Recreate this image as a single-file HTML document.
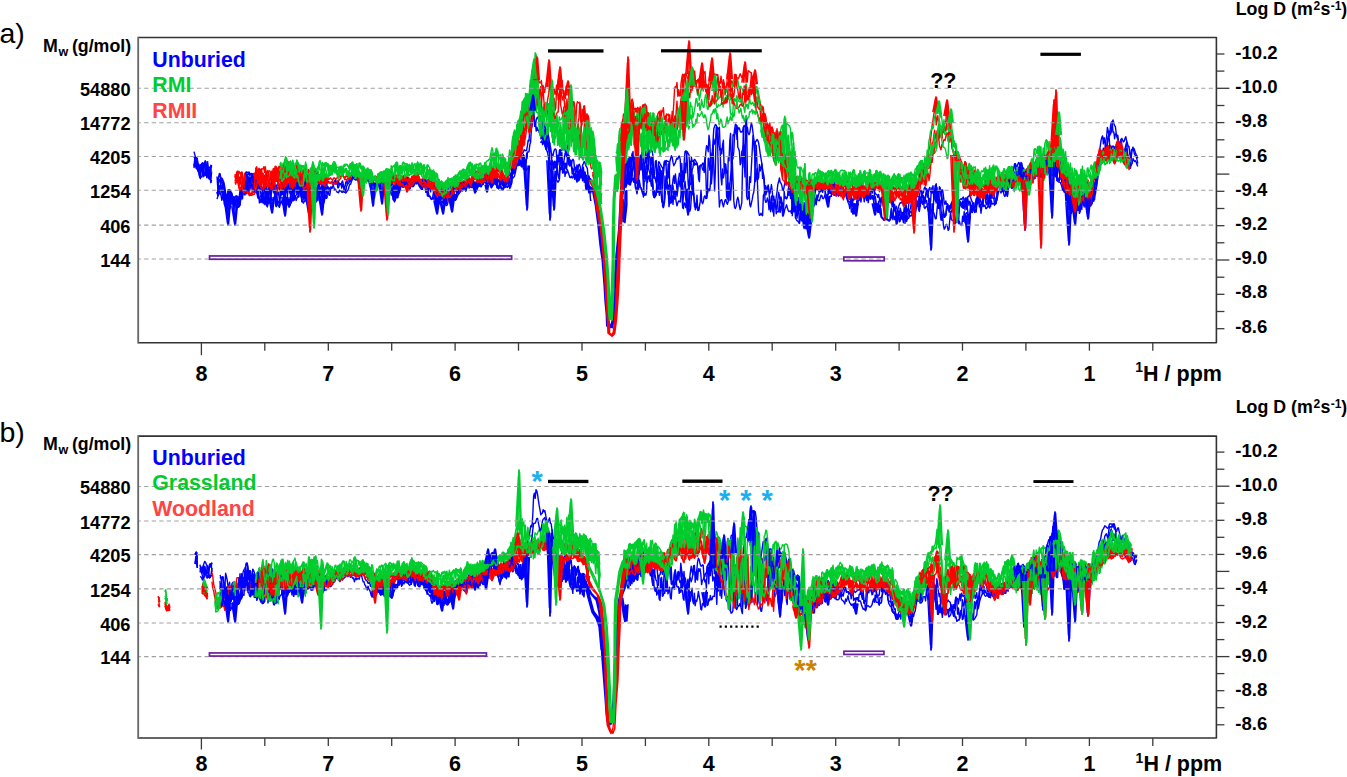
<!DOCTYPE html><html><head><meta charset="utf-8"><style>html,body{margin:0;padding:0;background:#fff;overflow:hidden}svg{display:block}</style></head><body>
<svg width="1347" height="777" viewBox="0 0 1347 777">
<rect width="1347" height="777" fill="#fff"/>
<path d="M194 151.6l0.8 3.1 0.8 3.2 0.8 7.1 0.8-6.6 0.8 7.1 0.8 0.8 0.8-0.1 0.8-1.6 0.8 3.4 0.8-4.6 0.8-0.7 0.8 1.5 0.8-0.5 0.8-3.1 0.8 9 0.8-0.5 0.8-7.4 0.8 6.7 0.8-1.3 0.8 1.1 0.8 1.9 0.8-5.1M217 176.5l0.8 11.6 0.8-10.3 0.8-4.3 0.8 0.5 0.8 9.4 0.8-5.1 0.8 1 0.8 2.2 0.8 2.7 0.8 4.1 0.8 5.9 0.8 0 0.8 7.3 0.8-7.8 0.8-4.1 0.8 4.1 0.8-3.1 0.8 4.1 0.8 2.3 0.8 4.4 0.8-5 0.8 7.9 0.8-7.8 0.8-0.8 0.8 0.6 0.8 0.6 0.8 4.8 0.8-6.3 0.8-6.6 0.8 4.5 0.8-5.8 0.8 3.3 0.8-11.8 0.8 7.2 0.8-2.1 0.8-11.6 0.8-0.6 0.8 0.6 0.8 0 0.8-0.3 0.8 3.5 0.8-1.8 0.8 0.2 0.8 0.8 0.8-1.4 0.8 0.6 0.8 10.8 0.8-6.9 0.8-0.3 0.8 0.6 0.8 5.9 0.8-1.8 0.8 1.7 0.8 7 0.8 3.5 0.8 1.2 0.8-3.1 0.8-3.6 0.8-2.5 0.8 5 0.8 0.4 0.8-2.7 0.8 10.7 0.8-12.4 0.8 4.8 0.8-4.1 0.8 1.7 0.8-2.6 0.8-8.5 0.8 4.5 0.8-6.2 0.8 4.4 0.8 10.6 0.8-5.8 0.8-1.7 0.8-0.5 0.8 3.3 0.8 0.6 0.8-2.9 0.8-2.8 0.8 7.5 0.8-5.5 0.8 2.1 0.8-5.4 0.8-0.7 0.8 12.2 0.8-13 0.8 14.7 0.8-10 0.8 1.3 0.8 4.2 0.8-3 0.8-1.6 0.8-0.9 0.8 5.5 0.8-11.5 0.8-0.9 0.8 2.4 0.8-2.9 0.8-0.4 0.8-2.1 0.8 5.9 0.8-8.4 0.8 0.8 0.8 8.5 0.8-2 0.8 5.7 0.8-1.6 0.8-4.5 0.8-0.2 0.8 9 0.8-3.2 0.8 5.5 0.8 8.3 0.8-7.1 0.8-3.7 0.8 3.9 0.8-7.9 0.8 1 0.8-1.4 0.8 6.3 0.8 8.7 0.8-3.7 0.8-6.4 0.8 11.5 0.8-13.3 0.8-4 0.8 4.9 0.8-5.2 0.8-0.3 0.8 4.9 0.8-0.2 0.8 7.3 0.8-12.5 0.8 8.2 0.8-3.6 0.8-4.6 0.8 0.1 0.8 0.2 0.8 1 0.8 0.5 0.8 0.3 0.8-1.2 0.8 0.1 0.8-0.1 0.8 2.8 0.8-2.6 0.8-1.9 0.8 3.8 0.8-2.2 0.8 3.2 0.8-3.5 0.8 3 0.8-0.7 0.8 0.4 0.8-1.8 0.8-1.5 0.8 4 0.8 4 0.8-2.3 0.8-4.5 0.8-1 0.8 3.5 0.8-4.3 0.8-1.5 0.8-0.1 0.8 2.3 0.8-1.9 0.8-1 0.8-0.8 0.8-0.5 0.8 1 0.8-0.4 0.8 0.6 0.8-0.6 0.8-0.7 0.8 2 0.8-1.4 0.8-1.5 0.8 1 0.8-0.3 0.8 0.5 0.8 1.3 0.8-1.6 0.8-2 0.8 1.5 0.8 1.2 0.8-0.9 0.8 2.2 0.8 1.5 0.8 1.5 0.8 2 0.8-3 0.8-0.2 0.8 1.7 0.8-2.5 0.8-0.9 0.8 1.8 0.8 0.3 0.8-0.5 0.8-0.1 0.8 0.8 0.8 1.9 0.8-2 0.8-1.5 0.8 0.6 0.8-1.2 0.8-0.2 0.8 3.7 0.8-2.2 0.8 0.9 0.8-0.6 0.8 0.7 0.8-0.5 0.8 1.7 0.8-1.7 0.8 0 0.8 4.6 0.8-3.2 0.8 2 0.8 7.6 0.8-7 0.8-0.4 0.8 9.2 0.8-14.7 0.8 1.2 0.8 12 0.8-10.7 0.8-0.3 0.8 3 0.8-5.9 0.8 5.1 0.8-2.2 0.8-0.4 0.8-2.3 0.8 0 0.8 0.1 0.8 0.3 0.8-0.6 0.8 2.3 0.8 1.1 0.8-0.2 0.8-0.3 0.8-1.2 0.8-0.7 0.8 0.4 0.8-0.2 0.8-1.2 0.8-0.5 0.8 0 0.8 2.7 0.8-1.7 0.8 1.8 0.8 2.9 0.8 2.1 0.8-2.2 0.8-3.1 0.8-1.8 0.8-0.1 0.8 0.8 0.8 4.1 0.8 2.5 0.8-2.9 0.8 5.9 0.8-2.2 0.8 0.4 0.8-2.9 0.8 0.4 0.8-0.6 0.8 2.5 0.8-1.9 0.8 5.6 0.8 1.6 0.8 1.9 0.8-4.7 0.8 6.8 0.8-8.9 0.8 5 0.8-3.4 0.8 6.6 0.8-3.3 0.8-5.8 0.8 6.2 0.8 2.5 0.8-4.3 0.8 3.4 0.8-2.2 0.8 2.6 0.8 1.5 0.8-4 0.8-5.8 0.8 5.9 0.8 2 0.8-7.7 0.8-0.6 0.8 2.5 0.8-1.9 0.8 0.6 0.8 3.2 0.8 1.7 0.8-6 0.8-0.3 0.8 0.6 0.8-1.3 0.8-1.1 0.8-1.3 0.8 2.3 0.8-2.5 0.8 0.1 0.8-0.8 0.8 0.4 0.8 1 0.8-4.7 0.8 5.8 0.8-1.7 0.8 2.5 0.8-2.4 0.8-1.4 0.8-0.3 0.8 2.5 0.8-1.5 0.8 1.8 0.8 0.5 0.8-2 0.8 1.3 0.8-4.7 0.8 4 0.8-6.4 0.8 6.1 0.8-2.1 0.8-3.8 0.8 1.1 0.8-2.8 0.8-1.3 0.8 4.1 0.8 1.7 0.8-3.7 0.8 9 0.8-11.3 0.8 0.4 0.8 3.7 0.8 1.6 0.8-0.1 0.8-1.7 0.8-0.6 0.8 4.3 0.8 0.1 0.8-4.5 0.8-0.4 0.8 4.2 0.8-0.3 0.8 0.9 0.8 1.4 0.8-3.8 0.8 3.2 0.8 0.8 0.8-2.7 0.8-1.3 0.8 0.1 0.8-1.1 0.8 4.3 0.8-2.8 0.8-2.9 0.8 1.9 0.8-1.8 0.8-0.3 0.8-0.9 0.8-2.1 0.8 4 0.8-14.7 0.8-0.6 0.8 8.5 0.8-12.1 0.8 3.1 0.8-7.6 0.8 0.1 0.8-1.9 0.8 4.7 0.8-4.1 0.8 0.4 0.8 0.9 0.8 0.5 0.8-1.8 0.8-1.9 0.8 0.8 0.8-0.1 0.8-0.1 0.8-4.5 0.8-5.8 0.8 1 0.8-11.9 0.8-3.4 0.8-10 0.8 2.1 0.8-1.4 0.8-4.2 0.8 9.9 0.8 3.7 0.8-5.8 0.8-2.3 0.8-0.8 0.8 2.7 0.8 6 0.8-2.2 0.8-7.9 0.8 3.7 0.8 6.1 0.8 8 0.8-1.6 0.8 13.5 0.8 0.2 0.8 3.7 0.8-7.6 0.8 3.7 0.8 6.7 0.8-9.4 0.8 7.7 0.8 2.3 0.8 4.4 0.8-1.5 0.8-3.8 0.8-2.4 0.8-0.3 0.8 1.2 0.8 10.4 0.8 4.1 0.8-8.1 0.8 5.2 0.8-12.2 0.8 1.1 0.8-0.5 0.8-0.5 0.8-1.5 0.8-1.9 0.8 3.4 0.8 4.5 0.8-2 0.8-0.4 0.8 13.1 0.8-9.5 0.8 10.5 0.8-1.6 0.8 1.1 0.8 2.6 0.8 2.8 0.8 0.8 0.8-3.9 0.8 0.2 0.8 2.8 0.8 2 0.8-3.3 0.8-4.4 0.8-0.8 0.8 2.5 0.8 4.9 0.8 1.5 0.8-8 0.8-1.5 0.8-2.1 0.8 1.3 0.8 2.8 0.8 1.2 0.8 1.9 0.8 9.7 0.8-2.4 0.8 3.5 0.8-0.7 0.8 3.2M621 172.6l0.8-13.1 0.8 1.5 0.8-1.3 0.8 3.8 0.8-1 0.8 2.1 0.8-2.9 0.8 10.5 0.8 3.3 0.8-17.4 0.8-0.4 0.8-0.3 0.8 9.4 0.8-9.6 0.8-5.7 0.8 17.5 0.8 3.8 0.8-10.3 0.8-0.4 0.8 5 0.8 0.8 0.8 5.6 0.8-1.3 0.8-14.2 0.8 12 0.8-17.4 0.8 18.9 0.8 15.4 0.8-21.1 0.8-3.6 0.8-11 0.8 18.2 0.8-13 0.8-11.6 0.8 10.6 0.8 2.4 0.8 14.3 0.8-15 0.8 0.1 0.8 18.7 0.8 0.7 0.8-2.4 0.8-12.9 0.8-0.8 0.8 18 0.8-5.2 0.8-11.5 0.8 0.4 0.8 1.9 0.8 1.3 0.8 1.5 0.8 0.8 0.8 6.3 0.8-12.4 0.8-0.6 0.8 0 0.8 14.7 0.8 3.2 0.8-14.9 0.8 13.9 0.8-16.1 0.8-3 0.8-3 0.8 1.4 0.8 5.2 0.8 3.3 0.8-1.5 0.8-1.6 0.8-2.8 0.8-1.7 0.8 1.1 0.8-2.7 0.8-0.4 0.8 3.3 0.8 17.2 0.8 14.1 0.8-19.7 0.8 10.6 0.8-20.5 0.8-9.6 0.8-0.6 0.8 3.4 0.8-2.5 0.8 1.9 0.8 1.1 0.8 15.7 0.8 5.4 0.8-18.5 0.8 4 0.8 0.1 0.8-1.1 0.8-1 0.8 0.8 0.8 1.7 0.8 1.5 0.8 3 0.8 7.4 0.8-6.5 0.8-1.9 0.8-0.2 0.8 0.3 0.8-2.3 0.8-0.1 0.8 9.4 0.8-7.9 0.8-12.4 0.8-6.5 0.8 1.2 0.8 4.8 0.8-16.4 0.8 5.9 0.8 20.3 0.8 22.4 0.8-9.9 0.8-32.5 0.8-12.7 0.8-2.2 0.8-2.2 0.8 0.9 0.8 1.9 0.8 0.9 0.8 16.1 0.8 3.3 0.8 4.2 0.8 25.5 0.8 7.7 0.8-15.9 0.8 8.9 0.8-4.5 0.8-1.4 0.8-7.8 0.8 9.1 0.8-2.3 0.8 25.3 0.8 4.5 0.8-14.6 0.8-10.4 0.8-6.5 0.8-9.8 0.8-0.8 0.8-7.3 0.8-16.1 0.8-2.7 0.8-7.4 0.8 14.2 0.8-12.3 0.8 1.8 0.8-0.9 0.8 3.3 0.8 1 0.8-0.8 0.8 0.2 0.8-4.6 0.8-1.7 0.8 1.4 0.8 11.3 0.8-6.7 0.8-4.1 0.8 5.9 0.8 1.5 0.8-1.9 0.8-5.6 0.8-4.5 0.8 3.7 0.8 6.3 0.8 6.7 0.8 13 0.8-11 0.8-0.3 0.8-1.6 0.8 1 0.8 2.3 0.8 4.8 0.8 6.1 0.8 4.6 0.8 5.2 0.8 5.5 0.8 4.9 0.8 4.9 0.8 14.2 0.8-7.2 0.8 6.8 0.8-5.1 0.8-2.6 0.8 5.3 0.8 3.6 0.8-3.2 0.8-6.1 0.8 5.7 0.8 10 0.8-3.9 0.8 8.6 0.8 1.4 0.8-9.3 0.8-5 0.8-7.6 0.8-2.6 0.8-3.9 0.8 4.5 0.8 0.8 0.8 2 0.8 5 0.8 0.5 0.8-4.3 0.8-4.5 0.8-1.3 0.8 3.1 0.8-0.3 0.8-0.6 0.8 9.4 0.8-1.2 0.8 7.6 0.8-9.7 0.8 16 0.8-15.6 0.8 13.6 0.8-13.4 0.8 2.5 0.8 3.6 0.8 4 0.8-1.2 0.8 7.2 0.8 1.6 0.8 3.3 0.8-5.7 0.8 0.1 0.8-2.9 0.8 6.7 0.8 1 0.8-7.5 0.8 4.7 0.8-3.6 0.8 2.6 0.8 0.4 0.8 3.9 0.8 2.2 0.8-10.5 0.8 2.4 0.8-4.5 0.8-4.3 0.8-1.9 0.8-2.3 0.8-2.7 0.8-1.6 0.8 2.1 0.8 0.7 0.8-0.6 0.8-0.2 0.8 0.9 0.8-2.1 0.8-1.2 0.8-3.2 0.8-1.2 0.8 0.1 0.8 1.6 0.8 1.3 0.8-1.7 0.8 1.3 0.8 1.9 0.8 0.4 0.8 0.8 0.8-5 0.8 6.4 0.8-6 0.8 3.1 0.8-0.1 0.8-4.1 0.8 4.1 0.8 0.8 0.8 1.2 0.8-0.1 0.8-0.1 0.8-0.2 0.8-1.1 0.8 5.2 0.8-4.2 0.8 4.2 0.8 0.8 0.8 2.1 0.8-3.3 0.8-1 0.8-0.4 0.8 4.1 0.8 3.1 0.8-2.6 0.8-1.7 0.8-1.5 0.8 7 0.8 9.3 0.8 6 0.8-0.3 0.8-3.8 0.8 4.5 0.8-2.2 0.8-8.7 0.8-4.3 0.8 1.8 0.8-0.8 0.8-4.7 0.8 3.1 0.8-3.5 0.8-4.2 0.8 4.7 0.8-1.4 0.8-6.4 0.8 5.3 0.8-6.1 0.8-2.5 0.8-0.8 0.8-0.3 0.8-0.7 0.8 2.4 0.8 5.4 0.8 2.8 0.8-6.8 0.8 1.6 0.8 3.8 0.8 1.8 0.8 0.8 0.8 0.2 0.8 2.7 0.8-2.9 0.8 4.6 0.8 3.7 0.8-4.9 0.8-0.5 0.8 1.7 0.8 7.7 0.8-2.3 0.8 3.2 0.8-3.7 0.8-4.5 0.8 2.8 0.8-1.6 0.8-7.8 0.8 2 0.8 6.2 0.8 2.8 0.8-0.9 0.8-1.4 0.8 2.8 0.8 0.4 0.8 5.6 0.8 1.8 0.8 6.4 0.8-8.7 0.8-3.2 0.8-2.4 0.8-1.4 0.8 0.4 0.8-1.2 0.8-0.1 0.8 4.1 0.8-7.4 0.8-0.7 0.8 4.3 0.8 8.3 0.8 0.9 0.8-2.1 0.8-7.6 0.8-3 0.8 0.1 0.8-1.8 0.8-0.2 0.8 1.5 0.8 0.9 0.8 0.5 0.8-0.4 0.8 1 0.8 6.1 0.8-1.3 0.8 4.6 0.8 1.7 0.8-7.5 0.8-1.1 0.8-11.9 0.8 2.4 0.8-0.5 0.8-4.5 0.8-1.4 0.8 3.1 0.8-1.3 0.8 2.1 0.8 2.4 0.8-4.2 0.8-1.6 0.8 4 0.8 1.6 0.8-0.6 0.8-6.6 0.8 14.1 0.8-7.4 0.8-6.9 0.8-1.9 0.8 9.3 0.8 1.7 0.8 3.3 0.8-11.4 0.8 1.3 0.8 8.7 0.8-6.7 0.8 0 0.8 5.8 0.8 6.9 0.8 1.8 0.8-3.5 0.8 3.4 0.8-0.6 0.8 1.6 0.8 0.6 0.8 3 0.8-3.3 0.8-2.3 0.8-2 0.8-1.4 0.8-1.9 0.8 3.5 0.8 2 0.8 3.5 0.8-1.9 0.8-7.5 0.8 7 0.8-4.2 0.8-1.1 0.8-0.6 0.8 0.9 0.8-1.7 0.8-0.8 0.8 4.1 0.8 8.8 0.8-11.5 0.8 8.6 0.8-9.9 0.8 3.7 0.8 4.6 0.8-4.2 0.8 2.6 0.8 3.8 0.8 3.6 0.8-3.1 0.8 1.8 0.8-1 0.8 2.7 0.8-3.2 0.8-8.1 0.8-4.8 0.8 4.6 0.8 2.8 0.8-3.5 0.8 1.7 0.8 2.8 0.8 0.4 0.8-14.9 0.8 7.1 0.8-3.8 0.8 5.1 0.8 2 0.8-9.2 0.8 7.1 0.8 4 0.8-4.1 0.8-0.5 0.8-4.7 0.8-5.4 0.8 0.5 0.8 0.2 0.8 0.1 0.8 0.2 0.8-1.4 0.8-4.1 0.8-1.7 0.8-2 0.8 0.3 0.8 3 0.8-1 0.8 2.1 0.8-3.7 0.8 1.5 0.8 5.2 0.8 1.2 0.8-2.7 0.8 3.5 0.8-0.6 0.8-5.8 0.8-4.4 0.8 1.5 0.8 2.1 0.8 0 0.8 0 0.8-7.1 0.8-6 0.8-1.3 0.8-2.9 0.8 2.7 0.8 0.3 0.8-2.5 0.8-1.7 0.8 0.5 0.8 10.6 0.8-2.1 0.8 0.6 0.8 0.5 0.8-4.8 0.8 1.8 0.8 10.4 0.8-2 0.8-8.7 0.8 1.7 0.8-1.5 0.8-0.3 0.8-3.5 0.8 0.6 0.8 3.2 0.8 2.7 0.8 2.2 0.8-6.8 0.8-2.8 0.8 4.4 0.8-5.7 0.8 3.5 0.8-3.7 0.8-1.7 0.8 4.7 0.8-6.5 0.8 0.3 0.8 1.4 0.8 6.7 0.8-11.1 0.8-2.9 0.8 7.4 0.8-0.5 0.8-6.8 0.8 0.6 0.8 6.2 0.8-9.5 0.8-0.4 0.8 2.4 0.8 0.1 0.8 8.7 0.8-1 0.8-18.1 0.8 13.6 0.8-8.3 0.8 12.4 0.8 8 0.8-12.3 0.8 2 0.8-4.3 0.8 1.6 0.8 9.2 0.8 0.2 0.8 3 0.8 1.5 0.8 4.6 0.8-3.7 0.8 1.9 0.8 4.1 0.8 2.7 0.8 1.1 0.8 0.5 0.8 1.5 0.8 8 0.8-6 0.8-2.2 0.8 17.6 0.8-17.1 0.8 1.5 0.8-0.8 0.8 1.8 0.8 7.7 0.8-13.4 0.8 2.1 0.8 2.1 0.8 16.4 0.8-12.1 0.8 8.9 0.8-7.4 0.8 6.8 0.8 8.4 0.8-17.8 0.8 4.1 0.8 5.3 0.8 10.8 0.8-1 0.8-4.6 0.8-12.7 0.8-1.4 0.8 6.7 0.8-6.4 0.8-2 0.8 9.5 0.8-12.7 0.8 1.6 0.8-12.6 0.8 1.8 0.8-11.2 0.8-2.6 0.8-7.2 0.8-6.1 0.8-5.7 0.8-3.5 0.8-1.4 0.8 8 0.8-6.1 0.8 4.9 0.8 5 0.8 0.4 0.8-7.5 0.8-4.2 0.8-0.2 0.8-0.8 0.8-10.1 0.8-3.2 0.8-0.3 0.8-1.8 0.8 3.2 0.8 2.6 0.8 0.7 0.8 7.2 0.8 1.8 0.8 5.2 0.8 1.9 0.8 0.8 0.8-1.3 0.8-2.7 0.8-1 0.8 1.6 0.8 1.9 0.8-0.6 0.8-2.9 0.8-1.7 0.8 4.1 0.8 2.2 0.8 3.7 0.8-0.3 0.8 8.2 0.8 2.7 0.8-7.6 0.8 0.2 0.8-0.7 0.8-1 0.8 1.9 0.8 2.7 0.8 1.8 0.8 1.3 0.8 2.3" fill="none" stroke="#0000ff" stroke-width="1.4" stroke-linejoin="round"/>
<path d="M235 174.1l0.8 5.9 0.8-7.7 0.8-1.3 0.8 5.5 0.8-5.2 0.8 1.4 0.8 1.5 0.8-1.9 0.8-0.2 0.8 11.1 0.8 1.2 0.8-10.4 0.8-1.3 0.8 6.9 0.8-4.2 0.8 2.5 0.8 9.4 0.8 0.2 0.8-6.4 0.8 3.9 0.8-6.8 0.8 2.3 0.8-4.7 0.8-2.6 0.8 9.8 0.8-13.9 0.8-1.9 0.8 8.7 0.8-4.9 0.8-2.3 0.8 0.2 0.8 3.4 0.8-3.2 0.8-0.1 0.8 0 0.8-2.4 0.8 5.7 0.8-5.6 0.8 8 0.8 3.9 0.8-2.9 0.8-4.3 0.8-0.6 0.8 0.8 0.8 10.6 0.8-11.1 0.8 9.8 0.8-12.3 0.8 11.4 0.8-13.6 0.8 9.5 0.8 5.5 0.8-9.4 0.8-3.3 0.8 4.3 0.8 8.1 0.8-11.4 0.8 6.1 0.8-9.8 0.8 6.8 0.8-7.5 0.8 5.8 0.8-4.4 0.8 1.5 0.8-3 0.8-1.4 0.8-1.5 0.8 9 0.8-3 0.8 10.6 0.8-11.2 0.8 0.2 0.8 6.5 0.8 2.6 0.8-2 0.8-3.5 0.8-4.5 0.8-3.3 0.8 1 0.8 11.2 0.8-7 0.8 4.9 0.8 2.2 0.8 2 0.8-0.6 0.8-0.8 0.8 2.1 0.8-3.9 0.8-0.6 0.8 4.7 0.8-1.3 0.8-8.1 0.8 2.1 0.8 0.5 0.8-1.3 0.8-0.6 0.8 1.4 0.8 0.2 0.8 2.5 0.8-5.1 0.8 0.1 0.8 1.5 0.8 2 0.8 4.2 0.8-0.9 0.8 1.7 0.8-2.9 0.8-0.6 0.8-0.3 0.8 0.5 0.8-0.9 0.8 0.3 0.8 3.4 0.8 5.1 0.8-4.8 0.8-0.7 0.8 2.6 0.8-0.3 0.8-1.4 0.8 0.8 0.8 0.8 0.8 1.3 0.8-2.5 0.8-0.4 0.8 0.5 0.8 0.5 0.8 0.3 0.8-2.5 0.8 1.2 0.8-1.5 0.8 0.8 0.8-0.8 0.8-0.8 0.8-2.9 0.8 1.8 0.8 2.7 0.8-0.2 0.8 0.9 0.8-2.4 0.8 1.3 0.8 0.3 0.8-1.3 0.8 2.4 0.8-0.9 0.8-1.6 0.8-2.7 0.8-1.9 0.8-0.1 0.8 0.4 0.8 0.1 0.8 2.5 0.8 0.8 0.8-0.2 0.8 1.5 0.8 0.8 0.8-1.9 0.8 1.2 0.8 1.9 0.8-0.7 0.8-0.3 0.8-2.7 0.8-3.8 0.8-0.4 0.8 4.4 0.8 1.8 0.8-0.5 0.8-1 0.8-1.9 0.8 1 0.8 1.4 0.8 3.8 0.8-0.9 0.8-0.5 0.8-0.2 0.8-0.1 0.8-0.2 0.8-0.5 0.8 0 0.8-0.2 0.8 0.4 0.8 1.3 0.8 2.3 0.8-3.1 0.8-2.6 0.8 2.4 0.8 2.8 0.8 1.3 0.8-0.9 0.8-1.4 0.8-0.4 0.8 0.3 0.8-4.7 0.8-0.7 0.8 2.3 0.8-4.2 0.8 0.2 0.8 1.2 0.8 0.9 0.8 2 0.8 0.4 0.8-1.3 0.8 0.3 0.8 4.9 0.8-5.2 0.8 6 0.8-1.6 0.8-0.3 0.8-0.6 0.8-1.3 0.8 5.5 0.8-6.1 0.8 0 0.8-1.3 0.8 4.6 0.8-2.6 0.8-0.1 0.8 0.8 0.8 1 0.8-0.7 0.8 4.9 0.8-5.2 0.8 3.5 0.8-6.1 0.8-0.5 0.8 2.3 0.8-0.8 0.8-1.7 0.8-0.5 0.8-1.1 0.8 6.1 0.8 1.1 0.8-1.1 0.8 0 0.8 0.4 0.8-0.9 0.8-1.1 0.8 0.4 0.8 1.7 0.8 2 0.8-0.3 0.8-1.7 0.8-0.7 0.8 3.4 0.8-4.6 0.8 2.5 0.8-2 0.8 1.4 0.8 1.4 0.8 0.2 0.8 3.4 0.8-1.5 0.8 2 0.8 2.2 0.8 3.9 0.8-0.7 0.8-5.9 0.8 4.7 0.8-3 0.8 2.1 0.8 0.4 0.8 1.8 0.8-3.8 0.8 5.9 0.8-6.1 0.8 6.9 0.8 2.1 0.8 1.1 0.8 1.2 0.8-4.2 0.8-7.4 0.8 0.9 0.8 1.2 0.8-3.9 0.8 2.4 0.8-1.3 0.8-2.3 0.8-1.9 0.8-1.3 0.8 4.1 0.8-1.6 0.8 1.4 0.8-4.8 0.8 3 0.8 4.5 0.8-1.9 0.8 1.5 0.8 0 0.8-3.8 0.8-2.8 0.8 2.4 0.8-0.8 0.8-2.6 0.8-0.9 0.8 2.6 0.8-1.2 0.8-2.3 0.8-2.7 0.8 0.9 0.8-0.9 0.8-0.2 0.8-1.9 0.8-0.6 0.8-0.7 0.8 1.1 0.8-0.4 0.8 0.1 0.8 1.5 0.8-0.5 0.8 3 0.8 2.1 0.8-4 0.8-0.9 0.8-2.4 0.8-0.1 0.8 0 0.8 6.5 0.8 1 0.8-3.9 0.8-5.8 0.8-0.4 0.8-0.9 0.8 2.5 0.8-0.2 0.8-0.2 0.8 0.8 0.8 3.1 0.8-6.6 0.8 3.1 0.8-2.5 0.8 5.1 0.8-1.4 0.8 0.2 0.8 6.2 0.8-3.5 0.8 2 0.8 0.6 0.8 3.4 0.8-1.2 0.8 0.4 0.8-2.4 0.8-0.9 0.8-3.1 0.8-6.1 0.8 1.2 0.8-13.9 0.8-3.5 0.8 5.4 0.8 5.3 0.8-4.8 0.8-0.8 0.8-16.9 0.8-9.5 0.8 2.5 0.8 12.8 0.8-9.5 0.8-7.1 0.8-4.8 0.8-4.5 0.8-5.3 0.8 17 0.8-20.7 0.8-4.4 0.8-5.2 0.8 7.8 0.8-13.3 0.8 2.3 0.8 8.6 0.8-9.2 0.8-7.5 0.8 2 0.8-12.1 0.8 7.3 0.8-5.8 0.8-12.2 0.8 6.1 0.8 9.4 0.8-8.3 0.8 11.8 0.8-6.8 0.8 1.4 0.8 2 0.8-0.2 0.8-2.3 0.8 9.2 0.8-4.3 0.8 2 0.8 4.9 0.8-4.4 0.8-3.6 0.8-3 0.8-3.6 0.8-1.9 0.8 2.5 0.8 4.5 0.8 3 0.8 0.5 0.8 0.8 0.8 2.6 0.8-0.4 0.8 5.2 0.8-2 0.8-7.3 0.8 4.2 0.8 10.5 0.8-5.1 0.8-2.4 0.8-7.2 0.8 9.7 0.8 3.4 0.8 1.8 0.8-9.7 0.8 6.5 0.8 1.6 0.8-12.6 0.8 0.5 0.8 0.9 0.8 5.8 0.8 9 0.8-15.8 0.8 7 0.8 9.4 0.8 7.9 0.8-9 0.8 0.5 0.8 10.2 0.8 11.1 0.8-18.3 0.8-3.5 0.8 1.1 0.8 0.3 0.8 1.3 0.8 16.6 0.8 2 0.8-13.8 0.8 6.2 0.8 0.5 0.8-5 0.8 13.4 0.8-5.4 0.8 5 0.8-8.8 0.8 2 0.8 11.8 0.8 7.3 0.8 4.6 0.8-2.9 0.8 5.1 0.8 7.3 0.8 14.2 0.8 14.6M621 144l0.8-8.9 0.8-10.3 0.8-10.6 0.8 0 0.8-2.2 0.8 0 0.8 0.9 0.8-7.5 0.8 11.7 0.8-7.3 0.8-6.4 0.8 14.2 0.8-17.2 0.8-1.3 0.8 3.6 0.8 5.6 0.8 1 0.8-0.9 0.8 0.3 0.8 0.2 0.8-1.6 0.8 2.2 0.8 6.7 0.8-9.4 0.8 11.7 0.8 3.4 0.8-3.1 0.8-13.9 0.8 1.8 0.8-2.7 0.8 1.1 0.8 1.7 0.8 12 0.8-6.2 0.8 2.1 0.8 9.6 0.8-6 0.8 0.7 0.8 3.8 0.8-4.4 0.8 8.3 0.8-5.8 0.8 3.3 0.8 9.8 0.8-16.3 0.8-3.6 0.8-1.7 0.8-1.1 0.8 9.9 0.8-11 0.8 10.5 0.8 11.1 0.8-7 0.8 0.4 0.8 0.6 0.8-5.5 0.8-6.3 0.8 1 0.8-0.9 0.8 2.7 0.8 6 0.8-0.6 0.8-0.1 0.8-7.2 0.8 1.1 0.8-13 0.8-14.6 0.8-1.8 0.8 1.2 0.8-5.4 0.8 13.9 0.8-6.7 0.8 6 0.8 0.5 0.8-12.7 0.8-5.2 0.8-4.1 0.8 3 0.8-3 0.8 2.1 0.8-3.1 0.8 2.2 0.8 3.3 0.8 0.7 0.8-8.1 0.8 10.2 0.8-9 0.8-5 0.8 13.7 0.8-12.2 0.8 7.7 0.8-5.7 0.8 10.9 0.8 2.9 0.8-2.1 0.8-2.6 0.8-0.7 0.8 3.3 0.8-2.4 0.8 4.2 0.8 5.6 0.8-13.3 0.8-3.5 0.8 0.4 0.8-2.2 0.8 11.8 0.8 2.3 0.8 1.2 0.8-0.7 0.8-2.8 0.8-8.9 0.8 1 0.8 0 0.8-1.6 0.8 14.1 0.8-1.7 0.8 16.7 0.8-2.2 0.8 1 0.8-1.3 0.8-3.2 0.8-8.2 0.8-6.6 0.8 1.1 0.8-7.1 0.8 5.8 0.8 5.4 0.8-7.8 0.8 3.6 0.8 11.5 0.8-4.2 0.8-0.9 0.8-16 0.8-0.3 0.8-2.4 0.8-2.4 0.8 20.9 0.8-8.6 0.8 0.2 0.8 3.5 0.8 1.7 0.8-11.8 0.8 7.8 0.8 3.9 0.8-3.8 0.8-4.8 0.8 1 0.8-2.8 0.8-2 0.8 1.8 0.8 1.9 0.8-0.5 0.8 0.2 0.8-5.1 0.8 4.2 0.8-3.6 0.8-0.2 0.8 8.3 0.8-10 0.8 0.3 0.8 0.8 0.8 0.6 0.8 0.1 0.8 10.1 0.8-6.1 0.8 18.9 0.8 6 0.8-9.2 0.8-5.4 0.8 1.7 0.8 3.4 0.8 8.7 0.8-1.2 0.8 4.5 0.8 1.4 0.8 4.5 0.8-3.6 0.8 2.2 0.8 10.7 0.8-5.5 0.8 3 0.8 12 0.8-5.7 0.8 2.7 0.8 2.4 0.8-5.2 0.8 8.1 0.8 1.6 0.8-5.4 0.8 2.6 0.8 11.6 0.8-8.8 0.8 16.5 0.8-18.2 0.8 18.7 0.8-18 0.8 15.3 0.8 1.4 0.8-15.7 0.8 1.6 0.8 26.6 0.8-15.2 0.8 6.6 0.8-1.4 0.8 20 0.8-11.5 0.8-7.9 0.8 0 0.8 0.9 0.8 1 0.8 18 0.8-19 0.8 2.4 0.8 5.2 0.8 5.3 0.8 6.9 0.8 5.8 0.8 3.8 0.8-5.3 0.8 8.9 0.8-4.8 0.8 6.4 0.8-0.3 0.8-3.8 0.8-6.3 0.8 6.9 0.8-1.1 0.8 0.9 0.8-3.8 0.8 5.5 0.8-4.6 0.8 0 0.8 0.3 0.8 0 0.8 5.6 0.8-6.7 0.8 0.4 0.8 0.3 0.8 6.8 0.8-4.2 0.8 0.1 0.8-1.3 0.8 0 0.8 2.3 0.8-1 0.8-0.6 0.8 4.1 0.8-0.3 0.8-5.7 0.8 0.9 0.8 5.2 0.8-6.5 0.8 3.4 0.8-2.8 0.8 6 0.8-0.5 0.8-3.3 0.8 1.7 0.8 2.1 0.8-3.5 0.8-2.1 0.8 2.4 0.8-0.8 0.8 1.4 0.8 1.9 0.8 2.7 0.8-4.7 0.8 3.7 0.8-0.1 0.8-3.8 0.8 1.9 0.8-3.9 0.8 0.9 0.8 0.1 0.8 7.9 0.8-5.8 0.8 6.1 0.8-3 0.8-1.8 0.8 0.1 0.8-4 0.8 0.6 0.8-2.6 0.8 2.8 0.8 6.1 0.8-3.1 0.8-2.7 0.8-0.4 0.8 0 0.8 3.8 0.8 7.7 0.8-8.5 0.8 1.9 0.8 2.8 0.8-4.5 0.8-0.2 0.8 0.1 0.8 0.9 0.8-1.1 0.8 1.1 0.8-4 0.8 10.7 0.8-8.2 0.8 0.7 0.8 6.1 0.8-3.2 0.8-3.1 0.8-2 0.8 7.1 0.8-4.5 0.8 1 0.8-4.3 0.8 1.9 0.8-0.7 0.8 0.1 0.8-2.6 0.8 0.9 0.8 0.6 0.8 1 0.8-3.4 0.8 3.5 0.8 0.9 0.8-1.6 0.8 0 0.8-0.7 0.8-1.3 0.8-0.2 0.8 0.2 0.8 0.1 0.8 0.3 0.8 0.4 0.8 1 0.8 0.6 0.8 3.7 0.8 0.5 0.8 3.6 0.8 5.4 0.8-4.2 0.8-7.1 0.8 3.2 0.8-1.8 0.8 2.7 0.8-2.2 0.8 0.2 0.8-2 0.8 0 0.8 2.5 0.8-1.6 0.8 0.1 0.8 3.8 0.8-1 0.8 2.3 0.8 0.8 0.8-3.2 0.8-3.6 0.8 7.2 0.8-7.9 0.8 0.3 0.8-1 0.8-0.5 0.8 11.1 0.8-12.5 0.8 3.9 0.8 2.5 0.8-0.1 0.8-4.8 0.8 0.7 0.8-1 0.8-2.4 0.8 4.4 0.8-4 0.8-3.5 0.8-4.5 0.8 3.2 0.8-2.9 0.8-5.9 0.8-0.2 0.8 3.4 0.8 1.2 0.8-8.6 0.8 14.2 0.8-8.5 0.8-2.8 0.8-4.6 0.8-13.3 0.8-2 0.8-7.9 0.8-7.4 0.8-7.2 0.8-4.8 0.8-5.5 0.8-4.6 0.8-1.3 0.8 16.3 0.8-6.2 0.8-3.2 0.8 7.6 0.8 14.5 0.8-8.3 0.8 5.9 0.8 2.9 0.8-5.7 0.8-5.2 0.8-3.8 0.8 0.2 0.8-2.8 0.8-7.9 0.8-5.1 0.8 8.1 0.8 4.9 0.8 1.2 0.8 7.3 0.8 7.6 0.8 8.1 0.8 1.4 0.8-0.5 0.8 0.8 0.8-1.9 0.8 3.9 0.8 4 0.8 4.2 0.8-2.7 0.8 2.1 0.8 2.1 0.8 1.9 0.8 2.1 0.8 7 0.8-1.7 0.8-2.8 0.8-3.3 0.8 0.9 0.8 3.4 0.8 2 0.8 10.2 0.8-8.5 0.8 3.3 0.8-3.2 0.8 6.1 0.8 3 0.8-7.6 0.8 7.4 0.8 6.3 0.8 0.8 0.8-4.6 0.8 7.3 0.8-0.7 0.8-5.1 0.8 1.3 0.8 6.3 0.8-3.9 0.8-2.5 0.8 3 0.8-1.7 0.8 2.9 0.8-5.9 0.8-2.2 0.8 3.7 0.8-5.3 0.8 1.5 0.8 2.2 0.8-0.3 0.8 0.3 0.8-5.7 0.8 3.2 0.8 2.8 0.8 1.3 0.8 1.5 0.8-4.2 0.8-2.3 0.8-1.2 0.8-1 0.8 3 0.8 2.1 0.8-2.8 0.8-0.3 0.8 3.9 0.8-3.3 0.8-4.1 0.8 0 0.8 2.4 0.8-1.7 0.8 3.7 0.8-2.5 0.8 2 0.8 2.1 0.8-3.5 0.8 3.7 0.8-1.1 0.8-1.1 0.8 4.8 0.8-7.2 0.8 5.8 0.8-5 0.8 2.5 0.8-0.5 0.8 0.2 0.8-0.5 0.8-6.9 0.8 4.8 0.8-4.1 0.8 1.1 0.8 4.2 0.8-3.3 0.8 2 0.8-0.2 0.8-6 0.8-1.4 0.8-0.9 0.8-1.5 0.8-0.9 0.8-1.7 0.8-1.7 0.8 0.6 0.8 1.6 0.8-0.2 0.8-0.9 0.8-0.2 0.8-0.4 0.8-4 0.8-1 0.8-0.9 0.8-1.5 0.8 0.1 0.8 2.3 0.8-2.6 0.8 1.9 0.8-2.3 0.8 0.2 0.8 0.4 0.8-0.1 0.8 0.6 0.8 8.4 0.8-10 0.8 2.5 0.8-1.9 0.8 3.6 0.8-9.1 0.8 3.9 0.8-11 0.8-1.5 0.8 0.4 0.8-1.6 0.8 13.8 0.8-0.4 0.8-0.9 0.8-8.9 0.8 4 0.8 4.7 0.8 1.8 0.8 3.3 0.8 4.3 0.8 13.7 0.8 2.9 0.8-11.5 0.8 1.4 0.8 9.5 0.8-5.8 0.8 4.2 0.8 2.1 0.8 6.9 0.8-1.8 0.8-9.3 0.8 3.1 0.8 10.3 0.8-0.8 0.8-1.2 0.8 0.4 0.8 5.7 0.8-5.2 0.8 5.8 0.8-9 0.8-0.9 0.8 4.5 0.8 0.9 0.8-3.2 0.8-2.5 0.8 4 0.8-2 0.8-0.4 0.8-0.7 0.8 8.8 0.8-4.5 0.8-6.8 0.8 1.6 0.8 0.9 0.8 9.9 0.8-6.5 0.8-5.5 0.8-5.6 0.8 3 0.8-11.9 0.8-3.6 0.8-0.5 0.8 6.1 0.8-8.1 0.8-5.5 0.8-0.9 0.8-5 0.8 1.8 0.8 6.1 0.8-6.2 0.8 6 0.8-5.9 0.8-0.1 0.8-1.6 0.8-2.2 0.8 0.5 0.8-0.2 0.8 3.4 0.8-4.8 0.8 2.4 0.8-2.3 0.8 1.4 0.8 0.3 0.8 0.6 0.8 1.3 0.8 0.4 0.8-1.5 0.8-3.5 0.8-3 0.8 4 0.8-0.2 0.8-3.3 0.8 1.3 0.8-0.4 0.8 9 0.8-2 0.8 5.7 0.8 6.5 0.8 0.1 0.8-3.6 0.8 3.4 0.8-0.1 0.8 3.2 0.8-0.9 0.8-6.3" fill="none" stroke="#ff0000" stroke-width="1.4" stroke-linejoin="round"/>
<path d="M280 167.4l0.8-5 0.8 4.1 0.8 6.9 0.8-10.1 0.8-0.3 0.8-3.1 0.8 1.2 0.8-3.2 0.8 2.5 0.8 1.2 0.8 0.3 0.8-0.3 0.8 2.8 0.8 2.2 0.8-4.9 0.8 6.3 0.8 3.2 0.8-2.7 0.8-5.4 0.8 2.8 0.8-5.8 0.8 1.7 0.8 1.5 0.8 1.9 0.8 9.3 0.8-9.4 0.8 6.6 0.8 3.2 0.8-4.1 0.8 0.7 0.8-4.1 0.8-5.4 0.8 5.9 0.8 9.7 0.8-2.5 0.8 2.5 0.8-2.3 0.8-7.3 0.8 4.2 0.8-6.4 0.8-4.2 0.8 2.4 0.8 3 0.8 1.5 0.8 4.6 0.8-0.4 0.8-5.8 0.8 1.5 0.8-6.3 0.8-1.6 0.8 3.1 0.8 5.4 0.8-6.6 0.8 3.5 0.8-2.1 0.8-0.8 0.8 3 0.8-0.4 0.8 0 0.8-1.6 0.8 3.2 0.8-1.8 0.8 2.1 0.8 1.8 0.8 2 0.8-7.6 0.8 5.3 0.8-5.5 0.8-0.6 0.8 2.4 0.8 5.2 0.8 2.1 0.8-2.4 0.8-2.7 0.8 0.7 0.8-1.4 0.8-0.4 0.8 3.6 0.8-1.1 0.8-3.1 0.8-1.5 0.8 0.1 0.8 0.1 0.8 0.7 0.8 0.9 0.8 0.5 0.8-1.6 0.8-1.3 0.8 0.2 0.8-1.6 0.8-0.4 0.8 4.6 0.8-1.6 0.8-0.2 0.8 5.5 0.8-6.6 0.8 5 0.8 1.9 0.8-7.4 0.8-0.2 0.8 2.1 0.8 2.7 0.8-1.2 0.8-0.2 0.8 1 0.8 1.6 0.8 2.1 0.8 3.6 0.8-5.6 0.8 1.5 0.8 1.5 0.8-2.3 0.8 9.2 0.8-3.3 0.8-3.8 0.8 3.9 0.8 3.2 0.8-1.7 0.8-1.4 0.8 5.7 0.8-0.9 0.8-4.6 0.8-2 0.8-0.7 0.8 1 0.8 1.9 0.8-1.2 0.8 3.3 0.8-0.5 0.8-7 0.8 2.2 0.8-2.6 0.8-1.8 0.8 5.5 0.8 1.1 0.8-6.1 0.8 1.2 0.8 2.1 0.8-3.6 0.8-1.1 0.8-1.4 0.8-0.6 0.8 1.7 0.8-3 0.8-1.7 0.8-0.8 0.8 8.7 0.8 2.9 0.8-7 0.8-0.2 0.8 4.6 0.8 1.2 0.8-8.8 0.8-0.3 0.8-0.1 0.8 1 0.8 6 0.8-3.9 0.8 2.7 0.8 3.9 0.8-1.2 0.8-5.3 0.8 0 0.8-0.3 0.8-3.2 0.8 3.4 0.8 3.6 0.8-5.8 0.8 0.3 0.8 0.2 0.8 6 0.8-8.4 0.8 2.4 0.8 5.5 0.8-2.9 0.8-3.7 0.8 1.7 0.8 7.2 0.8-6.2 0.8-1.1 0.8 5 0.8-2.2 0.8-0.5 0.8-1.9 0.8-0.3 0.8 1.8 0.8 0.8 0.8 8.7 0.8-4.2 0.8 3.8 0.8-1.1 0.8-1.8 0.8-1.2 0.8 2.6 0.8-1.4 0.8 0.8 0.8 1.3 0.8 10 0.8-5.3 0.8 4.5 0.8-2.7 0.8-0.3 0.8 6.7 0.8-0.7 0.8-2.5 0.8-1.9 0.8 4.2 0.8-6.9 0.8 1.3 0.8-1 0.8 2.4 0.8-4.2 0.8 0.2 0.8 4.3 0.8-3.4 0.8 0.8 0.8-0.2 0.8-1.7 0.8-3.1 0.8-0.7 0.8 5 0.8 0.6 0.8-7.5 0.8 1.2 0.8-3.4 0.8 3.7 0.8-3.8 0.8-0.6 0.8 1.8 0.8-2.5 0.8 0.6 0.8 0.5 0.8-1 0.8-3 0.8-1.8 0.8 4.7 0.8-6.7 0.8-0.4 0.8 2.7 0.8 1.5 0.8 0.6 0.8 1 0.8-3.1 0.8 7.8 0.8-8.4 0.8 2.8 0.8 3.7 0.8-4 0.8-1.8 0.8-2.1 0.8 0.7 0.8 6.5 0.8-4 0.8 0.4 0.8 2.1 0.8-6 0.8 0.8 0.8-1.8 0.8-0.8 0.8 0 0.8-1.4 0.8 0.1 0.8-3.5 0.8-4.9 0.8-3.5 0.8 2.7 0.8 7.6 0.8-4.4 0.8 2 0.8-7 0.8 5.2 0.8-3.1 0.8 4.7 0.8-0.2 0.8 0.3 0.8-0.6 0.8 4.5 0.8-0.4 0.8 4.4 0.8-4.7 0.8-0.9 0.8 10.4 0.8-5.4 0.8-0.7 0.8 6 0.8-3.9 0.8 3.1 0.8-12.1 0.8 6.4 0.8-6.4 0.8-11.2 0.8-11.7 0.8 0 0.8-1.2 0.8 11.4 0.8-6.7 0.8-14.3 0.8-0.9 0.8 0.8 0.8-3 0.8-2.2 0.8-3.8 0.8-10.8 0.8 0.1 0.8-2.4 0.8 10.9 0.8-16.7 0.8 0.4 0.8 12.2 0.8-11.9 0.8 13.7 0.8-17 0.8-6.3 0.8 9.3 0.8-23.3 0.8 27.4 0.8-13 0.8-15.3 0.8-16.8 0.8 1.8 0.8 12.1 0.8 11.3 0.8 24.3 0.8 12.2 0.8-7.1 0.8 3.3 0.8-5.5 0.8 6.5 0.8-1.7 0.8-5.7 0.8 1.6 0.8-3.2 0.8 4 0.8-0.7 0.8-1.9 0.8-0.4 0.8 2.7 0.8-1 0.8-6.5 0.8 14.9 0.8 5 0.8-9.1 0.8-1 0.8 12.3 0.8-3.4 0.8-2.4 0.8 9 0.8 2.7 0.8-10.1 0.8 2.9 0.8 0.2 0.8-1.2 0.8-2.3 0.8 1 0.8 14.6 0.8-20.2 0.8 22 0.8-24.4 0.8 14.7 0.8 10.5 0.8-19.2 0.8 8.2 0.8-9 0.8 0.2 0.8-4.2 0.8 3 0.8 5.2 0.8-5.4 0.8 4.5 0.8 11.1 0.8 1.8 0.8 15 0.8-21.5 0.8 4.3 0.8 6.8 0.8-8.6 0.8 7.3 0.8 13.9 0.8-3.3 0.8-17.4 0.8-5.1 0.8 11.1 0.8-12.8 0.8 17.6 0.8-11.6 0.8-4.7 0.8 8.7 0.8 6.3 0.8-9.1 0.8 17.1 0.8-13.9 0.8 3.7 0.8 5.9 0.8 9.1 0.8 13.7 0.8-3.3 0.8 0.4 0.8 16.4 0.8-14.7 0.8 0.6 0.8 10.5 0.8 12M616 151.7l0.8 1.5 0.8-9.3 0.8 5.4 0.8-17.3 0.8-3.4 0.8 1 0.8 0.6 0.8-4 0.8 11.2 0.8-8.2 0.8 2.1 0.8-2.2 0.8-1.6 0.8-9.6 0.8-2.5 0.8 6.1 0.8-13.2 0.8-0.2 0.8 0.9 0.8 1 0.8-0.5 0.8 9.1 0.8-4.6 0.8 18.2 0.8-10.7 0.8 7.4 0.8-19 0.8 7.2 0.8 2.3 0.8-1.1 0.8 4.1 0.8-0.3 0.8-13.5 0.8 4.2 0.8 3.3 0.8 6 0.8-4.5 0.8 4.9 0.8 15.8 0.8-25.9 0.8 0.9 0.8 1 0.8-1.3 0.8 9.4 0.8 2 0.8-6.1 0.8-4.9 0.8 10.9 0.8 3.5 0.8-9.7 0.8-1.7 0.8 1.2 0.8 13.6 0.8-14.2 0.8 4.1 0.8-4.5 0.8 9.3 0.8-6.9 0.8 6.7 0.8 6.7 0.8-10.9 0.8 11.7 0.8-4.6 0.8-6.7 0.8 12.7 0.8-7.4 0.8 1.6 0.8-9.8 0.8 3.7 0.8 0.1 0.8 0.1 0.8-1.4 0.8 12.8 0.8-11.2 0.8-2.4 0.8-2.2 0.8 8.8 0.8-13.2 0.8-0.9 0.8-6.8 0.8-5.5 0.8 25.1 0.8-28.2 0.8-3.1 0.8-2 0.8-2.6 0.8-1.8 0.8 19.8 0.8-14.7 0.8-14.5 0.8 0.8 0.8-0.2 0.8 10.5 0.8 2.3 0.8-12.3 0.8 8.3 0.8-3.6 0.8-3.5 0.8 5.5 0.8-0.1 0.8 3.9 0.8 4.7 0.8-6.2 0.8 11.2 0.8-3.1 0.8-5.9 0.8-5 0.8-5.7 0.8 10.6 0.8-5.4 0.8-0.6 0.8 1.8 0.8 2.1 0.8 7.7 0.8-2.7 0.8-8.8 0.8-1.1 0.8-1.5 0.8 1.5 0.8-3.7 0.8 2.3 0.8-1.6 0.8 6.6 0.8-2.3 0.8 5.2 0.8 6.4 0.8-3 0.8 5.1 0.8-1.6 0.8-0.2 0.8-4.6 0.8 4.5 0.8 3.1 0.8-1.8 0.8-7 0.8-3.3 0.8-0.6 0.8 4.3 0.8-1.2 0.8 4.9 0.8 0.4 0.8-2.5 0.8 6.2 0.8-8 0.8-1.2 0.8-4.5 0.8-5.9 0.8 0.6 0.8 0.1 0.8-0.2 0.8-1.8 0.8 0.1 0.8 5 0.8 4.9 0.8-1.6 0.8-0.9 0.8 2.1 0.8 0.8 0.8 3 0.8 2.4 0.8-2.6 0.8-7.2 0.8-0.8 0.8 8.3 0.8-0.6 0.8 4.8 0.8-1.8 0.8-2.4 0.8 0.9 0.8 0.2 0.8-3.1 0.8 4.4 0.8-6.2 0.8 2.1 0.8 3 0.8-6.8 0.8 1.8 0.8 3.5 0.8 4.5 0.8 5.4 0.8 4.2 0.8 5.1 0.8 5.4 0.8 2.9 0.8-0.4 0.8 0.9 0.8 2.6 0.8 13.4 0.8-9.5 0.8 1.4 0.8 5 0.8 4.4 0.8 0.4 0.8-3.8 0.8-3.2 0.8 13.1 0.8 3.4 0.8-3.9 0.8-4.3 0.8 12.6 0.8-7.4 0.8-12.6 0.8 18 0.8-2.6 0.8-1.9 0.8-15.7 0.8-3.2 0.8-1.3 0.8 14.7 0.8-19.9 0.8-3.7 0.8 12.3 0.8-6.3 0.8 2 0.8 0.4 0.8 1.4 0.8-0.2 0.8 3.3 0.8 16.3 0.8-13.1 0.8 1.9 0.8 11 0.8 10.7 0.8 8.2 0.8-4.6 0.8 5.8 0.8 2.4 0.8 0.4 0.8-0.8 0.8 4.8 0.8-4.9 0.8 1.5 0.8 2.9 0.8-0.5 0.8 15.6 0.8-23 0.8 12.7 0.8 12.6 0.8 5.1 0.8-0.4 0.8-18.7 0.8-2.3 0.8 10.6 0.8 9.3 0.8-17.3 0.8-1.4 0.8 1 0.8-1.1 0.8 5.2 0.8-0.2 0.8-1.3 0.8-5.2 0.8-3 0.8 3.3 0.8-1.6 0.8 5.3 0.8-3.5 0.8-0.8 0.8 1 0.8 0.4 0.8 5.9 0.8-6 0.8 0.3 0.8 5.1 0.8-2.9 0.8-5 0.8 5.2 0.8-1.9 0.8-3.5 0.8 2.4 0.8 3 0.8-3.7 0.8-0.5 0.8-2.4 0.8 6.9 0.8-5.1 0.8 6.9 0.8-5.4 0.8 5.9 0.8-7.1 0.8-0.8 0.8-0.4 0.8-0.1 0.8 0.6 0.8 0.3 0.8-0.4 0.8 1.5 0.8 5.2 0.8 2.1 0.8-2.8 0.8 4.9 0.8-6.2 0.8-3.1 0.8 8 0.8-1.2 0.8-4.9 0.8-4.4 0.8 0.6 0.8 5.6 0.8-0.8 0.8 6.2 0.8 0.5 0.8-8.1 0.8 6.7 0.8-10 0.8 1.2 0.8 4.7 0.8 5.9 0.8-4.5 0.8-6.2 0.8-0.7 0.8 2.7 0.8-0.5 0.8-0.1 0.8-0.1 0.8 2 0.8-5.4 0.8 7.1 0.8 2.3 0.8 3.4 0.8-3.4 0.8-3.9 0.8 2.7 0.8 1.3 0.8-8.1 0.8-0.4 0.8 1.7 0.8 3.2 0.8-2.1 0.8 4.8 0.8-6.3 0.8 2.9 0.8 5 0.8-5.8 0.8 0.2 0.8 5.5 0.8-4.6 0.8 7.1 0.8-5.7 0.8-1.3 0.8 1 0.8 0.6 0.8 6 0.8-2.6 0.8-0.9 0.8-2.8 0.8-1.5 0.8-1 0.8 7.6 0.8-5.2 0.8 3.9 0.8-1.6 0.8-4.9 0.8 0.7 0.8 5.2 0.8 1.8 0.8 0.7 0.8-4.4 0.8 1.6 0.8-3.9 0.8 3.4 0.8 2.3 0.8-7.1 0.8 4 0.8-4.6 0.8 1.8 0.8 0 0.8 2 0.8-4.8 0.8 3 0.8-1.4 0.8 4 0.8-3.8 0.8-5 0.8-0.6 0.8-1.4 0.8-1.5 0.8 1.6 0.8-4.5 0.8-1 0.8 11.1 0.8-10.3 0.8-0.6 0.8 13.7 0.8-10.2 0.8 0.6 0.8-7.3 0.8 4.7 0.8-13.1 0.8 5.5 0.8-14.3 0.8-3.4 0.8-6.3 0.8-1.7 0.8-3.8 0.8 2.7 0.8-2.5 0.8-9.7 0.8-1.1 0.8-7.3 0.8 3.4 0.8-6.2 0.8-3.2 0.8 2.2 0.8 13 0.8-4.7 0.8 3.6 0.8 7.4 0.8 4.2 0.8-8.3 0.8 7.8 0.8 1.5 0.8-3.9 0.8 4.6 0.8-4.9 0.8-11.7 0.8 9.9 0.8-8.1 0.8 5.5 0.8 9.5 0.8 3.4 0.8 6.5 0.8 4.2 0.8 0.2 0.8 6.4 0.8 0.8 0.8 8.1 0.8-7.5 0.8 11.8 0.8-0.5 0.8-1.1 0.8 0.3 0.8 10.4 0.8-8.5 0.8 1 0.8 2 0.8 0.7 0.8-4.3 0.8 10.9 0.8 0.2 0.8 2.7 0.8-14.3 0.8 5.3 0.8-3.2 0.8 8.9 0.8-4.5 0.8-2.9 0.8 0.5 0.8-0.7 0.8 7.3 0.8-1.9 0.8 5.8 0.8-7.9 0.8 2.5 0.8 3.9 0.8-3.5 0.8-2.4 0.8 0.8 0.8 0.5 0.8-3.7 0.8 1.9 0.8-2 0.8 3 0.8-0.1 0.8 5.9 0.8-7.2 0.8 5.9 0.8-0.7 0.8-7.3 0.8 11.4 0.8-12.8 0.8-1.3 0.8 10.8 0.8-8.8 0.8-0.9 0.8 0.2 0.8 9.6 0.8-6.6 0.8 1.7 0.8 10.1 0.8-2 0.8-6.4 0.8-0.1 0.8 2.5 0.8-6.2 0.8 1 0.8 2.4 0.8 5.7 0.8-8.5 0.8-2 0.8-0.7 0.8 0 0.8 5.4 0.8-1.8 0.8-3.9 0.8 0.7 0.8 6.1 0.8-1.4 0.8 1 0.8-2.1 0.8 2.9 0.8-5.5 0.8 1.3 0.8 3.7 0.8-0.9 0.8 0.7 0.8-3.1 0.8 9 0.8-9.2 0.8 1.5 0.8-1.2 0.8 1 0.8 8.3 0.8 1.1 0.8 2 0.8-2.9 0.8 6.2 0.8-17.4 0.8 11.2 0.8-21.2 0.8 18.4 0.8-20.3 0.8-7 0.8-0.7 0.8 1.4 0.8 3.3 0.8-6.6 0.8 8.7 0.8-4 0.8 1 0.8-5.6 0.8 17.1 0.8-4.6 0.8-11.3 0.8 10.6 0.8-14.6 0.8-2.9 0.8-1.3 0.8 1.8 0.8 0.1 0.8 8.4 0.8-8.4 0.8 5 0.8 10.9 0.8 8.8 0.8-21.2 0.8 0.7 0.8-9.7 0.8-6.3 0.8-4.1 0.8-1.8 0.8 9.4 0.8-12.6 0.8 14.3 0.8 12.8 0.8 2 0.8-2.8 0.8 11 0.8-8.8 0.8 3.7 0.8 6.3 0.8 10 0.8-9.1 0.8 13.4 0.8-4.2 0.8-0.4 0.8 0.4 0.8 11 0.8 7.8 0.8-7.1 0.8-5.3 0.8 7.8 0.8-15.2 0.8 7.7 0.8-6.2 0.8 1.7 0.8 3.2 0.8 13.8 0.8-14 0.8 17.2 0.8-22.5 0.8 10.9 0.8-14 0.8 15 0.8 0 0.8-10.5 0.8 7.8 0.8-1 0.8-0.5 0.8-1.4 0.8-5.1 0.8 0.9 0.8-3.6 0.8-2.8 0.8 6.5 0.8-5.5 0.8 1.6 0.8-5.3 0.8 0.2 0.8 4.9 0.8-4.4 0.8-1.3 0.8 6 0.8-7.6 0.8 1 0.8 1.2 0.8-8.9 0.8-2.5 0.8 7.5 0.8 1 0.8 0.8 0.8-6.1 0.8 1.4 0.8-2.5 0.8-1.3 0.8-0.4 0.8 2.5 0.8-4.2 0.8 3.3 0.8 1.8 0.8-2.1 0.8 2.7 0.8-7.2 0.8 7.9 0.8-3.6 0.8 0.4 0.8 5.4 0.8-2.4 0.8-3 0.8-1.1 0.8 0.3 0.8 0.6 0.8-0.4 0.8-2.2 0.8 4.3 0.8-5.4 0.8 3.5 0.8 3.9 0.8 0.3 0.8 3.4 0.8-2.2 0.8-0.9" fill="none" stroke="#00cc2e" stroke-width="1.4" stroke-linejoin="round"/>
<path d="M194 156.8l0.8 1.6 0.8 2 0.8-3 0.8 1 0.8 6.4 0.8-0.6 0.8 4.3 0.8 6.4 0.8-8.5 0.8-2.6 0.8 3.3 0.8 5.1 0.8-7.8 0.8 1.3 0.8-4 0.8 8.9 0.8 3.1 0.8-5 0.8 0.7 0.8 3.8 0.8-3.2 0.8 0.7M217 193.6l0.8-1.7 0.8-15 0.8-1.4 0.8-1.1 0.8 5.6 0.8-1.7 0.8 13.1 0.8-9.9 0.8 4.2 0.8 16.3 0.8 3.5 0.8 4.2 0.8-12.7 0.8-7.3 0.8 11.9 0.8-9.8 0.8 10.5 0.8-9.9 0.8 1.7 0.8 8.4 0.8 2.5 0.8-1.2 0.8-2.2 0.8-0.6 0.8-4.7 0.8 0.6 0.8 0.9 0.8 0.9 0.8-6.7 0.8-3.1 0.8 3.4 0.8-2.9 0.8-4.9 0.8 9.8 0.8-1.2 0.8-20.6 0.8 8.3 0.8-6.9 0.8 1 0.8-2.7 0.8 1 0.8 0.7 0.8-0.5 0.8 8.2 0.8-7.8 0.8 14.4 0.8-0.7 0.8-7.3 0.8 5.8 0.8 5.7 0.8-12.6 0.8 8.4 0.8 0 0.8-1.8 0.8 0.9 0.8 0.5 0.8 2.4 0.8-2.9 0.8 0 0.8 8.5 0.8-9 0.8 1 0.8 10.8 0.8-7.1 0.8-3.4 0.8-4.9 0.8 6.9 0.8-5.4 0.8 2.5 0.8-2.9 0.8-6.4 0.8 19 0.8 0.7 0.8 7.7 0.8-15.8 0.8-0.8 0.8-0.9 0.8 2.3 0.8-3.5 0.8-3.5 0.8 0.1 0.8 0.4 0.8 11.3 0.8-9.2 0.8 9 0.8-14.3 0.8-0.1 0.8 16.9 0.8-13.3 0.8 2.2 0.8 7.6 0.8-6.4 0.8-5 0.8 7.9 0.8-1.2 0.8-11 0.8 8.5 0.8-1.3 0.8 8.7 0.8-17.6 0.8 0.2 0.8 7.6 0.8-11.5 0.8 19.1 0.8 5.7 0.8-14.8 0.8 9.9 0.8-11.5 0.8 13.9 0.8-15.6 0.8 0.5 0.8 1.7 0.8 5.3 0.8-0.8 0.8 15.9 0.8-8.1 0.8-2.8 0.8 0.3 0.8-2.3 0.8 9.8 0.8-4.1 0.8-3.9 0.8 0.3 0.8-3 0.8 2 0.8 0.6 0.8-4 0.8 14.8 0.8-12.1 0.8 4 0.8-10.9 0.8 8.3 0.8 0.3 0.8-9.4 0.8 11.3 0.8-12.5 0.8 1.2 0.8 7.3 0.8-1.4 0.8 5 0.8-4 0.8-0.8 0.8 1.2 0.8-0.2 0.8-1.4 0.8-4.3 0.8-0.6 0.8-2.2 0.8 2.4 0.8-0.3 0.8 6.1 0.8-0.1 0.8-3.4 0.8 0.2 0.8-0.6 0.8 4.3 0.8-3.7 0.8 1.7 0.8 4.2 0.8-1.2 0.8 2.2 0.8-5.3 0.8-1.4 0.8-1.1 0.8-0.5 0.8-2.7 0.8 1 0.8-2.2 0.8-1.9 0.8-2 0.8 1 0.8 0.8 0.8-0.4 0.8 0.9 0.8 1.5 0.8 1.2 0.8-0.9 0.8-1 0.8 0.6 0.8-1.5 0.8 2 0.8 0.5 0.8-1.2 0.8-0.1 0.8-1 0.8 1.6 0.8 0.6 0.8-1.4 0.8 1 0.8 0.5 0.8 2.6 0.8 1.8 0.8-1.5 0.8 0.6 0.8-0.7 0.8 0 0.8 0.3 0.8 0 0.8 1.6 0.8-0.7 0.8 1 0.8-2.8 0.8-0.2 0.8 0.8 0.8-2.9 0.8 0.5 0.8-2 0.8 2.6 0.8-0.4 0.8 1.3 0.8-0.1 0.8 0.2 0.8-0.9 0.8 1 0.8 0.7 0.8-0.3 0.8 1.8 0.8 5.4 0.8 2.4 0.8-5.6 0.8 7.8 0.8 4.9 0.8-13.8 0.8 6.3 0.8-1.7 0.8 1.4 0.8-14 0.8 13.2 0.8-2 0.8-8.4 0.8 2.6 0.8-4.8 0.8 5 0.8 0.9 0.8-0.6 0.8-0.3 0.8-4.5 0.8-1.3 0.8 4.9 0.8-1.7 0.8 1.1 0.8-0.2 0.8 2.7 0.8-2.6 0.8 2.8 0.8-1.4 0.8-0.1 0.8-1 0.8 1.1 0.8-3.5 0.8 0.8 0.8 2.9 0.8 1.2 0.8 2.1 0.8 0.9 0.8-4.3 0.8-3 0.8 4.8 0.8-0.9 0.8-4 0.8 0.7 0.8 1.5 0.8 0.1 0.8 0.3 0.8 1.1 0.8 0.2 0.8 0.2 0.8 0.4 0.8-0.6 0.8-1.9 0.8-0.3 0.8 10.8 0.8 1.3 0.8-7.2 0.8 0.8 0.8 0.5 0.8 1.4 0.8-2 0.8 3.2 0.8 2.7 0.8-1.1 0.8 5.1 0.8-9.8 0.8 4.9 0.8-2 0.8 7.1 0.8 0.4 0.8-7.1 0.8-2.7 0.8 0.7 0.8-2.9 0.8 1.4 0.8 3.1 0.8 8.1 0.8-10.9 0.8 4.7 0.8-3.1 0.8 1.7 0.8-2.9 0.8 0.5 0.8 4.8 0.8-4.7 0.8-2.5 0.8 4.9 0.8-2.3 0.8-6.5 0.8 0.4 0.8 1.2 0.8-1.7 0.8 0.4 0.8-2 0.8 4.7 0.8-7.2 0.8 7.8 0.8-5.7 0.8 1.8 0.8-1.3 0.8 7.3 0.8-0.7 0.8-7.3 0.8 3.9 0.8 0.1 0.8 3.5 0.8-3.3 0.8 4.8 0.8-10 0.8 4.4 0.8-4.9 0.8 5.1 0.8-1.7 0.8 1.4 0.8-1.1 0.8-0.5 0.8-8.4 0.8-0.1 0.8 6.3 0.8-4.2 0.8-0.1 0.8-2.1 0.8 4.8 0.8 6 0.8-2.4 0.8-0.4 0.8-1.8 0.8-2.9 0.8 1.3 0.8 0 0.8-1.4 0.8 7 0.8-6 0.8 5.7 0.8-1.7 0.8-1.8 0.8 5 0.8-7 0.8 0.7 0.8 7.6 0.8-7.5 0.8-1.5 0.8 7.6 0.8-6.1 0.8 6.2 0.8-6.2 0.8 2.3 0.8-2 0.8 2.9 0.8 5.9 0.8-3.3 0.8-14.9 0.8 5 0.8-12.8 0.8 2.9 0.8-4 0.8 6.8 0.8-1.8 0.8-0.1 0.8-0.9 0.8-7.5 0.8-3.7 0.8-0.6 0.8 4 0.8 7.7 0.8-9.3 0.8 1.6 0.8 6.5 0.8-0.9 0.8-2.9 0.8-6.6 0.8-0.1 0.8-0.4 0.8-6.9 0.8-2.5 0.8-12.9 0.8-3.8 0.8-20.5 0.8 12.6 0.8 8.7 0.8-3.6 0.8 8.3 0.8-3.8 0.8 3.1 0.8-0.2 0.8 2.5 0.8-13.3 0.8 3.6 0.8 3.2 0.8 3.9 0.8 0.9 0.8-7.8 0.8 0.6 0.8 11.9 0.8 6.1 0.8-13.8 0.8 6.7 0.8 3.9 0.8 7.5 0.8 0.9 0.8 9.6 0.8 6 0.8-0.9 0.8 8.2 0.8-8.6 0.8 6.6 0.8-6.9 0.8 7.6 0.8-13.3 0.8 2.9 0.8-7.7 0.8-1 0.8 16.3 0.8-13.6 0.8 12.3 0.8-0.4 0.8-4.8 0.8-5.8 0.8-0.7 0.8 3.7 0.8-12.2 0.8 11.5 0.8 4.9 0.8 5.1 0.8-5.8 0.8 5.8 0.8-5.6 0.8-1 0.8 1.7 0.8 9 0.8-2.8 0.8 4.7 0.8-6.9 0.8 2.8 0.8 8.9 0.8-5 0.8-2.3 0.8 7.4 0.8-5.8 0.8 6.4 0.8-10.1 0.8 11.2 0.8-1.1 0.8 11.8 0.8-13.8 0.8 12.8 0.8-9.7 0.8 6.1 0.8 4.8 0.8 0 0.8 3M621 168l0.8 13.4 0.8-2 0.8 3.6 0.8-27.1 0.8 7.9 0.8-1.7 0.8-1 0.8 5.9 0.8-8.5 0.8 0.6 0.8 9.4 0.8-11.1 0.8-0.3 0.8-3.9 0.8 6.8 0.8-0.5 0.8-2.4 0.8 3.6 0.8 22.8 0.8-1.6 0.8-22.9 0.8 21.4 0.8-13 0.8-11.6 0.8-0.8 0.8 3.9 0.8-11.5 0.8 5.9 0.8 25.3 0.8-13 0.8 9.9 0.8-1.5 0.8-5.1 0.8-0.5 0.8-16 0.8-2.1 0.8 0.6 0.8-0.7 0.8 1.2 0.8 4.8 0.8 22.1 0.8-1.8 0.8 3.2 0.8 3.5 0.8-13.9 0.8 7.3 0.8 1.3 0.8-12 0.8 3.3 0.8 11.1 0.8-9.6 0.8 17.5 0.8-16.5 0.8-7.7 0.8-3 0.8 4.1 0.8-4.6 0.8 0.9 0.8 0 0.8 0 0.8 25.7 0.8-1.5 0.8 15 0.8-4.8 0.8 8.6 0.8-10 0.8-4 0.8 5 0.8-4.8 0.8 5.6 0.8-5.8 0.8-12.8 0.8 5.3 0.8 3.8 0.8-11.5 0.8 12.5 0.8-13.1 0.8 7.1 0.8-2.4 0.8-16.2 0.8 9.6 0.8-21.5 0.8 13.3 0.8 19.6 0.8 6.3 0.8-15.3 0.8-13.9 0.8 19.4 0.8-11.1 0.8-2.3 0.8-6.8 0.8 4.7 0.8-1.7 0.8 1.2 0.8-1.2 0.8 3 0.8 12.6 0.8 2.6 0.8-16.2 0.8-0.2 0.8 0.9 0.8 3.5 0.8 0.7 0.8-4 0.8-8.8 0.8 15.4 0.8 25.4 0.8-4.7 0.8-35.4 0.8 0.5 0.8 11.4 0.8-1.5 0.8-12.8 0.8-4.1 0.8-6.9 0.8 22.4 0.8 23.7 0.8-20.6 0.8-42.9 0.8-0.2 0.8 0.9 0.8 1.1 0.8-2 0.8 22.5 0.8-1 0.8 5.3 0.8-9.3 0.8-4.4 0.8 31.6 0.8-8.3 0.8 8.9 0.8 23.7 0.8 2.9 0.8-41.2 0.8 2.8 0.8-20 0.8-7.3 0.8 44.7 0.8-19.7 0.8-23.6 0.8 1 0.8-6.4 0.8-5.1 0.8 0.9 0.8 0.4 0.8 21.6 0.8 1.6 0.8 2.7 0.8 13.2 0.8-1.6 0.8-11.6 0.8-1.8 0.8-4.1 0.8 21.7 0.8-22.5 0.8 17 0.8 34.4 0.8 3.4 0.8-1.2 0.8-4.2 0.8-17.4 0.8 5.5 0.8-15.5 0.8-15.5 0.8-15.5 0.8 5.8 0.8 10.6 0.8 29.4 0.8-3.7 0.8-9.2 0.8 24.5 0.8 18.5 0.8 3.6 0.8-0.2 0.8-1.9 0.8 1.9 0.8 0.6 0.8-20.4 0.8-1.5 0.8-6 0.8 7.2 0.8-3.2 0.8-1 0.8-2.3 0.8 3.5 0.8 12 0.8 7.6 0.8-15.6 0.8 7.8 0.8 8.2 0.8-9.7 0.8 3.2 0.8-4.2 0.8 7.1 0.8 1.1 0.8-8.6 0.8-8.7 0.8 3.4 0.8 7.8 0.8-6.5 0.8 4.3 0.8 3 0.8 11.5 0.8-24.2 0.8 7 0.8-1.6 0.8 2 0.8-1.5 0.8-8.7 0.8 6.6 0.8-6.7 0.8 0.4 0.8 3.3 0.8 11 0.8 0.8 0.8-13.5 0.8-1.1 0.8 2.8 0.8 13.6 0.8-7.2 0.8 15.5 0.8-2.5 0.8-6.2 0.8-7.3 0.8 17.9 0.8-12 0.8-1.6 0.8 19.5 0.8-3.4 0.8-6.1 0.8-5.3 0.8 13.7 0.8-1.4 0.8 3.6 0.8 0.5 0.8-11.5 0.8 3.1 0.8-0.1 0.8-17.7 0.8-3.2 0.8 1 0.8 0.1 0.8-3.4 0.8-4.9 0.8 2.5 0.8 0.4 0.8 1 0.8 0.7 0.8-1.3 0.8-7.9 0.8-1.2 0.8 0.3 0.8 0.7 0.8 0.1 0.8 1.5 0.8 0.7 0.8-1 0.8 1.3 0.8 5 0.8-3.4 0.8 2.2 0.8-5.7 0.8 8.9 0.8-7.5 0.8 2 0.8-4.1 0.8 5.8 0.8 2.3 0.8 1.4 0.8-2.1 0.8-0.6 0.8 3.4 0.8-1.7 0.8-2.4 0.8 2.6 0.8 1.8 0.8 1 0.8-4.9 0.8 3.6 0.8 0 0.8-4.9 0.8 5 0.8 3.5 0.8-2.5 0.8 1.1 0.8-0.9 0.8 6.3 0.8 3.5 0.8 3.3 0.8-8.6 0.8 1.8 0.8-4.1 0.8 0.5 0.8 2.3 0.8-1.3 0.8-7 0.8-2.1 0.8-0.8 0.8 6.8 0.8-3.9 0.8 3.8 0.8-6.3 0.8-1.5 0.8 3.5 0.8-0.7 0.8 4 0.8 2.5 0.8-3.4 0.8-2.2 0.8 8.6 0.8-2.3 0.8-9.1 0.8 1.2 0.8-0.4 0.8 0.1 0.8-0.2 0.8 8 0.8 1 0.8 6.1 0.8 1 0.8 5.6 0.8-8.4 0.8 8.3 0.8-1.4 0.8-4.6 0.8-5.2 0.8 0.6 0.8 5.6 0.8 4 0.8-8.6 0.8-0.1 0.8-0.5 0.8-2.2 0.8-3.1 0.8-1.3 0.8 9.2 0.8-2.7 0.8 0.9 0.8 6.6 0.8-8.2 0.8 10.6 0.8 1.9 0.8-2.5 0.8-2.4 0.8 3.2 0.8 8.1 0.8-6.6 0.8 4.6 0.8-7.3 0.8 2.9 0.8 8 0.8 0.2 0.8-4.6 0.8-7.4 0.8 16.1 0.8-8.2 0.8 6.3 0.8-3.3 0.8 0.3 0.8-0.7 0.8-7.5 0.8-2.7 0.8-6 0.8 8.7 0.8-2.4 0.8-0.8 0.8-2.1 0.8-1 0.8-7.3 0.8-2.2 0.8 2.4 0.8-0.2 0.8-0.4 0.8-4.9 0.8-1 0.8 2.4 0.8 4.6 0.8-1.8 0.8 7.5 0.8-6.2 0.8 5.1 0.8-1.4 0.8 6.5 0.8 1.2 0.8 4.2 0.8-6 0.8-5.5 0.8-11 0.8-2.9 0.8 6.1 0.8 0.6 0.8 1.6 0.8 5.8 0.8-2.6 0.8-10.8 0.8 7.6 0.8-4.2 0.8 9.9 0.8 5.8 0.8-1.5 0.8-11.5 0.8 9.3 0.8 8.4 0.8 5.7 0.8-0.5 0.8-1.5 0.8-6.5 0.8-1.5 0.8-2 0.8 6.7 0.8-6 0.8 2.8 0.8-5.5 0.8 5.1 0.8-0.2 0.8-1.1 0.8 11.2 0.8 1.7 0.8-0.1 0.8-2.6 0.8-11.7 0.8 7.6 0.8-5.3 0.8-2.5 0.8-2.7 0.8 4.5 0.8 0.6 0.8-6.2 0.8 1.9 0.8-4 0.8-1.6 0.8 2.9 0.8 7.9 0.8 5.6 0.8 2.9 0.8-3.9 0.8-8.3 0.8 6.9 0.8 0.7 0.8-1.5 0.8-4.6 0.8 0.6 0.8 0 0.8-8.2 0.8-1.7 0.8-2.4 0.8 4.4 0.8 0.4 0.8-3.2 0.8 0.4 0.8-2.8 0.8-3.5 0.8 0.3 0.8 6.9 0.8-6.7 0.8 11.7 0.8 2 0.8-3.9 0.8 5.1 0.8 1.3 0.8 0.7 0.8-7.2 0.8-3.5 0.8-4 0.8 5.2 0.8-0.2 0.8 6.3 0.8-0.4 0.8-6 0.8-2.2 0.8-9.5 0.8-2.8 0.8 2.3 0.8 0.5 0.8 1.8 0.8-3.6 0.8 6 0.8-4.9 0.8-1.9 0.8 2.8 0.8 0.4 0.8-1.2 0.8 3.2 0.8-4.1 0.8-7.4 0.8 0 0.8 0.8 0.8-0.3 0.8-0.6 0.8-3.4 0.8-6 0.8-4.2 0.8 0 0.8 12.5 0.8-7.1 0.8 6.1 0.8-8.1 0.8 2.2 0.8 4.5 0.8-11.4 0.8 0.7 0.8 4.6 0.8 15.4 0.8-10.9 0.8 0.6 0.8 2.8 0.8-6.3 0.8 8.2 0.8 0.2 0.8 2.3 0.8-7 0.8-0.7 0.8-7.9 0.8 2.9 0.8-2.6 0.8 0.9 0.8-0.8 0.8 1 0.8-2.3 0.8 1 0.8-1.2 0.8 8.9 0.8-10.3 0.8-2.1 0.8 4.8 0.8 1.6 0.8-1.8 0.8-7.5 0.8 1.9 0.8-1.5 0.8 8.1 0.8-5.1 0.8 9.6 0.8-12.1 0.8-6.2 0.8 9.7 0.8-7.7 0.8 16.4 0.8-3.6 0.8-15.4 0.8-5.6 0.8-1.3 0.8 8.4 0.8 10.3 0.8-4.5 0.8 3.4 0.8-7.5 0.8 3 0.8 8.8 0.8-3.6 0.8 7.7 0.8-1.7 0.8 2.3 0.8 4.5 0.8 3.7 0.8 6.2 0.8-8.3 0.8 2.7 0.8 1.1 0.8 6.2 0.8 22.7 0.8-13 0.8 16.7 0.8-21.4 0.8 18.1 0.8-14.6 0.8-8.5 0.8 8.4 0.8 1.1 0.8-15.8 0.8 2.1 0.8-1.3 0.8 23.3 0.8-15 0.8 1.2 0.8 4.5 0.8 6.5 0.8 3.1 0.8-14 0.8-1.8 0.8 9.7 0.8-0.5 0.8-2.1 0.8 1.4 0.8 2.7 0.8-13.4 0.8 8.2 0.8-4.7 0.8 13.2 0.8-14.9 0.8 5.5 0.8-1.8 0.8-12.7 0.8-4.1 0.8-5.9 0.8-3.1 0.8-2.3 0.8-9.9 0.8 1.2 0.8 4.4 0.8-0.4 0.8-7.7 0.8-3.8 0.8 2.5 0.8 8.3 0.8 1 0.8-4.1 0.8-12.9 0.8-3 0.8-8.5 0.8-0.3 0.8 2.9 0.8-2.9 0.8-9.6 0.8 10.7 0.8-0.3 0.8 6.7 0.8-4.7 0.8-0.2 0.8 3.2 0.8-1.7 0.8 6.5 0.8 4.5 0.8-1.5 0.8-5.1 0.8 4.9 0.8 5.4 0.8 4.3 0.8 3.3 0.8-8.7 0.8-3.7 0.8-3.1 0.8 10.1 0.8 6.2 0.8 5.2 0.8 3.1 0.8 1.6 0.8-12.4 0.8-6.5 0.8-2.3 0.8 4.2 0.8 3.4 0.8 0.5 0.8 1.3 0.8 3.1 0.8 4.1" fill="none" stroke="#0000ff" stroke-width="1.4" stroke-linejoin="round"/>
<path d="M235 181.5l0.8-2.8 0.8-0.2 0.8 2.6 0.8-7.5 0.8 9.3 0.8-5.3 0.8 5.4 0.8 3.7 0.8-9.1 0.8 9.8 0.8-5.2 0.8-2.4 0.8-2.6 0.8 13.1 0.8 1.8 0.8-5.2 0.8-7.4 0.8 8.3 0.8-6.7 0.8-2.5 0.8 4.2 0.8-5.2 0.8 3.3 0.8-7.1 0.8 6.9 0.8-12.2 0.8-1.6 0.8 6.7 0.8 0.2 0.8-3.1 0.8 0.8 0.8 11.9 0.8-14.3 0.8 10.5 0.8-5.9 0.8 11 0.8-2.3 0.8-5.3 0.8-3.4 0.8-0.7 0.8-2.5 0.8 4.7 0.8 3.9 0.8 0.5 0.8-5.5 0.8-3 0.8 2.4 0.8-4.9 0.8 4.6 0.8 1.4 0.8-8.3 0.8 11.3 0.8-9.3 0.8 3.6 0.8-0.7 0.8 5.2 0.8 5.3 0.8-5.9 0.8-6.6 0.8 6.3 0.8 1.7 0.8-6.7 0.8 10.6 0.8-16.6 0.8-1.8 0.8 0.5 0.8 10.8 0.8 9.7 0.8-13.5 0.8-3 0.8 10.5 0.8 3.2 0.8-13.2 0.8 4.6 0.8-1.8 0.8 1.9 0.8-5.1 0.8-3.6 0.8 10.9 0.8-8.2 0.8 9.6 0.8-4.1 0.8 2 0.8 6.4 0.8-3.7 0.8 0.6 0.8-4.3 0.8 4.5 0.8-4.9 0.8 0.1 0.8 10.4 0.8-3.3 0.8 2.9 0.8-2.6 0.8-2.6 0.8 2.4 0.8-6.6 0.8 6 0.8-4.8 0.8-5.2 0.8 4.5 0.8 2.9 0.8-4.1 0.8 1.2 0.8 2 0.8-0.9 0.8 3.1 0.8 1.6 0.8-3.4 0.8-2.8 0.8 1.9 0.8 6 0.8-1.3 0.8-0.8 0.8 2 0.8 1.5 0.8 0.1 0.8-0.5 0.8 1.2 0.8-1.4 0.8 0.9 0.8 1.6 0.8-0.6 0.8-1.3 0.8 0.6 0.8 1 0.8-1.5 0.8-1.5 0.8-1.1 0.8 0.3 0.8-1.5 0.8-0.2 0.8-2.6 0.8-2 0.8 2.2 0.8 0.5 0.8 2.8 0.8-0.3 0.8 0.8 0.8-0.7 0.8-1.1 0.8 1.2 0.8-1.3 0.8 0.8 0.8-3.4 0.8-0.6 0.8 0 0.8-0.9 0.8 0.7 0.8 0.7 0.8 1.3 0.8 2.8 0.8-1 0.8 0.7 0.8-0.6 0.8 1.3 0.8 0.5 0.8 1.6 0.8-0.1 0.8-4 0.8-2.2 0.8 0 0.8 0.1 0.8 1.6 0.8 3.7 0.8-1.8 0.8 0.8 0.8-3.1 0.8-0.3 0.8 2.6 0.8 3.6 0.8 1 0.8 1.5 0.8-2.2 0.8-0.3 0.8-0.4 0.8-1.3 0.8-0.5 0.8 0.8 0.8 0.8 0.8 0.4 0.8 0.3 0.8-2.6 0.8 1 0.8 0.7 0.8 5.2 0.8 0.1 0.8-3.8 0.8-0.1 0.8 0.9 0.8-1.4 0.8-3.8 0.8 2.2 0.8-8.3 0.8 1.6 0.8-0.5 0.8 8 0.8-0.3 0.8 3.1 0.8-1.2 0.8-6.5 0.8 1.2 0.8-0.4 0.8-3.2 0.8 6.7 0.8 0.6 0.8 0.1 0.8-3.9 0.8 4.5 0.8-1.3 0.8-6.2 0.8 0.4 0.8 4.1 0.8-0.2 0.8-1.3 0.8 7.1 0.8 1.6 0.8-5.6 0.8 2.3 0.8 2.4 0.8-10.2 0.8 0.1 0.8 1.8 0.8-0.5 0.8-3.9 0.8 0.1 0.8-1.1 0.8-0.7 0.8 6.1 0.8-1.3 0.8 4.5 0.8 1.3 0.8-1.6 0.8 3.5 0.8-1.4 0.8-1.2 0.8-1.3 0.8 6.5 0.8-0.3 0.8-3.7 0.8-1.6 0.8-2.5 0.8-1.1 0.8 2.3 0.8 2.3 0.8-0.6 0.8 2.1 0.8-1.7 0.8 4.3 0.8-4.7 0.8 3.9 0.8 1.5 0.8 1.8 0.8 4.7 0.8-5.8 0.8 1.8 0.8 1 0.8-3.8 0.8-0.1 0.8 0.2 0.8 3.8 0.8 3.5 0.8-0.4 0.8-1.8 0.8-0.4 0.8 5.4 0.8-4.6 0.8 0.2 0.8 3.9 0.8-5 0.8 1 0.8-3.4 0.8-4.6 0.8 3 0.8-2.4 0.8-1.4 0.8 2 0.8 0.8 0.8 0.7 0.8 2.8 0.8-5.4 0.8-0.1 0.8 0.9 0.8-3.9 0.8 3.3 0.8-4.2 0.8 2.3 0.8-2.3 0.8 1 0.8-3.6 0.8-1.9 0.8 0.2 0.8 5.1 0.8-2.3 0.8 2.2 0.8-1.7 0.8-5.4 0.8 0.6 0.8 3.9 0.8-1 0.8-5.6 0.8 6.3 0.8-5.3 0.8 2 0.8-4.2 0.8 4.5 0.8 1.8 0.8-3.7 0.8-0.8 0.8 2.3 0.8-3.1 0.8-0.7 0.8-0.8 0.8 3.3 0.8-1.5 0.8-2.5 0.8 7.6 0.8-9.9 0.8 0.8 0.8-2.6 0.8 1.2 0.8 4.4 0.8-4.2 0.8 7.5 0.8 0.4 0.8 1.5 0.8-3.1 0.8-5.8 0.8 1.8 0.8-0.7 0.8 3.6 0.8 2.9 0.8-5.6 0.8 4.1 0.8 0.7 0.8 2.6 0.8 0.1 0.8-2.9 0.8 3.1 0.8 1 0.8-4.2 0.8 0.2 0.8-2.1 0.8-13.4 0.8 7.1 0.8-12.7 0.8 3.3 0.8 7 0.8-15.2 0.8-7.6 0.8-5.7 0.8 0.1 0.8 14.1 0.8 1.5 0.8-5.1 0.8-3.8 0.8 6 0.8-19.5 0.8 3.4 0.8-1.1 0.8-19.1 0.8 4.8 0.8-16.4 0.8 5.6 0.8 3.8 0.8-13 0.8 2.5 0.8-3.1 0.8 22.5 0.8-26.3 0.8-8.3 0.8-0.5 0.8-3.5 0.8 12.6 0.8-9.6 0.8-4 0.8 2.8 0.8 12.3 0.8-3.3 0.8 10.1 0.8 2.4 0.8 8.8 0.8-1.4 0.8-0.8 0.8-1.8 0.8 2.9 0.8 3.4 0.8-1.9 0.8 5.1 0.8-13.4 0.8-5.2 0.8-4 0.8-8.8 0.8-3 0.8 21.1 0.8-6.6 0.8 8.9 0.8-6.9 0.8-0.9 0.8 12.1 0.8-2.5 0.8-20.3 0.8-0.8 0.8-6.4 0.8-1.4 0.8 4.8 0.8 18.4 0.8-20.7 0.8-1.3 0.8 13.1 0.8-1.1 0.8 14.5 0.8 0.9 0.8-0.2 0.8-8.5 0.8 11 0.8-1 0.8-12.8 0.8 24.8 0.8 11.4 0.8-14 0.8 11.5 0.8-19.3 0.8 4.1 0.8 14.1 0.8 8.2 0.8 3.4 0.8-7.1 0.8-11.8 0.8-3.6 0.8-15.8 0.8 5 0.8 19.2 0.8-2.8 0.8-3.4 0.8-13.8 0.8-0.5 0.8 10.8 0.8 2.1 0.8-5.1 0.8 14.8 0.8-3.3 0.8 20 0.8-0.7 0.8 12.2 0.8-0.7 0.8-5.1 0.8 1.3 0.8 5.1 0.8 20.4M621 128.4l0.8-6.2 0.8 10.2 0.8-8.5 0.8-2.4 0.8-3.6 0.8-0.5 0.8 12.2 0.8-17.1 0.8-10.8 0.8 1.4 0.8 2.3 0.8 4.3 0.8-4.3 0.8 4.2 0.8-6.9 0.8 23.2 0.8-13.1 0.8-4.4 0.8 3.4 0.8-2.9 0.8 12.4 0.8 1.8 0.8-14.9 0.8 1.1 0.8 0.5 0.8-0.5 0.8-4.1 0.8-0.3 0.8 1.8 0.8 2.3 0.8 10.2 0.8 2.7 0.8-9.2 0.8 0.4 0.8 10.8 0.8-5.3 0.8 6.4 0.8-2.7 0.8 3.6 0.8 3.1 0.8-4.2 0.8 5.7 0.8-1.1 0.8 6.8 0.8-0.6 0.8-20.4 0.8 14.5 0.8-0.9 0.8-12.4 0.8 4.9 0.8-9.9 0.8 0.2 0.8-3.9 0.8 11.8 0.8-3 0.8-0.8 0.8 10 0.8-0.4 0.8-6.3 0.8 3 0.8-7.3 0.8 12.6 0.8 1.5 0.8-17.4 0.8 13.1 0.8-3.7 0.8-4.6 0.8 8 0.8-13.2 0.8-9.9 0.8 16.2 0.8-9 0.8 0.5 0.8 9.2 0.8-19.3 0.8-2.3 0.8-19.9 0.8 17.7 0.8-14.7 0.8-5 0.8 8.5 0.8 6.8 0.8 4.7 0.8-4.2 0.8-13.3 0.8 5.6 0.8-3.2 0.8 5.9 0.8 0.2 0.8-1.7 0.8 2.6 0.8-11.2 0.8 6.5 0.8-0.9 0.8 0 0.8-0.8 0.8-0.7 0.8 9.1 0.8-7.1 0.8 6.1 0.8-7.6 0.8 2.1 0.8 1 0.8 4.3 0.8-2.6 0.8 6.9 0.8-6.8 0.8 8.4 0.8-8.3 0.8 14.7 0.8-12.2 0.8 0.4 0.8-12.7 0.8-1.3 0.8-1.1 0.8 2.8 0.8-1.5 0.8 0.6 0.8 0 0.8 1.1 0.8-1.1 0.8 7 0.8 8.7 0.8-4.1 0.8 9.9 0.8 2.4 0.8-8.4 0.8-1.9 0.8-4.7 0.8 6.5 0.8-2.3 0.8-1.9 0.8-3.1 0.8 2.7 0.8-9.5 0.8 14.5 0.8 5.8 0.8-1.5 0.8 9.1 0.8-10 0.8 2.8 0.8-7.1 0.8-14.9 0.8 0.2 0.8 13.5 0.8 1.8 0.8 6.5 0.8 2.6 0.8-10.3 0.8 12.5 0.8 3.4 0.8-11.6 0.8 1.5 0.8-8.6 0.8 13.8 0.8-13.5 0.8 10.3 0.8 2.9 0.8-3.9 0.8-7.7 0.8 9 0.8-14.2 0.8-8.4 0.8 3.6 0.8-1.5 0.8 10.4 0.8-0.8 0.8 17.3 0.8-5.8 0.8 3 0.8 6.8 0.8 0.5 0.8 2 0.8-6.1 0.8 13.7 0.8-9.3 0.8-1.1 0.8 4.4 0.8 5.9 0.8 6.6 0.8-6.1 0.8 9.7 0.8-3.8 0.8 5 0.8 0.3 0.8 6.8 0.8-9.1 0.8 4.7 0.8-4.2 0.8 8.3 0.8 20.2 0.8-3.4 0.8-4.5 0.8-10.4 0.8-8.6 0.8 9.2 0.8 1.9 0.8-5.5 0.8-2.9 0.8 20.7 0.8-5.1 0.8-6.9 0.8 5.8 0.8 8.6 0.8-0.5 0.8 14.9 0.8-3.3 0.8-14.3 0.8 14.1 0.8-12.2 0.8-0.3 0.8-0.7 0.8 23.4 0.8 0.3 0.8 5.8 0.8-9.7 0.8 8.1 0.8 4.9 0.8-0.6 0.8-0.9 0.8 0.8 0.8 3 0.8-9 0.8 6.4 0.8 4.3 0.8-1.9 0.8-7.5 0.8 1.2 0.8 2.6 0.8-1.6 0.8 5.2 0.8-6.8 0.8 8 0.8-1.7 0.8-2.5 0.8-0.5 0.8-0.3 0.8-3.1 0.8 3.4 0.8-0.8 0.8 0.9 0.8-0.6 0.8 0.3 0.8 2.3 0.8-0.5 0.8-2.9 0.8 0.3 0.8-0.7 0.8-1.5 0.8 0.5 0.8 2.4 0.8 5.9 0.8-6.2 0.8-1.8 0.8 0.4 0.8 3.3 0.8-1.1 0.8-1 0.8 0 0.8 0.9 0.8-2.7 0.8-0.8 0.8 1.2 0.8 6.6 0.8 0.8 0.8 1.9 0.8 0.8 0.8-3.3 0.8 7.8 0.8-5.9 0.8-1.2 0.8-2.1 0.8 6 0.8-2.9 0.8-0.3 0.8 4.2 0.8-5.4 0.8 6.2 0.8 2.4 0.8-2 0.8-8.1 0.8-1.7 0.8 5.8 0.8-4.9 0.8 6.3 0.8-6.4 0.8 0.4 0.8-5.7 0.8 2.2 0.8 7.3 0.8 4.4 0.8 1.5 0.8-5.5 0.8 6.6 0.8-6.2 0.8-2.2 0.8-0.1 0.8-4 0.8-0.8 0.8-0.4 0.8 12.1 0.8 0.9 0.8-11.1 0.8 1.9 0.8 7.9 0.8-4.9 0.8-4.4 0.8-2 0.8-1 0.8 2.2 0.8 2.7 0.8 0.4 0.8-3.7 0.8-1.9 0.8 2.9 0.8-0.8 0.8 0.4 0.8 1.3 0.8-4.8 0.8-0.6 0.8 2.3 0.8-0.4 0.8 0.9 0.8 0 0.8-0.7 0.8 4.3 0.8-5.8 0.8 6.8 0.8-6.5 0.8 1 0.8 6.9 0.8-6.2 0.8 4.6 0.8 8 0.8 3.2 0.8-0.9 0.8-9.8 0.8-1.9 0.8 0.5 0.8-1.1 0.8 1.3 0.8 1.2 0.8-0.7 0.8 2.4 0.8-1.2 0.8-3.7 0.8 1 0.8 2.8 0.8 0.8 0.8 2.4 0.8 2.3 0.8-4.2 0.8-0.1 0.8 12.6 0.8-6.4 0.8-11.4 0.8 0.3 0.8 5.7 0.8 8.6 0.8-15.5 0.8 0.5 0.8 10.5 0.8-3.8 0.8-3.5 0.8 3.6 0.8 0.2 0.8-5.5 0.8-3.7 0.8 2.1 0.8 4.3 0.8-4.2 0.8 2.4 0.8-6.4 0.8-2.9 0.8 4.6 0.8-0.7 0.8-14.6 0.8-3.5 0.8 10.5 0.8 5.3 0.8-18.3 0.8 5.9 0.8 1.2 0.8 0.1 0.8-0.2 0.8-5.1 0.8-10.3 0.8-2.3 0.8-7.5 0.8-0.9 0.8-6.1 0.8-6 0.8 5.7 0.8 4.3 0.8-9.2 0.8 2.2 0.8-0.8 0.8 5.5 0.8-5.8 0.8 0.8 0.8 6.4 0.8-6.9 0.8 0 0.8-4.7 0.8 3.3 0.8 0.2 0.8-5.6 0.8-9.4 0.8 0.1 0.8 8.1 0.8 10.4 0.8 3.5 0.8 2.8 0.8 7.8 0.8 2.1 0.8 2.3 0.8 2.5 0.8-4.5 0.8 5.6 0.8 4.8 0.8 2.8 0.8 0.8 0.8-5 0.8 2.5 0.8 0.3 0.8 12.6 0.8 1.5 0.8-4.2 0.8-5.1 0.8-3.2 0.8-0.1 0.8 4.7 0.8 10.3 0.8-8.1 0.8 9 0.8-10 0.8 9.8 0.8-10.3 0.8 0.3 0.8 19 0.8-7.6 0.8-11.3 0.8 2.9 0.8-0.9 0.8 11.2 0.8-6.5 0.8 1.1 0.8 12.5 0.8-4.9 0.8 0.8 0.8 5.3 0.8 2.9 0.8-2.5 0.8-2.8 0.8 5.6 0.8-8.6 0.8-0.7 0.8-2.7 0.8 6.5 0.8-1.2 0.8 0.4 0.8-1.1 0.8 6 0.8 0.5 0.8-3.4 0.8 4.4 0.8-4.7 0.8-3 0.8-3 0.8-7.1 0.8 3 0.8 2.3 0.8 0.3 0.8 0.5 0.8-0.5 0.8 0.1 0.8-0.1 0.8-7.8 0.8 1.4 0.8 0 0.8 3 0.8-2.5 0.8 3.1 0.8-1.8 0.8-1.1 0.8 6.3 0.8 0.5 0.8 0.6 0.8-5.6 0.8 3.4 0.8 0.6 0.8-5.7 0.8 0.9 0.8 0.3 0.8-2.5 0.8 0 0.8-0.2 0.8 0.6 0.8-2.7 0.8 5.1 0.8-2.7 0.8-2 0.8 5.5 0.8-6.1 0.8-0.8 0.8-2 0.8-0.7 0.8-0.5 0.8-2.5 0.8-1 0.8 3.7 0.8-5.8 0.8 12.3 0.8-1.7 0.8-9.6 0.8-1.2 0.8-0.2 0.8-1.9 0.8 6.5 0.8-10 0.8 5.7 0.8-1.3 0.8 3.1 0.8-4.2 0.8 3.8 0.8 1.3 0.8 0.5 0.8-1.5 0.8 2.7 0.8-12.6 0.8 9.5 0.8-6.2 0.8-5.9 0.8-0.5 0.8 11 0.8 2.7 0.8-9.2 0.8-8.9 0.8-5.5 0.8 6.6 0.8-7.6 0.8 6.8 0.8-8.7 0.8 1.9 0.8 17.4 0.8-10.6 0.8 16.2 0.8-8.6 0.8 1.7 0.8 12.1 0.8-4.4 0.8-2.7 0.8 8.9 0.8-0.5 0.8 8 0.8-6.7 0.8 3.7 0.8-6.1 0.8 7.1 0.8 2.3 0.8-6.5 0.8 3.7 0.8 0.8 0.8 19.5 0.8-6.2 0.8 6 0.8-11 0.8 12.4 0.8-5.7 0.8-6.7 0.8-2.7 0.8 5.5 0.8-4.3 0.8 1.2 0.8 1.1 0.8-2.2 0.8-2.8 0.8 15.7 0.8 0.6 0.8-6.2 0.8-9.6 0.8 11.7 0.8-4.6 0.8-8.8 0.8 3.4 0.8 10.7 0.8 3.2 0.8-9.7 0.8-3.8 0.8-4.8 0.8-9.7 0.8 9.4 0.8-10.7 0.8 1.8 0.8-6.8 0.8-2.7 0.8-0.2 0.8-2.3 0.8-8.5 0.8 2.1 0.8 1.6 0.8 6.1 0.8-1.3 0.8-1.1 0.8-8.3 0.8 7 0.8-8.7 0.8 1.5 0.8-2.5 0.8 0.5 0.8 5.4 0.8 2.3 0.8-6.1 0.8 3.2 0.8-1.4 0.8 9.2 0.8-8.4 0.8 3.4 0.8-0.1 0.8-9.5 0.8-4.2 0.8 3.7 0.8 4.6 0.8-4.7 0.8 9.6 0.8-3.6 0.8-3 0.8 6.2 0.8 4 0.8 2.9 0.8-2 0.8 1.2 0.8-5.2 0.8 1.7 0.8 5.5 0.8 0" fill="none" stroke="#ff0000" stroke-width="1.4" stroke-linejoin="round"/>
<path d="M280 163.4l0.8 2.5 0.8 4.9 0.8-3.9 0.8-3.6 0.8 1.4 0.8-2.1 0.8-6 0.8 12.5 0.8 5.1 0.8-3.9 0.8-1.2 0.8-4 0.8-4.1 0.8 13.8 0.8-2 0.8-9.2 0.8 4 0.8 5.8 0.8-5 0.8 7.2 0.8 1.1 0.8-5.4 0.8-1.2 0.8 11 0.8-14.5 0.8-0.2 0.8-0.7 0.8 1.1 0.8-1.2 0.8 0.3 0.8 4.2 0.8 2.3 0.8-7.8 0.8 10 0.8 8.4 0.8-4.6 0.8 2.3 0.8 0.8 0.8-8 0.8-6 0.8-3.3 0.8 3 0.8 9.6 0.8-5.2 0.8-3.1 0.8 13.1 0.8-5.5 0.8 1.9 0.8-13.8 0.8 5.1 0.8 0.9 0.8 4.1 0.8-0.5 0.8-3.4 0.8 3 0.8-1.6 0.8-9.2 0.8 0 0.8 4.2 0.8-2.8 0.8 8.8 0.8-6.2 0.8 3 0.8-4 0.8-0.2 0.8-1.7 0.8-1.9 0.8-0.2 0.8 1.3 0.8 3.4 0.8 1.2 0.8-0.3 0.8 0.3 0.8-0.5 0.8 4.6 0.8-5.4 0.8 7.4 0.8-1.2 0.8-6.6 0.8-0.7 0.8 1.4 0.8-2.1 0.8 0.1 0.8-0.1 0.8 1.7 0.8 2.2 0.8-1.8 0.8-2.8 0.8 3.6 0.8-1.5 0.8 5.6 0.8-6.8 0.8 9.4 0.8-9.3 0.8 8.3 0.8-9.4 0.8 9.4 0.8 0.8 0.8-10.7 0.8 1.8 0.8 4 0.8-2.2 0.8 8.3 0.8-8.7 0.8 9 0.8-6.1 0.8 1.8 0.8 5 0.8-7.9 0.8 0.8 0.8 4.2 0.8-3.4 0.8 13.7 0.8-13.3 0.8 10.4 0.8-4.8 0.8 3.7 0.8-2.2 0.8 4.5 0.8-4.3 0.8 6 0.8-6.8 0.8-2.6 0.8 6.2 0.8-8.1 0.8-0.2 0.8 4 0.8 2.1 0.8-6.5 0.8 8.6 0.8-8.3 0.8 0.2 0.8-0.8 0.8 1.5 0.8 4.9 0.8-8.4 0.8 11.5 0.8-2.7 0.8-1 0.8 0.9 0.8 3.2 0.8-0.5 0.8-6.2 0.8-9.7 0.8-2 0.8 2.1 0.8-2 0.8 9.1 0.8-1.7 0.8-4.7 0.8 0.6 0.8 7.2 0.8-0.8 0.8-10.6 0.8 1 0.8 1 0.8 0 0.8-0.3 0.8 3.5 0.8-0.8 0.8-1.6 0.8 4.8 0.8-3.8 0.8 4.3 0.8-3.1 0.8-2.4 0.8 6.7 0.8-1.1 0.8-0.2 0.8-6 0.8 2.1 0.8-4 0.8 5.7 0.8 4.7 0.8-5.1 0.8-3.5 0.8 0.7 0.8 6.2 0.8 1.8 0.8-7.7 0.8 7.6 0.8 1.5 0.8-1 0.8-7.7 0.8 8.4 0.8-2.3 0.8 6.5 0.8-8.4 0.8 4.6 0.8-1.5 0.8-0.8 0.8-1.7 0.8 7.4 0.8 1.8 0.8-2.2 0.8-3.1 0.8 4 0.8 6.9 0.8-5.1 0.8 6.3 0.8-0.9 0.8-3.9 0.8 4.3 0.8 1.3 0.8 1.1 0.8-5.5 0.8-1.2 0.8 8.5 0.8-4.4 0.8-4.7 0.8 6 0.8-1.3 0.8-0.4 0.8 1.4 0.8-4.2 0.8-3.2 0.8 1 0.8 3.5 0.8-3.8 0.8 5 0.8-6.8 0.8-3.1 0.8 3.6 0.8 0.4 0.8-2.4 0.8-0.3 0.8-5.4 0.8-0.6 0.8-0.7 0.8 2 0.8 4.6 0.8-5.2 0.8 0.4 0.8 3.4 0.8 1.5 0.8-13 0.8 7.6 0.8 1 0.8-0.7 0.8-7.4 0.8 2.6 0.8 3.3 0.8 1.2 0.8-2.1 0.8-4.2 0.8 0.2 0.8 0.5 0.8-1.1 0.8 6.1 0.8-2.6 0.8 4.8 0.8-6.7 0.8 1.6 0.8-1.1 0.8 0.4 0.8 6 0.8-1.4 0.8 0.3 0.8-4.1 0.8 6.7 0.8-2.4 0.8-2.1 0.8-9 0.8-1.5 0.8-5.9 0.8 6.2 0.8 0.8 0.8-6.5 0.8 0.2 0.8 9.4 0.8-12.9 0.8 0.4 0.8 9.6 0.8-1.1 0.8-3.7 0.8 4.5 0.8 4.1 0.8-10 0.8 1.8 0.8 10.9 0.8-2.3 0.8-5.5 0.8 14.9 0.8 0.8 0.8-6.4 0.8-10.7 0.8-7.6 0.8 5.9 0.8 0.8 0.8-14.5 0.8-5.8 0.8 11.8 0.8-18.1 0.8 2.8 0.8 10 0.8-17.9 0.8-1.1 0.8 4.6 0.8-8.7 0.8-2.8 0.8-5.7 0.8 3.4 0.8-13.1 0.8 14.7 0.8-17 0.8 17.1 0.8-17.3 0.8-0.5 0.8 11 0.8-15.4 0.8 16.5 0.8-22.2 0.8-8.8 0.8 25.6 0.8-26.5 0.8 24.3 0.8-35.3 0.8 23.5 0.8-24.3 0.8-12.3 0.8 55.9 0.8-5.4 0.8-14.1 0.8 20.5 0.8 5.3 0.8 8.4 0.8 7.8 0.8-23.7 0.8 9 0.8 6.8 0.8-20.5 0.8-1.9 0.8 0.4 0.8 3.3 0.8 13.2 0.8-15.9 0.8 17.4 0.8-18.3 0.8 24.3 0.8-9.9 0.8 6 0.8-15.7 0.8 17.9 0.8-5.3 0.8 7.7 0.8-6.6 0.8 0.9 0.8 2.3 0.8-2.1 0.8 0.7 0.8-0.4 0.8 14.9 0.8-0.2 0.8 13.1 0.8-25.3 0.8 1.5 0.8-15.8 0.8 3.2 0.8 27.2 0.8 3.8 0.8-7.1 0.8-21.4 0.8 1.2 0.8-0.3 0.8 3.4 0.8-11.5 0.8 23.9 0.8-5 0.8-1.4 0.8 21.2 0.8-8.3 0.8 2.8 0.8-1.2 0.8 2.1 0.8-0.7 0.8-4.7 0.8-1.9 0.8 6.1 0.8-9.6 0.8-2.6 0.8 15.1 0.8 5.2 0.8 8.4 0.8-38.2 0.8 11.9 0.8 12 0.8-22 0.8 16.4 0.8-1.6 0.8-2.1 0.8 13 0.8-9.9 0.8 21.6 0.8 9.3 0.8-13.6 0.8 21.2 0.8 10.5 0.8 1.9 0.8 0.9 0.8-27.3 0.8 3 0.8 7M616 155.6l0.8 15.3 0.8-10.2 0.8 19.7 0.8-45.4 0.8 15.4 0.8-16 0.8 15.4 0.8 13.2 0.8-23.7 0.8 17.3 0.8-8.9 0.8-27.6 0.8 14 0.8 8.7 0.8-13.1 0.8 0.7 0.8-16.1 0.8 18.5 0.8-23.8 0.8 9 0.8-8.5 0.8 1 0.8 9.8 0.8 19.9 0.8-14.6 0.8-10.2 0.8-2.2 0.8 0.6 0.8 17.2 0.8-11 0.8 0.7 0.8-8.1 0.8 17 0.8-20.7 0.8 3.2 0.8 15.5 0.8-17.9 0.8 8 0.8 26.4 0.8-15 0.8-11.8 0.8 25.4 0.8-21.4 0.8 8.7 0.8-12.9 0.8-4.1 0.8 0.4 0.8 21.1 0.8-15.8 0.8 22.9 0.8-4.6 0.8 6 0.8 4.7 0.8-13.2 0.8-1.1 0.8-10 0.8-1.1 0.8 9.8 0.8 16.7 0.8-24.4 0.8 3.1 0.8-0.8 0.8 12.7 0.8 2.6 0.8 1 0.8-0.6 0.8-5.4 0.8-0.3 0.8-7.1 0.8-7.9 0.8 16.8 0.8-15.2 0.8 2.9 0.8 9.2 0.8-14.8 0.8 8.9 0.8-12.7 0.8-8.3 0.8 2.9 0.8-5 0.8 3.7 0.8-1.6 0.8 6.9 0.8-2.6 0.8-10.6 0.8 23.6 0.8-4.8 0.8-1.4 0.8-19.9 0.8-6 0.8 23.5 0.8-5.4 0.8-9.4 0.8 3.9 0.8 0.3 0.8 11.4 0.8-2.9 0.8-4.8 0.8-4.8 0.8-6.9 0.8 0.1 0.8 7.5 0.8-2 0.8-1.3 0.8 7.5 0.8-3.1 0.8-7.6 0.8 4.5 0.8 2.8 0.8 0.3 0.8-8.2 0.8-4.5 0.8 3.2 0.8 10.6 0.8 1.2 0.8-4 0.8 0.5 0.8 0 0.8-7.1 0.8 1.3 0.8 3.5 0.8-5.7 0.8 2.3 0.8-0.7 0.8 2.7 0.8 5.4 0.8-0.6 0.8-2.4 0.8 0.9 0.8 0 0.8-1.4 0.8-1.8 0.8 0.2 0.8 4.3 0.8-9.1 0.8 3.9 0.8-0.9 0.8-5.4 0.8 4.7 0.8-4.9 0.8 3.7 0.8 1.4 0.8 12.2 0.8 2.6 0.8-1.3 0.8-1.4 0.8-11.9 0.8-2 0.8 2.6 0.8-2.5 0.8-3.1 0.8 2.5 0.8 3.1 0.8 0.1 0.8 0.5 0.8-2.9 0.8-0.2 0.8 5.9 0.8 0.2 0.8 3.7 0.8 3.8 0.8-8.5 0.8 2.7 0.8-2.3 0.8 4.6 0.8-4.5 0.8-6.7 0.8 5.7 0.8 0.9 0.8-1.2 0.8-0.7 0.8 3.1 0.8-1.9 0.8 4.2 0.8-2.7 0.8-8 0.8 0.6 0.8 2.7 0.8 4.2 0.8 3.4 0.8-1.7 0.8 15.1 0.8 11.1 0.8-4.7 0.8 12.3 0.8 2.1 0.8-18.9 0.8 18.2 0.8-1.9 0.8 0.3 0.8-9.3 0.8 17.3 0.8 4.7 0.8-13.1 0.8 12.8 0.8-18.4 0.8 5.8 0.8 4.5 0.8 3.9 0.8 6.8 0.8 0.4 0.8-5.5 0.8-14.8 0.8 12.2 0.8-3.5 0.8-6.5 0.8 10.4 0.8-15.6 0.8 9.8 0.8 19.4 0.8-14.5 0.8-28.5 0.8 17 0.8 21.3 0.8-17.9 0.8 4.2 0.8 7 0.8 15.8 0.8 0.2 0.8-5.4 0.8-1.9 0.8-16.8 0.8 42.5 0.8 13.7 0.8-15.4 0.8 6.2 0.8-7.7 0.8-4.5 0.8 7.4 0.8-16.7 0.8 10.9 0.8 4.2 0.8 8.1 0.8-1.4 0.8-3.4 0.8-21.9 0.8 19.4 0.8 1.2 0.8 3.7 0.8 8.8 0.8-21.8 0.8-2.3 0.8 13.6 0.8 9 0.8-9.3 0.8 2.8 0.8-1.9 0.8-13.1 0.8-0.9 0.8-0.1 0.8 2.6 0.8-1.5 0.8-0.5 0.8 0.7 0.8-3 0.8 4 0.8-3.3 0.8 8.8 0.8-7.6 0.8 0.6 0.8 4.8 0.8 1.9 0.8-6.7 0.8 3.8 0.8-1.1 0.8-0.6 0.8 0.5 0.8-0.8 0.8-4.8 0.8 0.6 0.8 6.2 0.8-5.2 0.8-1.3 0.8-0.2 0.8-0.9 0.8 5.7 0.8 4.2 0.8-4.5 0.8-1.5 0.8 11.7 0.8-4.6 0.8 3.1 0.8 1 0.8-9.4 0.8 7.8 0.8-5.3 0.8 5.2 0.8-10.8 0.8 8.2 0.8-3.9 0.8-4.5 0.8 0.9 0.8 4.9 0.8-4.4 0.8 1 0.8-3.3 0.8-1.5 0.8 10.4 0.8 1.1 0.8-4.6 0.8-0.5 0.8 0.8 0.8-1.8 0.8 6 0.8-8.1 0.8 9 0.8-4.6 0.8-1.9 0.8-2.1 0.8-1.9 0.8-0.5 0.8 11.8 0.8 0 0.8 0.7 0.8-8.9 0.8-1.2 0.8-0.5 0.8-3 0.8 7.5 0.8 5.1 0.8-1.9 0.8-4.6 0.8-2.2 0.8 2 0.8 6 0.8-6.9 0.8 1.8 0.8-3.7 0.8 0.2 0.8-2 0.8 5.7 0.8 0.9 0.8-2.6 0.8 9.2 0.8-1.2 0.8-7.5 0.8 4.7 0.8 0.4 0.8-4.9 0.8 6 0.8-5.3 0.8 5.6 0.8-2.5 0.8 6.8 0.8-9 0.8 7.3 0.8-10.3 0.8 1.2 0.8-0.3 0.8 7.7 0.8-0.7 0.8-7.5 0.8 5.3 0.8-2.5 0.8-3.4 0.8 8 0.8-4.8 0.8 5.6 0.8-0.3 0.8 0.4 0.8 2.6 0.8-10.7 0.8 3 0.8 3 0.8 0.5 0.8-8.5 0.8 1.2 0.8-2.1 0.8 9.7 0.8-2.7 0.8 7.9 0.8 0.6 0.8-13.5 0.8 0 0.8 9.5 0.8-16 0.8-2.1 0.8 6.2 0.8 3.5 0.8-10 0.8-4.9 0.8 0.9 0.8 7.4 0.8-2.1 0.8-0.5 0.8-10 0.8 7.3 0.8-5.2 0.8-2.1 0.8 7.8 0.8-2.5 0.8-6.9 0.8 4.1 0.8 0.9 0.8-4.3 0.8-8.3 0.8 4.1 0.8 2.4 0.8-1.1 0.8-1.4 0.8-7.5 0.8-12.7 0.8-6 0.8-6.3 0.8 6.4 0.8 1.1 0.8 10.5 0.8-12.2 0.8 2 0.8 2.7 0.8 5.5 0.8 0.1 0.8-2.1 0.8 4.5 0.8 4.6 0.8-14.8 0.8 4.6 0.8-1 0.8-1.1 0.8 7.3 0.8 6.6 0.8 2.8 0.8-4.9 0.8 7.5 0.8-5 0.8 7.7 0.8 2.1 0.8-1.2 0.8 8 0.8 5.6 0.8-3.4 0.8 8.9 0.8 2.1 0.8-4.6 0.8 0.2 0.8 11.3 0.8 2.8 0.8 3.1 0.8-11 0.8-1.8 0.8-9.4 0.8 2.6 0.8 8.4 0.8-3.9 0.8 3 0.8-6.8 0.8 9 0.8-2.9 0.8 0.2 0.8-2.6 0.8 7.4 0.8-0.5 0.8-5.8 0.8 0.6 0.8 12.2 0.8 1 0.8-3.5 0.8 0.2 0.8-7.4 0.8 2.3 0.8-5.6 0.8-4.7 0.8 10.7 0.8-8 0.8 9.3 0.8-1.6 0.8-11.9 0.8 10.5 0.8-3.7 0.8 0.7 0.8 7.5 0.8-14.6 0.8 1.5 0.8 4.2 0.8-4.2 0.8 1.7 0.8-1.7 0.8 1.7 0.8 9.5 0.8-6.7 0.8 8.7 0.8 4 0.8-12.2 0.8 1.5 0.8-5.2 0.8 3 0.8 6.3 0.8 7.9 0.8-16.6 0.8 8.6 0.8-11.3 0.8 6.2 0.8-0.9 0.8 3.9 0.8-5.3 0.8 1.9 0.8 5.2 0.8-3.6 0.8 3.8 0.8-7.2 0.8 5.8 0.8 3.9 0.8 1.8 0.8-5.4 0.8-5.7 0.8-1.5 0.8 11 0.8 1.7 0.8-12 0.8 0.9 0.8-2 0.8 1.7 0.8 5.6 0.8 4.6 0.8-15 0.8-0.5 0.8 5.3 0.8-3.6 0.8-7.6 0.8 8.9 0.8-5.5 0.8-4.6 0.8-9.2 0.8 4.7 0.8 1.8 0.8 2.6 0.8 9.8 0.8-19.1 0.8-3.1 0.8 12.2 0.8 3.9 0.8-0.2 0.8 2.5 0.8-10.1 0.8 19.9 0.8-16.8 0.8 7.2 0.8-24.8 0.8 1.8 0.8 7.8 0.8-0.4 0.8 2.4 0.8-4.7 0.8 2 0.8 4 0.8-5.6 0.8 14.3 0.8-4 0.8-14.9 0.8 2.2 0.8-20.5 0.8 28 0.8 7 0.8-17.1 0.8-4.3 0.8 2.4 0.8 19.2 0.8-0.3 0.8 6 0.8-5 0.8 3.1 0.8-11.6 0.8 17.2 0.8 1.2 0.8-7.6 0.8 7.2 0.8 1.7 0.8-8 0.8 10.7 0.8-0.1 0.8-1 0.8 10.2 0.8-5 0.8 12.4 0.8-12.7 0.8 17.7 0.8 4.4 0.8-24.7 0.8 12.1 0.8 10 0.8-13.2 0.8-14.4 0.8 17 0.8-0.3 0.8 1.8 0.8-10.3 0.8 8.2 0.8-7.3 0.8-10 0.8-1 0.8 8.5 0.8 1.7 0.8-5.7 0.8 14.7 0.8-1.6 0.8-1 0.8-5.4 0.8-8.5 0.8 0.4 0.8 0.4 0.8-3.2 0.8 3 0.8-2.6 0.8-1 0.8-8.6 0.8 2 0.8-3.3 0.8-6.7 0.8 7.2 0.8 3.2 0.8-5.8 0.8 3.8 0.8-2 0.8-0.3 0.8 2.8 0.8-4.4 0.8-4.8 0.8 0.5 0.8-2 0.8 6.7 0.8-3.9 0.8-5.6 0.8 6.3 0.8-1.7 0.8 3.3 0.8 1.6 0.8-3.7 0.8 3.3 0.8-4.8 0.8-0.5 0.8 0.5 0.8 0.6 0.8-1.1 0.8-0.1 0.8 3 0.8 4.3 0.8 4 0.8-5 0.8 2.1 0.8-0.1 0.8-2.7 0.8 1.3" fill="none" stroke="#00cc2e" stroke-width="1.4" stroke-linejoin="round"/>
<path d="M194 166.5l0.8-8.3 0.8-0.6 0.8 10.2 0.8 1.7 0.8-5.1 0.8 8.4 0.8 3.3 0.8 2.5 0.8-12.9 0.8-2.3 0.8 11.6 0.8-10.8 0.8 0.7 0.8 4.6 0.8 0.4 0.8 7.8 0.8-8.8 0.8 9.3 0.8-8.7 0.8 6.8 0.8-11 0.8 2.1M217 192l0.8 3.6 0.8-12.3 0.8-3.4 0.8-0.6 0.8 8 0.8 3.4 0.8 7.9 0.8-5 0.8 6.2 0.8 4.3 0.8-9.7 0.8 4.2 0.8 3.5 0.8-11.4 0.8 1.8 0.8 12 0.8-0.5 0.8-8.5 0.8 0.5 0.8 9.5 0.8-3.5 0.8-1.6 0.8 4.7 0.8-1.1 0.8 4 0.8-9.4 0.8 7.4 0.8-4.5 0.8-5 0.8 3.1 0.8-11 0.8-1 0.8-3.1 0.8 8.5 0.8-1 0.8-10.7 0.8 0.9 0.8 8.9 0.8-10.5 0.8-1.9 0.8 9.3 0.8-5.7 0.8 0.6 0.8 2.4 0.8-7 0.8 7.7 0.8 5.8 0.8-1.3 0.8 2.1 0.8-6.9 0.8 3.9 0.8-2.7 0.8 1.5 0.8-0.5 0.8 2 0.8-0.5 0.8 4.3 0.8-1.4 0.8 6.4 0.8 0.6 0.8-4.5 0.8 4.2 0.8-1.3 0.8-4 0.8-0.1 0.8 0.3 0.8 4.3 0.8-4.3 0.8-15 0.8 8.8 0.8-10.5 0.8 12.6 0.8 10.1 0.8 0.4 0.8-12.8 0.8 7.5 0.8-2.9 0.8 9 0.8-2.6 0.8-3.3 0.8-6.5 0.8 5.9 0.8-9.2 0.8 16.1 0.8 0.2 0.8-22 0.8 9.6 0.8 3.3 0.8-8.7 0.8 1.5 0.8 1.6 0.8 10.8 0.8-14.7 0.8 9 0.8 8.7 0.8-15.7 0.8 15 0.8-4 0.8-1.1 0.8-0.7 0.8-7.6 0.8 9.5 0.8-8.7 0.8-9.6 0.8-1.7 0.8 8.1 0.8 13 0.8 1.4 0.8-17.1 0.8 9.2 0.8 3.4 0.8-0.3 0.8-2.2 0.8 4 0.8 8 0.8 1 0.8-3.3 0.8-3.4 0.8-0.2 0.8-13 0.8 3.3 0.8 4 0.8 0.7 0.8 1.3 0.8-1.8 0.8-2.2 0.8-5.5 0.8 16.2 0.8-1.4 0.8-2.7 0.8-5.3 0.8 3.9 0.8 8.2 0.8-6.2 0.8-0.9 0.8-1.2 0.8 3 0.8-4.7 0.8-1.5 0.8 3 0.8 0.2 0.8-5.8 0.8-1.9 0.8-0.9 0.8-0.4 0.8 0.6 0.8 3.5 0.8-1.2 0.8 1.5 0.8 1.4 0.8 0.4 0.8 0.4 0.8-2.6 0.8 0.9 0.8-0.4 0.8 1.5 0.8 0.2 0.8-2.2 0.8 2 0.8 0.1 0.8 0.7 0.8-1.1 0.8-1.1 0.8-0.8 0.8-3.5 0.8-1.9 0.8-0.4 0.8-2.4 0.8-2.1 0.8-1.7 0.8 0.8 0.8 0.5 0.8 0.6 0.8-0.8 0.8 0.8 0.8 0.4 0.8 2.1 0.8-1.6 0.8-1.9 0.8-0.6 0.8 2.3 0.8 0.2 0.8 1.1 0.8-3 0.8-0.6 0.8 2.5 0.8 0.4 0.8-2.7 0.8 2.1 0.8 1.5 0.8 3.9 0.8 1.1 0.8-2.9 0.8 1 0.8-2.2 0.8 0.8 0.8 0.7 0.8 0.4 0.8 1.3 0.8 0.5 0.8-2.5 0.8 1.8 0.8-0.1 0.8-2.6 0.8-0.1 0.8-1.9 0.8 1.2 0.8 1.1 0.8 2.1 0.8-0.1 0.8-1.5 0.8-0.5 0.8 0.6 0.8 1.3 0.8 3.5 0.8 1.2 0.8 2.3 0.8 2.5 0.8-2.5 0.8 7.1 0.8-2.2 0.8 0 0.8 2.8 0.8-5.7 0.8 3.2 0.8-0.2 0.8-9.8 0.8 3.8 0.8-8.1 0.8-0.2 0.8 2.3 0.8 1.4 0.8-0.2 0.8-2 0.8-0.3 0.8-0.8 0.8-2.2 0.8-2.8 0.8-0.4 0.8 8.9 0.8 0.8 0.8-1.3 0.8-1.9 0.8 0 0.8 0.5 0.8-1.7 0.8-0.5 0.8-3 0.8 1.8 0.8 0.5 0.8-0.8 0.8-1.1 0.8 0.9 0.8 4.5 0.8-3.1 0.8 5 0.8-6.3 0.8 4.6 0.8-5.4 0.8 6.4 0.8-6.4 0.8 1.4 0.8 6.6 0.8 2.3 0.8-4.7 0.8 1.9 0.8 3.7 0.8-4.7 0.8 1 0.8 2.5 0.8-4.1 0.8-0.2 0.8 15.8 0.8-13.1 0.8 17.6 0.8-2.5 0.8-7.3 0.8 6.7 0.8-10.8 0.8 7.8 0.8-5.1 0.8-1 0.8 8.3 0.8-10.4 0.8 13.1 0.8-10.5 0.8 8.7 0.8-6.7 0.8 0.6 0.8 1.5 0.8 0.3 0.8-7.5 0.8 4.6 0.8 2.6 0.8-0.1 0.8-10 0.8 11.1 0.8 0.1 0.8-1.1 0.8-10.1 0.8-1.4 0.8 5.2 0.8-3.8 0.8-2.7 0.8-2.7 0.8 0.6 0.8 3.7 0.8-0.3 0.8-3.5 0.8 5 0.8-3.8 0.8-1.5 0.8-3 0.8 0.1 0.8 0.3 0.8 4.6 0.8-2.5 0.8-0.6 0.8 2 0.8 3 0.8-1.3 0.8-3.3 0.8 4.5 0.8 0.5 0.8-6.3 0.8 5.5 0.8-1.6 0.8-7 0.8 4.3 0.8-3.6 0.8-1.8 0.8-0.4 0.8-2.9 0.8 5.2 0.8-4.1 0.8 3.7 0.8 3.6 0.8-2.6 0.8-5.1 0.8-1.8 0.8 6.9 0.8 2.6 0.8 2.1 0.8-7.4 0.8-1.2 0.8 8.5 0.8-2.9 0.8-5 0.8 6.7 0.8-5.3 0.8 7.9 0.8 0.6 0.8 0.8 0.8-6.5 0.8 7.2 0.8 1.3 0.8 0.6 0.8-2.8 0.8-7 0.8 7.1 0.8-3.4 0.8 1.1 0.8-1.5 0.8-7.6 0.8 8 0.8-0.9 0.8-7.9 0.8-2.1 0.8-7.2 0.8-2 0.8 7.2 0.8-13.3 0.8-0.2 0.8 4.7 0.8-9.3 0.8 0.6 0.8 8.9 0.8-8 0.8 7.8 0.8 4 0.8-1.5 0.8-7.3 0.8-0.3 0.8 3.5 0.8 7.3 0.8-7.8 0.8-1.2 0.8-7.3M540.2 142.4l0.8-0.2 0.8-1.3 0.8 3.6 0.8-0.8 0.8-10.8 0.8 5.5 0.8 10.9 0.8-12 0.8-8.9 0.8 14.1 0.8 2.8 0.8 17.3 0.8 1.5 0.8 1.1 0.8 9.4 0.8 3.4 0.8 3.6 0.8-1.9 0.8-2.7 0.8 2.5 0.8-13.7 0.8 7.6 0.8 4.8 0.8-5.3 0.8-17.1 0.8 7 0.8-4.6 0.8 10.2 0.8-6.6 0.8 1.3 0.8 5.4 0.8-5.4 0.8 6.1 0.8-12.1 0.8 3.7 0.8-1.7 0.8 4 0.8-0.2 0.8 3 0.8 8.1 0.8-5.3 0.8 8.6 0.8-1.5 0.8-1.3 0.8-0.6 0.8 8.1 0.8-10.1 0.8 2.2 0.8 5.2 0.8-9.7 0.8 2.6 0.8 1.9 0.8 6.7 0.8-10.8 0.8 12.4 0.8-10.5 0.8 11.8 0.8 5.9 0.8-1.8 0.8 0.8 0.8 1.8 0.8 1.1 0.8 8.9 0.8-0.7M621 192.4l0.8-21.6 0.8 9.8 0.8 2.7 0.8-15.6 0.8 7.7 0.8-15 0.8 2.5 0.8 14 0.8 0.7 0.8 6.5 0.8-12.8 0.8-5.7 0.8 2.8 0.8 7.3 0.8-11.8 0.8-6.7 0.8 8.3 0.8 9 0.8-13.2 0.8 16.1 0.8-7.9 0.8 15 0.8-1.6 0.8 4.2 0.8 0.6 0.8 3 0.8 0 0.8 6.3 0.8-15.5 0.8-0.4 0.8-5.3 0.8 0.4 0.8 6.4 0.8-5.4 0.8-1.5 0.8 5.8 0.8-5.3 0.8-8.2 0.8 5.1 0.8 20.9 0.8 3 0.8 0.8 0.8-1.7 0.8-1.5 0.8-18.5 0.8-3.4 0.8 16.4 0.8-16 0.8 12.8 0.8-8.2 0.8 6.1 0.8 22.3 0.8 1.4 0.8-8.5 0.8-23 0.8 13.6 0.8-2.5 0.8-4.2 0.8 11.6 0.8-9.6 0.8 18.1 0.8-5.9 0.8-0.5 0.8-8.4 0.8-8.6 0.8-3.9 0.8 7.7 0.8-9.4 0.8 7.8 0.8 8.4 0.8-4.3 0.8-6.1 0.8-6.6 0.8 2.7 0.8 2.4 0.8 3.8 0.8 24 0.8-10.3 0.8-10.3 0.8-4.4 0.8 7.9 0.8 6.3 0.8-6.1 0.8 0.3 0.8 0.9 0.8-5.4 0.8-0.7 0.8-7.7 0.8 12.4 0.8-14.2 0.8 22.4 0.8 9.7 0.8-3.8 0.8 3.7 0.8-11.6 0.8 15.3 0.8-0.1 0.8-3.7 0.8-4.8 0.8-11.8 0.8 11.8 0.8 1.8 0.8-2.2 0.8-4.8 0.8-0.9 0.8 2.7 0.8-0.2 0.8-4.7 0.8-3.5 0.8-1.3 0.8 2 0.8-9.4 0.8-15.8 0.8 5.4 0.8-18.2 0.8-14.1 0.8 5.4 0.8-1.3 0.8-8.9 0.8-6.7 0.8 23.3 0.8 36.1 0.8 20.4 0.8-5.6 0.8-1.4 0.8-0.3 0.8 4.1 0.8 3.1 0.8-3.6 0.8-3.2 0.8-0.6 0.8 3.2 0.8 1.6 0.8-2.9 0.8-18.4 0.8 6.4 0.8 10.6 0.8-14.2 0.8-27.1 0.8 21 0.8 21.2 0.8 6.7 0.8 0.9 0.8-2.4 0.8-6.2 0.8-2.7 0.8 3.1 0.8 6 0.8 3.2 0.8-3 0.8-3.8 0.8-38.5 0.8-36.7 0.8 33.3 0.8 16.2 0.8-58.4 0.8 1.6 0.8 55.1 0.8 23.1 0.8-6.7 0.8 12.9 0.8 2.3 0.8-3.9 0.8-3.3 0.8-5 0.8-2.7 0.8-8.1 0.8-23.2 0.8-15.6 0.8 19.5 0.8 15.1 0.8-2.1 0.8-13.1 0.8 6.5 0.8-3 0.8-4.5 0.8 14.9 0.8-4.5 0.8 10.1 0.8 15.7 0.8 2.7 0.8-0.7 0.8-3.7 0.8 2.5 0.8 9.2 0.8-4.6 0.8 4.1 0.8-10.8 0.8 11.8 0.8-1 0.8 6.9 0.8-16.7 0.8 2.9 0.8 11.4 0.8-2.7 0.8 0.7 0.8 0.2 0.8-10.2 0.8 10.7 0.8-4.2 0.8-6.1 0.8 13.9 0.8-0.8 0.8-3.1 0.8-3.4 0.8-1.6 0.8-2.3 0.8 3.1 0.8 2.7 0.8 1 0.8-0.4 0.8-0.3 0.8 2.5 0.8-13.2 0.8 10.3 0.8-17.7 0.8-2.5 0.8 21.1 0.8-13.2 0.8 5.1 0.8 10.8 0.8-16.3 0.8 12.5 0.8-5.2 0.8 13.5 0.8-7.6 0.8 1.5 0.8 6.4 0.8 8.1 0.8-13.3 0.8-7.4 0.8 15.5 0.8-3.6 0.8-5.6 0.8 8.6 0.8-3.6 0.8 3.7 0.8-0.8 0.8-13.9 0.8-2.2 0.8 0.8 0.8-10 0.8 6.8 0.8-0.9 0.8-6.2 0.8 2.9 0.8-3.2 0.8-3 0.8 0.3 0.8-0.6 0.8-5.6 0.8 6.7 0.8-7.6 0.8 5.8 0.8-1.1 0.8 5 0.8 4.1 0.8-4.2 0.8 6 0.8-1.2 0.8-3 0.8 0 0.8 0.2 0.8-7.3 0.8 1.4 0.8 4.7 0.8 0 0.8-0.2 0.8-3 0.8 1.5 0.8-0.2 0.8 1.6 0.8-3.4 0.8-1.4 0.8 3.4 0.8-1.9 0.8 0.7 0.8 2.3 0.8-0.3 0.8-1.1 0.8 1.5 0.8 2.7 0.8-1.5 0.8 5.4 0.8-0.1 0.8 1.2 0.8-0.7 0.8 10.4 0.8-1.5 0.8 3.3 0.8-7.3 0.8 6.4 0.8-3.3 0.8-2.3 0.8-7.1 0.8-1.9 0.8-4.5 0.8 1.6 0.8-2.7 0.8 4.2 0.8-5 0.8 0.2 0.8 0.6 0.8 9 0.8-7 0.8 1.4 0.8 4.3 0.8-6.8 0.8 8.9 0.8-4.3 0.8-3.4 0.8 4.3 0.8-1.7 0.8-1.7 0.8-0.3 0.8 7.7 0.8 0.3 0.8 1.5 0.8 3.7 0.8 1.5 0.8 2 0.8-2.6 0.8-4.5 0.8 9.2 0.8-5.7 0.8 9.2 0.8 0.3 0.8 1.5 0.8 0.6 0.8-3.1 0.8 1.3 0.8-4.4 0.8 5.6 0.8 0.4 0.8 0.9 0.8-0.7 0.8-1.1 0.8-10.9 0.8 9.7 0.8 1.8 0.8-13.8 0.8 3.6 0.8 2 0.8 5.9 0.8 6.5 0.8-3.3 0.8-2.6 0.8-0.5 0.8 2.2 0.8-5.4 0.8 0.3 0.8 3.2 0.8 4.9 0.8-7.7 0.8-4 0.8-5.5 0.8 8.3 0.8-4.4 0.8-0.8 0.8 3.1 0.8 1.3 0.8-1.4 0.8-0.3 0.8 4.4 0.8 2 0.8-6.5 0.8-2.1 0.8-4 0.8-5.1 0.8 3.5 0.8-2.1 0.8 2.2 0.8 6.6 0.8-13.4 0.8 1.9 0.8-1.7 0.8-2.2 0.8 7 0.8-0.9 0.8 2.5 0.8-9.9 0.8-3.3 0.8 6.9 0.8-3.3 0.8 11.6 0.8-6.9 0.8 13.8 0.8-0.4 0.8-2.5 0.8 3.7 0.8-0.3 0.8 3 0.8 3.1 0.8-0.3 0.8-8.7 0.8-7.8 0.8 6.3 0.8-9.6 0.8 15.4 0.8 5.8 0.8-3 0.8-1.5 0.8-4.8 0.8 6.7 0.8-3.1 0.8 1.2 0.8-9.3 0.8-0.7 0.8 4.8 0.8-4.4 0.8 5.8 0.8 0.8 0.8-0.6 0.8-2.7 0.8 1.4 0.8 3.9 0.8 7.2 0.8 1.7 0.8-1 0.8-5.3 0.8 1.3 0.8 5.1 0.8-17.7 0.8-4.3 0.8 3.6 0.8-1 0.8-3.1 0.8 7.3 0.8-7 0.8-2.3 0.8 2.7 0.8 7.5 0.8-12 0.8-0.4 0.8-0.8 0.8-1.6 0.8 2.9 0.8 3 0.8 1.2 0.8 5.5 0.8-4.4 0.8 9.9 0.8-1.9 0.8 1.5 0.8-11 0.8 2.5 0.8-6 0.8 1.6 0.8 7.8 0.8-2.8 0.8 0.1 0.8 1.4 0.8-4 0.8-9.3 0.8 4.5 0.8-0.8 0.8-1 0.8-0.5 0.8 6.8 0.8-0.4 0.8-7.8 0.8 5.2 0.8-3.4 0.8-2.8 0.8-4.4 0.8 3.6 0.8 7 0.8 0.5 0.8 4.7 0.8-9.5 0.8-10.1 0.8-0.3 0.8 1.2 0.8 3 0.8-5.1 0.8 3.8 0.8 2.8 0.8 2.1 0.8-6.6 0.8 3.8 0.8 4.8 0.8-3.9 0.8 2.8 0.8-7.7 0.8-3.5 0.8-3.3 0.8 6.4 0.8-2.9 0.8-2.3 0.8-0.5 0.8-5.9 0.8-0.4 0.8 8.8 0.8 1.1 0.8-0.5 0.8-1.1 0.8-0.4 0.8-9 0.8 6.3 0.8 4.7 0.8 2.2 0.8-3.5 0.8-8.7 0.8 5.6 0.8-3.2 0.8 11.3 0.8 2.7 0.8-6.7 0.8-10 0.8 14.7 0.8-3.2 0.8-1 0.8-4.5 0.8 2.6 0.8-10 0.8-2.7 0.8 7.8 0.8-2.6 0.8-8.1 0.8 3.8 0.8-5.3 0.8-1.7 0.8 11.7 0.8-1.1 0.8-10.9 0.8 9.3 0.8 0.4 0.8-4 0.8-1.1 0.8 4.3 0.8-9 0.8 12 0.8 0 0.8-3.6 0.8-7.7 0.8-2.4 0.8 9.7 0.8-11.8 0.8 7.2 0.8-19.7 0.8 7.7 0.8-0.5 0.8-2.4 0.8 24.2 0.8 6.5 0.8-11.9 0.8-5.7 0.8 10.6 0.8-14.7 0.8 20.6 0.8-4.9 0.8 6.3 0.8-7.3 0.8 4.9 0.8 2.9 0.8 4.6 0.8 9.6 0.8-6.5 0.8 1.7 0.8 2.9 0.8-7.6 0.8 13 0.8 14.3 0.8-2.2 0.8-10.9 0.8 9.4 0.8-11.8 0.8 3.1 0.8-6.1 0.8 1 0.8-9.1 0.8 14.2 0.8-12.2 0.8 7 0.8 5.3 0.8 2.5 0.8-6.5 0.8-8 0.8-6.3 0.8-1.4 0.8 1.2 0.8 11.1 0.8 3.3 0.8-8.7 0.8 3.5 0.8 6.1 0.8-1 0.8-11.6 0.8 9.6 0.8 6.5 0.8-1.9 0.8-12 0.8 6.7 0.8-5.5 0.8-5.6 0.8-4.3 0.8-6.4 0.8-2.3 0.8-3.2 0.8-6.7 0.8-0.4 0.8-0.8 0.8-7.1 0.8 2.9 0.8-6 0.8-8 0.8-3.7 0.8-9.6 0.8 3.4 0.8 4.5 0.8 12.2 0.8 1.8 0.8-1.2 0.8-1.9 0.8 0 0.8 0.5 0.8 1.6 0.8-1.7 0.8 1.1 0.8-1.9 0.8 1.1 0.8 8.4 0.8 2.7 0.8 0.6 0.8-3.1 0.8-2.1 0.8-1.6 0.8 3 0.8-1.2 0.8-2.9 0.8-2.2 0.8 0 0.8 6.9 0.8 0.8 0.8 5.2 0.8 1.1 0.8 3.8 0.8-1.6 0.8-1.4 0.8-4.8 0.8 1.7 0.8 1.3 0.8-0.7 0.8 1.4 0.8 2.4 0.8 1.8" fill="none" stroke="#0000ff" stroke-width="1.4" stroke-linejoin="round"/>
<path d="M235 175.6l0.8 4.4 0.8 1.2 0.8 0.4 0.8-8 0.8 14.3 0.8-9.2 0.8-2 0.8-4.4 0.8 3.8 0.8 10.7 0.8-5.5 0.8-7.3 0.8 4.1 0.8 2.1 0.8 7.7 0.8-0.6 0.8-4.6 0.8 8.5 0.8-1.9 0.8-9.5 0.8 9.8 0.8-1.7 0.8 2.6 0.8-5.9 0.8 2.6 0.8-12.1 0.8 5.7 0.8-11.3 0.8 10.6 0.8-11.8 0.8 9.6 0.8 0.1 0.8-8.7 0.8 6.7 0.8-2.8 0.8 11.3 0.8-9.3 0.8 3 0.8-7 0.8 9.8 0.8-6.1 0.8 8.8 0.8 0 0.8-10.5 0.8 4.1 0.8-2.8 0.8 13.9 0.8-4.5 0.8-15.6 0.8 10.2 0.8 3 0.8-14.5 0.8 3.4 0.8-1.3 0.8-2.8 0.8 0.6 0.8 12.3 0.8-9.4 0.8 7.1 0.8-7 0.8-4.6 0.8 7.9 0.8 9 0.8 0.7 0.8 2.1 0.8-8.5 0.8-9.4 0.8-0.2 0.8 15.5 0.8-5.3 0.8 6.7 0.8-0.2 0.8-5.7 0.8 2.3 0.8-6.3 0.8 4.4 0.8-8.6 0.8-0.7 0.8 8.6 0.8 1 0.8-1.3 0.8-5.5 0.8 0.7 0.8 12.7 0.8-15.8 0.8 11.2 0.8-0.8 0.8-6.9 0.8-4.2 0.8 5.1 0.8 8.8 0.8-7.6 0.8 2.9 0.8-2.2 0.8-3.6 0.8 6.1 0.8 3 0.8-2.8 0.8 3.8 0.8 2.2 0.8-12.6 0.8 2.6 0.8 5 0.8-1 0.8-3.8 0.8 3.1 0.8 0 0.8 6.2 0.8-9.2 0.8 7.5 0.8 1 0.8-6.6 0.8 2.7 0.8 0.7 0.8 2.9 0.8-4.3M390.2 180.7l0.8 1.6 0.8-1.5 0.8-7.4 0.8 3.7 0.8-1 0.8 6.1 0.8-0.8 0.8-0.3 0.8 2.2 0.8 0.2 0.8-5 0.8 5.5 0.8-2.1 0.8 2.4 0.8-7.1 0.8-0.9 0.8 5.9 0.8-5.5 0.8 5.5 0.8-5.2 0.8 9.2 0.8-4.4 0.8-3.8 0.8 2 0.8 1.5 0.8 1.4 0.8-4.9 0.8 4.2 0.8-1.4 0.8 0.5 0.8-4.5 0.8-1.6 0.8 0.4 0.8 3.9 0.8-2.1 0.8 2.8 0.8-0.2 0.8 4 0.8-3 0.8 5.2 0.8-1.3 0.8-4.9 0.8 4.1 0.8-1.4 0.8 1.2 0.8 1.6 0.8-0.9 0.8 1.8 0.8-1.1 0.8-6.3 0.8 2 0.8-1.3 0.8 9.1 0.8-0.6 0.8 2.1 0.8-3.7 0.8 2.6 0.8 2.7 0.8-4.1 0.8 2 0.8 2.3 0.8-3.5 0.8 1.8 0.8-5.4 0.8 4.4 0.8 1.1 0.8 3.4 0.8-1.8 0.8 0 0.8-0.1 0.8-0.8 0.8 3.8 0.8-0.2 0.8-0.7 0.8-4.7 0.8 2.1 0.8-6.7 0.8-0.5 0.8 0.3 0.8 1.1 0.8-1.4 0.8 2.6 0.8-5.4 0.8-0.9 0.8 4.6 0.8 3.5 0.8-0.4 0.8-2.9 0.8 0.6 0.8-1.8 0.8 3.4 0.8-2.6 0.8 2.3 0.8-2.1 0.8-2.3 0.8-3.8 0.8 4.2 0.8-2 0.8 2.2 0.8-0.6 0.8-1.3 0.8-0.2 0.8-2.1 0.8-3.7 0.8-2.5 0.8 5.5 0.8-3.8 0.8 6.6 0.8 0.6 0.8 0.2 0.8-9.6 0.8 6.2 0.8 2.7 0.8-6.3 0.8 5 0.8 2.3 0.8-2 0.8-0.5 0.8-3.6 0.8-6 0.8 3.5 0.8-0.8 0.8 3.4 0.8-2 0.8-2.7 0.8 2.8 0.8-4.7 0.8 3 0.8-1 0.8 2.4 0.8-3.7 0.8 6.2 0.8-0.6 0.8-8.1 0.8 2.9 0.8 0.4 0.8-4 0.8 3.7 0.8 3.8 0.8-5.7 0.8 3.7 0.8 3.5 0.8 1.9 0.8-3 0.8 0.6 0.8 2.8 0.8-1.8 0.8-1.5 0.8-5.1 0.8-1.7 0.8-10.7 0.8 3.3 0.8 1.6 0.8-4.2 0.8-7.5 0.8 12.8 0.8-7.5 0.8-5 0.8-8.5 0.8 12.5 0.8-11.9 0.8 14.7 0.8-28.3 0.8 21.4 0.8-38.5 0.8 25.6 0.8-24.3 0.8-6.4 0.8 0.7 0.8 19 0.8 0.9 0.8-21.2 0.8 13.2 0.8-8.9 0.8 20.5 0.8-2.6 0.8-5.4 0.8-7 0.8-4.5 0.8-3.7 0.8-3.9 0.8-6.5 0.8 5.2 0.8 1.6 0.8-9.6 0.8 6.7 0.8-12.4 0.8-3.1 0.8 21 0.8-14 0.8-6.2 0.8 12.3 0.8 9.1 0.8 2.7 0.8 3.9 0.8-0.9 0.8-3.5 0.8-0.3 0.8 1 0.8 0.4 0.8-0.5 0.8-0.4 0.8-0.6 0.8 1.4 0.8 4.2 0.8 2.1 0.8-1.8 0.8-2.7 0.8-2 0.8 0.1 0.8-15.3 0.8-5.8 0.8 13.9 0.8 4 0.8 5.1 0.8 2.4 0.8-9.4 0.8 9.4 0.8-1.6 0.8-12.7 0.8 7.7 0.8 17.5 0.8 0.8 0.8 1.2 0.8 0.6 0.8-1.4 0.8 11.3 0.8 1.6 0.8-4 0.8 2.6 0.8 6.6 0.8 1.9 0.8-1.8 0.8-3.4 0.8-3.1 0.8-0.5 0.8-4.8 0.8 13.2 0.8-24.2 0.8-2 0.8-1 0.8-14.5 0.8 18.4 0.8 8.6 0.8 17.9 0.8-5.8 0.8-5.2 0.8-5 0.8 7.6 0.8 17.1 0.8 7.8 0.8 1.3 0.8-1.1 0.8-11.8 0.8 25.9 0.8-1.8M621 140.6l0.8-5.5 0.8-15.3 0.8 19 0.8-19.7 0.8 16 0.8-16.9 0.8-7.9 0.8 26.5 0.8-27.6 0.8 4.5 0.8 4.5 0.8-4.1 0.8 8.6 0.8-16.5 0.8 2.1 0.8 16.4 0.8-4.8 0.8-3.4 0.8 5.2 0.8 4.4 0.8-1.4 0.8-0.3 0.8-3.1 0.8-11.1 0.8 7.8 0.8-8.7 0.8 14.5 0.8-7.2 0.8-9.9 0.8 0.8 0.8-0.8 0.8 4.5 0.8 10.4 0.8-3.8 0.8 7.1 0.8-6.5 0.8 2.3 0.8 4.7 0.8-2.7 0.8-1.8 0.8 9.7 0.8-9.4 0.8 7.2 0.8 2.4 0.8 11.8 0.8-14 0.8-3.8 0.8 0.7 0.8 2.1 0.8 6.7 0.8-3.2 0.8 5.8 0.8-0.7 0.8-8.8 0.8 3.6 0.8 0.8 0.8-3.4 0.8 4 0.8 1.6 0.8 1.5 0.8-8.3 0.8 0.4 0.8-5.7 0.8 11.4 0.8-1.9 0.8-0.6 0.8-4.2 0.8-10.7 0.8 7.8 0.8 6.1 0.8-2.9 0.8-13.1 0.8 5.8 0.8-2.1 0.8-16 0.8 0.1 0.8 15.1 0.8 0.8 0.8-2.4 0.8-3 0.8-3.3 0.8-6.8 0.8-6.4 0.8-1.8 0.8-0.6 0.8 4.7 0.8-11.2 0.8-7.4 0.8 10.9 0.8-17.9 0.8-0.1 0.8 10.8 0.8-2.1 0.8 4 0.8 3.2 0.8 5.6 0.8-4.9 0.8-3.6 0.8-4 0.8 1.1 0.8-3.5 0.8 9.3 0.8-2.1 0.8 2.5 0.8-6.3 0.8 7.4 0.8 3.7 0.8 0.3 0.8 8.4 0.8 3.3 0.8 1.5 0.8-5.5 0.8 3.8 0.8-9.3 0.8 4.5 0.8 1 0.8 2.5 0.8-8.7 0.8-7.4 0.8-3.2 0.8-7 0.8 5 0.8 5.8 0.8-0.8 0.8 1 0.8 15.9 0.8-1.3 0.8 0.2 0.8-2.2 0.8 2.6 0.8-6.1 0.8 5.2 0.8-1.4 0.8-12.1 0.8-12.3 0.8-8.6 0.8 23.5 0.8-3.5 0.8-0.2 0.8 15.4 0.8-1.8 0.8 3.4 0.8 0.5 0.8 2.2 0.8 0.6 0.8-1.2 0.8 0.1 0.8-0.8 0.8-2.1 0.8 0 0.8 1.1 0.8 0.5 0.8-0.9 0.8-3.2 0.8-9.3 0.8 9.6 0.8-3.3 0.8-3.5 0.8 4.5 0.8-4.9 0.8-1.4 0.8-9.1 0.8 10 0.8-15.8 0.8 14 0.8 2 0.8-11.7 0.8 10 0.8 19 0.8-0.8 0.8 3.1 0.8 3.8 0.8 2.2 0.8-3.2 0.8-1.6 0.8 3.5 0.8-3 0.8-2.6 0.8 1.9 0.8 2.5 0.8 8.1 0.8-1.3 0.8 2.6 0.8-1.5 0.8 5.1 0.8 11.6 0.8-12.9 0.8 16.9 0.8 2.7 0.8 6.7 0.8-16.1 0.8 19 0.8-14.9 0.8 10.5 0.8 0.1 0.8-21.2 0.8 7.5 0.8 2.9 0.8 5 0.8 21.2 0.8-9.5 0.8 17.7 0.8-20.6 0.8 0.5 0.8 2.9 0.8 21.8 0.8-5.9 0.8-25 0.8 6.5 0.8 7.8 0.8-9.6 0.8 3.6 0.8 9.5 0.8 9.4 0.8-1.3 0.8-2.1 0.8 10.6 0.8 5.3 0.8-9.5 0.8 0.3 0.8-0.7 0.8 7.3 0.8-7.3 0.8 10 0.8-3.7 0.8-2.5 0.8-6.9 0.8 0.4 0.8 12.1 0.8-10.6 0.8 2.7 0.8 6.4 0.8-5.1 0.8 3.4 0.8-5.4 0.8 5.7 0.8-7.6 0.8 0.7 0.8 0.3 0.8 1.3 0.8 1.1 0.8-2.6 0.8 5.3 0.8 0.6 0.8-3.1 0.8 3.8 0.8-0.2 0.8-5.6 0.8-1.5 0.8 3.5 0.8-3.7 0.8 6.2 0.8 1.5 0.8 0.3 0.8-7.4 0.8 5.5 0.8 1.8 0.8-1.4 0.8-3 0.8-0.1 0.8-1.6 0.8 3.6 0.8 1.5 0.8-0.1 0.8 2 0.8 5.4 0.8 0.1 0.8-1.8 0.8-5.2 0.8 3.3 0.8-8 0.8 7.5 0.8-5.3 0.8-2.5 0.8 5.1 0.8-0.4 0.8-0.5 0.8 0.7 0.8 9.1 0.8-5.7 0.8-4.1 0.8-0.6 0.8 7.4 0.8 3.7 0.8-6.6 0.8-0.2 0.8 0.4 0.8-1.8 0.8-0.9 0.8 7.4 0.8-7.7 0.8 3.9 0.8 3.7 0.8-8.7 0.8 8.5 0.8-0.3 0.8-5.4 0.8 5.2 0.8-6.3 0.8 8.7 0.8-2.1 0.8-7.2 0.8 7.1 0.8 0.3 0.8-8.7 0.8 6 0.8-3 0.8 4.8 0.8-2.9 0.8-0.5 0.8-6.2 0.8-0.5 0.8 1.2 0.8-1.9 0.8-3.2 0.8 2.7 0.8-0.8 0.8 1.5 0.8 1.3 0.8-1 0.8-1.7 0.8 2.7 0.8 4.3 0.8-3.7 0.8 2.5 0.8 3.5 0.8-1.5 0.8 0.8 0.8 1.1 0.8 0.1 0.8-4 0.8-1.7 0.8 8.6 0.8-7.9 0.8 2.8 0.8-1.3 0.8 1.1 0.8 4.2 0.8-5.2 0.8 6.7 0.8-3 0.8-1.1 0.8 3.3 0.8-5.5 0.8 6.6 0.8-1.8 0.8 3.6 0.8-4.6 0.8-2.9 0.8 1.3 0.8-5 0.8 5.7 0.8-5.2 0.8 5.7 0.8-6.4 0.8 9.4 0.8 0.3 0.8 3.8 0.8 0.8 0.8 2.3 0.8-0.4 0.8-0.7 0.8-6.6 0.8 3.3 0.8-4.6 0.8 3.6 0.8-11.7 0.8 4.2 0.8-2.7 0.8-0.2 0.8 7.7 0.8-7.2 0.8-9.6 0.8-2.9 0.8 6.4 0.8 2 0.8-9.2 0.8 5 0.8-0.7 0.8 3.1 0.8 3 0.8-2.8 0.8-8 0.8-0.5 0.8 7.3 0.8-4.8 0.8-8.9 0.8-7.3 0.8 2.6 0.8-8.2 0.8-0.4 0.8-6.9 0.8-3.4 0.8-2.2 0.8 0.3 0.8-2.3 0.8-4 0.8 10.6 0.8 2 0.8 2.1 0.8-5.4 0.8 1.7 0.8-5.8 0.8-0.7 0.8 0.9 0.8-4.1 0.8-2.1 0.8-0.1 0.8-1.9 0.8 2.9 0.8 6.7 0.8-4.4 0.8 1.7 0.8 9.2 0.8 1.8 0.8 4.8 0.8 1.5 0.8 2.7 0.8 0.4 0.8 0.8 0.8 2.7 0.8-3.7 0.8 16.7 0.8 3 0.8-1.8 0.8-2 0.8-1.7 0.8-5.9 0.8 10.2 0.8-16.3 0.8 0.9 0.8 15.1 0.8-1.2 0.8-6.3 0.8 10.9 0.8 8.4 0.8-16.9 0.8 14.5 0.8 2.2 0.8-16 0.8 21.7 0.8-9.6 0.8-8.2 0.8-0.4 0.8 2.5 0.8 15.5 0.8-6.7 0.8 8 0.8 1.8 0.8-8 0.8 0.7 0.8 0.8 0.8 0.1 0.8 6.8 0.8-6.6 0.8-3.1 0.8 0.8 0.8-0.2 0.8-3.8 0.8-4.2 0.8-0.8 0.8 2.1 0.8 2.4 0.8 0 0.8-0.1 0.8 10.2 0.8-2.3 0.8-11.7 0.8-0.9 0.8 1 0.8-0.1 0.8 2.1 0.8-6.9 0.8 1.2 0.8 2.6 0.8 2.4 0.8 1.2 0.8-5.9 0.8-2.3 0.8-0.2 0.8 6 0.8 1.9 0.8-1.8 0.8-0.6 0.8-1.5 0.8 7 0.8-0.7 0.8-4.6 0.8 1.4 0.8-3.1 0.8-0.5 0.8 2.6 0.8 1.4 0.8-1.7 0.8-0.6 0.8-0.9 0.8-2.6 0.8-1.8 0.8 5.3 0.8 1.1 0.8-3.2 0.8 0.4 0.8 4.6 0.8-5.9 0.8-1 0.8-2.4 0.8-4.7 0.8 6 0.8-7.2 0.8 2.2 0.8 5 0.8-12.7 0.8 6 0.8-2.5 0.8 11.2 0.8-10.8 0.8 11.2 0.8-14.2 0.8 7.5 0.8 4.5 0.8-2.5 0.8 0.5 0.8-13.1 0.8-1.2 0.8 4.3 0.8 5 0.8 6.3 0.8-4.1 0.8 2.8 0.8-5 0.8 5.4 0.8-18 0.8-0.7 0.8-4.4 0.8 3.2 0.8 7.4 0.8-1.2 0.8 6.3 0.8-10.1 0.8-11.7 0.8 6.7 0.8 3.6 0.8-0.2 0.8-10.5 0.8 0.8 0.8 0.9 0.8 17.4 0.8-10.5 0.8 1.1 0.8 4.2 0.8 20 0.8-15.5 0.8 10.9 0.8 10.2 0.8-8.1 0.8-2.7 0.8 12.5 0.8-10.8 0.8 4.5 0.8-0.8 0.8 6.7 0.8-2 0.8-6.1 0.8 4.8 0.8 11.7 0.8-8.2 0.8 2.4 0.8 0.1 0.8 14.2 0.8-0.9 0.8-16.2 0.8 1.9 0.8 4.9 0.8 8.2 0.8-1.2 0.8-13.4 0.8 0.4 0.8 2.1 0.8-4.4 0.8 12.9 0.8-12.9 0.8 3.6 0.8-1.4 0.8 11.1 0.8-4.7 0.8 10.6 0.8-13.4 0.8-7.4 0.8 6.3 0.8-1.5 0.8-12.2 0.8 2.2 0.8-4.3 0.8-9.8 0.8 4.7 0.8-7.3 0.8-3.3 0.8-5.9 0.8-0.9 0.8 4.7 0.8-3.3 0.8-0.2 0.8 3.6 0.8-3.9 0.8-2.5 0.8 11.4 0.8-10.8 0.8 6.2 0.8 1.3 0.8-6.6 0.8 3.5 0.8 2.8 0.8-1.1 0.8-3.7 0.8-1.8 0.8 10.5 0.8 1.8 0.8-9.8 0.8-7.4 0.8 0.6 0.8-0.5 0.8 10.4 0.8-11.1 0.8 4.8 0.8-5.8 0.8 3.3 0.8 4.5 0.8 5.7 0.8 2.1 0.8 3 0.8-9.1 0.8 2.3 0.8 11.3 0.8-8.2 0.8 4.9 0.8 5.4" fill="none" stroke="#ff0000" stroke-width="1.4" stroke-linejoin="round"/>
<path d="M280 169.3l0.8 1.4 0.8 6.3 0.8-6.5 0.8 2.3 0.8-5.3 0.8-3.7 0.8-6 0.8 0.6 0.8 12.2 0.8-9 0.8 9.8 0.8-5.5 0.8 4.9 0.8-0.9 0.8-2 0.8-7.8 0.8 3.9 0.8 10.8 0.8-8.4 0.8-2.2 0.8-4 0.8 1.8 0.8 7.3 0.8-4.4 0.8 4.4 0.8-4.2 0.8 7.7 0.8-7.2 0.8 0 0.8 3.3 0.8 4.1 0.8 3.8 0.8-8.6 0.8 4.3 0.8 1.9 0.8-0.9 0.8 9.6 0.8-8.6 0.8 1.7 0.8-3.6 0.8-6.9 0.8 5.2 0.8-1.2 0.8 14.1 0.8-7.9 0.8-5.2 0.8 10.9 0.8-6.1 0.8 3.6 0.8 0.1 0.8-6.1 0.8 2.2 0.8-7.1 0.8 12 0.8-15.8 0.8 6 0.8-7.8 0.8 3.3 0.8-2.4 0.8 7.1 0.8 4.6 0.8-10 0.8 0.4 0.8 4.9 0.8-3.3 0.8 1.7 0.8 1.1 0.8-0.9 0.8-1.2 0.8 3.7 0.8 2.6 0.8 2.1 0.8 1.8 0.8-8 0.8-3.4 0.8 2.2 0.8 4.7 0.8-5.1 0.8 4.7 0.8-4.5 0.8 3.5 0.8-3 0.8 1.7 0.8 3.3 0.8-3.2 0.8 3.9 0.8-6.8 0.8-2.5 0.8 4.7 0.8-7.7 0.8 1.5 0.8 8.4 0.8 1.5 0.8-2.6 0.8-4.2 0.8 9.1 0.8 0 0.8-2.2 0.8 3.5 0.8-0.3 0.8-5.2 0.8 1 0.8 3.7 0.8-0.2 0.8-9 0.8 11 0.8-6.8 0.8 7.9 0.8-10.6 0.8-1 0.8 7.4 0.8-5.8 0.8 0.3 0.8 0.1 0.8 12.2 0.8-0.3 0.8-3.3 0.8-1.5 0.8-1.4 0.8 9 0.8-3.2 0.8-7.6 0.8 8.3 0.8-9 0.8 1 0.8 2.5 0.8-5 0.8 0.2 0.8 5.6 0.8-3.4 0.8-0.2 0.8-4 0.8 7 0.8-6.6 0.8 3.3 0.8-2.5 0.8 4.2 0.8 1.4 0.8-11.1 0.8 1.2 0.8 9.3 0.8 3.1 0.8-7.8 0.8 3.4 0.8-9 0.8-1 0.8 4.6 0.8-2.4 0.8 4.1 0.8 3.7 0.8-8.8 0.8 0.4 0.8 3.8 0.8-0.2 0.8-1.1 0.8-2 0.8-1.5 0.8 8.9 0.8-10.6 0.8 10.4 0.8-4.7 0.8-5.4 0.8 7.5 0.8 0.9 0.8 0.8 0.8-6.1 0.8 2.2 0.8 2.8 0.8-0.8 0.8-2 0.8-0.4 0.8-2.5 0.8-2.4 0.8 3.9 0.8-5 0.8 4.6 0.8 2 0.8 3.1 0.8-2.4 0.8 7.7 0.8-0.6 0.8-2.1 0.8 3.8 0.8-1.5 0.8-2.5 0.8-5.3 0.8 2.9 0.8 3.4 0.8-6 0.8 9.8 0.8-9.5 0.8 4.4 0.8 5.1 0.8-5.9 0.8 4.5 0.8 7.5 0.8 1.7 0.8 1 0.8-8.8 0.8 10.7 0.8-4.5 0.8-3 0.8-1 0.8 0.3 0.8 10 0.8-4.6 0.8-5.8 0.8 0.2 0.8-1.2 0.8-3.6 0.8 5.2 0.8 1 0.8-1.2 0.8 2.9 0.8-4.4 0.8-0.7 0.8-3.5 0.8-0.4 0.8 5.7 0.8 0.7 0.8-6.1 0.8 3.5 0.8-5.9 0.8-2.3 0.8 3.1 0.8 0.2 0.8 2.7 0.8-1.2 0.8-7.4 0.8 3.9 0.8 0.1 0.8 1.9 0.8-1.7 0.8-3.8 0.8-3.6 0.8 6.8 0.8-0.6 0.8-9.9 0.8 1.9 0.8 4.1 0.8-2.7 0.8 8.5 0.8 3.1 0.8 2 0.8-4.5 0.8 3.4 0.8-8.4 0.8-0.6 0.8 2.9 0.8 1.6 0.8-0.1 0.8 1 0.8-8.5 0.8 8.6 0.8-5 0.8-6.8 0.8 0 0.8 5.1 0.8-1.1 0.8-0.8 0.8 6.3 0.8-8.8 0.8-0.4 0.8 4 0.8-8.1 0.8-4.9 0.8 6.1 0.8 4.9 0.8-2.2 0.8 3.9 0.8-18.7 0.8 7.6 0.8 0.4 0.8 12 0.8-3 0.8 4.6 0.8-3.1 0.8 3.1 0.8-4.5 0.8-1.4 0.8 6.7 0.8 4.9 0.8-9 0.8-0.5 0.8 8.3 0.8-4.9 0.8-2.1 0.8-0.2 0.8-1.5 0.8-15.3 0.8-0.8 0.8-0.9 0.8 1 0.8-1.1 0.8-17.2 0.8 16.6 0.8-9.5 0.8-6.9 0.8-11.5 0.8 9.3 0.8-18.1 0.8 7.2 0.8-0.3 0.8-8.9 0.8 4.3 0.8-15.9 0.8 18.4 0.8-21.7 0.8 27.6 0.8-27.8 0.8 22.7 0.8-6.7 0.8-23.9 0.8 18.1 0.8-33.8 0.8 6 0.8-3.5 0.8 22.6 0.8-15.7 0.8-5.6 0.8-7.6 0.8 11.3 0.8 14 0.8 15.1 0.8-6.3 0.8 11.2 0.8 8.8 0.8-13.1 0.8 7 0.8 7.4 0.8-5.8 0.8-9.2 0.8 4.8 0.8 22.9 0.8-2.6 0.8-13.9 0.8-12.4 0.8 9.4 0.8-11.2 0.8 23.9 0.8 14.1 0.8-6.4 0.8 0.1 0.8 2.7 0.8-2.6 0.8-20.7 0.8 9.2 0.8 14.9 0.8 3.1 0.8-18.6 0.8 15.4 0.8 10.4 0.8-5.4 0.8-30.2 0.8 0.6 0.8-2.7 0.8 2.8 0.8-1 0.8-3 0.8 33.4 0.8-12.1 0.8 4.7 0.8-4.4 0.8 1 0.8-22.7 0.8 8.3 0.8-3.4 0.8 32.7 0.8-8.3 0.8 9.6 0.8-21.3 0.8 9 0.8-6.1 0.8 15.4 0.8 3.2 0.8 1.8 0.8-2.7 0.8 10 0.8-19.7 0.8 8.1 0.8-19.9 0.8 28.2 0.8-4.4 0.8-1.6 0.8-22.1 0.8 35.9 0.8-1.2 0.8-30 0.8 15.4 0.8 5.9 0.8 7.1 0.8-5.3 0.8 18.1 0.8 2 0.8-3.2 0.8 15 0.8-16 0.8-2.6 0.8-6.4 0.8 32 0.8-2.5 0.8-20.9M616 156l0.8 11.7 0.8-23.8 0.8 31.6 0.8-30.3 0.8-16.6 0.8 20 0.8 11.8 0.8-20.5 0.8-2.4 0.8 7 0.8 11.5 0.8-9.6 0.8-6.2 0.8 7.6 0.8-3.2 0.8 2.7 0.8-26.8 0.8 16.5 0.8 8.2 0.8-14.7 0.8-7.3 0.8 21.4 0.8-7 0.8-4.2 0.8 14.6 0.8-18.5 0.8-6.9 0.8 15.2 0.8-4.9 0.8-8 0.8-9.6 0.8-6.1 0.8-0.6 0.8 8.6 0.8-9 0.8-1.3 0.8 16 0.8-8.4 0.8 4.5 0.8 12.5 0.8-14.3 0.8 6.2 0.8-10.4 0.8 26.8 0.8-22.7 0.8 11.7 0.8-15.4 0.8 31.1 0.8 2 0.8-11.1 0.8-8.4 0.8-3.2 0.8-3.1 0.8 7.2 0.8 7.3 0.8-12.4 0.8-6.2 0.8 2.4 0.8 16.1 0.8-3.7 0.8-1.6 0.8-3.3 0.8 12.8 0.8-18.1 0.8 4.8 0.8 10.8 0.8-10.2 0.8 6.2 0.8-9.2 0.8 10.7 0.8 5.4 0.8 1.1 0.8-12.7 0.8 0 0.8 2.2 0.8-5.4 0.8-13.7 0.8-0.2 0.8 7.1 0.8 9.5 0.8-24.9 0.8 1.5 0.8-8.1 0.8 25.2 0.8-28.6 0.8 7 0.8 13 0.8-21.4 0.8-11.6 0.8 23.2 0.8 17.2 0.8-12.2 0.8 11 0.8-3.6 0.8 6.2 0.8 6.1 0.8-2.9 0.8 1.2 0.8-1.9 0.8-4.9 0.8 3.9 0.8-9.6 0.8 1.2 0.8 1.8 0.8-1.3 0.8-1 0.8-2.5 0.8 2 0.8 3.3 0.8 0.8 0.8-2.9 0.8 1.1 0.8 4.4 0.8 5.8 0.8 3.6 0.8-1.6 0.8-4.9 0.8-2.8 0.8-6.1 0.8-0.1 0.8-2.4 0.8-2.1 0.8 3.3 0.8-4.5 0.8 1.4 0.8 8.8 0.8-5 0.8 6.1 0.8 5 0.8-2.1 0.8-3.7 0.8 1.5 0.8 6.1 0.8 0.8 0.8-0.1 0.8-0.6 0.8-0.4 0.8-5.9 0.8-3.4 0.8 6.8 0.8-3 0.8-0.4 0.8-4.2 0.8 3.1 0.8 1.3 0.8-8 0.8 4.3 0.8-1.7 0.8-9.2 0.8 0.7 0.8-7.5 0.8 7.5 0.8 2.9 0.8 3.5 0.8-2.1 0.8-2.8 0.8 5.3 0.8 4.5 0.8-2.5 0.8 4.8 0.8 1.6 0.8-5.8 0.8-0.5 0.8 4.1 0.8-1.7 0.8-0.5 0.8-5.9 0.8 0.4 0.8-1.2 0.8-1.4 0.8 4.5 0.8-3.3 0.8 1.2 0.8 2.6 0.8-3.6 0.8 1.8 0.8 2.4 0.8 2 0.8 6.1 0.8 0.7 0.8-4.1 0.8 12.6 0.8-2 0.8 4.5 0.8-3.9 0.8 10.6 0.8 6.1 0.8 3.7 0.8-3 0.8 8.1 0.8-6.9 0.8-13.1 0.8 16.5 0.8-10.4 0.8-4.8 0.8 9.9 0.8-13.7 0.8 12.9 0.8 7.4 0.8-15.1 0.8 17.2 0.8-15.1 0.8-1.9 0.8-3.3 0.8 4 0.8 7.7 0.8-15.8 0.8 32.9 0.8-17.7 0.8-22.1 0.8 13.5 0.8-11.1 0.8 8.1 0.8 24.6 0.8 11.9 0.8 6.1 0.8-33.1 0.8 13.3 0.8 12.3 0.8-27.2 0.8 38.6 0.8-34.3 0.8 26.2 0.8-22.3 0.8 33.2 0.8 15.9 0.8-24.7 0.8 3.8 0.8 4.9 0.8-13.4 0.8 28.2 0.8 1.8 0.8 3.9 0.8-29.7 0.8-7.2 0.8 12.5 0.8 20.1 0.8-19.2 0.8 3.8 0.8 24.3 0.8-25 0.8 16.5 0.8 1 0.8-12.2 0.8 1.6 0.8-12.2 0.8 0.8 0.8 0 0.8-1.7 0.8 5 0.8-7.1 0.8-2.4 0.8 1.9 0.8 4.2 0.8-6.5 0.8-1.3 0.8 0.6 0.8-0.1 0.8 0 0.8 2.3 0.8 2.2 0.8-4.2 0.8 0.3 0.8-0.9 0.8-1.5 0.8 3.4 0.8 7 0.8 1.5 0.8-10.3 0.8 1.7 0.8 5.4 0.8-0.2 0.8 1.3 0.8-8.3 0.8-0.1 0.8 6.7 0.8-4.2 0.8 7.2 0.8-0.3 0.8-6.8 0.8 6.7 0.8-2.7 0.8 3.6 0.8 2.1 0.8-12.9 0.8 1.6 0.8 0.6 0.8 3.7 0.8 2.8 0.8-1.8 0.8-0.7 0.8 1.2 0.8 7.5 0.8-5.5 0.8 2.4 0.8-5.5 0.8 5.8 0.8-6.9 0.8 9.7 0.8-0.3 0.8 0.4 0.8-4.2 0.8-6.8 0.8 10 0.8-5.3 0.8-2.5 0.8 4 0.8 0.3 0.8 0.1 0.8-2.6 0.8-8 0.8 6.6 0.8 2.3 0.8 1.1 0.8-2.1 0.8-3.3 0.8-1 0.8 7.6 0.8-2.1 0.8-6.2 0.8 9.7 0.8-3.1 0.8-3.8 0.8-1 0.8 0.4 0.8 2.4 0.8 9.2 0.8-4.4 0.8-0.2 0.8-1.1 0.8-0.8 0.8-5.3 0.8 2.1 0.8-0.1 0.8-1.8 0.8 5.5 0.8-0.8 0.8-5.3 0.8 5 0.8-4.9 0.8 5.3 0.8 0 0.8 4.2 0.8-6.2 0.8-1.3 0.8 2.3 0.8 4 0.8-4.8 0.8 5.5 0.8 1.9 0.8 0.6 0.8-13.2 0.8 0.7 0.8 4.8 0.8-1.3 0.8 9.9 0.8-0.4 0.8-1.7 0.8-6.9 0.8 9.2 0.8-5.4 0.8-5.3 0.8 11.4 0.8-14.8 0.8 4.8 0.8 1.2 0.8 0 0.8-4.6 0.8 7.3 0.8-7.7 0.8 5 0.8-1.9 0.8 2.8 0.8-6.3 0.8 8.1 0.8-8 0.8-1.5 0.8-3.1 0.8-0.1 0.8 0.2 0.8-4.1 0.8-6.3 0.8-0.3 0.8 11.2 0.8-3.1 0.8 5.9 0.8-7.7 0.8-2.7 0.8-7.2 0.8 0.8 0.8 8.7 0.8-1.5 0.8-2.9 0.8-18.9 0.8 10.9 0.8-7.4 0.8 0.3 0.8-12.6 0.8 13.6 0.8-2.3 0.8 2.8 0.8-11.5 0.8-5.7 0.8-11.5 0.8 9.3 0.8 5.8 0.8 4.7 0.8 4.5 0.8 3.3 0.8 0 0.8 0.7 0.8 2.1 0.8 4.1 0.8 4.3 0.8-1 0.8-16.8 0.8-5.8 0.8 2.8 0.8-1.5 0.8-1.5 0.8 15.2 0.8 3.4 0.8-1.6 0.8 5.2 0.8 2.7 0.8 2.9 0.8 6.6 0.8 1.6 0.8-4.4 0.8 12.2 0.8-5.8 0.8-8.8 0.8 7 0.8 5.4 0.8 2.8 0.8-12.9 0.8 0 0.8 15.8 0.8-7.1 0.8 6.9 0.8-6.7 0.8 9.5 0.8-5.5 0.8-6.6 0.8-0.1 0.8 8.3 0.8 0.4 0.8-7.8 0.8 1.3 0.8 6.4 0.8 1.2 0.8-13.1 0.8 1 0.8 5.7 0.8-2.2 0.8 8 0.8-3.8 0.8 8.1 0.8-11.2 0.8 4.7 0.8-6.9 0.8-2.4 0.8 8.4 0.8 4.7 0.8-0.3 0.8-7.8 0.8-6.9 0.8 9.7 0.8 2 0.8 2.9 0.8-14.8 0.8 2.6 0.8 8.9 0.8 4.6 0.8-2 0.8 2.7 0.8-5.9 0.8-3.1 0.8 8.1 0.8-1.5 0.8 3.9 0.8-1.5 0.8-4.9 0.8-9.4 0.8 11.5 0.8-6.5 0.8 8.4 0.8 1.1 0.8-15.4 0.8 3 0.8 8.5 0.8-5 0.8-2.9 0.8 10.3 0.8-9.4 0.8 12.6 0.8 3.1 0.8 1.9 0.8-10.4 0.8-4.6 0.8-6.6 0.8-2 0.8 16 0.8 0.9 0.8-12.8 0.8 17.4 0.8-0.5 0.8 0 0.8-8.7 0.8-2.9 0.8 1.3 0.8-0.9 0.8 5.5 0.8-12.5 0.8 5.1 0.8-4.8 0.8 0.1 0.8 3.9 0.8 9 0.8-11.9 0.8-8 0.8-2 0.8 0 0.8 4.3 0.8-1.6 0.8-7.4 0.8 5.1 0.8 3.9 0.8-19.7 0.8 5.3 0.8-4.9 0.8 26.2 0.8 0.9 0.8-10.9 0.8 16.9 0.8-10.7 0.8-5.8 0.8 10 0.8-5.2 0.8-12.7 0.8 6.7 0.8-8.9 0.8-1.6 0.8 22.6 0.8-26.2 0.8-3.5 0.8 5.1 0.8-7.4 0.8-13.1 0.8 12.4 0.8-11.5 0.8-11 0.8 9.4 0.8 26 0.8-11.9 0.8 21.6 0.8 6.9 0.8-11.7 0.8-0.4 0.8-5.3 0.8 5.3 0.8 6.1 0.8 0 0.8-0.2 0.8 8.3 0.8-9.2 0.8 14.7 0.8-5.1 0.8 11.2 0.8-17.6 0.8 5.3 0.8 12.6 0.8-9.5 0.8 11.3 0.8 1.3 0.8-17.1 0.8 15.5 0.8 12.9 0.8-10.4 0.8-9.7 0.8 0.4 0.8 2.3 0.8-7.8 0.8 11.6 0.8-16.5 0.8 22.7 0.8-12.9 0.8 1.8 0.8-2.6 0.8 5.2 0.8-2.3 0.8 9.2 0.8-3.4 0.8-10.8 0.8 3.6 0.8-9.3 0.8-0.5 0.8 6.2 0.8-0.3 0.8 1.5 0.8-9.2 0.8 5.4 0.8 0.3 0.8-1.6 0.8-5.8 0.8-8.2 0.8-2.8 0.8 4.5 0.8-9.4 0.8 4.3 0.8-0.8 0.8 1.8 0.8 5.5 0.8 1.6 0.8-8.7 0.8 5.6 0.8 3 0.8-14.5 0.8 6.9 0.8 0.2 0.8 3.1 0.8-4.7 0.8-2.9 0.8 1.5 0.8 5.4 0.8-8.1 0.8 6.6 0.8 0 0.8-2.8 0.8-0.5 0.8 4.1 0.8-0.1 0.8-0.4 0.8 2 0.8-8.3 0.8 9 0.8-7.2 0.8 8.1 0.8-2.3 0.8 3.8 0.8-3.2 0.8 2.5" fill="none" stroke="#00cc2e" stroke-width="1.4" stroke-linejoin="round"/>
<path d="M194 163.7l0.8 2.8 0.8-4.1 0.8 6 0.8 0.3 0.8 2.8 0.8-2 0.8 7.7 0.8 0.7 0.8-1.5 0.8 0.5 0.8-5.8 0.8 0.6 0.8 2.3 0.8 1.4 0.8-6.4 0.8 7.1 0.8-6.9 0.8 6.9 0.8 3 0.8-6.5 0.8 9.9 0.8-11.1M217 199.1l0.8-2.5 0.8-2.1 0.8-1.8 0.8-5 0.8-2.3 0.8 7 0.8 0.6 0.8-8.1 0.8 15.7 0.8-5.1 0.8 8 0.8-3.9 0.8-2.9 0.8 8.2 0.8-4.5 0.8-10.7 0.8 9.8 0.8 3.3 0.8-2 0.8 1.3 0.8-3.2 0.8 6.9 0.8-5.1 0.8 6.7 0.8-2.6 0.8-3.4 0.8 5.9 0.8-1.1 0.8-7.9 0.8-0.7 0.8-6.2 0.8 7.4 0.8-13 0.8 0.2 0.8 7.6 0.8-9.5 0.8-0.4 0.8-5.8 0.8-1.2 0.8 8 0.8-7.7 0.8 10.7 0.8-13.4 0.8 3.8 0.8-1.4 0.8 13.3 0.8-1.3 0.8-8.2 0.8-0.4 0.8 1.7 0.8 14.1 0.8 2.7 0.8 0.2 0.8-2.1 0.8-1.3 0.8 2.7 0.8-7.8 0.8 12.3 0.8 1.3 0.8-1.2 0.8-9.5 0.8-0.7 0.8 13.4 0.8-4.1 0.8-8.6 0.8-1.5 0.8-6 0.8 6.9 0.8-3.2 0.8-3.9 0.8 7.2 0.8-9.1 0.8 12.3 0.8 10.6 0.8-6.5 0.8 1.1 0.8 0.5 0.8 5.6 0.8-17.1 0.8 5.3 0.8-3.7 0.8-3.6 0.8-4.1 0.8 13.6 0.8-8.4 0.8 11.4 0.8-2.2 0.8 0.5 0.8 6.1 0.8-7.6 0.8 8 0.8-6.2 0.8-9.1 0.8 2.3 0.8 7.1 0.8-17.9 0.8 9.6 0.8-9.9 0.8 5.6 0.8 0.9 0.8-11 0.8 20.1 0.8-6.9 0.8-1 0.8 3.9 0.8 8.7 0.8 0 0.8-2.9 0.8-6.4 0.8 8.3 0.8-16.1 0.8 15 0.8-14.2 0.8 1.7 0.8 7.3 0.8 1.9 0.8-10.2 0.8 5 0.8 11.8 0.8-0.4 0.8-16.8 0.8 15.6 0.8-6.5 0.8 7.3 0.8-14.5 0.8-1.5 0.8 7.7 0.8-2.7 0.8-3.9 0.8 5 0.8 4.5 0.8-5.7 0.8 12.6 0.8-2.3 0.8-2.9 0.8-3.5 0.8-7.4 0.8 6.3M392.2 194.1l0.8-2.6 0.8 9.1 0.8 0.8 0.8-13.8 0.8 9.9 0.8-16.9 0.8 3.7 0.8 10.8 0.8-5.5 0.8-0.4 0.8-2.6 0.8-4.1 0.8 4.5 0.8-2.2 0.8-2.8 0.8-0.3 0.8-0.6 0.8 2.5 0.8-0.2 0.8 2.8 0.8-2 0.8 4.5 0.8-4.4 0.8-0.5 0.8 1.6 0.8-2.4 0.8 2.8 0.8-5 0.8-1.7 0.8 3.7 0.8 0.2 0.8-4.3 0.8 2.5 0.8 3.2 0.8-1.3 0.8 2.8 0.8 3.4 0.8 0.1 0.8-6.2 0.8 1.9 0.8 1.1 0.8 6.2 0.8-2.9 0.8 6.3 0.8-4.2 0.8 4.3 0.8 0.2 0.8 2.2 0.8-0.1 0.8 0.8 0.8-3.7 0.8-5.2 0.8 6.2 0.8 4.3 0.8 0.1 0.8 5.9 0.8-4.4 0.8-3.6 0.8 1.7 0.8 0.1 0.8-10.3 0.8 3.2 0.8 3.4 0.8 3.1 0.8-3.4 0.8 6.4 0.8-3.2 0.8-2.2 0.8-2.7 0.8 5.2 0.8-0.9 0.8-1.6 0.8-5.9 0.8 8.3 0.8-4.1 0.8 3.2 0.8-12.3 0.8 11.6 0.8-3.8 0.8 4.2 0.8-4.3 0.8-7.5 0.8 6.1 0.8-2.1 0.8-2.8 0.8-1.2 0.8 2 0.8 1.8 0.8-1.5 0.8-4.1 0.8 1.1 0.8 5.1 0.8-2.4 0.8-2.2 0.8-2 0.8-0.6 0.8 3.7 0.8-3.8 0.8-0.9 0.8 2.1 0.8-0.6 0.8-2.4 0.8 7.2 0.8-4.4 0.8-0.9 0.8 5 0.8-7.1 0.8 0.4 0.8 1.9 0.8-1.3 0.8 3.7 0.8-6.4 0.8 3.6 0.8-6.5 0.8 4.4 0.8 1 0.8 0.1 0.8 3.2 0.8-2.3 0.8-6.8 0.8 2.2 0.8 5.3 0.8-3.4 0.8 5.6 0.8-4.6 0.8 3.6 0.8-3.8 0.8-0.8 0.8-1.1 0.8 4 0.8 3.6 0.8-1.2 0.8 1.9 0.8-3.6 0.8-5.8 0.8 4.4 0.8 1 0.8 1.3 0.8-3.5 0.8-1.3 0.8 1 0.8-2.3 0.8 0.9 0.8-0.1 0.8 1.1 0.8 4.9 0.8 0.9 0.8-3.4 0.8 0.3 0.8-7.2 0.8-11.7 0.8 8.8 0.8-1.5 0.8-3.8 0.8-0.6 0.8-4.1 0.8 0.8 0.8-11.3 0.8 11.8 0.8-4.8 0.8 1.1 0.8 1.9 0.8-4.3 0.8-0.3 0.8 10 0.8-5.5 0.8 6.6 0.8-16.2 0.8 3.6M540.2 130.7l0.8 8.2 0.8-4.5 0.8 4.8 0.8 2.8 0.8-12.4 0.8 17.2 0.8-11.1 0.8 14.7 0.8 1.4 0.8 4 0.8 6.4 0.8 7.1 0.8 0.9 0.8 4.1 0.8-0.4 0.8 6.1 0.8-0.1 0.8-4.3 0.8-2 0.8 5.9 0.8 1.2 0.8 1.4 0.8-0.7 0.8-1.9 0.8-11.9 0.8 2.1 0.8-10.5 0.8 13.8 0.8-0.2 0.8-8.4 0.8 12 0.8-4.5 0.8 1.1 0.8-3.4 0.8 2.6 0.8 2.6 0.8 2.5 0.8 0.4 0.8-1.5 0.8 1.8 0.8-0.9 0.8-3.6 0.8 5.7 0.8-7.6 0.8 8.3 0.8 1.9 0.8-10 0.8 9.1 0.8-1.2 0.8-6.8 0.8 5.1 0.8-2.7 0.8-2 0.8-2 0.8 2.6 0.8-1.4 0.8 6.5 0.8-3.1 0.8 8.6 0.8 5.5 0.8 3 0.8-2.6 0.8 2.6 0.8-3.2M621 183.7l0.8-14.4 0.8 14.9 0.8 4.9 0.8 1.2 0.8-28.5 0.8 25.7 0.8-4.1 0.8-16.6 0.8 8.3 0.8-2.1 0.8 3.6 0.8-7.9 0.8 13.3 0.8-3 0.8-0.8 0.8 3.9 0.8-3.3 0.8 6.8 0.8 4.6 0.8 2.4 0.8-9.1 0.8 5.8 0.8-9 0.8 6.8 0.8 0.6 0.8 3 0.8 3.1 0.8-5.5 0.8 7.3 0.8-2 0.8 1.7 0.8-3.7 0.8-26.6 0.8 3 0.8 2.4 0.8 2.5 0.8 8.1 0.8 5.2 0.8-8.3 0.8 6.6 0.8 12.5 0.8-6.3 0.8 5.4 0.8-1.7 0.8-10.4 0.8 8.4 0.8-2.5 0.8 5.5 0.8-12.2 0.8 9.1 0.8 9.3 0.8 1.7 0.8 4.2 0.8-3.6 0.8-5.9 0.8-15.9 0.8-6.8 0.8 9.1 0.8 6.9 0.8 15.3 0.8-5.3 0.8 1.8 0.8-0.3 0.8-18 0.8 1.1 0.8 8.8 0.8 4.4 0.8-2.9 0.8 5.6 0.8 4.1 0.8-2.9 0.8-2 0.8 0.3 0.8 0.8 0.8-7.8 0.8-30.8 0.8 44 0.8 1.1 0.8-5.6 0.8 0.1 0.8 4.4 0.8-2.5 0.8-2.6 0.8 2.9 0.8 4.3 0.8 1.7 0.8-3 0.8-11.8 0.8-10.6 0.8 9 0.8-1.6 0.8 9 0.8 7.6 0.8-3.1 0.8 0.6 0.8 0.7 0.8 2.3 0.8-3.7M792.2 216.2l0.8-8.3 0.8-4 0.8 1.6 0.8-0.6 0.8 5.3 0.8 8 0.8-6.4 0.8-5.4 0.8 17 0.8-5.1 0.8 1.5 0.8-14.1 0.8 15 0.8-10.6 0.8 12.8 0.8-15.7 0.8-5.4 0.8 14.1 0.8-8.1 0.8 14.1 0.8-4.3 0.8 4.2 0.8-1.8 0.8-2.4 0.8 1.2 0.8-10 0.8-2.6 0.8-2.5 0.8-1.7 0.8 2.7 0.8-7.5 0.8 2.8 0.8 0.5 0.8 0.3 0.8-2.7 0.8-2.8 0.8 0.1 0.8 2.9 0.8 0.4 0.8-1.4 0.8-2.9 0.8-7 0.8-2.7 0.8 0.1 0.8 10 0.8-7.5 0.8 6 0.8 0.3 0.8-4 0.8-0.5 0.8 5.2 0.8-3.9 0.8 3.6 0.8 1 0.8-0.1 0.8-0.5 0.8 0.6 0.8 1.2 0.8-1.1 0.8-2.7 0.8 0.9 0.8-1.5 0.8-1.5 0.8 3.1 0.8 1.4 0.8 0.5 0.8-2.5 0.8 5.2 0.8 2.4 0.8 2.3 0.8 1.7 0.8 4.2 0.8-7.5 0.8 3.4 0.8-4.6 0.8 4.6 0.8 0.7 0.8 5.4 0.8-6.3 0.8 2.1 0.8-5 0.8 3.6 0.8-6.8 0.8 0.3 0.8 0.1 0.8 3.4 0.8-7.7 0.8-1.9 0.8 1.9 0.8 3.1 0.8-0.5 0.8-4.3 0.8 6.6 0.8-0.5 0.8-4.6 0.8 1.3 0.8 0.9 0.8-3.2 0.8 4 0.8 2 0.8-1.6 0.8-1.2 0.8 1.7 0.8 5 0.8 3.7 0.8 3.5 0.8-5.3 0.8 7.4 0.8-0.3 0.8-0.6 0.8 5.6 0.8 0.8 0.8-0.4 0.8 2.2 0.8 0.6 0.8-1.6 0.8-0.4 0.8 1.6 0.8-0.2 0.8 0.4 0.8 0.9 0.8-0.7 0.8-6.1 0.8-4.9 0.8 8.9 0.8-2.2 0.8-0.1 0.8 3.7 0.8-3.2 0.8 7.8 0.8-3.3 0.8-2.8 0.8-6.6 0.8 10.5 0.8-0.8 0.8-4 0.8-4.5 0.8-0.1 0.8 4.5 0.8 0 0.8-9.1 0.8 1.6 0.8 9.5 0.8 0.1 0.8-6.4 0.8-0.3 0.8 3.9 0.8-0.5 0.8-0.6 0.8 0.5 0.8 2 0.8 1.4 0.8-1.7 0.8-4.4 0.8-4.2 0.8-7.9 0.8 4 0.8-5.4 0.8-2.9 0.8 9.6 0.8-7.8 0.8 4 0.8 1.9 0.8-5.7 0.8 9 0.8 0.8 0.8-1.5 0.8-0.6 0.8 0.8 0.8 3.6 0.8 2.6 0.8 0.8 0.8-1.8 0.8-0.8 0.8-2.2 0.8 3.8 0.8-16.3 0.8-3.6 0.8-7.7 0.8 17.6 0.8-12.8 0.8 13 0.8-3.5 0.8 8.9 0.8-8.1 0.8 7.7 0.8 12 0.8-5.3 0.8 10.3 0.8 3.9 0.8-1.1 0.8-3.3 0.8-0.5 0.8 2.5 0.8 3.5 0.8-1 0.8-10 0.8-7.3 0.8 7.5 0.8 0.9 0.8 0.2 0.8-0.2 0.8-5.3 0.8 8.3 0.8-2.8 0.8 0.9 0.8-2.7 0.8 4.7 0.8-2.3 0.8 3.2 0.8 0.6 0.8 0.6 0.8-9.3 0.8 5 0.8-9.7 0.8 11.1 0.8-9 0.8-1 0.8 0.5 0.8 7.7 0.8-5 0.8 2.2 0.8-6.2 0.8-6.4 0.8 2.8 0.8-2.9 0.8 1.3 0.8 3.5 0.8-7.1 0.8-3.4 0.8 4.8 0.8-4.7 0.8 1.5 0.8 5.5 0.8-1.2 0.8 7.6 0.8-6.3 0.8-6.2 0.8 5.8 0.8-0.4 0.8-1.1 0.8 3.5 0.8 0 0.8-1.4 0.8-1.2 0.8-7 0.8 4.2 0.8 3.3 0.8-5.6 0.8 3.3 0.8-0.5 0.8-0.2 0.8 1.9 0.8-5.7 0.8 1.2 0.8-0.5 0.8-4.8 0.8-3.8 0.8-1.3 0.8-1.4 0.8-4 0.8 6.4 0.8-3.8 0.8 4.8 0.8-1.8 0.8-4.6 0.8 7.4 0.8-3.9 0.8 6.8 0.8-11.5 0.8 1.2 0.8-4.4 0.8 4.6 0.8-4.5 0.8 6.5 0.8-1.2 0.8-2.3 0.8-7.6 0.8-1 0.8 2.3 0.8-6.7 0.8 7.6 0.8-4.8 0.8 0.3 0.8-6 0.8-5.6 0.8 13.3 0.8 5.7 0.8-7 0.8 1.3 0.8-3.5 0.8-1.6 0.8 11.1 0.8-2.2 0.8 8.8 0.8-8.8 0.8-8.6 0.8 2.3 0.8 6.8 0.8-5.6 0.8 5.7 0.8-1.7 0.8-1.1 0.8-3.4 0.8-1.4 0.8 0.3 0.8-2.9 0.8-1.9 0.8 7.6 0.8-1.4 0.8-1 0.8 2.7 0.8-10.2 0.8 5 0.8-1.1 0.8-2.8 0.8 4.7 0.8-11.7 0.8 12.7 0.8-9.8 0.8 5.9 0.8 1.4 0.8 1.2 0.8-6.1 0.8 9.3 0.8-21.1 0.8 11.5 0.8-4.1 0.8 0.4 0.8 10.8 0.8 5.8 0.8 2.1 0.8-2.4 0.8 2.9 0.8-19.4 0.8 12.8 0.8 8 0.8 1.4 0.8 6.6 0.8 1.7 0.8-4 0.8 12.2 0.8-10.5 0.8 12.8 0.8-16.2 0.8 22.9 0.8-7.2 0.8 11.2 0.8-12.1 0.8 2 0.8-0.7 0.8 0.1 0.8-4.3 0.8 13.1 0.8-2.1 0.8-1.4 0.8-6.9 0.8 8.9 0.8 0.7 0.8-14.4 0.8 5.6 0.8-3.7 0.8 1.9 0.8 0.7 0.8 6.2 0.8-14.2 0.8 12.3 0.8 1.4 0.8 1.6 0.8-1.2 0.8 0.3 0.8-10.9 0.8 9.8 0.8-8.7 0.8-0.7 0.8-5.2 0.8 0.1 0.8 7.9 0.8-10.8 0.8-0.1 0.8-7.1" fill="none" stroke="#0000ff" stroke-width="1.4" stroke-linejoin="round"/>
<path d="M235 182.1l0.8 2.1 0.8-9.2 0.8 4.4 0.8 2.7 0.8-5.2 0.8 4.5 0.8-2.2 0.8-1.5 0.8-2.1 0.8 13.5 0.8-10.2 0.8 12.8 0.8-9.9 0.8 6.7 0.8-4.2 0.8 4.5 0.8 5.6 0.8-3.8 0.8 4.2 0.8-1.2 0.8 1.9 0.8-12.4 0.8 9.8 0.8-0.9 0.8-16 0.8-4.9 0.8-1.6 0.8 9.3 0.8 4.9 0.8-3.5 0.8-1.9 0.8 8.7 0.8 1.1 0.8 1.1 0.8 0.5 0.8-13 0.8 11 0.8-0.7 0.8-12.5 0.8 11.9 0.8 0 0.8-0.7 0.8-3 0.8 0.6 0.8 3.7 0.8 2 0.8-10.6 0.8 3.8 0.8-7 0.8-2.5 0.8 5.1 0.8-7.1 0.8 9.5 0.8 6.4 0.8-14.4 0.8 2.9 0.8 9.4 0.8 5.7 0.8-2.7 0.8-1.4 0.8-4.4 0.8-0.9 0.8 5.5 0.8-0.5 0.8-7.8 0.8 4.8 0.8-6.7 0.8 1.4 0.8 9.9 0.8-1.4 0.8 0.8 0.8 1.5 0.8-12.4 0.8 7.2 0.8 3.5 0.8-8.6 0.8 3.5 0.8-3.2 0.8 2.9 0.8-7.4 0.8 11 0.8-0.1 0.8-4.8 0.8 1.2 0.8 6.2 0.8 1.5 0.8-0.5 0.8-0.8 0.8-1.2 0.8-0.4 0.8 1.9 0.8-0.1 0.8-1.7 0.8 0.5 0.8 0.1 0.8-8.4 0.8 8.6 0.8-12.1 0.8 9.4 0.8-12.9 0.8 4.3 0.8-2 0.8 1.8 0.8 6.2 0.8-1.4 0.8-2.1 0.8 5.9 0.8-3.8 0.8-1.3 0.8 0.7 0.8 5 0.8 1.4 0.8-5 0.8-3.4 0.8 0.9 0.8 0.3M390.2 179.3l0.8 4.3 0.8-0.9 0.8-6.5 0.8 5.1 0.8 1.1 0.8 2.4 0.8-4.1 0.8-2.1 0.8 6.4 0.8-4.6 0.8 4.8 0.8 0.2 0.8-0.4 0.8-1 0.8 1.9 0.8 0.5 0.8 0.8 0.8-1.9 0.8-6.3 0.8 0.5 0.8 0.6 0.8 2 0.8 8.1 0.8-8.3 0.8 5 0.8-4.9 0.8 1.4 0.8 1.9 0.8-2.1 0.8-1.7 0.8-1.3 0.8-0.3 0.8-3.9 0.8 3.8 0.8-3.4 0.8 3.1 0.8 4 0.8-1.6 0.8 2.2 0.8 1.3 0.8-2.4 0.8-1 0.8 1.5 0.8 0.9 0.8 0.6 0.8-0.2 0.8-3.2 0.8 5.5 0.8-6.4 0.8 7.2 0.8 0.9 0.8-3.3 0.8-0.8 0.8 6.4 0.8 0 0.8 1.2 0.8-2.2 0.8 1 0.8-2 0.8 0.9 0.8 5.3 0.8-1.3 0.8 1.4 0.8 0.1 0.8 0.1 0.8-3.8 0.8 4.4 0.8-1.5 0.8-0.5 0.8-0.3 0.8-2 0.8 7.3 0.8-3.4 0.8 3.8 0.8-3.2 0.8-0.6 0.8-2.4 0.8-2.6 0.8 0.9 0.8 0.9 0.8-0.9 0.8-1.4 0.8-3.3 0.8-1.7 0.8-0.5 0.8 1.2 0.8 4.9 0.8-3 0.8-1.9 0.8 0.1 0.8-2.8 0.8 3.4 0.8-2.5 0.8-2 0.8 5 0.8-3.2 0.8-5.2 0.8 2.1 0.8-1.7 0.8 6.5 0.8-1.9 0.8-0.6 0.8-3.5 0.8-4.6 0.8 4.1 0.8-2.4 0.8 2.5 0.8-7.3 0.8 1.3 0.8 3.1 0.8-0.6 0.8 0.3 0.8 4.9 0.8-5.6 0.8 8.2 0.8-4.1 0.8 0.3 0.8-3.1 0.8 2.5 0.8-1.8 0.8 0.1 0.8 5.5 0.8-5 0.8-6.6 0.8-2.2 0.8-3.4 0.8 3.1 0.8-1.5 0.8 1.6 0.8 1.1 0.8 2.2 0.8-4 0.8 3.1 0.8 3.8 0.8-1.6 0.8 1.4 0.8 4.7 0.8 0.7 0.8-1 0.8-1.3 0.8-0.9 0.8 1.6 0.8 2.8 0.8-5.3 0.8 4.6 0.8 0.7 0.8-5 0.8-1 0.8-4.7 0.8-6.4 0.8-10.7 0.8 6.5 0.8-3.9 0.8 5.4 0.8-8.5 0.8 4.4 0.8 7.1 0.8-5.5 0.8-4.3 0.8-14.3 0.8 13.9 0.8-14 0.8 16.2 0.8-3.1 0.8-5.2 0.8-10.7 0.8-9.5 0.8 16.5 0.8-31.2 0.8 16.4 0.8-21.7 0.8-2.2 0.8 25.7 0.8-0.7M592.6 172.1l0.8 3.4 0.8-2.4 0.8 14.8M621 141l0.8-11.7 0.8 10.9 0.8 0.2 0.8-23.3 0.8 14.9 0.8 12.3 0.8-29 0.8 4.6 0.8 10 0.8-15.6 0.8 4.7 0.8 0.8 0.8 4.7 0.8-1.5 0.8-8.8 0.8 18.8 0.8-1.7 0.8-4.4 0.8 2.8 0.8-5.5 0.8 1.3 0.8 6.3 0.8-8.3 0.8 0.2 0.8 4.8 0.8-9.1 0.8 8.9 0.8-1.5 0.8-11.3 0.8-1.6 0.8 5 0.8-3.9 0.8 15.8 0.8-4.4 0.8-1.5 0.8 3.6 0.8-0.7 0.8-0.3 0.8-5.8 0.8 10.7 0.8 2 0.8-7.7 0.8 0 0.8 2.2 0.8 11.6 0.8-9.2 0.8-0.2 0.8 3.9M760.2 121.1l0.8 0.2 0.8-1.4 0.8-6.3 0.8 6.4 0.8 9.7 0.8 2.7 0.8-5.3 0.8 0.1 0.8 13.4 0.8-1.7 0.8 3.6 0.8-1.5 0.8 0.1 0.8-2.2 0.8 12.4 0.8 4.6 0.8 3.9 0.8 2.5 0.8-4.3 0.8 6.5 0.8-18.8 0.8 9.8 0.8-19.5 0.8 8.8 0.8 8.4 0.8-13.1 0.8 5.9 0.8 26.8 0.8-20.8 0.8 3.7 0.8 23.6 0.8 4.1 0.8-13.3 0.8 4.8 0.8-2.1 0.8 13.3 0.8 0.9 0.8-21.3 0.8 5.7 0.8 20.7 0.8-14.9 0.8 16.8 0.8-7.9 0.8-2.6 0.8 7.7 0.8-10 0.8 9.6 0.8-1.9 0.8-0.3 0.8-7.1 0.8 1.3 0.8-1.8 0.8 5.1 0.8 5.4 0.8-1.6 0.8 2.4 0.8-5.8 0.8 7.1 0.8-8.4 0.8 0.4 0.8 5.2 0.8-0.7 0.8-4.6 0.8-0.2 0.8 4.6 0.8 0.6 0.8-1 0.8-0.8 0.8-0.5 0.8-0.7 0.8 0.2 0.8-2.2 0.8 0.7 0.8 2.9 0.8-0.3 0.8-8.7 0.8 0.1 0.8 8.7 0.8-5 0.8 3.9 0.8-1.7 0.8 2.4 0.8-4 0.8 3.1 0.8-2.8 0.8 2.9 0.8-3.7 0.8-1.2 0.8 6.1 0.8 2.1 0.8 2.3 0.8-3.9 0.8 2.1 0.8-5.4 0.8 2.1 0.8 5 0.8-0.4 0.8-2 0.8 0.6 0.8 3.7 0.8-5.4 0.8 5.9 0.8 2.6 0.8-0.4 0.8-5.9 0.8-1.8 0.8-0.7 0.8 0.7 0.8 1.7 0.8 5.6 0.8-6.9 0.8 6.6 0.8-10.5 0.8 8.3 0.8-4.8 0.8 4.2 0.8-1.6 0.8 6.6 0.8-3.3 0.8-5.4 0.8-1.4 0.8-1.5 0.8 3.3 0.8 5.2 0.8-10.9 0.8 4.2 0.8 6.6 0.8-4.3 0.8 4.2 0.8 1 0.8-4 0.8 1.3 0.8-6.2 0.8 0.1 0.8-1.3 0.8-0.7 0.8 4.9 0.8-3.4 0.8-1.4 0.8-0.3 0.8 1.8 0.8 0.5 0.8-1.4 0.8-2.3 0.8 2.3 0.8 1.2 0.8 0.1 0.8-2.7 0.8 3.5 0.8 1.6 0.8-3.7 0.8 3.8 0.8 1.2 0.8-0.4 0.8-5.5 0.8 3.1 0.8-5.3 0.8 7.5 0.8-1.5 0.8 6 0.8-3.5 0.8 8.5 0.8 1 0.8-8.1 0.8 4 0.8-4.1 0.8 7 0.8 0 0.8-7.2 0.8-1 0.8 3.3 0.8-4.2 0.8-0.2 0.8 4.4 0.8-2.3 0.8 2.4 0.8-2.1 0.8 8.1 0.8-10.4 0.8 4.4 0.8-0.8 0.8 7.2 0.8-5.9 0.8 0.4 0.8 6.6 0.8-4.5 0.8 0.6 0.8-9.3 0.8 9.3 0.8-0.3 0.8-1.8 0.8 1.3 0.8-3 0.8-1.4 0.8-7.5 0.8 3.9 0.8 4.6 0.8-10.1 0.8-10.8 0.8 2.8 0.8-0.3 0.8-5.2 0.8 5.9 0.8-4.6 0.8 7.9 0.8-9 0.8 13.6M958.6 166.6l0.8-5.5 0.8 14.2 0.8-5.7 0.8 5.1 0.8 5.2 0.8 6.8 0.8 1.7 0.8-9.4 0.8 10 0.8-10.4 0.8 9.1 0.8-11.3 0.8 0 0.8 16.9 0.8 2 0.8-7.7 0.8-7.2 0.8 3.5 0.8 11.3 0.8-4.3 0.8-4.9 0.8 8.8 0.8-4 0.8 4 0.8-12.6 0.8 15.3 0.8-2.8 0.8 2.2 0.8-7.9 0.8-0.2 0.8 4.6 0.8 2.4 0.8-10.6 0.8-1.1 0.8 7.6 0.8-12.8 0.8 11.5 0.8-7 0.8 10.7 0.8-13.4 0.8 5.1 0.8 0.8 0.8 9.4 0.8-4.1 0.8-3.6 0.8-0.4 0.8 3.1 0.8-2.3 0.8-6.9 0.8 1.4 0.8 1.6 0.8-0.8 0.8-3.9 0.8 5.9 0.8-5.3 0.8-0.6 0.8 4.1 0.8-4.8 0.8 2.8 0.8-3.9 0.8-0.9 0.8 2.9 0.8-3.1 0.8 0.9 0.8 6.8 0.8-1.3 0.8-0.9 0.8 0.8 0.8-1.3 0.8 1.5 0.8-2.6 0.8 3.5 0.8-5.9 0.8 3.8 0.8-6 0.8 3 0.8-2.9 0.8 2.2 0.8 0.2 0.8-0.8 0.8 5.2 0.8-1.4 0.8-0.5 0.8-8.6 0.8 1.1 0.8 1.4 0.8-3.2 0.8 6.9 0.8-9.2 0.8 4.6 0.8-4.5 0.8 6.2 0.8 2.6 0.8-8.3 0.8-1.2 0.8 0.3 0.8-3.8 0.8 7.3 0.8-12.7 0.8 0.7 0.8-2.9 0.8 8.5 0.8-7 0.8 12.5 0.8 3.2 0.8-5.1 0.8 7.4 0.8-8.9 0.8 4.8 0.8-9.1 0.8-6.8 0.8 8.8 0.8 0.4 0.8 4.2 0.8-3.2 0.8-14.2 0.8-4.8 0.8-1.8 0.8 3.2 0.8 0.4 0.8 7.4 0.8-3.4 0.8 11.8 0.8-0.4 0.8-9.5 0.8 8.6 0.8 1.5 0.8 10.9 0.8-10 0.8 8.7 0.8 11.5 0.8-9.4 0.8 5.3 0.8 7.4 0.8-9.7 0.8 0 0.8 5.7 0.8 7.7 0.8 0.1 0.8-1 0.8-4.4 0.8 9.4 0.8-6.3 0.8 0.9 0.8-0.9 0.8 1.1 0.8 7.6 0.8-10.7 0.8-3.9 0.8 0 0.8 1 0.8 16 0.8-11.8 0.8 5 0.8 4.6 0.8-5.1 0.8 2.3 0.8-1.5 0.8-13.9 0.8 9.3 0.8-10.3 0.8 7.4 0.8-1.2 0.8 13.4 0.8-2.5 0.8-6.5 0.8 0.7 0.8-7.3 0.8-8.2 0.8 0.9 0.8-1.3 0.8-2.1 0.8-4.7 0.8-10.4 0.8 3 0.8-3.1 0.8-1.9 0.8 3.3 0.8-4.8 0.8 4.1 0.8-1.8 0.8-2.2 0.8 3.3 0.8-9 0.8 8.8 0.8-1.6 0.8-4.2 0.8 4.8 0.8-5.8 0.8 5.4 0.8-5.3 0.8 6.3 0.8-4.9 0.8 7.7 0.8-6 0.8 5.9 0.8-2.9 0.8-6.5 0.8 1.7 0.8-3 0.8 3.2 0.8-1.1 0.8-0.5 0.8 5.9 0.8-1.7 0.8 0.2 0.8 6.3 0.8 0.6 0.8-7.4 0.8 7.9 0.8 1.7 0.8-1.7 0.8 4.4 0.8-1.5" fill="none" stroke="#ff0000" stroke-width="1.4" stroke-linejoin="round"/>
<path d="M280 178.8l0.8-2.2 0.8-6.6 0.8 10.2 0.8-0.4 0.8-6.5 0.8 2.8 0.8 0.1 0.8 0.7 0.8-6.7 0.8-0.8 0.8-2.8 0.8-1 0.8 9.4 0.8-9.3 0.8 5.7 0.8 2.8 0.8 2.9 0.8 0.8 0.8-0.8 0.8-8.2 0.8 1.8 0.8 5.6 0.8-4 0.8 7.1 0.8 6.7 0.8-2.2 0.8-2.8 0.8-5.1 0.8 2.3 0.8 3.1 0.8-11.1 0.8 1.9 0.8 9 0.8-0.1 0.8 5 0.8 0.1 0.8-1.3 0.8-1.7 0.8-14.5 0.8-0.5 0.8 11.1 0.8-4.4 0.8 5.8 0.8-8.6 0.8 7.2 0.8-4.8 0.8 0.7 0.8 6.5 0.8-1.2 0.8-1.3 0.8 0 0.8-13.8 0.8 5.7 0.8 4.3 0.8-7.5 0.8-1 0.8 2.1 0.8 3.4 0.8 4.8 0.8 0.2 0.8-0.6 0.8-2.1 0.8-7.4 0.8 0.7 0.8 2.8 0.8-3.2 0.8-2.4 0.8 2.8 0.8-2.5 0.8 5.7 0.8 1.9 0.8 0.4 0.8 1.7 0.8 0.6 0.8-6.7 0.8 1.9 0.8-2.5 0.8 3.1 0.8 2.9 0.8-4.7 0.8-0.2 0.8 1.6 0.8-2.8 0.8 2.6 0.8 3.8 0.8 1.8 0.8-4.1 0.8 2.9 0.8-3.3 0.8-4.4 0.8 7.6 0.8 0.9 0.8-4.6 0.8 6.7 0.8 0.3 0.8-6.2 0.8 4.3 0.8 0.3 0.8-3.7 0.8 9.1 0.8-1.6 0.8-5.3 0.8 0.5 0.8 1.4 0.8 2.3 0.8-3.4 0.8 0.5 0.8 6.3 0.8-6.6 0.8-3.8 0.8-0.7 0.8 4 0.8 11.4 0.8-1.7 0.8 5.7 0.8 3.7 0.8-3.8 0.8 0.4 0.8-7.6 0.8 1.4 0.8 4.7 0.8-2.9 0.8-9.8 0.8 7.1 0.8-3.3 0.8-3 0.8 3.1 0.8 1 0.8-2.7 0.8-1.6 0.8 2.2 0.8-2.1 0.8-0.9 0.8-0.5 0.8 4.2 0.8-2.1 0.8 2.4 0.8-1.4 0.8-2 0.8-4.2 0.8 8.5 0.8 1.5 0.8-7.4 0.8-6.2 0.8-2.9 0.8-1.4 0.8 0 0.8 6 0.8 4.4 0.8-3.2 0.8-0.3 0.8-2.1 0.8 1.3 0.8-3.8 0.8-0.8 0.8 10.2 0.8-1.5 0.8-1.9 0.8 1.4 0.8 0.4 0.8-1.7 0.8 1.2 0.8-1.2 0.8 0.1 0.8-4.9 0.8 3.6 0.8-0.9 0.8-2.6 0.8 2.9 0.8 2.5 0.8-0.5 0.8-5.3 0.8 0.8 0.8 0.8 0.8 3.7 0.8-1.2 0.8-0.1 0.8-2.2 0.8 4.9 0.8 0.3 0.8 1.3 0.8-4 0.8 5.7 0.8-8.7 0.8 3.1 0.8-2.9 0.8 0.9 0.8 6.9 0.8-1.8 0.8-1.9 0.8 4.8 0.8-6.1 0.8 7.8 0.8-4.6 0.8 9.3 0.8-5.4 0.8 8.1 0.8-5.9 0.8 5.6 0.8-6.3 0.8 2.2 0.8-3 0.8 6.4 0.8 1.2 0.8-3.4 0.8 0 0.8 1.4 0.8 3 0.8-4.1 0.8-2 0.8 3.6 0.8-4.1 0.8 0.5 0.8-2.1 0.8-4 0.8 5.2 0.8 1.1 0.8 3.4 0.8-9.7 0.8 8.8 0.8-5.8 0.8 6.5 0.8-3.2 0.8-2.5 0.8-3.2 0.8 3.2 0.8 0 0.8-4.2 0.8-3.1 0.8 4.9 0.8-0.9 0.8 2.8 0.8-7.7 0.8 2.2 0.8 2.8 0.8-2.2 0.8-0.9 0.8 0.3 0.8-1.1 0.8 0.7 0.8-4.2 0.8 3.2 0.8 2.9 0.8-3.7 0.8 3.8 0.8-4.5 0.8 3.5 0.8 2.7 0.8 0.6 0.8 0.1 0.8-3.6 0.8 1.3 0.8-0.3 0.8 1.2 0.8-5.7 0.8 1.1 0.8-4.2 0.8 2.1 0.8 0.9 0.8 1.7 0.8-2.6 0.8 1.8 0.8-2.3 0.8-9.9 0.8-1.1 0.8-4.9 0.8 11.5 0.8-6.2 0.8-7.9 0.8 0.7 0.8 7.7 0.8 7.6 0.8 0.7 0.8-0.2 0.8 1.3 0.8-9.5 0.8 6.2 0.8 1 0.8-7.6 0.8 0.9 0.8 8.5 0.8 3.5 0.8 3.5 0.8-8.1 0.8 6.9 0.8-3 0.8-14.7 0.8-5.2 0.8 10.7 0.8-16.2 0.8 5.3 0.8-4.2 0.8-10.8 0.8 10 0.8 3.1 0.8-12.2 0.8 7.6 0.8-15.7 0.8 3.8 0.8-9.7 0.8 10.4 0.8-2.9 0.8-18.2 0.8 0 0.8-4.6 0.8 2.2 0.8-0.4 0.8-5 0.8 8.7 0.8-17 0.8 4 0.8 5.8 0.8 10.8 0.8-8.1 0.8 0 0.8-36.1 0.8 28.1 0.8-16.7 0.8-12.1 0.8 24.6 0.8-20.9 0.8 7.5 0.8 21.2 0.8 6.3 0.8 23.6 0.8-13.9 0.8 9.2 0.8 3.5 0.8-4.6 0.8-15.1 0.8 5.6 0.8 6 0.8-3.1 0.8 1.8 0.8 4.3 0.8-23.3 0.8 20.5 0.8-27.8 0.8 25.6 0.8 3.3 0.8 14.9 0.8-1.7 0.8 4.2 0.8-19.6 0.8 1.9 0.8-4.2 0.8 15.2 0.8-1.8 0.8-8 0.8 14.7 0.8-15.9 0.8 22.2 0.8-18.6 0.8 16.9 0.8-18.5 0.8 19.9 0.8-0.4 0.8-7.3 0.8-16.8 0.8 17.5 0.8 9.3 0.8-2.5 0.8-19.7 0.8 0.7 0.8-8.1 0.8 16.5 0.8-1.3 0.8-5.4 0.8-3.2 0.8 26.3 0.8-0.7 0.8-17.3 0.8 12.1 0.8-3.8 0.8 8.8 0.8 3.3 0.8-24.2 0.8 24 0.8 3.1 0.8-3.7 0.8-20.4 0.8 20.3 0.8 8.7 0.8-2.6 0.8-18.1 0.8-4.8 0.8 14.8 0.8-3.8 0.8 13.2 0.8-21 0.8 11.3 0.8-2.8 0.8-4.6 0.8 25.4 0.8-0.5 0.8-4.7 0.8 23.3 0.8-3.3 0.8 7.6 0.8-3 0.8 12.2 0.8-10.7M616 176.8l0.8 14.5 0.8-28.6 0.8 25.9 0.8-11.2 0.8-32 0.8 33 0.8-26.5 0.8 0.4 0.8 8.2 0.8-10.6 0.8 13.1 0.8-0.3 0.8-6.1 0.8-5.9 0.8-21.4 0.8 4.2 0.8 9.4 0.8-14.6 0.8 16.9 0.8-25.5 0.8-0.5 0.8 13.7 0.8 9.8 0.8-12.6 0.8 11.4 0.8-19.5 0.8 15.4 0.8 3.5 0.8-11.8 0.8 8.8 0.8 8.4 0.8-12.9 0.8 13.8 0.8-3.4 0.8-20.7 0.8 7.2 0.8-5.9 0.8 22.2 0.8 3.8 0.8-32.8 0.8 29 0.8-25.8 0.8 5.5 0.8-1 0.8 13.5 0.8-15.4 0.8 14.4 0.8 14 0.8-7.6 0.8-7.1 0.8-8.3 0.8-3 0.8-0.9 0.8 27.8 0.8-0.8 0.8-22.4 0.8-3.1 0.8 0.4 0.8 24.2 0.8-17.3 0.8 17.1 0.8-9.3 0.8-0.9 0.8-8.5 0.8 18.4 0.8-10.1 0.8 6.2 0.8-7.2 0.8 0.4 0.8-13.8 0.8 19.1 0.8-17.1 0.8 19.4 0.8 2.6 0.8-26 0.8 23.9 0.8-7.3 0.8-10.1 0.8 2.3 0.8 5 0.8-32.5 0.8 7.1 0.8 0.1 0.8-7.3 0.8-6.2 0.8 3.5 0.8 18 0.8-12.9 0.8-15.6 0.8-9.1 0.8 33.7 0.8 7.6M760.8 120.1l0.8 13.9 0.8 3.3 0.8-7.5 0.8 5.3 0.8 6.3 0.8-12 0.8 21.9 0.8-2.2 0.8-16.1 0.8 1.6 0.8 13 0.8-3.6 0.8-0.1 0.8 3.8 0.8-7.4 0.8 20.3 0.8-11.3 0.8 4.4 0.8-11.2 0.8 6 0.8-6.3 0.8 19 0.8-24.2 0.8-0.6 0.8 0 0.8-1.7 0.8 17.6 0.8-0.9 0.8 7.9 0.8 0.3 0.8-34.3 0.8 9.5 0.8 29.5 0.8-29.1 0.8 0.3 0.8 45 0.8-18.7 0.8 22.4 0.8-27.8 0.8 31.5 0.8-17.8 0.8 3.4 0.8 25.8 0.8-5.7 0.8-9.3 0.8 15.9 0.8-16.5 0.8-2.1 0.8 21.7 0.8-9.5 0.8 1.1 0.8-15.6 0.8 16.3 0.8-16 0.8 20.8 0.8-6.9 0.8 20.5 0.8-13.8 0.8 12 0.8 1 0.8-23.2 0.8 14 0.8-23 0.8 10.7 0.8-9.1 0.8 8.3 0.8-7.9 0.8-0.5 0.8 0 0.8-5.3 0.8 4.1 0.8-4.9 0.8 4.3 0.8 1.1 0.8-0.7 0.8 1.5 0.8-7.3 0.8 7.6 0.8-0.7 0.8-4 0.8 2.5 0.8-2.2 0.8 4.7 0.8-5.1 0.8-7.4 0.8 3.9 0.8-3.5 0.8 0.6 0.8 6.9 0.8 4.6 0.8-2.2 0.8-7 0.8 4.6 0.8 3.7 0.8 0.4 0.8 1.1 0.8-1.4 0.8-1.1 0.8 4 0.8-7.5 0.8 0.7 0.8-5.3 0.8 4.2 0.8 3.9 0.8-6.3 0.8 8.7 0.8-4.2 0.8 6.8 0.8 2.3 0.8-7.5 0.8 7.1 0.8-1.4 0.8-5 0.8-0.9 0.8 3.4 0.8-0.3 0.8-3.4 0.8-1.4 0.8 8.2 0.8-5.1 0.8-1.8 0.8-3.8 0.8 8.3 0.8 0 0.8-8.7 0.8 0.5 0.8 4.7 0.8 3.6 0.8-4 0.8-9 0.8 13.1 0.8-8.8 0.8 12.7 0.8-5.2 0.8-10.1 0.8-0.1 0.8 0.5 0.8 0.5 0.8 9.6 0.8 0.6 0.8-2.5 0.8-2.1 0.8-4.3 0.8-5.4 0.8 6.4 0.8 9.8 0.8-10.8 0.8 2 0.8-4 0.8 1.2 0.8 9.8 0.8-4.2 0.8 6.9 0.8-3.6 0.8-3.8 0.8 3.5 0.8-2.1 0.8-3.3 0.8 0.1 0.8 2.2 0.8-0.8 0.8 8.6 0.8-0.2 0.8 1.2 0.8-9.7 0.8-1.1 0.8 3.3 0.8-0.8 0.8 1.8 0.8-3.4 0.8-2.2 0.8 9 0.8 0.5 0.8-8.2 0.8 1.3 0.8 1.6 0.8 3 0.8 2 0.8 2.5 0.8-10.4 0.8 3.7 0.8 7.4 0.8-0.6 0.8-3.7 0.8-0.8 0.8-5.7 0.8-4.2 0.8 6.9 0.8 5.1 0.8-3.9 0.8 2.6 0.8-5.3 0.8-6.9 0.8-1 0.8 0 0.8-6.6 0.8 8.6 0.8-5.6 0.8 1.1 0.8-2 0.8-6.3 0.8 2 0.8 15.7 0.8-7 0.8 7.3 0.8-19.2 0.8 4.6 0.8 1.2 0.8 2.6M958.4 164.8l0.8 13.2 0.8-2.8 0.8-4.3 0.8 11.3 0.8-9.1 0.8 7.9 0.8 4.1 0.8-0.9 0.8-11.3 0.8 11.6 0.8 1.9 0.8-9.6 0.8 6.2 0.8-5.3 0.8-8.3 0.8 7.4 0.8 0 0.8 4.1 0.8-2.5 0.8 2.5 0.8-0.9 0.8 0.1 0.8 1.6 0.8-2.9 0.8 4.1 0.8-1 0.8 7.5 0.8-2.7 0.8-5.7 0.8 4.9 0.8-0.5 0.8-1.1 0.8-8.7 0.8-4.8 0.8 12.5 0.8-10.5 0.8 12.8 0.8-2.4 0.8-4.2 0.8-6 0.8 2.8 0.8 7.7 0.8-10.2 0.8 11.4 0.8-9.4 0.8 1.8 0.8 10.3 0.8-0.4 0.8-1.4 0.8-10.8 0.8 9.8 0.8-3.1 0.8 8.2 0.8 0.2 0.8-13.6 0.8 0.3 0.8-0.2 0.8 7.5 0.8 5.1 0.8 1.2 0.8-12.9 0.8 1.8 0.8-3.8 0.8 2.8 0.8-8.9 0.8-3.1 0.8 12.5 0.8-1.8 0.8-1.7 0.8-1.2 0.8 0.6 0.8 15 0.8-5.9 0.8-11.2 0.8 13.5 0.8-5.8 0.8-1.3 0.8 7.1 0.8 5.2 0.8-4.1 0.8 1.6 0.8 1.6 0.8 3.3 0.8-2.3 0.8-7.9 0.8 1.3 0.8-16.2 0.8 9.7 0.8 11.9 0.8-11.8 0.8-3.8 0.8 7.6 0.8-3.1 0.8-16.6 0.8 14.3 0.8-6.9 0.8-3.1 0.8-8.3 0.8 1.4 0.8 7.1 0.8-8.6 0.8-5.1 0.8 2.6 0.8 10 0.8-0.5 0.8 12 0.8-19.2 0.8 20.6 0.8-8.7 0.8-3.2 0.8-0.5 0.8 7.2 0.8-16.4 0.8-0.5 0.8 11.7 0.8 7.3 0.8-15.5 0.8 7.3 0.8 4.1 0.8-9.3 0.8-4.1 0.8-6.7 0.8 14.2 0.8-22.3 0.8 3.2 0.8 7.4 0.8-16.3 0.8 6.8 0.8 14.2 0.8 14.4 0.8-1.1 0.8-8.2 0.8 10.7 0.8-10.7 0.8-6.2 0.8 18.4 0.8-6.1 0.8-1.9 0.8 15.5 0.8-3.5 0.8-2.1 0.8 6.6 0.8-5.2 0.8 11.4 0.8 2.3 0.8-1.3 0.8 7 0.8 6.7 0.8-7.9 0.8-6.6 0.8-0.2 0.8-7.4 0.8-0.8 0.8-1.1 0.8 10.2 0.8-6.8 0.8-8 0.8 15.6 0.8-11.9 0.8 4.7 0.8-0.9 0.8 6.4 0.8-0.4 0.8-6.3 0.8 2.4 0.8-0.8 0.8 0.2 0.8-1.8 0.8-12.3 0.8-6.7 0.8 11.5 0.8-2.8 0.8-4.7 0.8-3.1 0.8 8.4 0.8-4.9 0.8-1 0.8-10.3 0.8 0.3 0.8-3.7 0.8-2.4 0.8 2.2 0.8 2 0.8 0.1 0.8 4.8 0.8-1.7 0.8-4.6 0.8 0.2 0.8 4.4 0.8-0.1 0.8-2.9 0.8 4 0.8-4.7 0.8 2.9 0.8-8.4 0.8 7.4 0.8 1.5 0.8-7 0.8-1.3 0.8 4.5 0.8-0.2 0.8 4 0.8 3 0.8-6.9 0.8 5.1 0.8-0.3 0.8 0.8 0.8-2.4 0.8 6.7 0.8 2.2 0.8 0.7 0.8-8.4 0.8 1.2 0.8-0.8" fill="none" stroke="#00cc2e" stroke-width="1.4" stroke-linejoin="round"/>
<path d="M194 168.1l0.8-6.2 0.8-0.6 0.8 7.1 0.8-2.6 0.8 3.7 0.8-3.9 0.8 10.1 0.8-6.5 0.8 2.3 0.8-5.5 0.8 3.2 0.8 7.5 0.8-1.3 0.8-5.9 0.8 6.1 0.8-3.3 0.8 0.1 0.8 4.3 0.8-2.9 0.8 3.5 0.8 5.2 0.8-2.5M217 192.6l0.8-1.3 0.8 3.7 0.8-9.6 0.8 7.9 0.8 1.8 0.8 5.2 0.8-2.3 0.8-4.9 0.8 10.9 0.8 1.8 0.8 1.7 0.8 1.1 0.8-6.7 0.8 7.6 0.8-0.9 0.8 0 0.8-1.8 0.8-4.7 0.8 0.7 0.8 0.3 0.8 6 0.8-5.4 0.8-3.1 0.8-1 0.8 3.7 0.8 2.9 0.8 0 0.8 0 0.8-1.3 0.8-10.7 0.8 3.2 0.8-3.6 0.8-6.9 0.8 7.3 0.8 0.9 0.8-13.8 0.8 12.4 0.8-11 0.8 8.9 0.8-2.6 0.8-8 0.8 6.7 0.8-3.4 0.8-0.1 0.8 5.5 0.8-0.2 0.8 2.3 0.8-0.2 0.8 1 0.8 1 0.8 4.3 0.8-6.6 0.8 11.6 0.8-3.9 0.8 3.6 0.8-9.6 0.8 9.7 0.8-9.2 0.8 5.1 0.8 6.1 0.8-8 0.8 8.8 0.8 1.4 0.8-5.6 0.8 1.9 0.8-2 0.8-8.8 0.8 7.7 0.8-0.3 0.8 0.2 0.8-0.6 0.8-3.6 0.8 8.3 0.8 2.4 0.8-9.6 0.8 8.6 0.8 0.4 0.8 1.3 0.8-3 0.8-3.4 0.8 1.8 0.8 1.8 0.8-7.6 0.8 7.7 0.8-9.4 0.8 9.7 0.8-0.5 0.8-1.2 0.8 1.9 0.8 2.4 0.8-1.5 0.8-2.1 0.8-1.2 0.8-8 0.8 6.2 0.8-9.5 0.8 6.9 0.8-2 0.8 4.3 0.8-2.2 0.8-2.3 0.8 0.9 0.8-14.7 0.8 4.8 0.8 2 0.8 12.6 0.8 0 0.8 1.5 0.8-1.8 0.8 0.2 0.8-1.6 0.8-0.4 0.8 2.4 0.8 5.8 0.8-11.4 0.8 10.4 0.8-1.9 0.8-5 0.8 1.1 0.8-7.9 0.8 4.6 0.8 1.9 0.8-3.1 0.8-5.7 0.8 10.1 0.8-1.4 0.8-5.9 0.8 3.3 0.8-0.2 0.8 3.2 0.8-0.5 0.8 3.6 0.8 0.6 0.8-12.9 0.8 6.8 0.8 0.6 0.8 0.2 0.8-1.9M392.2 193.2l0.8-0.6 0.8 2.8 0.8 6.4 0.8-16.4 0.8 1.2 0.8-3.4 0.8 14.3 0.8-9.6 0.8 4.8 0.8-3.5 0.8-4.4 0.8-2.8 0.8 1.3 0.8 4.1 0.8-4.9 0.8 3.7 0.8-3.5 0.8 0.2 0.8 1.5 0.8 1.8 0.8 0.7 0.8 2.3 0.8-4.4 0.8 1.8 0.8-0.1 0.8 0.2 0.8-0.9 0.8-1.7 0.8-0.8 0.8 0.7 0.8-1.5 0.8 1.3 0.8 0.6 0.8 2.3 0.8 1.1 0.8 1.1 0.8 0.4 0.8-1.8 0.8-3.8 0.8 0.4 0.8 0.4 0.8 3.7 0.8 1.7 0.8 1.5 0.8 4.9 0.8-0.4 0.8 0.2 0.8 2.2 0.8 1.2 0.8-0.5 0.8-1.6 0.8 1.9 0.8-4.7 0.8-0.3 0.8 11.3 0.8-8.8 0.8 8.4 0.8-5.8 0.8-5.2 0.8 9.7 0.8-0.2 0.8-1.5 0.8-0.9 0.8 1.4 0.8 1.6 0.8-2 0.8 2.3 0.8 1 0.8-0.9 0.8-3.6 0.8-2.1 0.8-0.6 0.8-0.3 0.8 2.7 0.8 1.9 0.8-7.4 0.8-4 0.8 6.2 0.8 2.8 0.8-1.3 0.8-1.6 0.8-2.1 0.8-1.1 0.8-1.2 0.8-0.9 0.8-1.7 0.8 0.4 0.8 0.1 0.8-8.3 0.8 0.8 0.8 6.7 0.8 0.3 0.8-6.4 0.8 2.6 0.8-3.8 0.8 5.2 0.8-1.1 0.8-0.4 0.8 0.7 0.8-1.2 0.8 1.6 0.8-1.9 0.8 3.6 0.8 1.6 0.8 0.5 0.8-1.6 0.8-2.6 0.8-1.6 0.8 0.7 0.8-4.8 0.8 5.3 0.8-1.2 0.8-1.8 0.8 0.5 0.8-5.8 0.8 1.9 0.8-3.1 0.8 8.7 0.8-1.8 0.8-6.3 0.8 6.6 0.8-1.1 0.8 3.4 0.8 1.1 0.8-1.1 0.8-3.1 0.8-0.4 0.8-1.7 0.8 2.7 0.8-0.2 0.8 3.4 0.8 0.7 0.8 0.7 0.8-1 0.8-1.9 0.8 2.1 0.8-1 0.8 2.9 0.8-0.7 0.8-1.6 0.8-0.3 0.8 0 0.8-0.9 0.8 0.9 0.8-2.2 0.8 0.9 0.8 2.4 0.8-4.1 0.8 0 0.8-7.3 0.8 0.8 0.8-0.8 0.8-1.3 0.8-3.5 0.8-3.9 0.8-3.2 0.8-0.5 0.8 0.8 0.8-4.4 0.8 0.3 0.8 0.1 0.8 5.5 0.8-5 0.8 7.1 0.8-5.4 0.8 6.9 0.8 0 0.8-0.7 0.8-2.1M621 198.5l0.8-2.6 0.8-1.7 0.8-1.3 0.8-15.6 0.8 4.6 0.8 4.8 0.8-1.5 0.8-11.4 0.8 10.2 0.8-8.7 0.8 4.9 0.8-3.2 0.8-7.6 0.8 9.6 0.8-0.2 0.8 3.3 0.8-9.6 0.8 15.5 0.8 0 0.8 5.8 0.8-18.5 0.8-3.3 0.8 2.6M792.2 213.6l0.8-20.1 0.8 18.4 0.8-12.1 0.8 17.8 0.8 1.7 0.8 1.4 0.8 0.4 0.8 1.3 0.8 1 0.8-10.4 0.8-1.9 0.8 9.9 0.8-4.9 0.8 9.9 0.8 2.5 0.8-12.4 0.8 12.6 0.8-0.1 0.8-13.8 0.8 11.7 0.8-5.8 0.8-0.5 0.8 1.2 0.8 0.3M1000.2 191.2l0.8 1.9 0.8-2.6 0.8-3.9 0.8 5.2 0.8 3.9 0.8 0.7 0.8-2.8 0.8 0.8 0.8 1.9 0.8-5.9 0.8-10.6 0.8 1.8 0.8 0.5 0.8 6.1 0.8-2.3 0.8-6.3 0.8-4.4 0.8 2.7 0.8 2.8 0.8 0.6 0.8-4.2 0.8-2.2 0.8-3.7 0.8-2.6 0.8 3.6 0.8 7.5 0.8-4.6 0.8 11.7 0.8-0.8 0.8-7.2 0.8 5.1 0.8-7.1 0.8-1 0.8 0.4 0.8-0.1 0.8-2.3 0.8 11 0.8-15.1 0.8 6.5 0.8 2.9 0.8-9 0.8 3.9 0.8-0.4 0.8-0.1 0.8 2.7 0.8-1.2 0.8 1.4 0.8-2.4 0.8-3.7 0.8 6.3 0.8 0.7 0.8-0.6 0.8-1.8 0.8-2.3 0.8-2.2 0.8-4.7 0.8-5 0.8 0.5 0.8 8.2 0.8 3.7 0.8-3.6 0.8 1.3 0.8-8.1 0.8 2.1 0.8 8.8 0.8-0.6 0.8-10.3 0.8 12.4 0.8 1.7 0.8-7.4 0.8 11.3 0.8 0.5 0.8 0.9 0.8 0 0.8 0.3 0.8 1.6 0.8 2.6 0.8 3.4 0.8 0.5 0.8-3.2 0.8-7.9 0.8 10.4 0.8 10.9 0.8-10.4 0.8 8.5 0.8-1.9 0.8 0.9 0.8 5.6 0.8-5.8 0.8 11.2 0.8-0.8 0.8-10 0.8-4.4 0.8 7.5 0.8-3.9 0.8 12.7 0.8 0.7 0.8-10.2 0.8 13 0.8-1.7 0.8-15.2 0.8 13 0.8-12.8 0.8-0.7 0.8-2.1 0.8 6.6 0.8 4.6 0.8 3.5 0.8-2 0.8-5.8 0.8 6.4 0.8-9.4 0.8 3 0.8 4.3 0.8-12.2 0.8 3.3 0.8 4.9 0.8-5.4 0.8-6.4 0.8-0.7 0.8-16.1" fill="none" stroke="#0000ff" stroke-width="1.4" stroke-linejoin="round"/>
<path d="M235 180.5l0.8-0.6 0.8 2.3 0.8-0.3 0.8 2.5 0.8 3.3 0.8 3.5 0.8-3.9 0.8 2.1 0.8-5.4 0.8 7.1 0.8 1.6 0.8-0.6 0.8-1.1 0.8 0.5 0.8 1.7 0.8-2.3 0.8 3.5 0.8 1.3 0.8-0.5 0.8 0.1 0.8-2.7 0.8 2.3 0.8-0.3 0.8-0.3 0.8-1.2 0.8-3.5 0.8-3.6 0.8-6.7 0.8 3.7 0.8 0.8 0.8 1.9 0.8-5.6 0.8 5.4 0.8-6.3 0.8 2.5 0.8 7.3 0.8-10.3 0.8-3.3 0.8 4.3 0.8 2.8 0.8 3.9 0.8-0.7 0.8 0.5 0.8-2.1 0.8 5.5 0.8-0.6 0.8-0.3 0.8-9.8 0.8-0.6 0.8 9.1 0.8 1.3 0.8 3.2 0.8-0.1 0.8-4.3 0.8-4.3 0.8 2.5 0.8 1.5 0.8 3 0.8-8.8 0.8-7.3 0.8 11.6 0.8 2.3 0.8-7.2 0.8 0.9 0.8 0.2 0.8 1.3 0.8-9.1 0.8-2.8 0.8 11.7 0.8-6.6 0.8 9.2 0.8 2.7 0.8-2.5 0.8-8.3 0.8 1.3 0.8-1.4 0.8 4.1 0.8-0.7 0.8-8.1 0.8 2 0.8 10.1 0.8-1.6 0.8-7 0.8 4.3 0.8-5.1 0.8 12 0.8 0.5 0.8-0.4 0.8-1.2 0.8-3.3 0.8 4.8 0.8-0.1 0.8-1.7 0.8-0.8 0.8 1.4 0.8-0.2 0.8-3.3 0.8 2.3 0.8-1.3 0.8 0.3 0.8-0.1 0.8-1 0.8-0.9 0.8-2.4 0.8 3.2 0.8 0.5 0.8-1.1 0.8 2.2 0.8-4.3 0.8 0.1 0.8 4.6 0.8-5.2 0.8 5.7 0.8-4.6 0.8 1.8 0.8 0.6M390.2 184.1l0.8-0.8 0.8-5.4 0.8 4.6 0.8-6.3 0.8 6.4 0.8-3 0.8 1.5 0.8 1.4 0.8-0.8 0.8 3 0.8-2.9 0.8 4.1 0.8-2.3 0.8 2.3 0.8-1.8 0.8-0.1 0.8 3.2 0.8-0.3 0.8-0.7 0.8 1.3 0.8 1.6 0.8 0.4 0.8 0.2 0.8-6.2 0.8 3.1 0.8-1.7 0.8 1.1 0.8-0.7 0.8-2 0.8-1.6 0.8-3.2 0.8 2.2 0.8 0.5 0.8-1.4 0.8-0.4 0.8 2.2 0.8 1.9 0.8 0.5 0.8 1.1 0.8 1.1 0.8-0.7 0.8-1 0.8-0.3 0.8 4.1 0.8-1.1 0.8 0.5 0.8-2 0.8-0.4 0.8 2.1 0.8-2.7 0.8-0.9 0.8 3 0.8 0.4 0.8 0.3 0.8-0.2 0.8 3.6 0.8 3.6 0.8 1.4 0.8-1.9 0.8 0.2 0.8-0.7 0.8 2 0.8-0.1 0.8-2.5 0.8 3.7 0.8 0.7 0.8 0.9 0.8-1.8 0.8-1.3 0.8 0.9 0.8 1.6 0.8 1.7 0.8 1.7 0.8 0.4 0.8-4.7 0.8-0.9 0.8-0.7 0.8-3.2 0.8 1.8 0.8-1.1 0.8-1.4 0.8-2.8 0.8 0.6 0.8-0.9 0.8-0.9 0.8 1.3 0.8 2.4 0.8-6.2 0.8 2.7 0.8-0.2 0.8-1.4 0.8-2.4 0.8 1.6 0.8 2.3 0.8-2.3 0.8-0.2 0.8-4.1 0.8 1.1 0.8 1.4 0.8 0.4 0.8 2.6 0.8-6.7 0.8-3.6 0.8 2.7 0.8-2.6 0.8 3.5 0.8-0.1 0.8-0.8 0.8 4 0.8-0.4 0.8-5.3 0.8 5.4 0.8-4.2 0.8 5.7 0.8-2.4 0.8 1.1 0.8-3 0.8 1.9 0.8-7.1 0.8 0.4 0.8 4.8 0.8 2.9 0.8-6.3 0.8 1 0.8-6.7 0.8 4.2 0.8-0.7 0.8-0.7 0.8-1.5 0.8 2.8 0.8 3.5 0.8-0.5 0.8 0.4 0.8-1.4 0.8-0.7 0.8 1.9 0.8-1.5 0.8 4.2 0.8-4.8 0.8-0.8 0.8 3 0.8 2 0.8 1.8 0.8-2.2 0.8 1.5 0.8 0.8 0.8-0.2 0.8-9.3 0.8-1.8 0.8-3.5 0.8-2.8 0.8 3.5 0.8 0.2 0.8-9.1 0.8 9.4 0.8-0.2 0.8-3.1 0.8-9.2 0.8-9.6 0.8 12.8 0.8-0.3 0.8-8.8 0.8 2.9 0.8 1.1 0.8-5.2 0.8-16.2 0.8 13.7 0.8-5.9 0.8-2.1 0.8-5.7 0.8-20.2 0.8 12.7 0.8 1.3 0.8 8.3M592.6 174.6l0.8 3.3 0.8-4.5 0.8 15.8M621 155.9l0.8-24.3 0.8 18.2 0.8-7.5 0.8-10.1 0.8 5.2 0.8-2.2 0.8 6 0.8-10.1 0.8 2.4 0.8-1.7 0.8-6.9 0.8 6.8 0.8-14.2 0.8 8.5 0.8-10 0.8 17 0.8 0.1 0.8-1.2 0.8-2.2 0.8 2 0.8 1.5 0.8-1.4 0.8-7 0.8 2.9 0.8-3.1 0.8 0.8 0.8 4.8 0.8-5.2 0.8-6.5 0.8 7.1 0.8 2.2 0.8-3.8 0.8 6.3 0.8-4.1 0.8 2.6 0.8 1.7 0.8-3.8 0.8 0.8 0.8 6.3 0.8-4.7 0.8 6 0.8 0.5 0.8-4.1 0.8 10.5 0.8 0 0.8-1 0.8-2.9 0.8-1.7M760.2 111l0.8 10.3 0.8-1.4 0.8-1 0.8 4.7 0.8 4.1 0.8 0.2 0.8 8.1 0.8 3.6 0.8 1 0.8-5.6 0.8 7.5 0.8 1.7 0.8 1.1 0.8 1.7 0.8-2.7 0.8 4.4 0.8 8.8 0.8 4.8 0.8 1.6 0.8-10.2 0.8 6.6 0.8-15 0.8 2 0.8 13.2 0.8-3.4 0.8 12.8 0.8 4.7 0.8 4.8 0.8 1.2 0.8 0.2 0.8 2.3 0.8 1.9 0.8 0.1 0.8-2.8 0.8 0.7 0.8-4.3 0.8 6.5 0.8 3.1 0.8-0.2 0.8 4 0.8-7.4 0.8 9.3 0.8-0.4 0.8-7.6 0.8 5.2 0.8-0.2 0.8 2.2 0.8-1.6 0.8-4.4 0.8 1 0.8 0.3 0.8 2.2 0.8-5.8 0.8 2.4 0.8 1 0.8 5.1 0.8-6.6 0.8 6.8 0.8-6.9 0.8-0.4 0.8 5.7 0.8-6.1 0.8 1 0.8-1.7 0.8 4.3 0.8 1 0.8-1.9 0.8-0.6 0.8-2.6 0.8 2.1 0.8 0.9 0.8-0.9 0.8 0.8 0.8 2.3 0.8-5.8 0.8 2.9 0.8-1.2 0.8 2.7 0.8 0.3 0.8-0.7 0.8-4.4 0.8 1.4 0.8 1.6 0.8 0.7 0.8 0.5 0.8-1.3 0.8 0 0.8 0.7 0.8 1.1 0.8 2.8 0.8 2 0.8 0.7 0.8-1.8 0.8 2 0.8 1.2 0.8-0.3 0.8-1.4 0.8-0.2 0.8-5.8 0.8 6.6 0.8 1.8 0.8-6.9 0.8 1.6 0.8 8.5 0.8-7.5 0.8 2.9 0.8-3.5 0.8-5.5 0.8 4.1 0.8 2.8 0.8 6.4 0.8-0.2 0.8-3.2 0.8-1.3 0.8-3 0.8-1.3 0.8 8.2 0.8 0.6 0.8-0.3 0.8-0.3 0.8 0.3 0.8 0.4 0.8-0.2 0.8-3.9 0.8-5.8 0.8 4.2 0.8 4.4 0.8-4.5 0.8 2.2 0.8 0.6 0.8-7.8 0.8 5.9 0.8-5.5 0.8 1.7 0.8 4.3 0.8-2.4 0.8-4.9 0.8 1.7 0.8-5.6 0.8 3.5 0.8-2 0.8 0.2 0.8 0.7 0.8 3.8 0.8-5.7 0.8 0.7 0.8-1.2 0.8 3.9 0.8 3.9 0.8-5.6 0.8 4.6 0.8-4.8 0.8 7.8 0.8-1.6 0.8 0.1 0.8-2 0.8 0.9 0.8 4 0.8-0.3 0.8 0.4 0.8 5.6 0.8 1.7 0.8-0.7 0.8-5 0.8 2.7 0.8 0.7 0.8-1.3 0.8 1.7 0.8-1.7 0.8-0.8 0.8-3.2 0.8 0.1 0.8 1 0.8-0.5 0.8 4.4 0.8-1.5 0.8 1.7 0.8 1.7 0.8 3.1 0.8 1.2 0.8-5 0.8 2.6 0.8-7.3 0.8 7 0.8-0.1 0.8-0.4 0.8-9.8 0.8 0.8 0.8 5.9 0.8-1.3 0.8-3.2 0.8 3.3 0.8-3 0.8-5.9 0.8 4.3 0.8 2.3 0.8-5.8 0.8 1.6 0.8-2 0.8-1.5 0.8-15.8 0.8 11.3 0.8-3.3 0.8-10.5 0.8 14.5 0.8-7.1 0.8 8.5M958.6 171.8l0.8-7 0.8 17.2 0.8-9.3 0.8 2.5 0.8 2.6 0.8 10.2 0.8 0 0.8-3.3 0.8 3.3 0.8-8.2 0.8 4.7 0.8 3.8 0.8-9 0.8 2.3 0.8 14.4 0.8-0.8 0.8-3.9 0.8 2.8 0.8 1.1 0.8 0.4 0.8-3.8 0.8-1.6 0.8 5.5 0.8-1.2 0.8 1.5 0.8 0.4 0.8 1.5 0.8-7.1 0.8 7 0.8 0.1 0.8-3.3 0.8 1.8 0.8-0.9 0.8-4.1 0.8 1.2 0.8 0.7 0.8-4.2 0.8 3.4 0.8-11.8 0.8 6.1 0.8 6.7 0.8-9.2 0.8 3.7 0.8 2.2 0.8 3.1 0.8-5.6 0.8 2.1 0.8-0.6 0.8-2.3 0.8-1.5 0.8 0.1 0.8 1.3 0.8-0.4 0.8-3.2 0.8 2 0.8-3.9 0.8-1.6 0.8 0.1 0.8 2.4 0.8 0 0.8 0.8 0.8-0.7 0.8 3.3 0.8 0 0.8 0.9 0.8 0.6 0.8-0.3 0.8-5.4 0.8 5.5 0.8-5.6 0.8 0.7 0.8-2.1 0.8-3.4 0.8 5.5 0.8-2.9 0.8-3.4 0.8 6.2 0.8-3.8 0.8 3.5 0.8 1.6 0.8-3.3 0.8 4.5 0.8-2.6 0.8 2.2 0.8-4.5 0.8 1.1 0.8-5.8 0.8-0.1 0.8-1.6 0.8 7.3 0.8-6 0.8 7.8 0.8 0.9 0.8-6.9 0.8-2.5 0.8 4.7 0.8-9.8 0.8 6.9 0.8-1.2 0.8-0.8 0.8-2.4 0.8 0.4 0.8 1 0.8 0.7 0.8 2.2 0.8-3 0.8 5.3 0.8-7.8 0.8-0.3 0.8-3.1 0.8 4.6 0.8-5.5 0.8 5.5 0.8-3 0.8-0.6 0.8-16.2 0.8 12.4 0.8-11.8 0.8 8.1 0.8-9.6 0.8 7.9 0.8-3 0.8 10 0.8 1.8 0.8-7 0.8 9 0.8-4.3 0.8 12.5 0.8 0.5 0.8 1.7 0.8 5.7 0.8-3.4 0.8 7.9 0.8 1.3 0.8 1.4 0.8-9.3 0.8 8.2 0.8-3.3 0.8 6.9 0.8-7.7 0.8-2.6 0.8 14.3 0.8-0.9 0.8 3.8 0.8 0.9 0.8-3.8 0.8-2.4 0.8-3.4 0.8 0.2 0.8 7.9 0.8-3.8 0.8 1.1 0.8 4.7 0.8-6 0.8 2.8 0.8-5.2 0.8 6.1 0.8 1.1 0.8-0.9 0.8 0 0.8-7.4 0.8 6.6 0.8-2.2 0.8 6.4 0.8-0.7 0.8-8.7 0.8-0.7 0.8-7.8 0.8-6.5 0.8-2 0.8-7.5 0.8 6.7 0.8-13.4 0.8-2.2 0.8-1 0.8-6.7 0.8 3 0.8-3.2 0.8 2.4 0.8-0.7 0.8 5.1 0.8-6.4 0.8 6.2 0.8 0.2 0.8-0.4 0.8-3 0.8-5 0.8 7 0.8-8.3 0.8 0.7 0.8 5 0.8 4.3 0.8-3.5 0.8 5.2 0.8 1.3 0.8-1.4 0.8-2.9 0.8-3.5 0.8-8.7 0.8 9 0.8-1 0.8-3.2 0.8 0.6 0.8 2.7 0.8 2 0.8 5.5 0.8-3 0.8 4.7 0.8-3.3 0.8-1 0.8 6.9 0.8-1.9 0.8 0.4 0.8 0.9" fill="none" stroke="#ff0000" stroke-width="1.4" stroke-linejoin="round"/>
<path d="M280 178.8l0.8-5.6 0.8 3.1 0.8 4.9 0.8-1.4 0.8-2.1 0.8-4.3 0.8-0.1 0.8 3.6 0.8-0.4 0.8 0.2 0.8-1 0.8-0.1 0.8-6.4 0.8 0.6 0.8 5.7 0.8-0.5 0.8 2.1 0.8 0.8 0.8-0.8 0.8-2.9 0.8 3.4 0.8-2.4 0.8 5.6 0.8 3 0.8 2.3 0.8 0 0.8-0.4 0.8-0.2 0.8-0.3 0.8-10.3 0.8-1.5 0.8-1.4 0.8 1.5 0.8 10.2 0.8 0.3 0.8 2.2 0.8-2.5 0.8-0.5 0.8-2.1 0.8-10.7 0.8-1 0.8 1.9 0.8 11 0.8 1.9 0.8 0.9 0.8-9.5 0.8 5.5 0.8-7.7 0.8 7 0.8-5.7 0.8 0 0.8-2.7 0.8 8.7 0.8-0.1 0.8-11.2 0.8 8.6 0.8-4.6 0.8 2.2 0.8 1.6 0.8-3.1 0.8 1.5 0.8-0.4 0.8 0.1 0.8-5.2 0.8 5 0.8-2.5 0.8-7.1 0.8 6.6 0.8 1 0.8-5.5 0.8 2.3 0.8 4.1 0.8 1.4 0.8 1.5 0.8-3.4 0.8-4.5 0.8 6 0.8 1.3 0.8-4.8 0.8 1.2 0.8-1.7 0.8-2.6 0.8 6.4 0.8 0.5 0.8-3.3 0.8 4.6 0.8-3.1 0.8 2.2 0.8-2 0.8-0.3 0.8-5.9 0.8 7 0.8-6 0.8 5.4 0.8-6.8 0.8 0 0.8 2.9 0.8 2.9 0.8-2 0.8 6.9 0.8-1.8 0.8 3.9 0.8-0.3 0.8-1.2 0.8-3.1 0.8-1.5 0.8 8.7 0.8-2.3 0.8-4.5 0.8 2.9 0.8-3.7 0.8 9.4 0.8-2.5 0.8 7.3 0.8-0.1 0.8 6.1 0.8 3 0.8 0.5 0.8-3.5 0.8-3.8 0.8-1.1 0.8-0.8 0.8-6.9 0.8 2.1 0.8-1.9 0.8-2.5 0.8 1.2 0.8-2.6 0.8 4.4 0.8 0.1 0.8-6.7 0.8-0.2 0.8-4.7 0.8-3.1 0.8 7.7 0.8 6.8 0.8-10.8 0.8 0.7 0.8 4.9 0.8 2.1 0.8 0.4 0.8 0.3 0.8-0.1 0.8-7.5 0.8-3.8 0.8-1 0.8 9.3 0.8-0.9 0.8 3 0.8 0.3 0.8-4.9 0.8 3.5 0.8-6.9 0.8-3.8 0.8-1.8 0.8 1.7 0.8 2.5 0.8-1.5 0.8 4 0.8 3.6 0.8-4.2 0.8-4.1 0.8 3.8 0.8 0.7 0.8 1.5 0.8-1.1 0.8-0.9 0.8 1.2 0.8 1.5 0.8 0.1 0.8-0.5 0.8-4.1 0.8 3.6 0.8-0.8 0.8 1.3 0.8-4.5 0.8 6 0.8 1.1 0.8 0.9 0.8 0.1 0.8-0.6 0.8-4 0.8 5.7 0.8-7.9 0.8 5.9 0.8 1.2 0.8 0 0.8 2.1 0.8-0.2 0.8-0.1 0.8 1.1 0.8 0.3 0.8-5.2 0.8 3.4 0.8 6.2 0.8-1.9 0.8 4.6 0.8-2.1 0.8 4.1 0.8 1.8 0.8-0.5 0.8 2 0.8 2.4 0.8-3.2 0.8 1.3 0.8-0.7 0.8-1.6 0.8 0.8 0.8-5.2 0.8-1.4 0.8-0.7 0.8 4 0.8 0.1 0.8-1.9 0.8-3.8 0.8 2 0.8-3.8 0.8 2.2 0.8 2.7 0.8-7.6 0.8 2.9 0.8-1 0.8-2 0.8 0.6 0.8-1.1 0.8-6.1 0.8 8.2 0.8-2.8 0.8 0.2 0.8-0.4 0.8-4.3 0.8 3.1 0.8 1.4 0.8 0 0.8-0.8 0.8-1.4 0.8-0.5 0.8-6.1 0.8 4.9 0.8-5.1 0.8 6.7 0.8-7.1 0.8 8.9 0.8-2.5 0.8 3.8 0.8-0.2 0.8-6.1 0.8 6 0.8-5.5 0.8 2.4 0.8 2.7 0.8-0.6 0.8-5.2 0.8 3.7 0.8-5.8 0.8 3 0.8-7 0.8-1.2 0.8 7 0.8 1.7 0.8 0.4 0.8-7 0.8 3.5 0.8-11.4 0.8 6.2 0.8 1.9 0.8-1.2 0.8-2.5 0.8 5.4 0.8-4 0.8-0.2 0.8-1.9 0.8 3.9 0.8-2.3 0.8 7.2 0.8-10.9 0.8 7.3 0.8 0.8 0.8-3.3 0.8 2.6 0.8 3.5 0.8-2.5 0.8 7.2 0.8-5.2 0.8 4 0.8-6.3 0.8 1.1 0.8-3.1 0.8-1.5 0.8-8.7 0.8 2.1 0.8-1.9 0.8-1.9 0.8-0.7 0.8-10.5 0.8-12 0.8 7.5 0.8-11 0.8 9.2 0.8-13.3 0.8-3.2 0.8 10.5 0.8-3 0.8-7.5 0.8 3.4 0.8-0.9 0.8-1.1 0.8-6 0.8-0.5 0.8 12.4 0.8-7 0.8-20.3 0.8 15 0.8-20.9 0.8 19.1 0.8-17.9 0.8-6.2 0.8 21.9 0.8-28.9 0.8 27.6 0.8 1.4 0.8-0.1 0.8 2.7 0.8 14.2 0.8 6.3 0.8 1.4 0.8-7.6 0.8 5 0.8-5.2 0.8 7.3 0.8 3.6 0.8-4.1 0.8-1.9 0.8-5.7 0.8 5.1 0.8-13.9 0.8-0.5 0.8 12.5 0.8-13.2 0.8 18.9 0.8-20.3 0.8 11.3 0.8 16.7 0.8-21.5 0.8 8.9 0.8-5.1 0.8 18.3 0.8-14.4 0.8 13.9 0.8 2 0.8-8.5 0.8 2.1 0.8-2.1 0.8 0.2 0.8-6 0.8 5.2 0.8 10.8 0.8 0.3 0.8 1.7 0.8 2.5 0.8-8.1 0.8-10.7 0.8-2.9 0.8 15.1 0.8-17.8 0.8 7.9 0.8 14.9 0.8-3.2 0.8 6.5 0.8-3.7 0.8-22.1 0.8 2.4 0.8 12.3 0.8 16 0.8-7.2 0.8 4.8 0.8-4.2 0.8 5.5 0.8 1.3 0.8-3.7 0.8-2 0.8 5.5 0.8 1.6 0.8 0.9 0.8-7.8 0.8 10.4 0.8-2.7 0.8 0 0.8-10.6 0.8 7.2 0.8 9.6 0.8-3.8 0.8 12.1 0.8 6 0.8 3.5 0.8 2.6 0.8 5.8 0.8 4.2 0.8-13.1 0.8 16.3 0.8-6.7 0.8 8.8M616 176.8l0.8-1 0.8 15.7 0.8-11.7 0.8-35.1 0.8 7.5 0.8 3.2 0.8 10.4 0.8-11.7 0.8 12.5 0.8-2.5 0.8-18.3 0.8 16.9 0.8-5.5 0.8-17.3 0.8 0.6 0.8 9.2 0.8-10 0.8 4.4 0.8-20.7 0.8 1.9 0.8 9.6 0.8-4.3 0.8 16.5 0.8-5.1 0.8 7.7 0.8-4.7 0.8-21 0.8 16.9 0.8-9.9 0.8 4.2 0.8 0 0.8 3.7 0.8-7 0.8-8 0.8-0.5 0.8 17.4 0.8 8.4 0.8 3.3 0.8-0.5 0.8-1.3 0.8-13.9 0.8-6 0.8 21.9 0.8-17.1 0.8 14.6 0.8-23.8 0.8 21.5 0.8 3.9 0.8 0.5 0.8-11.6 0.8 7.5 0.8-3.4 0.8-3 0.8 1.1 0.8 13.1 0.8-5.6 0.8-3 0.8 2.6 0.8 2 0.8-0.7 0.8-0.5 0.8-1.8 0.8-0.9 0.8 1.6 0.8-8 0.8-2.2 0.8-0.3 0.8-9.1 0.8 12 0.8-9.8 0.8 13.5 0.8-11.9 0.8 13.8 0.8 2.3 0.8-8.7 0.8 2.3 0.8 2.3 0.8-1.8 0.8-14 0.8 4 0.8-14.4 0.8 9.5 0.8-7.4 0.8 18 0.8-12.8 0.8 5.4 0.8-4.9 0.8-1.4 0.8-23.4 0.8 23 0.8 3.4 0.8-3.1M760.8 129.7l0.8 4.3 0.8 3.3 0.8-1.2 0.8 4.5 0.8 1.7 0.8-4.5 0.8 9.9 0.8 5.7 0.8-5.7 0.8 8.4 0.8-7.2 0.8 6.8 0.8-6.9 0.8-11 0.8 2.7 0.8 3.7 0.8 13.5 0.8 7.1 0.8 0.6 0.8-13.1 0.8-4 0.8 14.2 0.8-17.1 0.8 15.3 0.8 1.7 0.8-5.3 0.8 8.7 0.8-9.4 0.8 10.3 0.8-1.5 0.8 3.4 0.8 0.2 0.8 3.8 0.8 4.5 0.8 4 0.8 0.2 0.8-1 0.8 3.9 0.8 4.6 0.8-0.9 0.8-7.1 0.8 7 0.8 13.4 0.8 4 0.8-22.2 0.8 11.7 0.8-5.3 0.8-4.3 0.8 14.3 0.8 2 0.8-14.3 0.8 22.9 0.8-14.7 0.8-7.8 0.8-6.4 0.8 13.1 0.8 19.8 0.8-14.9 0.8 13.1 0.8-20.2 0.8 21.8 0.8-4.4 0.8-11.2 0.8-3.9 0.8 1.8 0.8-6.4 0.8-12.3 0.8 6.4 0.8-6.9 0.8 2.7 0.8-1.4 0.8 2.9 0.8-0.4 0.8 1.1 0.8-7.1 0.8 7.2 0.8-5.7 0.8 5.7 0.8-0.5 0.8-0.2 0.8-3.1 0.8 2 0.8 4.5 0.8 0.3 0.8-4.5 0.8 0.2 0.8 2.5 0.8 0.2 0.8-5.4 0.8 5.3 0.8 0 0.8-5.4 0.8-3.7 0.8 8.2 0.8-5.9 0.8 7.4 0.8-3.3 0.8 3 0.8 1.8 0.8-6.4 0.8 3 0.8 0.8 0.8 3.5 0.8-2.8 0.8 1.3 0.8-5.2 0.8 5.8 0.8 1.7 0.8 1.6 0.8-4.5 0.8 1.5 0.8 1.2 0.8-6.5 0.8-0.3 0.8 4.3 0.8-7.2 0.8 6.5 0.8 2.7 0.8 1.1 0.8-8 0.8 6.9 0.8-6.2 0.8 5.8 0.8-0.9 0.8 0 0.8-4.5 0.8 1.2 0.8-6.9 0.8-2.8 0.8 0.8 0.8 6.9 0.8 7.1 0.8-7.9 0.8-1.4 0.8 5.7 0.8-4 0.8-2.5 0.8 10.4 0.8 1.1 0.8-4 0.8 2.8 0.8-1.5 0.8-1.3 0.8 1 0.8-2.3 0.8 3 0.8-3.6 0.8-4.8 0.8 5.9 0.8-0.1 0.8 1.7 0.8 1.9 0.8 0.8 0.8-1.2 0.8-0.6 0.8-5.1 0.8 5.6 0.8-0.9 0.8-4.7 0.8 6.2 0.8-1.4 0.8 3.6 0.8 0.3 0.8-6.6 0.8 3.4 0.8-5 0.8 0.2 0.8 5.2 0.8-3.3 0.8 4.8 0.8-0.9 0.8-6.4 0.8 0.4 0.8 6.4 0.8 1.2 0.8-1.5 0.8 4.3 0.8-1.1 0.8-1.5 0.8-0.7 0.8 0.7 0.8 0.7 0.8-0.6 0.8-3 0.8-3.5 0.8-1.1 0.8-0.6 0.8 7.6 0.8-3.5 0.8 3 0.8 0.2 0.8-0.8 0.8-3.4 0.8-0.4 0.8-4.4 0.8 1.1 0.8-3.4 0.8 1.5 0.8 2.3 0.8-1.9 0.8-7.1 0.8 2.9 0.8 1.6 0.8 3.3 0.8-8 0.8-2.3 0.8 4.6 0.8-8.2 0.8 7.9M958.4 174.9l0.8 3 0.8 0.7 0.8-3.5 0.8 1.5 0.8 4.2 0.8 3.8 0.8 0.5 0.8 0.4 0.8-0.3 0.8 0.9 0.8-0.5 0.8-5 0.8 2.3 0.8 1.7 0.8-2.1 0.8-5.2 0.8 6.9 0.8-0.9 0.8-8 0.8 5.7 0.8 2.9 0.8-8.6 0.8 9.3 0.8 1.2 0.8-7.9 0.8 10.2 0.8-5.3 0.8-1.7 0.8 5.4 0.8-1.1 0.8 0 0.8-0.8 0.8-0.8 0.8-0.7 0.8 0.9 0.8-3.6 0.8 1.3 0.8 1.5 0.8-9.6 0.8-0.3 0.8 4.6 0.8 0 0.8 6.8 0.8-3.2 0.8-1.7 0.8 5.9 0.8 1.7 0.8-0.4 0.8-1.4 0.8-1.3 0.8 1.3 0.8 3.7 0.8-1.4 0.8-5.4 0.8 4 0.8-7.6 0.8 10.9 0.8-1.9 0.8 0.1 0.8-7.7 0.8 4.9 0.8-2.9 0.8 5.4 0.8 0 0.8-1.9 0.8-4.3 0.8-9.7 0.8 7.3 0.8-7.4 0.8 6.3 0.8 2.4 0.8-2 0.8-1.9 0.8 7.2 0.8 5.3 0.8 1 0.8 1 0.8-5.6 0.8 3.5 0.8 1.8 0.8-7.9 0.8 7.5 0.8-12.9 0.8 16.6 0.8-10.3 0.8 2.4 0.8 2.2 0.8 3.2 0.8-3.4 0.8-8 0.8 4.1 0.8-12 0.8-2.8 0.8 6.3 0.8-9.3 0.8-2.8 0.8 11.1 0.8-1.8 0.8-13.7 0.8 0 0.8 1.8 0.8-9.4 0.8 17.1 0.8 1.5 0.8 2.7 0.8-7.1 0.8 7.2 0.8-11.9 0.8 13.7 0.8-0.9 0.8 1.2 0.8-1.7 0.8-12.6 0.8 8.6 0.8-9 0.8 15.1 0.8-2 0.8-19.8 0.8 7.3 0.8-8 0.8 8.1 0.8-11.8 0.8 10.2 0.8-9.6 0.8 9.4 0.8-5.4 0.8 10.7 0.8 3.8 0.8 3.8 0.8 0.7 0.8-0.7 0.8 0.9 0.8-0.2 0.8 1.6 0.8 2 0.8-4 0.8 0.5 0.8 1.5 0.8 8.8 0.8-7.6 0.8 7.8 0.8-2.2 0.8 12.7 0.8 2.3 0.8 1.6 0.8-6.3 0.8 6.9 0.8-12.5 0.8 10 0.8 9.2 0.8-1.6 0.8-3.6 0.8-11.7 0.8 6.9 0.8-2 0.8 0.9 0.8-8 0.8 0.3 0.8 10.2 0.8-10.6 0.8 10.7 0.8-7.2 0.8 2.6 0.8-1.1 0.8-1.6 0.8-1.8 0.8-0.8 0.8-8.2 0.8-8.1 0.8 7.2 0.8-9.5 0.8 9.8 0.8-5.1 0.8 2.5 0.8 0.2 0.8-4.9 0.8-0.1 0.8-4 0.8-6.8 0.8 3.6 0.8-0.9 0.8-4.1 0.8 6.3 0.8-0.5 0.8-1.3 0.8 0.4 0.8-3.3 0.8 0.6 0.8 0.3 0.8 1.4 0.8-8.5 0.8 6.7 0.8-0.6 0.8-6 0.8-2.7 0.8 8.3 0.8-1.1 0.8 2.7 0.8-1.4 0.8 1.6 0.8-0.8 0.8 0.1 0.8 0.2 0.8-1 0.8 2 0.8-1.9 0.8 0.2 0.8-0.9 0.8 3.9 0.8 4.3 0.8 0.7 0.8-4.6 0.8 0.4 0.8-4.8" fill="none" stroke="#00cc2e" stroke-width="1.4" stroke-linejoin="round"/>
<path d="M532 110.6l0.8-15.6 0.4 0 0.8 15.6M531.4 110.6l1.8-15 0.4 0 1.8 15M529.8 110.6l2.6-14 0.4 0 2.6 14M227 203.7l0.8 21.3 0.4 0 0.8-21.3M226.4 203.7l1.8 20.4 0.4 0 1.8-20.4M224.8 203.7l2.6 19.2 0.4 0 2.6-19.2M234 206.2l0.8 18.8 0.4 0 0.8-18.8M233.4 206.2l1.8 18 0.4 0 1.8-18M231.8 206.2l2.6 16.9 0.4 0 2.6-16.9M271 197.1l0.8 15.9 0.4 0 0.8-15.9M270.4 197.1l1.8 15.3 0.4 0 1.8-15.3M268.8 197.1l2.6 14.3 0.4 0 2.6-14.3M284 196.8l0.8 19.2 0.4 0 0.8-19.2M283.4 196.8l1.8 18.4 0.4 0 1.8-18.4M281.8 196.8l2.6 17.3 0.4 0 2.6-17.3M308 197.4l0.8 17.6 0.4 0 0.8-17.6M307.4 197.4l1.8 16.9 0.4 0 1.8-16.9M305.8 197.4l2.6 15.8 0.4 0 2.6-15.8M321 196.5l0.8 18.5 0.4 0 0.8-18.5M320.4 196.5l1.8 17.8 0.4 0 1.8-17.8M318.8 196.5l2.6 16.6 0.4 0 2.6-16.6M372 183l0.8 23 0.4 0 0.8-23M371.4 183l1.8 22.1 0.4 0 1.8-22.1M369.8 183l2.6 20.7 0.4 0 2.6-20.7M381 183.4l0.8 20.6 0.4 0 0.8-20.6M380.4 183.4l1.8 19.8 0.4 0 1.8-19.8M378.8 183.4l2.6 18.5 0.4 0 2.6-18.5M436 200.4l0.8 13.6 0.4 0 0.8-13.6M435.4 200.4l1.8 13.1 0.4 0 1.8-13.1M433.8 200.4l2.6 12.2 0.4 0 2.6-12.2M442 201.2l0.8 12.8 0.4 0 0.8-12.8M441.4 201.2l1.7 12.3 0.5 0 1.7-12.3M439.9 201.2l2.5 11.5 0.5 0 2.4-11.5M451 198.1l0.8 13.9 0.4 0 0.8-13.9M450.4 198.1l1.8 13.3 0.4 0 1.8-13.3M448.8 198.1l2.6 12.5 0.4 0 2.6-12.5M474.2 185.9l0.6 7.1 0.4 0 0.6-7.1M474 185.9l1 6.8 0.5 0 1-6.8M473 185.9l1.5 6.4 0.5 0 1.5-6.4M486.2 184.8l0.6 7.2 0.4 0 0.6-7.2M486 184.8l1 6.9 0.5 0 1-6.9M485 184.8l1.5 6.5 0.5 0 1.5-6.5M526 165.4l0.8 44.6 0.4 0 0.8-44.6M525.4 165.4l1.8 42.8 0.4 0 1.8-42.8M523.8 165.4l2.6 40.1 0.4 0 2.6-40.1M549 160.3l0.8 59.7 0.4 0 0.8-59.7M548.4 160.3l1.8 57.3 0.4 0 1.8-57.3M546.8 160.3l2.6 53.7 0.4 0 2.6-53.7M687 190.8l0.8 24.2 0.4 0 0.8-24.2M686.4 190.8l1.8 23.2 0.4 0 1.8-23.2M684.8 190.8l2.6 21.8 0.4 0 2.6-21.8M808 221.8l0.8 16.2 0.4 0 0.8-16.2M807.4 221.8l1.8 15.6 0.4 0 1.8-15.6M805.8 221.8l2.6 14.6 0.4 0 2.6-14.6M827.1 196.1l0.7 10.9 0.4 0 0.7-10.9M826.6 196.1l1.5 10.5 0.5 0 1.4-10.5M825.3 196.1l2.1 9.8 0.5 0 2.1-9.8M855 203.2l0.8 12.8 0.4 0 0.8-12.8M854.4 203.2l1.7 12.3 0.5 0 1.7-12.3M852.9 203.2l2.5 11.5 0.5 0 2.4-11.5M874.1 203.4l0.7 11.6 0.4 0 0.7-11.6M873.6 203.4l1.5 11.1 0.5 0 1.6-11.1M872.1 203.4l2.3 10.4 0.5 0 2.3-10.4M930 203.3l0.8 46.7 0.4 0 0.8-46.7M929.4 203.3l1.8 44.8 0.4 0 1.8-44.8M927.8 203.3l2.6 42 0.4 0 2.6-42M967 215.3l0.8 26.7 0.4 0 0.8-26.7M966.4 215.3l1.8 25.6 0.4 0 1.8-25.6M964.8 215.3l2.6 24 0.4 0 2.6-24M1024 180.8l0.8 49.2 0.4 0 0.8-49.2M1023.4 180.8l1.8 47.2 0.4 0 1.8-47.2M1021.8 180.8l2.6 44.3 0.4 0 2.6-44.3M1051 167.1l0.8 50.9 0.4 0 0.8-50.9M1050.4 167.1l1.8 48.9 0.4 0 1.8-48.9M1048.8 167.1l2.6 45.8 0.4 0 2.6-45.8M1068 201.4l0.8 43.6 0.4 0 0.8-43.6M1067.4 201.4l1.8 41.9 0.4 0 1.8-41.9M1065.8 201.4l2.6 39.2 0.4 0 2.6-39.2M1074 201.6l0.8 23.4 0.4 0 0.8-23.4M1073.4 201.6l1.8 22.5 0.4 0 1.8-22.5M1071.8 201.6l2.6 21.1 0.4 0 2.6-21.1M1087 198.5l0.8 20.5 0.4 0 0.8-20.5M1086.4 198.5l1.8 19.7 0.4 0 1.8-19.7M1084.8 198.5l2.6 18.5 0.4 0 2.6-18.5M553 170.8l0.8 39.2 0.4 0 0.8-39.2M552.4 170.8l1.8 37.6 0.4 0 1.8-37.6M550.8 170.8l2.6 35.3 0.4 0 2.6-35.3M629.2 176.4l0.6 8.6 0.4 0 0.6-8.6M628.9 176.4l1.1 8.3 0.5 0 1.2-8.3M627.7 176.4l1.8 7.7 0.5 0 1.7-7.7M584.9 185.3l7.5 4.7 3 15.7 2.5 19.1 2.1 20.2 2.2 15.7 1.9 24.6 0.9 15.3 1.3 14.2 0.4 11.3 3.7 0.1 1.7-5 1.2-20.8 1.5-25.5 1.2-19.7 2.6-25.1 1.4-25.1 0.6-15.6 2.8-14.1M586.4 184.4l6.4 5.4 3.7 14.8 2.9 19.5 1.4 20.4 2.4 15.3 1.6 25.5 1.2 14.6 0.8 15.3 1.1 10.6 2.7 1.8 2.4-5.8 1.8-22.8 1-24 0.7-19.9 2.5-24.4 2.5-25.6 0.4-13.4 2.1-16.8M587.2 184.6l6.6 4.9 3 15.5 3.2 19.7 2.1 21.2 2.1 13.2 1 25.2 2.1 15.9 1.1 15.3 1 8.8 2.8 3.5 1.8-6.9 2.2-20.2 1.1-26.2 0.5-19.7 2.4-23.7 1.9-26.1 0.9-15.3 2.5-14.5M621.5 199.3l1.5 22.3 1.8-16.9 0.3-14.3M621.9 199l2.2 23 2.2-17.7 0.1-13.9M623.1 199l1.9 23.6 1.9-17.7-0.1-14.8" fill="none" stroke="#0000ff" stroke-width="1.4" stroke-linejoin="round"/>
<path d="M935 112.2l0.8-15.2 0.4 0 0.8 15.2M934.4 112.2l1.8-14.6 0.4 0 1.8 14.6M932.8 112.2l2.6-13.7 0.4 0 2.6 13.7M946 116.1l0.8-16.1 0.4 0 0.8 16.1M945.4 116.1l1.8-15.5 0.4 0 1.8 15.5M943.8 116.1l2.6-14.5 0.4 0 2.6 14.5M627 114.3l0.8-57.3 0.4 0 0.8 57.3M626.4 114.3l1.8-55 0.4 0 1.8 55M624.8 114.3l2.6-51.6 0.4 0 2.6 51.6M688 74.1l0.8-33.1 0.4 0 0.8 33.1M687.4 74.1l1.8-31.8 0.4 0 1.8 31.8M685.8 74.1l2.6-29.8 0.4 0 2.6 29.8M701 82.8l0.8-19.8 0.4 0 0.8 19.8M700.4 82.8l1.8-19 0.4 0 1.8 19M698.8 82.8l2.6-17.8 0.4 0 2.6 17.8M711 81.4l0.8-23.4 0.4 0 0.8 23.4M710.4 81.4l1.8-22.5 0.4 0 1.8 22.5M708.8 81.4l2.6-21.1 0.4 0 2.6 21.1M729 79.1l0.8-26.1 0.4 0 0.8 26.1M728.4 79.1l1.8-25.1 0.4 0 1.8 25.1M726.8 79.1l2.6-23.5 0.4 0 2.6 23.5M744 82.6l0.8-20.6 0.4 0 0.8 20.6M743.4 82.6l1.8-19.8 0.4 0 1.8 19.8M741.8 82.6l2.6-18.5 0.4 0 2.6 18.5M754 84.1l0.8-14.1 0.4 0 0.8 14.1M753.4 84.1l1.8-13.5 0.4 0 1.8 13.5M751.8 84.1l2.6-12.7 0.4 0 2.6 12.7M536 80.2l0.8-23.2 0.4 0 0.8 23.2M535.4 80.2l1.8-22.3 0.4 0 1.8 22.3M533.8 80.2l2.6-20.9 0.4 0 2.6 20.9M548 87l0.8-27 0.4 0 0.8 27M547.4 87l1.8-25.9 0.4 0 1.8 25.9M545.8 87l2.6-24.3 0.4 0 2.6 24.3M559 90.1l0.8-23.1 0.4 0 0.8 23.1M558.4 90.1l1.8-22.2 0.4 0 1.8 22.2M556.8 90.1l2.6-20.8 0.4 0 2.6 20.8M567 95.4l0.8-14.4 0.4 0 0.8 14.4M566.4 95.4l1.8-13.8 0.4 0 1.8 13.8M564.8 95.4l2.6-13 0.4 0 2.6 13M309 182.6l0.8 49.4 0.4 0 0.8-49.4M308.4 182.6l1.8 47.4 0.4 0 1.8-47.4M306.8 182.6l2.6 44.5 0.4 0 2.6-44.5M360 178l0.8 33 0.4 0 0.8-33M359.4 178l1.8 31.7 0.4 0 1.8-31.7M357.8 178l2.6 29.7 0.4 0 2.6-29.7M386 182.7l0.8 37.3 0.4 0 0.8-37.3M385.4 182.7l1.8 35.8 0.4 0 1.8-35.8M383.8 182.7l2.6 33.6 0.4 0 2.6-33.6M406.2 185.3l0.6 6.7 0.4 0 0.6-6.7M406 185.3l1 6.4 0.5 0 0.9-6.4M405.1 185.3l1.4 6 0.5 0 1.4-6M491.2 173.6l0.6 9.4 0.4 0 0.6-9.4M490.8 173.6l1.3 9 0.5 0 1.2-9M489.6 173.6l1.8 8.5 0.5 0 1.9-8.5M636 125.3l0.8 54.7 0.4 0 0.8-54.7M635.4 125.3l1.8 52.5 0.4 0 1.8-52.5M633.8 125.3l2.6 49.2 0.4 0 2.6-49.2M683 101l0.8 39 0.4 0 0.8-39M682.4 101l1.8 37.4 0.4 0 1.8-37.4M680.8 101l2.6 35.1 0.4 0 2.6-35.1M809 187.4l0.8 30.6 0.4 0 0.8-30.6M808.4 187.4l1.8 29.4 0.4 0 1.8-29.4M806.8 187.4l2.6 27.5 0.4 0 2.6-27.5M884 191.8l0.8 28.2 0.4 0 0.8-28.2M883.4 191.8l1.8 27.1 0.4 0 1.8-27.1M881.8 191.8l2.6 25.4 0.4 0 2.6-25.4M913 191.2l0.8 41.8 0.4 0 0.8-41.8M912.4 191.2l1.8 40.1 0.4 0 1.8-40.1M910.8 191.2l2.6 37.6 0.4 0 2.6-37.6M953 154.9l0.8 77.1 0.4 0 0.8-77.1M952.4 154.9l1.8 74 0.4 0 1.8-74M950.8 154.9l2.6 69.4 0.4 0 2.6-69.4M1024 179.9l0.8 50.1 0.4 0 0.8-50.1M1023.4 179.9l1.8 48.1 0.4 0 1.8-48.1M1021.8 179.9l2.6 45.1 0.4 0 2.6-45.1M1040 168l0.8 80 0.4 0 0.8-80M1039.4 168l1.8 76.8 0.4 0 1.8-76.8M1037.8 168l2.6 72 0.4 0 2.6-72M1074 197.8l0.8 14.2 0.4 0 0.8-14.2M1073.4 197.8l1.8 13.6 0.4 0 1.8-13.6M1071.8 197.8l2.6 12.8 0.4 0 2.6-12.8M1055 146.2l0.8-56.2 0.4 0 0.8 56.2M1054.4 146.2l1.8-54 0.4 0 1.8 54M1052.8 146.2l2.6-50.6 0.4 0 2.6 50.6M1053 147.5l0.8-47.5 0.4 0 0.8 47.5M1052.4 147.5l1.8-45.6 0.4 0 1.8 45.6M1050.8 147.5l2.6-42.8 0.4 0 2.6 42.8M588.8 179.7l5 9.7 3 20.8 3.2 14.4 2.2 20.1 1.1 13.7 1.6 22.1 1 19.2 1.5 20.4 0.6 13.2 3.3 2.3 2-3.5 1.2-11.8 1.6-19 0.8-22.5 1-18.8 1.3-34.3 1.6-35.2 1-25.7 2.4-35.1M590.3 181l4.6 8.4 2.8 20.2 3.1 16.5 2.3 18.7 1.4 13.9 1.4 21.8 1.1 19.1 1.5 20.4 0.6 13.8 3 2.6 1.6-2.6 1.7-13.7 1.9-20.8 0.8-19.6 1-20.7 1.3-34.4 1.2-34.3 1.3-25.3 2-36.3M591.4 179.4l4.5 8.9 3.3 21.6 2.9 14.8 1.9 20.4 1.6 13.9 1.5 20.7 0.7 20.1 1.4 20.1 0.5 13.6 3.6 1.8 1.5-2 1.8-14.2 1.4-19.2 1.2-19.4 0.7-20.8 1.5-35.1 1.5-34.4 1.2-25.8 2.2-34.5" fill="none" stroke="#ff0000" stroke-width="1.4" stroke-linejoin="round"/>
<path d="M938 114.1l0.8-13.1 0.4 0 0.8 13.1M937.4 114.1l1.7-12.6 0.5 0 1.8 12.6M935.8 114.1l2.6-11.8 0.5 0 2.5 11.8M950 123l0.8-14 0.4 0 0.8 14M949.4 123l1.8-13.4 0.4 0 1.8 13.4M947.8 123l2.6-12.6 0.4 0 2.6 12.6M626 123.3l0.8-34.3 0.4 0 0.8 34.3M625.4 123.3l1.8-32.9 0.4 0 1.8 32.9M623.8 123.3l2.6-30.9 0.4 0 2.6 30.9M691 85.8l0.8-18.8 0.4 0 0.8 18.8M690.4 85.8l1.8-18 0.4 0 1.8 18M688.8 85.8l2.6-16.9 0.4 0 2.6 16.9M533 78.9l0.8-19.9 0.4 0 0.8 19.9M532.4 78.9l1.8-19.1 0.4 0 1.8 19.1M530.8 78.9l2.6-17.9 0.4 0 2.6 17.9M714 91l0.8-16 0.4 0 0.8 16M713.4 91l1.8-15.4 0.4 0 1.8 15.4M711.8 91l2.6-14.4 0.4 0 2.6 14.4M551 112.7l0.8-32.7 0.4 0 0.8 32.7M550.4 112.7l1.8-31.4 0.4 0 1.8 31.4M548.8 112.7l2.6-29.4 0.4 0 2.6 29.4M570 118.9l0.8-33.9 0.4 0 0.8 33.9M569.4 118.9l1.8-32.5 0.4 0 1.8 32.5M567.8 118.9l2.6-30.5 0.4 0 2.6 30.5M313 176.9l0.8 51.1 0.4 0 0.8-51.1M312.4 176.9l1.8 49.1 0.4 0 1.8-49.1M310.8 176.9l2.6 46 0.4 0 2.6-46M362 176.6l0.8 19.4 0.4 0 0.8-19.4M361.4 176.6l1.8 18.6 0.4 0 1.8-18.6M359.8 176.6l2.6 17.5 0.4 0 2.6-17.5M387 177.9l0.8 37.1 0.4 0 0.8-37.1M386.4 177.9l1.8 35.6 0.4 0 1.8-35.6M384.8 177.9l2.6 33.4 0.4 0 2.6-33.4M642 135.1l0.8 22.9 0.4 0 0.8-22.9M641.4 135.1l1.8 22 0.4 0 1.8-22M639.8 135.1l2.6 20.6 0.4 0 2.6-20.6M811 191.1l0.8 30.9 0.4 0 0.8-30.9M810.4 191.1l1.8 29.7 0.4 0 1.8-29.7M808.8 191.1l2.6 27.8 0.4 0 2.6-27.8M886 184.5l0.8 33.5 0.4 0 0.8-33.5M885.4 184.5l1.8 32.2 0.4 0 1.8-32.2M883.8 184.5l2.6 30.1 0.4 0 2.6-30.1M956 161.1l0.8 60.9 0.4 0 0.8-60.9M955.4 161.1l1.8 58.5 0.4 0 1.8-58.5M953.8 161.1l2.6 54.8 0.4 0 2.6-54.8M1028 181.3l0.8 13.7 0.4 0 0.8-13.7M1027.4 181.3l1.8 13.2 0.4 0 1.8-13.2M1025.8 181.3l2.6 12.3 0.4 0 2.6-12.3M1058 134.9l0.8-22.9 0.4 0 0.8 22.9M1057.4 134.9l1.8-22 0.4 0 1.8 22M1055.8 134.9l2.6-20.6 0.4 0 2.6 20.6M590.5 179.8l5.7 12.4 4.1 18.4 2.4 19.4 2.6 25.3 2 24.5 0.6 19.7 0.9 15.8 0.7 5.1 1.2-6.4 0.6-24.1 1-29.4 0.1-30.8 0.8-30.5 1.8-24.4M591.3 179.7l5.8 12.8 4.1 18.1 3 19.2 1.9 23.9 2.1 26.2 1 19 0.7 16.9 1.1 3.5 0.7-3.9 1.1-25.4 0-30.4 0.7-30.5 0.2-29.2 2.3-26M593.4 178.5l4.7 13.8 3.3 17.7 3.1 20.3 2.7 25.6 1.7 23.4 0.9 20.7 1.3 14.9 1.1 5.1 0.4-5 1.1-25.7 0.4-30 0.4-29.3 0.4-29.7 1.9-26.5" fill="none" stroke="#00cc2e" stroke-width="1.4" stroke-linejoin="round"/>
<line x1="139.2" y1="88.2" x2="1215.4" y2="88.2" stroke="#a0a0a0" stroke-width="1.1" stroke-dasharray="4.3 3.25" stroke-dashoffset="2.6"/>
<line x1="139.2" y1="122.7" x2="1215.4" y2="122.7" stroke="#a0a0a0" stroke-width="1.1" stroke-dasharray="4.3 3.25" stroke-dashoffset="2.6"/>
<line x1="139.2" y1="156.5" x2="1215.4" y2="156.5" stroke="#a0a0a0" stroke-width="1.1" stroke-dasharray="4.3 3.25" stroke-dashoffset="2.6"/>
<line x1="139.2" y1="190.2" x2="1215.4" y2="190.2" stroke="#a0a0a0" stroke-width="1.1" stroke-dasharray="4.3 3.25" stroke-dashoffset="2.6"/>
<line x1="139.2" y1="225.1" x2="1215.4" y2="225.1" stroke="#a0a0a0" stroke-width="1.1" stroke-dasharray="4.3 3.25" stroke-dashoffset="2.6"/>
<line x1="139.2" y1="259.0" x2="1215.4" y2="259.0" stroke="#a0a0a0" stroke-width="1.1" stroke-dasharray="4.3 3.25" stroke-dashoffset="2.6"/>
<path d="M138.2 37.5H1216.4V342.7H138.2" fill="none" stroke="#333" stroke-width="1.6" stroke-linejoin="round"/>
<line x1="138.2" y1="36.7" x2="138.2" y2="343.5" stroke="#666" stroke-width="1.8"/>
<line x1="201.4" y1="342.7" x2="201.4" y2="355.2" stroke="#3a3a3a" stroke-width="1.3"/>
<line x1="264.8" y1="342.7" x2="264.8" y2="350.7" stroke="#3a3a3a" stroke-width="1.3"/>
<line x1="328.3" y1="342.7" x2="328.3" y2="350.7" stroke="#3a3a3a" stroke-width="1.3"/>
<line x1="391.7" y1="342.7" x2="391.7" y2="350.7" stroke="#3a3a3a" stroke-width="1.3"/>
<line x1="455.1" y1="342.7" x2="455.1" y2="350.7" stroke="#3a3a3a" stroke-width="1.3"/>
<line x1="518.5" y1="342.7" x2="518.5" y2="350.7" stroke="#3a3a3a" stroke-width="1.3"/>
<line x1="582.0" y1="342.7" x2="582.0" y2="350.7" stroke="#3a3a3a" stroke-width="1.3"/>
<line x1="645.4" y1="342.7" x2="645.4" y2="350.7" stroke="#3a3a3a" stroke-width="1.3"/>
<line x1="708.8" y1="342.7" x2="708.8" y2="350.7" stroke="#3a3a3a" stroke-width="1.3"/>
<line x1="772.2" y1="342.7" x2="772.2" y2="350.7" stroke="#3a3a3a" stroke-width="1.3"/>
<line x1="835.7" y1="342.7" x2="835.7" y2="350.7" stroke="#3a3a3a" stroke-width="1.3"/>
<line x1="899.1" y1="342.7" x2="899.1" y2="350.7" stroke="#3a3a3a" stroke-width="1.3"/>
<line x1="962.5" y1="342.7" x2="962.5" y2="350.7" stroke="#3a3a3a" stroke-width="1.3"/>
<line x1="1025.9" y1="342.7" x2="1025.9" y2="350.7" stroke="#3a3a3a" stroke-width="1.3"/>
<line x1="1089.4" y1="342.7" x2="1089.4" y2="350.7" stroke="#3a3a3a" stroke-width="1.3"/>
<line x1="1152.8" y1="342.7" x2="1152.8" y2="350.7" stroke="#3a3a3a" stroke-width="1.3"/>
<line x1="1216.4" y1="54.0" x2="1224.4" y2="54.0" stroke="#3a3a3a" stroke-width="1.3"/>
<line x1="1216.4" y1="71.1" x2="1224.4" y2="71.1" stroke="#3a3a3a" stroke-width="1.3"/>
<line x1="1216.4" y1="88.3" x2="1229.4" y2="88.3" stroke="#3a3a3a" stroke-width="1.3"/>
<line x1="1216.4" y1="105.5" x2="1224.4" y2="105.5" stroke="#3a3a3a" stroke-width="1.3"/>
<line x1="1216.4" y1="122.6" x2="1224.4" y2="122.6" stroke="#3a3a3a" stroke-width="1.3"/>
<line x1="1216.4" y1="139.8" x2="1224.4" y2="139.8" stroke="#3a3a3a" stroke-width="1.3"/>
<line x1="1216.4" y1="157.0" x2="1224.4" y2="157.0" stroke="#3a3a3a" stroke-width="1.3"/>
<line x1="1216.4" y1="174.1" x2="1229.4" y2="174.1" stroke="#3a3a3a" stroke-width="1.3"/>
<line x1="1216.4" y1="191.3" x2="1224.4" y2="191.3" stroke="#3a3a3a" stroke-width="1.3"/>
<line x1="1216.4" y1="208.5" x2="1224.4" y2="208.5" stroke="#3a3a3a" stroke-width="1.3"/>
<line x1="1216.4" y1="225.7" x2="1224.4" y2="225.7" stroke="#3a3a3a" stroke-width="1.3"/>
<line x1="1216.4" y1="242.8" x2="1224.4" y2="242.8" stroke="#3a3a3a" stroke-width="1.3"/>
<line x1="1216.4" y1="260.0" x2="1229.4" y2="260.0" stroke="#3a3a3a" stroke-width="1.3"/>
<line x1="1216.4" y1="277.2" x2="1224.4" y2="277.2" stroke="#3a3a3a" stroke-width="1.3"/>
<line x1="1216.4" y1="294.3" x2="1224.4" y2="294.3" stroke="#3a3a3a" stroke-width="1.3"/>
<line x1="1216.4" y1="311.5" x2="1224.4" y2="311.5" stroke="#3a3a3a" stroke-width="1.3"/>
<line x1="1216.4" y1="328.7" x2="1224.4" y2="328.7" stroke="#3a3a3a" stroke-width="1.3"/>
<text x="201.4" y="380.7" font-family="Liberation Sans, sans-serif" font-weight="bold" font-size="21.5" text-anchor="middle">8</text>
<text x="328.3" y="380.7" font-family="Liberation Sans, sans-serif" font-weight="bold" font-size="21.5" text-anchor="middle">7</text>
<text x="455.1" y="380.7" font-family="Liberation Sans, sans-serif" font-weight="bold" font-size="21.5" text-anchor="middle">6</text>
<text x="582.0" y="380.7" font-family="Liberation Sans, sans-serif" font-weight="bold" font-size="21.5" text-anchor="middle">5</text>
<text x="708.8" y="380.7" font-family="Liberation Sans, sans-serif" font-weight="bold" font-size="21.5" text-anchor="middle">4</text>
<text x="835.7" y="380.7" font-family="Liberation Sans, sans-serif" font-weight="bold" font-size="21.5" text-anchor="middle">3</text>
<text x="962.5" y="380.7" font-family="Liberation Sans, sans-serif" font-weight="bold" font-size="21.5" text-anchor="middle">2</text>
<text x="1089.4" y="380.7" font-family="Liberation Sans, sans-serif" font-weight="bold" font-size="21.5" text-anchor="middle">1</text>
<text x="1135.3" y="380.7" font-family="Liberation Sans, sans-serif" font-weight="bold" font-size="21.5"><tspan font-size="14" dy="-8.5">1</tspan><tspan dy="8.5">H / ppm</tspan></text>
<text x="130.5" y="95.8" font-family="Liberation Sans, sans-serif" font-weight="bold" font-size="18.2" text-anchor="end">54880</text>
<text x="130.5" y="130.3" font-family="Liberation Sans, sans-serif" font-weight="bold" font-size="18.2" text-anchor="end">14772</text>
<text x="130.5" y="164.1" font-family="Liberation Sans, sans-serif" font-weight="bold" font-size="18.2" text-anchor="end">4205</text>
<text x="130.5" y="197.8" font-family="Liberation Sans, sans-serif" font-weight="bold" font-size="18.2" text-anchor="end">1254</text>
<text x="130.5" y="232.7" font-family="Liberation Sans, sans-serif" font-weight="bold" font-size="18.2" text-anchor="end">406</text>
<text x="130.5" y="266.6" font-family="Liberation Sans, sans-serif" font-weight="bold" font-size="18.2" text-anchor="end">144</text>
<text x="1235.3" y="58.9" font-family="Liberation Sans, sans-serif" font-weight="bold" font-size="18.6">-10.2</text>
<text x="1235.3" y="93.1" font-family="Liberation Sans, sans-serif" font-weight="bold" font-size="18.6">-10.0</text>
<text x="1235.3" y="127.3" font-family="Liberation Sans, sans-serif" font-weight="bold" font-size="18.6">-9.8</text>
<text x="1235.3" y="161.5" font-family="Liberation Sans, sans-serif" font-weight="bold" font-size="18.6">-9.6</text>
<text x="1235.3" y="195.7" font-family="Liberation Sans, sans-serif" font-weight="bold" font-size="18.6">-9.4</text>
<text x="1235.3" y="229.9" font-family="Liberation Sans, sans-serif" font-weight="bold" font-size="18.6">-9.2</text>
<text x="1235.3" y="264.1" font-family="Liberation Sans, sans-serif" font-weight="bold" font-size="18.6">-9.0</text>
<text x="1235.3" y="298.3" font-family="Liberation Sans, sans-serif" font-weight="bold" font-size="18.6">-8.8</text>
<text x="1235.3" y="332.5" font-family="Liberation Sans, sans-serif" font-weight="bold" font-size="18.6">-8.6</text>
<text x="43" y="51.9" font-family="Liberation Sans, sans-serif" font-weight="bold" font-size="17.8">M<tspan font-size="12.5" dx="0.8" dy="4">w</tspan><tspan dx="-1.4" dy="-4"> (g/mol)</tspan></text>
<text x="1235.7" y="15.2" font-family="Liberation Sans, sans-serif" font-weight="bold" font-size="17.8">Log D (m<tspan font-size="12" dx="0.8" dy="-5.2">2</tspan><tspan dx="0.3" dy="5.2">s</tspan><tspan font-size="12" dx="0.3" dy="-5.2">-1</tspan><tspan dx="-0.1" dy="5.2">)</tspan></text>
<text x="-0.5" y="43.0" font-family="Liberation Sans, sans-serif" font-size="28.5">a)</text>
<text x="152.3" y="66.6" font-family="Liberation Sans, sans-serif" font-weight="bold" font-size="21.3" fill="#0000ff">Unburied</text>
<text x="152.3" y="91.9" font-family="Liberation Sans, sans-serif" font-weight="bold" font-size="21.3" fill="#00cc2e">RMI</text>
<text x="152.3" y="117.6" font-family="Liberation Sans, sans-serif" font-weight="bold" font-size="21.3" fill="#ff4444">RMII</text>
<rect x="548.0" y="49.3" width="55.5" height="3.3000000000000043" fill="#000"/>
<rect x="661.0" y="49.2" width="100.79999999999995" height="3.1999999999999957" fill="#000"/>
<rect x="1040.4" y="52.7" width="40.5" height="3.1999999999999957" fill="#000"/>
<rect x="209.54999999999998" y="255.95" width="302.1" height="3.3000000000000282" fill="none" stroke="#6a1f9c" stroke-width="1.7"/>
<rect x="843.85" y="257.05" width="40.3" height="3.700000000000034" fill="none" stroke="#6a1f9c" stroke-width="1.7"/>
<text x="930.2" y="87.7" font-family="Liberation Sans, sans-serif" font-weight="bold" font-size="21.5">??</text>
<path d="M195 554.7l0.8-2.2 0.8-0.3 0.8 13.3M200 572.3l0.8-5.5 0.8 0.9 0.8 1.6 0.8-3.4 0.8-2.7 0.8-1.8 0.8 1.2 0.8 1.8 0.8 1.6 0.8 4.6 0.8-1.9 0.8-4.1 0.8-0.7 0.8 2.4 0.8-3.6M220 575l0.8 2 0.8 4.6 0.8-4.9 0.8 0.2 0.8 9.2 0.8 3.6 0.8-16.5 0.8 3 0.8 3.9 0.8 5.7 0.8 0.5 0.8-4 0.8 12 0.8 0.8 0.8-8 0.8-4.7 0.8-0.2 0.8 9.8 0.8-5.2 0.8 8.1 0.8-1 0.8-9.2 0.8-1.4 0.8 3.4 0.8-13 0.8 10.5 0.8-1.9 0.8-4.8 0.8-6 0.8-1.8 0.8-1.1 0.8-1.8 0.8-3.6 0.8 0.1 0.8 4.3 0.8 11.5 0.8-8.3 0.8 0.2 0.8 10.8 0.8-5.6 0.8-7.1 0.8 1.3 0.8 2.4 0.8 3.6 0.8 4.5 0.8-7.7 0.8 3.1 0.8-5.1 0.8 2.8 0.8 4.1 0.8-1.7 0.8-2.5 0.8 3.2 0.8 10.7 0.8-9.5 0.8-0.9 0.8 1.4 0.8 14.9 0.8-19.4 0.8 5.2 0.8-4.8 0.8-2.5 0.8 8.7 0.8-11.7 0.8-0.5 0.8 4.2 0.8 6 0.8 16.9 0.8-7.4 0.8-3.8 0.8 7.5 0.8-0.6 0.8-12 0.8-4.5 0.8 8.6 0.8-0.9 0.8-5.7 0.8 0.1 0.8 8 0.8-4.5 0.8-0.7 0.8-0.3 0.8 1.9 0.8 1.2 0.8 0.1 0.8 0.6 0.8-4.3 0.8-0.5 0.8 1.9 0.8 2.2 0.8 7.6 0.8-8.9 0.8 4.5 0.8-1.9 0.8-1.4 0.8 2.6 0.8-7.2 0.8 3.6 0.8 3.1 0.8-2.7 0.8-1.3 0.8 5.2 0.8-1 0.8-8 0.8 0.3 0.8 2.6 0.8 6 0.8-10.1 0.8 1.2 0.8-0.2 0.8 4.1 0.8 1.8 0.8-5.3 0.8 0.9 0.8 8.5 0.8-6.4 0.8 4.1 0.8-10.5 0.8 2.7 0.8-2.1 0.8 3.3 0.8 2.2 0.8-0.2 0.8 4.4 0.8-4.5 0.8 7.1 0.8-2.2 0.8 2.3 0.8-8.8 0.8 3.3 0.8-1.8 0.8 0.9 0.8 0.9 0.8-5.1 0.8 1.8 0.8 3.4 0.8-1.1 0.8 3.1 0.8-3.7 0.8 1.5 0.8-0.9 0.8-1.3 0.8 0.3 0.8 0 0.8-2.4 0.8-1 0.8-0.9 0.8-0.7 0.8 1 0.8 3.7 0.8-4.3 0.8-0.7 0.8-1.7 0.8 2.6 0.8-0.5 0.8-2.6 0.8-1.6 0.8 0.3 0.8-0.3 0.8 2.3 0.8-1 0.8 1.3 0.8-2 0.8 0 0.8 1.1 0.8 0.2 0.8 2.9 0.8-1 0.8 2.4 0.8-2.7 0.8-0.9 0.8-1.4 0.8 1.5 0.8-0.6 0.8 0.2 0.8-1.1 0.8-0.4 0.8 3.4 0.8-0.8 0.8 0.9 0.8 2.8 0.8 2.6 0.8 0.1 0.8 1.2 0.8 1.9 0.8 0.1 0.8-1.4 0.8 4.3 0.8-0.2 0.8-4.8 0.8 3.3 0.8-5.9 0.8 11.6 0.8-7.7 0.8 6.2 0.8-10.9 0.8 2.5 0.8-3.8 0.8 1.6 0.8 3.2 0.8-5.4 0.8 1.1 0.8 1.2 0.8 3.9 0.8-6.4 0.8 0.1 0.8 3.9 0.8 2.3 0.8-2.3 0.8 2.7 0.8 3.8 0.8 2.5 0.8-5 0.8-2.2 0.8 6.5 0.8 3.7 0.8-7.3 0.8-7 0.8 2.8 0.8-1.3 0.8-4.3 0.8 3.6 0.8-4.8 0.8 0.8 0.8 0.2 0.8-0.2 0.8-1.1 0.8-0.7 0.8-0.4 0.8-0.5 0.8 0.6 0.8 1.5 0.8 0.1 0.8-1.1 0.8 2.4 0.8 0.7 0.8-0.4 0.8 0.2 0.8-1.4 0.8-2.5 0.8 0.2 0.8 2.5 0.8 0.7 0.8-1.7 0.8-0.7 0.8 1.2 0.8 8.7 0.8-4.4 0.8 2.5 0.8-3 0.8-2.3 0.8 3.5 0.8 1.9 0.8-3.6 0.8 1 0.8 4.9 0.8-5.7 0.8 6.3 0.8-2.6 0.8 3.4 0.8 0.1 0.8-3.3 0.8 0.2 0.8 1.6 0.8 7.9 0.8 2.6 0.8-0.7 0.8-7.1 0.8-1.1 0.8 0.7 0.8-0.4 0.8 8.8 0.8-1.2 0.8 0.7 0.8-5.1 0.8 0.7 0.8 2.7 0.8 0.6 0.8-2.9 0.8 4 0.8 6 0.8 0.6 0.8-6.6 0.8 3.3 0.8-6.1 0.8 4 0.8-2.8 0.8-5.6 0.8-0.1 0.8 8.1 0.8-0.6 0.8-3.6 0.8 0.9 0.8-9.4 0.8 7 0.8-4.8 0.8 1.9 0.8-6.1 0.8-1.7 0.8 6.1 0.8 1.9 0.8-8.4 0.8 0.2 0.8 1 0.8 4.7 0.8 3.8 0.8-6.8 0.8 5 0.8-7.7 0.8 1.4 0.8 6 0.8-10.9 0.8 9.5 0.8-10 0.8 5.8 0.8-2.8 0.8 3.5 0.8 3.6 0.8 1.7 0.8-2.9 0.8 0 0.8-7.2 0.8 11.6 0.8-10.8 0.8 5.8 0.8 1.6 0.8-9.6 0.8-1.2 0.8 5.4 0.8-2.6 0.8-5.8 0.8-1.9 0.8 6.5 0.8-10.2 0.8 6.8 0.8-12.1 0.8-3.1 0.8 1.7 0.8-3.5 0.8-0.9 0.8-0.3 0.8 9.2 0.8-4.9 0.8-1.5 0.8 2.9 0.8 5.3 0.8-2.8 0.8 2.3 0.8 5.7 0.8-0.2 0.8-1.7 0.8 5.9 0.8-4.8 0.8 1.2 0.8-8.4 0.8 0.5 0.8 7.6 0.8-2.9 0.8-4.8 0.8 3.8 0.8-5.2 0.8-3.3 0.8-3.2 0.8-0.7 0.8 10.5 0.8-1.6 0.8-5.5 0.8-0.5 0.8 10.6 0.8-4.2 0.8-0.1 0.8 2.7 0.8-0.6 0.8 5.1 0.8-1.8 0.8 5.2 0.8-1 0.8-2.9 0.8-7.9 0.8-2.1 0.8 2.1 0.8-5.9 0.8-10.1 0.8 4.7 0.8-2.2 0.8-8.1 0.8-5 0.8-6.4 0.8-2.3 0.8 1.7 0.8-12.4 0.8-18.3 0.8-2.9 0.8 5.1 0.8-8.7 0.8 1.2 0.8 3.7 0.8 5.7 0.8 5.4 0.8 4.1 0.8 5 0.8-1.1 0.8-0.8 0.8-3.2 0.8 2.1 0.8-1.2 0.8 3.9 0.8 4.6 0.8 3.6 0.8-0.8 0.8-2.1 0.8-1.8 0.8 5.3 0.8 0.7 0.8 6 0.8 11.6 0.8 2.6 0.8-4.8 0.8 4.4 0.8 9 0.8-1 0.8 9.9 0.8-1.7 0.8 8.2 0.8-8.5 0.8-1.6 0.8 9.1 0.8-7.7 0.8 2.5 0.8 1.2 0.8-7.4 0.8-0.8 0.8 0.5 0.8-0.3 0.8 1.3 0.8 6.1 0.8 1 0.8-4.8 0.8 3.6 0.8 9.2 0.8-4 0.8-0.4 0.8-1.2 0.8 1.3 0.8 2.2 0.8 5.5 0.8-8.3 0.8 5.1 0.8 2.6 0.8-1.4 0.8 10.4 0.8-0.1 0.8-9.8 0.8 12.2 0.8-11.9 0.8 1.4M624 559l0.8 2 0.8-5.2 0.8 1.3 0.8 2.3 0.8 12.9 0.8-0.4 0.8-12.6 0.8 3 0.8-3.6 0.8 4.4 0.8-0.1 0.8-8 0.8 1 0.8-0.1 0.8 0.3 0.8-1.2 0.8 3.9 0.8-9.9 0.8 12.8 0.8-10.7 0.8 18.4 0.8-1.5 0.8-4.6 0.8 0.7 0.8-0.9 0.8-2.3 0.8-6.7 0.8 2.9 0.8 5.2 0.8-2.7 0.8 6.3 0.8-8.2 0.8-2.2 0.8 5.3 0.8 7.3 0.8 8.6 0.8-6.9 0.8 3 0.8-4.9 0.8-2.8 0.8 1.5 0.8 7.3 0.8 11.4 0.8-10.2 0.8-0.3 0.8-4.2 0.8 0.1 0.8 3.6 0.8-2.8 0.8-3 0.8-7.3 0.8 4 0.8-0.2 0.8-2.1 0.8 11.4 0.8-2.5 0.8-4.6 0.8 3.2 0.8 13.4 0.8 0.3 0.8-2.4 0.8 2.8 0.8-11.5 0.8-3.4 0.8 4.8 0.8 4.3 0.8 1.2 0.8-8.5 0.8 8.5 0.8 2.7 0.8-1.8 0.8 10.1 0.8-0.3 0.8 8.1 0.8 1.6 0.8-15.3 0.8 0.5 0.8-0.8 0.8 3.5 0.8-7.1 0.8 2.4 0.8-3.6 0.8-2.1 0.8 4 0.8-2.8 0.8-4.3 0.8-8.9 0.8-0.4 0.8 16.8 0.8-6.4 0.8-5.7 0.8-8.4 0.8-3.4 0.8 1.4 0.8 3.9 0.8 2.5 0.8 0 0.8-1.3 0.8 0.3 0.8 11.9 0.8-0.3 0.8-3.6 0.8 0.2 0.8-7.1 0.8-1.6 0.8-1.6 0.8 5.7 0.8-7.3 0.8 1.8 0.8-10.8 0.8 15.7 0.8-12 0.8 17.5 0.8-17.5 0.8 29.2 0.8 0.4 0.8-9.9 0.8-4.9 0.8-22 0.8-3.6 0.8 48.4 0.8 4.5 0.8-12.2 0.8-20 0.8-8.4 0.8 9.6 0.8 22.9 0.8-31.7 0.8-15.9 0.8-4.1 0.8 2.9 0.8 2.5 0.8-3.3 0.8-4.9 0.8-0.5 0.8 0.1 0.8 26.5 0.8 21 0.8 18 0.8-8.1 0.8-8.1 0.8-2.6 0.8-19.5 0.8-22.2 0.8-2.2 0.8 18.9 0.8 32.2 0.8 17.6 0.8-47.7 0.8-12.9 0.8-3.6 0.8-5 0.8-0.1 0.8-4.7 0.8 9.2 0.8-9.2 0.8-11.4 0.8-14 0.8 14.3 0.8 41.1 0.8 2.7 0.8-54.8 0.8 0.9 0.8 0.2 0.8 4.9 0.8 10.5 0.8 4.7 0.8 1.1 0.8 7.8 0.8 13.4 0.8 3.9 0.8-4.8 0.8-6.3 0.8-5.3 0.8 2.4 0.8-2.9 0.8-1.8 0.8-0.9 0.8 3 0.8 5.7 0.8 5.9 0.8-4.1 0.8 0 0.8 0.3 0.8 11.8 0.8 15.3 0.8 2.5 0.8 18.8 0.8-9.1 0.8-0.8 0.8-9.8 0.8-0.6 0.8-9.3 0.8-0.2 0.8-15.6 0.8 3.6 0.8 1 0.8-4.5 0.8 10.5 0.8 1.1 0.8-7.4 0.8 11.7 0.8 32.7 0.8 3.6 0.8-23.9 0.8 4.7 0.8 13.6 0.8-1.9 0.8-0.4 0.8 3.6 0.8-14.9 0.8-15 0.8 3.7 0.8 3.9 0.8 0.3 0.8-1 0.8 3 0.8-4.3 0.8 0.7 0.8 10.2 0.8-2.5 0.8 7 0.8-7 0.8 3.1 0.8 4.1 0.8 4.3 0.8 1.1 0.8 9.1 0.8-4.2 0.8 1.4 0.8-1.6 0.8-1.2 0.8 3.1 0.8 3.4 0.8-9.3 0.8 6.4 0.8-6.8 0.8 6.5 0.8-11.1 0.8 3.8 0.8-2.9 0.8-4.9 0.8-3.5 0.8-2.5 0.8 1.2 0.8-1.7 0.8-1.3 0.8-0.7 0.8-0.6 0.8 7.7 0.8-6.4 0.8 7.7 0.8-1.4 0.8-4.4 0.8-2.4 0.8 1.4 0.8 5.2 0.8-4 0.8 0.6 0.8 2.6 0.8 5.9 0.8-6.7 0.8-5.3 0.8 10.6 0.8-10.7 0.8 7.2 0.8-0.9 0.8 7.9 0.8-2 0.8-1.3 0.8 4.4 0.8 1 0.8-1.9 0.8 1.8 0.8-4.1 0.8-2.6 0.8-1.7 0.8 3.7 0.8 0.4 0.8 0 0.8-0.1 0.8 2 0.8-0.7 0.8 5.9 0.8-5.4 0.8 1.4 0.8-4.2 0.8 0.4 0.8 1.5 0.8-0.8 0.8-0.6 0.8-1.9 0.8 0.8 0.8-0.1 0.8-1 0.8 0.5 0.8 4.6 0.8 2.8 0.8-5.8 0.8 12.1 0.8-2.5 0.8 1 0.8-11 0.8-3.3 0.8 4 0.8-2.8 0.8 1.9 0.8-3.1 0.8 0.7 0.8 6.7 0.8-0.6 0.8-5.4 0.8 2.7 0.8-3.9 0.8 3.8 0.8 6.2 0.8-1.5 0.8-0.9 0.8-0.1 0.8-8.9 0.8 0.4 0.8 5 0.8-7.3 0.8-3.6 0.8-3.1 0.8 2.6 0.8 5.4 0.8-1 0.8 9.2 0.8 2 0.8-0.8 0.8-2 0.8 4.3 0.8 4.8 0.8 3.8 0.8-4.7 0.8 5.8 0.8 2.5 0.8-0.8 0.8 10 0.8-1.2 0.8-0.8 0.8 1.3 0.8-2.5 0.8-0.2 0.8 0.3 0.8-3.4 0.8 1.1 0.8-0.8 0.8 6 0.8-7.5 0.8-2.1 0.8 2.7 0.8-2.5 0.8-5.2 0.8 0.8 0.8 0.7 0.8 0.5 0.8 0.9 0.8-0.6 0.8-2.8 0.8-2.5 0.8-2.6 0.8 5.2 0.8-9.3 0.8 4.8 0.8-3.1 0.8 3.9 0.8-11.1 0.8 3.4 0.8 9.1 0.8-2.4 0.8-4.6 0.8-10.9 0.8 0.3 0.8 2.8 0.8 0.6 0.8-2.6 0.8 1.1 0.8 5.3 0.8-5.3 0.8-0.5 0.8-1.1 0.8-1.6 0.8-0.2 0.8 1 0.8 10.9 0.8-9.9 0.8 10.9 0.8 6.5 0.8-22.8 0.8 3.8 0.8 8.8 0.8 5.3 0.8-3.1 0.8 14.7 0.8 3.4 0.8 5.7 0.8-11.2 0.8 4.2 0.8-7.8 0.8-1.5 0.8 0.8 0.8 0.2 0.8-2 0.8 1.2 0.8 0.6 0.8 1 0.8 8.9 0.8-6.9 0.8 6 0.8 3 0.8-2.2 0.8-1.4 0.8-13.1 0.8 2.1 0.8-0.8 0.8 5.4 0.8-4.6 0.8-5.2 0.8 6.7 0.8-7.5 0.8 2.4 0.8 0.9 0.8-1.5 0.8 0.8 0.8 2.6 0.8 2.2 0.8 11.6 0.8-5.1 0.8-5.3 0.8 0.8 0.8-2.6 0.8-1.3 0.8 1.4 0.8-5.7 0.8-3.2 0.8 1.7 0.8 5.6 0.8-1.8 0.8-4.1 0.8 10.9 0.8-4.5 0.8-7.2 0.8-3.6 0.8-8 0.8-1.5 0.8-1.7 0.8 3.4 0.8 0.5 0.8 2.2 0.8 1.3 0.8 0.6 0.8 5.4 0.8 1.8 0.8-0.3 0.8-3.1 0.8 3.6 0.8-3.7 0.8-0.7 0.8 4 0.8 2.3 0.8 1.5 0.8 0.8 0.8-3.2 0.8-3.8 0.8 2.7 0.8-5.2 0.8 0.5 0.8 1 0.8-0.1 0.8-3.6 0.8-0.9 0.8-1 0.8-0.4 0.8 5.1 0.8-6.9 0.8 5.3 0.8 3.1 0.8-1.3 0.8-4 0.8-7.2 0.8 0.9 0.8 5.3 0.8-2.3 0.8-3.4 0.8-7.5 0.8-3 0.8 1.8 0.8-2.6 0.8 6.1 0.8-8.3 0.8 5.9 0.8-3.1 0.8 1.1 0.8 0.4 0.8 2.8 0.8-3.4 0.8 2.4 0.8-4.1 0.8 2.2 0.8 0.1 0.8-1.5 0.8-1 0.8-0.1 0.8-0.1 0.8-0.6 0.8 9 0.8-7.9 0.8 1.4 0.8-4 0.8-0.3 0.8-1.8 0.8-1.1 0.8 1.6 0.8 2.2 0.8 6.5 0.8-7.3 0.8 5.5 0.8-1.5 0.8-1.8 0.8-1.5 0.8-1.4 0.8 3.6 0.8-8.9 0.8-0.2 0.8-1.8 0.8-7.7 0.8-2.2 0.8-2.9 0.8-2.4 0.8-0.7 0.8-2.7 0.8 5.5 0.8-8.4 0.8 15.8 0.8-4 0.8 7.5 0.8-19.9 0.8 6.5 0.8 6.2 0.8 1.9 0.8 6.1 0.8-12.5 0.8-0.5 0.8 5 0.8 0 0.8 6.6 0.8 3.7 0.8 21.4 0.8 6.8 0.8-6.4 0.8-7.2 0.8-6 0.8 1.1 0.8-1.8 0.8-2.5 0.8 10.5 0.8-6 0.8 1 0.8-2.8 0.8 18.2 0.8-3 0.8-14.3 0.8-1.6 0.8 16.7 0.8-1.8 0.8-11.3 0.8 6.5 0.8-3.5 0.8-3.6 0.8 0.3 0.8 13 0.8 1.9 0.8-6 0.8-10.5 0.8 1.2 0.8 6.9 0.8-4.6 0.8 4.6 0.8-1.9 0.8 1.4 0.8 3.1 0.8-10 0.8 0.6 0.8-3.1 0.8 2.8 0.8-2.8 0.8-3.4 0.8-2.4 0.8-1.8 0.8-2.7 0.8-6.3 0.8-4.8 0.8-1.1 0.8-2.6 0.8-4.8 0.8-3.1 0.8-1.1 0.8-1.4 0.8-1.9 0.8 0.5 0.8 1 0.8 0.8 0.8 0.1 0.8-1.9 0.8-2.4 0.8-0.1 0.8 0.3 0.8-0.2 0.8 3.1 0.8-3.3 0.8 0.5 0.8 4.2 0.8 5.2 0.8 9.9 0.8 6.2 0.8 0.1 0.8-7.9 0.8 5.5 0.8-1 0.8-8.2 0.8 4.1 0.8-2.7 0.8 2.3 0.8 1.6 0.8-4 0.8 0.1 0.8 2.8 0.8 0.2 0.8 4.6 0.8 2.3 0.8 6 0.8 0.7 0.8-2.3 0.8 1.8 0.8-1 0.8 2.2 0.8-1.7 0.8 2.5 0.8-2.6" fill="none" stroke="#0000ff" stroke-width="1.4" stroke-linejoin="round"/>
<path d="M158 598.1l0.8-0.5 0.8 4.1M165 602.4l0.8 2.2 0.8 1.4 0.8 1.6 0.8-1.3 0.8-0.7 0.8 5.2M202 592.9l0.8-9.1 0.8 3.1 0.8-1.6 0.8 10.4 0.8-0.4 0.8 3.3 0.8-0.8M212 572.4l0.8 4.3 0.8 7.1 0.8 3.5 0.8 3 0.8 3.1 0.8 6.4 0.8 0.9 0.8-2.4 0.8 5.5 0.8-3.2 0.8-1 0.8 7.6 0.8-3.1 0.8 2 0.8-7.8 0.8-0.5 0.8 0.4 0.8-4 0.8 0.9 0.8 0 0.8-8.6 0.8-1.5 0.8 6.6 0.8-5.3 0.8-2.8 0.8 7.4 0.8 0 0.8-9.5 0.8 4.9 0.8-0.6 0.8-7.7 0.8-0.4 0.8 0.1 0.8 2.6 0.8 4.4 0.8-0.4 0.8-2.5 0.8 3.6 0.8 0.1 0.8-3.4 0.8 1.7 0.8 2 0.8-1 0.8-3 0.8 2.6 0.8 3.6 0.8-1 0.8-3.7 0.8 12.6 0.8-0.7 0.8-10.2 0.8 0.9 0.8 1.2 0.8-1.8 0.8-10.1 0.8-1 0.8 7.4 0.8 5 0.8 1.2 0.8-13.7 0.8-2.9 0.8-0.5 0.8 4.1 0.8-9.4 0.8 0.9 0.8 7.8 0.8-4.8 0.8 8.1 0.8-10.1 0.8 18.9 0.8-10.8 0.8-9.8 0.8 9.3 0.8-0.1 0.8 15.7 0.8-11.2 0.8-2.1 0.8-6.3 0.8 0.2 0.8 0.7 0.8 16.5 0.8-16.5 0.8 0.5 0.8-1.1 0.8 5.7 0.8 1.1 0.8-3.4 0.8-1 0.8 6.8 0.8-2.9 0.8 0.9 0.8-7.1 0.8-1 0.8 6 0.8-4.9 0.8 1.9 0.8 7.2 0.8-4 0.8-1.7 0.8 0.5 0.8 7.4 0.8-12.7 0.8 3.8 0.8-6.2 0.8 0.5 0.8 3.3 0.8 3.9 0.8-0.6 0.8 3.1 0.8-3.1 0.8 2.4 0.8-4 0.8 3.4 0.8-1.7 0.8-5.8 0.8 9.4 0.8-3.9 0.8 1.6 0.8-1.9 0.8 4.9 0.8-4.1 0.8-2.3 0.8 0 0.8-0.5 0.8-2.6 0.8 1.1 0.8 1.6 0.8-0.7 0.8 1.2 0.8-0.8 0.8-1.3 0.8 1.6 0.8 0.7 0.8 1.2 0.8 6.6 0.8-5 0.8 5.5 0.8-0.2 0.8-1.6 0.8-2.6 0.8 1.1 0.8-2.6 0.8 1 0.8 0.1 0.8 4.8 0.8-3.2 0.8 2 0.8-4.1 0.8-0.6 0.8-1.3 0.8 0.5 0.8-1.6 0.8-3 0.8 3.8 0.8-2.7 0.8-2.2 0.8 1.6 0.8-1.5 0.8 4.7 0.8-3.5 0.8 1 0.8 0.9 0.8-0.8 0.8 1.7 0.8-5.8 0.8 6.1 0.8-0.7 0.8-3.3 0.8-2.7 0.8-1.4 0.8 2.1 0.8 0.8 0.8 3.5 0.8-0.9 0.8 2.5 0.8-4.4 0.8 3.8 0.8-1.9 0.8 4.6 0.8-6.1 0.8 4.8 0.8 0.9 0.8-0.7 0.8-6.3 0.8 0 0.8 1.1 0.8-2.5 0.8 2.3 0.8-1.2 0.8 4.4 0.8-2.9 0.8 1.8 0.8 2.6 0.8-3.4 0.8 2.2 0.8 1 0.8 3.7 0.8-7.4 0.8 5.6 0.8 1.3 0.8 3.9 0.8-5.2 0.8 3.8 0.8-4.2 0.8-0.4 0.8 2.9 0.8 1.2 0.8-0.8 0.8-1.7 0.8-2.8 0.8 7.8 0.8 4.1 0.8-8.1 0.8 4.9 0.8-5.3 0.8-2.3 0.8 5 0.8-4.9 0.8-1.8 0.8-0.5 0.8 6.1 0.8-0.2 0.8-0.9 0.8-2.1 0.8 0.4 0.8 0.4 0.8-2.6 0.8 0.5 0.8 1 0.8-1.5 0.8 1.4 0.8-3.7 0.8 2.5 0.8 2.7 0.8-6.6 0.8 0.6 0.8 3 0.8-0.7 0.8 2.9 0.8-0.4 0.8-0.5 0.8-0.7 0.8 0 0.8-0.8 0.8-2.3 0.8-1.9 0.8 0.3 0.8 1.5 0.8-0.3 0.8 2.4 0.8-3.6 0.8 1.6 0.8 3.7 0.8 1.4 0.8-2.1 0.8 2.8 0.8-1 0.8-3 0.8-1.1 0.8 2.6 0.8-0.9 0.8-1.2 0.8-1.2 0.8 1.8 0.8-1.7 0.8 1.5 0.8 4 0.8 2.6 0.8-6.4 0.8 0 0.8-0.6 0.8 0.8 0.8 7.9 0.8-1 0.8-1.1 0.8-0.3 0.8 2.4 0.8 5.4 0.8-0.1 0.8-0.1 0.8 2.5 0.8-1.2 0.8 5.2 0.8-4.9 0.8 2.9 0.8 2 0.8-2 0.8-3.2 0.8 0.4 0.8-2.9 0.8 0.4 0.8-1.3 0.8 1.1 0.8-2.1 0.8 4.5 0.8-2.8 0.8-0.7 0.8-1.2 0.8 2.6 0.8 2.2 0.8-3.1 0.8 6.1 0.8-5.3 0.8 1.4 0.8-6 0.8-1.2 0.8 0.1 0.8 5.3 0.8-3.2 0.8 2.3 0.8-3.5 0.8-1.5 0.8 0.7 0.8 4.2 0.8-4.1 0.8-0.2 0.8 7.8 0.8 0.3 0.8-8.3 0.8-0.1 0.8 3.5 0.8-6.3 0.8-0.4 0.8 2.1 0.8 0 0.8-1.1 0.8 2.8 0.8-6.4 0.8 7.2 0.8-3.2 0.8-5.1 0.8-0.2 0.8-1 0.8 2.9 0.8-3.9 0.8-0.4 0.8 0.5 0.8-1.9 0.8 7 0.8-3.8 0.8 3 0.8-6 0.8-1.3 0.8 0.8 0.8-0.4 0.8 4.6 0.8 0 0.8-1 0.8 1.2 0.8-3 0.8-0.2 0.8-0.1 0.8 1.6 0.8 0.6 0.8-5.9 0.8-0.1 0.8 5.2 0.8-6.5 0.8 5.1 0.8-3.3 0.8 2.8 0.8-4.4 0.8 3.4 0.8-4 0.8-1.5 0.8 0.9 0.8 1.2 0.8 2.7 0.8-1 0.8-8 0.8 4.3 0.8 5.1 0.8-6.4 0.8-1.2 0.8 3.5 0.8-0.3 0.8-5.1 0.8-15 0.8-4 0.8 0.3 0.8 11.2 0.8-11.9 0.8 15.1 0.8-7.5 0.8 6.5 0.8 0.7 0.8-6.5 0.8 10 0.8-5.7 0.8-0.1 0.8-1.9 0.8-2.8 0.8 1 0.8-3.2 0.8 5.4 0.8-5.6 0.8 3.9 0.8-3.7 0.8 2.6 0.8 0.5 0.8-2.8 0.8 2.8 0.8-1.1 0.8-4.2 0.8 3.9 0.8 1.6 0.8-5.5 0.8-0.9 0.8 2.2 0.8-1.1 0.8-0.7 0.8 3.4 0.8-0.9 0.8 2.8 0.8-1.2 0.8-5.5 0.8 4.4 0.8-7.9 0.8 5.2 0.8-0.2 0.8-2.5 0.8 2.7 0.8 4.9 0.8 5.9 0.8-0.4 0.8 6.4 0.8-1.6 0.8 2.7 0.8-2.8 0.8-0.2 0.8 1.1 0.8 6.9 0.8-4.9 0.8-3 0.8-0.9 0.8-0.2 0.8-2.4 0.8-3.1 0.8-1.3 0.8 1.6 0.8-3.7 0.8 2.4 0.8-5.3 0.8 0.7 0.8 5.3 0.8-2.6 0.8-4.6 0.8 0.3 0.8 10.6 0.8-8.4 0.8 0.1 0.8 3 0.8-2.4 0.8 4.5 0.8 0.2 0.8 0.1 0.8-1.5 0.8 8.1 0.8-7 0.8 1.8 0.8-2.5 0.8 2.5 0.8 4.5 0.8-1.8 0.8 3.6 0.8-1.2 0.8 4.7 0.8-1.9 0.8 1.9 0.8 1.4 0.8-0.3 0.8 8.3M624 557.9l0.8 9.7 0.8-7.2 0.8-3.8 0.8 2.8 0.8-2 0.8 1.6 0.8-1.3 0.8 9.4 0.8-7.3 0.8 2.4 0.8-5.1 0.8-0.9 0.8 6.5 0.8 1.1 0.8-7.8 0.8 10.4 0.8-3.2 0.8-5.7 0.8-0.7 0.8-1 0.8-1.9 0.8-0.1 0.8 5.8 0.8-3.4 0.8 1.9 0.8 8.4 0.8-3.8 0.8 0.6 0.8 5.9 0.8-0.9 0.8-4.7 0.8-6.6 0.8-1.6 0.8-0.4 0.8-0.5 0.8 0.8 0.8 1.6 0.8-0.2 0.8 0.1 0.8 2.5 0.8 4 0.8 0.9 0.8 1.5 0.8-6.5 0.8 7 0.8-7.4 0.8 1.5 0.8 1.5 0.8 3.2 0.8-12 0.8 5.3 0.8-2.7 0.8 0.9 0.8-5.5 0.8-1.4 0.8 3 0.8-1.9 0.8-5.4 0.8 8.2 0.8-5.8 0.8 2.9 0.8 1.2 0.8-1.1 0.8-5.5 0.8 11.4 0.8-16 0.8 8.4 0.8 2.7 0.8-0.3 0.8-7 0.8-2.1 0.8 2.1 0.8 4.9 0.8-6.6 0.8 4.9 0.8 7.1 0.8-14.3 0.8-4.8 0.8-1.6 0.8 0.2 0.8 1.8 0.8 12.1 0.8-3.2 0.8-7.6 0.8-1.1 0.8-1.4 0.8 0.4 0.8-1.4 0.8 6.5 0.8-5.5 0.8 2.3 0.8 1.4 0.8 3.2 0.8-2.3 0.8-2.6 0.8-3.5 0.8-4.5 0.8 3.1 0.8 1.8 0.8 2.1 0.8 12.4 0.8 6 0.8-17.6 0.8 10.9 0.8-12.8 0.8 10.4 0.8-10.8 0.8-1.4 0.8 2.4 0.8-0.3 0.8 7 0.8 0.6 0.8-6.5 0.8 13.8 0.8-2.8 0.8 4.8 0.8 0 0.8 5.8 0.8 2.7 0.8-17.3 0.8 19.7 0.8-6.6 0.8-4.4 0.8 8.7 0.8-17.4 0.8 15 0.8 8.3 0.8 2.2 0.8-5.7 0.8 5.6 0.8-22.4 0.8 2 0.8 6.6 0.8 29.7 0.8-25 0.8 5.6 0.8 12.2 0.8-4.7 0.8 3.6 0.8-1.9 0.8-16.9 0.8-1.4 0.8-7.2 0.8 1.5 0.8-0.8 0.8-1 0.8-1.1 0.8 16.3 0.8 4.6 0.8 9.1 0.8 12.9 0.8 14.1 0.8-1.4 0.8-7.5 0.8-20.9 0.8 35.1 0.8-4.7 0.8-2 0.8-9.1 0.8-17.6 0.8 3 0.8-5.8 0.8 0.1 0.8-6.1 0.8-16.7 0.8 31.3 0.8-11.6 0.8 12.7 0.8 1.3 0.8-5.7 0.8-20.1 0.8-0.5 0.8 2 0.8 24.4 0.8 16.8 0.8-10.3 0.8-36.8 0.8 11.6 0.8-6.7 0.8 4 0.8 1.9 0.8-2.2 0.8 11.9 0.8-5 0.8-16.9 0.8 2 0.8 14.8 0.8 21 0.8-24.8 0.8-4.8 0.8 0 0.8-0.3 0.8 0.9 0.8 1.3 0.8-3.1 0.8 10.3 0.8 1.7 0.8 8.7 0.8-1.7 0.8 4.3 0.8 5.5 0.8-18.5 0.8-6.2 0.8-2 0.8 2.8 0.8 5.1 0.8-4.3 0.8 8.5 0.8 16.7 0.8-17.8 0.8 5 0.8 15.2 0.8-0.3 0.8 2.4 0.8 0.4 0.8 8.7 0.8-6.3 0.8 1.3 0.8 7.6 0.8-5.6 0.8 0.2 0.8 4.2 0.8-2.9 0.8-1.8 0.8 3.5 0.8-4.4 0.8-0.8 0.8 3.6 0.8 0.8 0.8-3 0.8 5.5 0.8-5.2 0.8 3.6 0.8-7.9 0.8 4.8 0.8-4.5 0.8 0.5 0.8-5.3 0.8-7 0.8 12.4 0.8-8.2 0.8-0.1 0.8-0.2 0.8 1.9 0.8 3.8 0.8-13.6 0.8 11.5 0.8-0.3 0.8-10.6 0.8-1.8 0.8 11.9 0.8 0.8 0.8 2.4 0.8-10.4 0.8-1.8 0.8 2.6 0.8 5.3 0.8 3.9 0.8-0.4 0.8-0.8 0.8-10 0.8 6.1 0.8-0.3 0.8-6.9 0.8 4.3 0.8-5 0.8 1.1 0.8 2.2 0.8-1.2 0.8-2.2 0.8-3.1 0.8-2.3 0.8 7.9 0.8-4.4 0.8-6.8 0.8 1.4 0.8 1.8 0.8-2.1 0.8-1.7 0.8 5.4 0.8-2.8 0.8 3 0.8 7.5 0.8-5 0.8 8 0.8 1 0.8-10.2 0.8-2.5 0.8 1.4 0.8 0 0.8-0.2 0.8-1.5 0.8-1.3 0.8 1.5 0.8 7.7 0.8-5.7 0.8-0.2 0.8 6.3 0.8-4.1 0.8-3.9 0.8-0.6 0.8 1 0.8 3 0.8 0.2 0.8 1.4 0.8-4.8 0.8-2.6 0.8-1.7 0.8 0.6 0.8 4.4 0.8 3.4 0.8 4.2 0.8-6.9 0.8 3.1 0.8 6.7 0.8-1.2 0.8 1.7 0.8-7.3 0.8 0 0.8 4.7 0.8-4.9 0.8-3.2 0.8 0.9 0.8 5.2 0.8-7.9 0.8 2.7 0.8 1.9 0.8-4.4 0.8 3.2 0.8 3.4 0.8 4.1 0.8-3.6 0.8-2.7 0.8 0.8 0.8-0.2 0.8 3.1 0.8 10.1 0.8-0.1 0.8 0.1 0.8-1.7 0.8 1 0.8 6.4 0.8-4.7 0.8-0.9 0.8 1 0.8 1.7 0.8 0 0.8 1.7 0.8 0.6 0.8 4.9 0.8-2.1 0.8 3.4 0.8-3.6 0.8-0.8 0.8-0.3 0.8 0.8 0.8 4 0.8-2.4 0.8-1.1 0.8 5 0.8-3.8 0.8 1.2 0.8-2.1 0.8-14.7 0.8-1.2 0.8-4 0.8-0.5 0.8-1.6 0.8-0.6 0.8-3.1 0.8-4.5 0.8-0.8 0.8-1.2 0.8-0.9 0.8-1.5 0.8 2.6 0.8-4.8 0.8 8.2 0.8-0.8 0.8-4.5 0.8-1.1 0.8-1 0.8 3.1 0.8-6 0.8 1.1 0.8 8.3 0.8-0.7 0.8-15.6 0.8 8.8 0.8-10.1 0.8 12.6 0.8-7.3 0.8 4.7 0.8-0.2 0.8 1.7 0.8 2.3 0.8 8.3 0.8 3.2 0.8 11.2 0.8 4.3 0.8-14.4 0.8-6.4 0.8 4 0.8-7.9 0.8-1.9 0.8 8.5 0.8 6.7 0.8-19.1 0.8 10.6 0.8 5.2 0.8-6.3 0.8-7.4 0.8 12.8 0.8-9.3 0.8-4.5 0.8-0.6 0.8 4.7 0.8-4.4 0.8 7.5 0.8-7.1 0.8 1.2 0.8 1 0.8-0.7 0.8 9.5 0.8-12.6 0.8 2.2 0.8 9.9 0.8 9.5 0.8-0.1 0.8-14.6 0.8 1.4 0.8 0.8 0.8 9.9 0.8-8.1 0.8 7.9 0.8-8 0.8-2.7 0.8 4.3 0.8 0.6 0.8-1.2 0.8-0.9 0.8-4.3 0.8-0.1 0.8-0.1 0.8-0.6 0.8 6.5 0.8-0.1 0.8 5.6 0.8-7.6 0.8 3.9 0.8-8.4 0.8 0.4 0.8 3.7 0.8 0.2 0.8 6.2 0.8-4.4 0.8 1.6 0.8 3.3 0.8 0.2 0.8 3.3 0.8 3.1 0.8-2.6 0.8 2.4 0.8-0.1 0.8-2.7 0.8-0.1 0.8-0.2 0.8-1.1 0.8-1.2 0.8 0.7 0.8-0.4 0.8 1.1 0.8 0.4 0.8 4.7 0.8-2.7 0.8-3.9 0.8 2.2 0.8-5.1 0.8 0.2 0.8-1.4 0.8-2 0.8 0.3 0.8-2 0.8 0.2 0.8-1 0.8 1.9 0.8-2.6 0.8 1.3 0.8 0.2 0.8-0.5 0.8 5.5 0.8-0.3 0.8 0.7 0.8-2.3 0.8-0.6 0.8-1.8 0.8 0 0.8-0.3 0.8-0.3 0.8 0.1 0.8-4.5 0.8-3 0.8 5.9 0.8-8.7 0.8 11.7 0.8-10.2 0.8 3.5 0.8 3.9 0.8-16.7 0.8 0.9 0.8-0.6 0.8-1.5 0.8 2 0.8 11.1 0.8-4.2 0.8-7.5 0.8-4.9 0.8 1.6 0.8 19.2 0.8-11.1 0.8 15.9 0.8-18.8 0.8 0.5 0.8 7.5 0.8 6.2 0.8 2.6 0.8-13.5 0.8 2.5 0.8 7 0.8-10.2 0.8-0.2 0.8 2.6 0.8-1.3 0.8-4.4 0.8 11.7 0.8-17.2 0.8 17.2 0.8-9.5 0.8 10.7 0.8-7.7 0.8 3 0.8-15.4 0.8-3.8 0.8 10.8 0.8-3.5 0.8-2.1 0.8 5.5 0.8 3.7 0.8-3.8 0.8-5.4 0.8 14.5 0.8 4.2 0.8-7.9 0.8-4.7 0.8-1 0.8 2.1 0.8-1.8 0.8 10.1 0.8-0.5 0.8 4.8 0.8-4.4 0.8 9.1 0.8-10.8 0.8-1.8 0.8 13.4 0.8-11.8 0.8 16.3 0.8-13.7 0.8-1.5 0.8 1 0.8 1 0.8-1.9 0.8 14.7 0.8-14.9 0.8-2.9 0.8 7.2 0.8 8.3 0.8-10.3 0.8-3.3 0.8-2.5 0.8-0.1 0.8 0.4 0.8 9.4 0.8-6.4 0.8-3.3 0.8 0.2 0.8-1.2 0.8 0.2 0.8 5.2 0.8-4.3 0.8-3.9 0.8-2.8 0.8 2.9 0.8-3.8 0.8 2.5 0.8 5.8 0.8-1.9 0.8-4.2 0.8-4.7 0.8 3 0.8-2.5 0.8-5.6 0.8-1.6 0.8 1.9 0.8-0.9 0.8-1.7 0.8 4.6 0.8 0.4 0.8-2.3 0.8-1.2 0.8 3.4 0.8-3.1 0.8 2.3 0.8-5.8 0.8-1.2 0.8 2.1 0.8 1.8 0.8 4.3 0.8-5 0.8 4.7 0.8-4.4 0.8 1.7 0.8 0 0.8-0.6 0.8 5.9 0.8-2.6 0.8-7.1 0.8 1.8 0.8 3 0.8 2 0.8 2.4 0.8-2.1 0.8-2.9 0.8 2.9 0.8-3.8" fill="none" stroke="#ff0000" stroke-width="1.4" stroke-linejoin="round"/>
<path d="M165 598.1l0.8 1.5 0.8 2.9 0.8 1.2M203 582.4l0.8 1.5 0.8-2 0.8 3.1 0.8 2.1 0.8 7.4M215 592.8l0.8 6 0.8-1.7 0.8-3.8 0.8-0.4 0.8 0 0.8 0.9 0.8-0.8 0.8 8M233 585.6l0.8-3 0.8-0.9 0.8 5.5M255 580.1l0.8 5.7 0.8-12.5 0.8 14.8 0.8-1.3 0.8-18.4 0.8-0.9 0.8 10.7 0.8-1.9 0.8-13.5 0.8-3.4 0.8 10.3 0.8 6.5 0.8 2.8 0.8-18.6 0.8 3.2 0.8 12.6 0.8-9.4 0.8-0.2 0.8-2.1 0.8 12.9 0.8-13.9 0.8-3.8 0.8-0.8 0.8 3.8 0.8 15.7 0.8-4.9 0.8-10.4 0.8 1.1 0.8 4.7 0.8 10.6 0.8-15.7 0.8 12.4 0.8-4.8 0.8-11.4 0.8 8 0.8 0.3 0.8 5.8 0.8-11.6 0.8 6.1 0.8-5.2 0.8-3.2 0.8 11.2 0.8-10.2 0.8 5.7 0.8 6.2 0.8-8.2 0.8-2.1 0.8-1.6 0.8-1.4 0.8-1.7 0.8 4.5 0.8 1 0.8 3.8 0.8 12.1 0.8-12.5 0.8 3 0.8-3.4 0.8-0.5 0.8-1.9 0.8-2.3 0.8 0.3 0.8 4.8 0.8 17.1 0.8-16.3 0.8 10.1 0.8-8 0.8 8.2 0.8-21 0.8 17.9 0.8-13.7 0.8-1.8 0.8 0.5 0.8-0.2 0.8-3 0.8 9.3 0.8-10.3 0.8 7.3 0.8-2.7 0.8 6.7 0.8 1.2 0.8 5.9 0.8-2.9 0.8-12.2 0.8 2.1 0.8 1.1 0.8 12.3 0.8-5.1 0.8 2.3 0.8-6.9 0.8 2.1 0.8-1.6 0.8-0.8 0.8 3.4 0.8-2.2 0.8 0.5 0.8 5.3 0.8 2.1 0.8-4.1 0.8 1.3 0.8-5.5 0.8-0.1 0.8 3 0.8-0.8 0.8-2.1 0.8 0.4 0.8 3.1 0.8-4.6 0.8 0.4 0.8-2.2 0.8-1.5 0.8 1.6 0.8 6.3 0.8-4.1 0.8 0.2 0.8 3.7 0.8-3.3 0.8-0.4 0.8-4.7 0.8-0.7 0.8 1.3 0.8 2.4 0.8-0.9 0.8-1.8 0.8-3.1 0.8-0.5 0.8 1.8 0.8 1.7 0.8 0 0.8 0.1 0.8 4.8 0.8-3.3 0.8 5.8 0.8-6.5 0.8-1.1 0.8 0 0.8 3.7 0.8 1.7 0.8-0.3 0.8-2.5 0.8 0.9 0.8-0.1 0.8 6.2 0.8 2.2 0.8-4.7 0.8 4.3 0.8-6.9 0.8 0.4 0.8 7.9 0.8 1.6 0.8-1.8 0.8 2.4 0.8-6.3 0.8 0.2 0.8 2.7 0.8-4.9 0.8-1 0.8 2.3 0.8-3.3 0.8 1.3 0.8-1.1 0.8 8 0.8-2.8 0.8-4 0.8-1.5 0.8 0.7 0.8 2.9 0.8 1.4 0.8-7.5 0.8 3.4 0.8 3.6 0.8-5.4 0.8 1.3 0.8 3.4 0.8-2 0.8-2.8 0.8 4.2 0.8-1.5 0.8-5.3 0.8 6.4 0.8-3 0.8 2.6 0.8 0.2 0.8 1.8 0.8-5.8 0.8 5.8 0.8-7.5 0.8 0.9 0.8 6.2 0.8-4.4 0.8-1.1 0.8 4.8 0.8 1 0.8-3.1 0.8 1.9 0.8-8.6 0.8 4.7 0.8-3.8 0.8 0.2 0.8 0.7 0.8 7.7 0.8 0.2 0.8 2.4 0.8-8.1 0.8-1.7 0.8 5.7 0.8-5.3 0.8 0.4 0.8-0.1 0.8 1.2 0.8 0.7 0.8 0.3 0.8 6.3 0.8-5.2 0.8 6.3 0.8-4.2 0.8 8.5 0.8 0.3 0.8-5.9 0.8 6.7 0.8-6.3 0.8 1.4 0.8-1.3 0.8-0.7 0.8 1.3 0.8 0.5 0.8-0.5 0.8 5.6 0.8-6.3 0.8 3.8 0.8-1.2 0.8 1.5 0.8 1.5 0.8-1.9 0.8-2.7 0.8 0.8 0.8-0.8 0.8-0.8 0.8 4.3 0.8 1.5 0.8-6 0.8 8.9 0.8-5.6 0.8-4.3 0.8 4.7 0.8-0.5 0.8-2.3 0.8 1.3 0.8-3.2 0.8 3.8 0.8 0.5 0.8-5.6 0.8 2.2 0.8-1.3 0.8 0.2 0.8-0.1 0.8 0.4 0.8-2.4 0.8 2.3 0.8 2.9 0.8 2.2 0.8-1.8 0.8-4.3 0.8-1.1 0.8 4.5 0.8-6.9 0.8-2.1 0.8 5.5 0.8-1.4 0.8 1.8 0.8-1.2 0.8 1 0.8-4.4 0.8 4.2 0.8-3.7 0.8 5.4 0.8-6.4 0.8 1 0.8-3 0.8 8.4 0.8-7.3 0.8 2.1 0.8-4.2 0.8 6.6 0.8-5 0.8-0.1 0.8 1.2 0.8-1.9 0.8 3.1 0.8-1.8 0.8-6.2 0.8 3.2 0.8 3.9 0.8-2.1 0.8 0.5 0.8 0.8 0.8-4.2 0.8-1.8 0.8 3.7 0.8-1.3 0.8-1.1 0.8 0.9 0.8-0.6 0.8-1.5 0.8-1.4 0.8 1.3 0.8-0.4 0.8-0.8 0.8-0.5 0.8-3.1 0.8-0.5 0.8 1.4 0.8-0.3 0.8 5.7 0.8-0.7 0.8-0.2 0.8-5 0.8-4.4 0.8 5.1 0.8 0 0.8-11.4 0.8 1.5 0.8-3.1 0.8-3.2 0.8 3.7 0.8-4.6 0.8-6.4 0.8-3.3 0.8 3.6 0.8-1 0.8-8.1 0.8-0.8 0.8 6.5 0.8 6.3 0.8-14.9 0.8 7.3 0.8-3.6 0.8 13.1 0.8-10.2 0.8 15.2 0.8-3.4 0.8-8.8 0.8 7.2 0.8 2.9 0.8-2.2 0.8-0.6 0.8-0.2 0.8 2.4 0.8 0.8 0.8 2.1 0.8-7.9 0.8 1.1 0.8 1 0.8-1 0.8-2.3 0.8-1.8 0.8-0.6 0.8 4 0.8-4.6 0.8-1.5 0.8 7.4 0.8-2.3 0.8-6.4 0.8-2.1 0.8 8.7 0.8-8 0.8 3.5 0.8 0.8 0.8 5.9 0.8 6.7 0.8 3.9 0.8-0.3 0.8-1.6 0.8-1.9 0.8-1.4 0.8 1.8 0.8-8.8 0.8-0.7 0.8-1.5 0.8 1.6 0.8-6.6 0.8-1.7 0.8-3.4 0.8-0.6 0.8 14 0.8-7.5 0.8 11.4 0.8-10.9 0.8 9.4 0.8-11.2 0.8-7.9 0.8 5.4 0.8 11.1 0.8-13.4 0.8 2.5 0.8 7.4 0.8 12.6 0.8-14.2 0.8 6.8 0.8-1.3 0.8 12.4 0.8-9.8 0.8-3.2 0.8 3.5 0.8 0.6 0.8 0.3 0.8-4.5 0.8 9.1 0.8-2.5 0.8-4 0.8 7.9 0.8-4.1 0.8-4.6 0.8 0.3 0.8 2.6 0.8 0.4 0.8 1.9 0.8-0.6 0.8 9.8 0.8-11.3 0.8 1.6 0.8 1.3 0.8 7.5 0.8-5.2 0.8 0 0.8 6.4 0.8-6 0.8 11.4 0.8-4.7 0.8 1.9 0.8 5 0.8 0.1M621 567.7l0.8-1 0.8 12.9 0.8-3.5 0.8-25.8 0.8 16 0.8-15.6 0.8 15.2 0.8-16.8 0.8 7 0.8-7.9 0.8-4.6 0.8 0.8 0.8 0.5 0.8-0.6 0.8 3.1 0.8 8.2 0.8-12.6 0.8 6 0.8-1.6 0.8-6.8 0.8 9.8 0.8-11.3 0.8-0.6 0.8 1.2 0.8 3.3 0.8 7.2 0.8-8.1 0.8 2.4 0.8 0.1 0.8 4.1 0.8-2.1 0.8 5 0.8-0.7 0.8-1.5 0.8-1.5 0.8 3.5 0.8-0.8 0.8-0.9 0.8 3.5 0.8 3.5 0.8-0.5 0.8-2.2 0.8-11 0.8 0.7 0.8 7.5 0.8-4.4 0.8 0.5 0.8 0.8 0.8 1.3 0.8 1.4 0.8 8.3 0.8-7 0.8 1.3 0.8 3.7 0.8 4.4 0.8-2.5 0.8 3.1 0.8-9.1 0.8-1.7 0.8-1.6 0.8-3.4 0.8-2.3 0.8-3.5 0.8-1.1 0.8 4.5 0.8-2.7 0.8-1.4 0.8-6.2 0.8 2.2 0.8-7.1 0.8 6.7 0.8 0.5 0.8-16.1 0.8 3.3 0.8 8.5 0.8 5.1 0.8-22.8 0.8 3.5 0.8 10.9 0.8-3.1 0.8 0.9 0.8-11.4 0.8 2.8 0.8 13.7 0.8-4 0.8-4.5 0.8 4.1 0.8-4.4 0.8 3.5 0.8 2 0.8 5.4 0.8-14.2 0.8 4.4 0.8 19.8 0.8-21.3 0.8 14.4 0.8-14.6 0.8-6.8 0.8 1.4 0.8-4.5 0.8 2.4 0.8 9 0.8-5 0.8-4.8 0.8 12.9 0.8-12.5 0.8 0.6 0.8 1.8 0.8 6.3 0.8-8.3 0.8 0.4 0.8 2.2 0.8 16.2 0.8-1.5 0.8 0.7 0.8 1.7 0.8 1.4 0.8 4 0.8-7.9 0.8 1.4 0.8 3.5 0.8 1.2 0.8 0 0.8 3 0.8 3.2 0.8 0 0.8-3.3 0.8-1.7 0.8-2.5 0.8 8.3 0.8 31.7 0.8-7 0.8-19.9 0.8-10.2 0.8 6.6 0.8-2.7 0.8-3.6 0.8 28 0.8 2.4 0.8 10.8 0.8 10.1 0.8 15.7 0.8 2 0.8-6.6 0.8-5 0.8-10 0.8-25.6 0.8 17.9 0.8-39.3 0.8-6.2 0.8-4.3 0.8-7.7 0.8-5 0.8 0.6 0.8 8.2 0.8 1.1 0.8 0.1 0.8 4.4 0.8-2.6 0.8-2.8 0.8 2.7 0.8 21.4 0.8-25 0.8 40.4 0.8 15.9 0.8-18.1 0.8 10.5 0.8-29.5 0.8-14.1 0.8-2.4 0.8 25.2 0.8-2.7 0.8-16.9 0.8 30.6 0.8 19.5 0.8 3.7 0.8-5.1 0.8-19.1 0.8 21.5 0.8-12.3 0.8-14.1 0.8-0.9 0.8-20 0.8 15.6 0.8 4.6 0.8 11.6 0.8-16.7 0.8 6.7 0.8-8.8 0.8-1 0.8-3.9 0.8-0.9 0.8-2.7 0.8 0 0.8 12.7 0.8-11.4 0.8 2.7 0.8 2 0.8 1.7 0.8-0.1 0.8-2.1 0.8-2.3 0.8 0.6 0.8 1.2 0.8-2.1 0.8-0.4 0.8 0.4 0.8 0.8 0.8 3.5 0.8 3.5 0.8 15.5 0.8 18.6 0.8-1.1 0.8-1.3 0.8-15 0.8 15.4 0.8-5 0.8-0.5 0.8 5 0.8 8.2 0.8-2.8 0.8 12.2 0.8-9.7 0.8 15 0.8-9.1 0.8 1.4 0.8 0.6 0.8 9.7 0.8-6.3 0.8 6.7 0.8-5.8 0.8-8 0.8 0.6 0.8 7.2 0.8-16.3 0.8 12.1 0.8-11.8 0.8-1.6 0.8 0.8 0.8-10.3 0.8 8.9 0.8-7.9 0.8 0.1 0.8-2 0.8 9.3 0.8-6.7 0.8-0.5 0.8-1.2 0.8 3.5 0.8 0 0.8-4.3 0.8 6.5 0.8 2.7 0.8-11.7 0.8 2.2 0.8 1.2 0.8-6.7 0.8-0.2 0.8 2.1 0.8 0.3 0.8-1.5 0.8-1.3 0.8-1.7 0.8 2.6 0.8-5.1 0.8 5.5 0.8 3.2 0.8-3.8 0.8-2.7 0.8 2.6 0.8-2 0.8-2 0.8-1.4 0.8-2.2 0.8 1.3 0.8 0.9 0.8 4.1 0.8-0.9 0.8 4 0.8-3.6 0.8 0.4 0.8 0.7 0.8 1.8 0.8-1.3 0.8 2.3 0.8-2.3 0.8-3.8 0.8 2.9 0.8-2 0.8 2 0.8 6.1 0.8-2.3 0.8 1.9 0.8-7.1 0.8-0.9 0.8 6.6 0.8 0.4 0.8-0.2 0.8-3.3 0.8-1.1 0.8 5.5 0.8-4.9 0.8 1.4 0.8 1.7 0.8 2.2 0.8-6.3 0.8 0.3 0.8-0.6 0.8 6.4 0.8-7.2 0.8 8 0.8-4.1 0.8-6.1 0.8-0.4 0.8 5.5 0.8-3.6 0.8-1.7 0.8 4 0.8 3.9 0.8 3.8 0.8-9.4 0.8 0.4 0.8-1.1 0.8 0.6 0.8-2.9 0.8-2.3 0.8 4.2 0.8-0.8 0.8 2 0.8-0.6 0.8 2.1 0.8-2.7 0.8-1.1 0.8 0.7 0.8 7.6 0.8-1 0.8 4 0.8 3.2 0.8-12 0.8 3 0.8 16 0.8 4.6 0.8-1.5 0.8 4.7 0.8-5.6 0.8-2.9 0.8 9.1 0.8-4.9 0.8 0.5 0.8 4.2 0.8-3 0.8 2.8 0.8-5.5 0.8 0.1 0.8 2.9 0.8 1.3 0.8-3.4 0.8 3.9 0.8 0.8 0.8 3.2 0.8 7.1 0.8-11.2 0.8 6.1 0.8 2.5 0.8-10 0.8-1.9 0.8-4.2 0.8-5.4 0.8-3.6 0.8 5.5 0.8 2.2 0.8-7.9 0.8-5 0.8 6.3 0.8-2.1 0.8-4.6 0.8 8.5 0.8-5.6 0.8-12.1 0.8-0.7 0.8 0.5 0.8-3.4 0.8-4.9 0.8 2 0.8 2.4 0.8-5.1 0.8-1.8 0.8 3.5 0.8-4.9 0.8-1.2 0.8 0.8 0.8-1.1 0.8-0.9 0.8 1.2 0.8-11.7 0.8-1.2 0.8 11.7 0.8-5.5 0.8 16.6 0.8 1.3 0.8-0.3 0.8 11 0.8 12.2 0.8 1.7 0.8-10.4 0.8-15.4 0.8 6.6 0.8 0.2 0.8-1.8 0.8 2.4 0.8-7 0.8 6.1 0.8-5.6 0.8 2 0.8 4.6 0.8-3.9 0.8 2.9 0.8 1.6 0.8-0.9 0.8-8.8 0.8 2.2 0.8-1.3 0.8 1 0.8-3.1 0.8 7.3 0.8 5.5 0.8-8.8 0.8 19.9 0.8-9.8 0.8-4.9 0.8 0.3 0.8 1 0.8 7.6 0.8 5.8 0.8-0.8 0.8 14 0.8-2.1 0.8-1 0.8-2.3 0.8-9.7 0.8 5.4 0.8 2.8 0.8-4.2 0.8-5 0.8-13.7 0.8 9.7 0.8 5.4 0.8-15 0.8 2 0.8 4.6 0.8-4.1 0.8 0.4 0.8-2.6 0.8-1.6 0.8 5.8 0.8-0.1 0.8-6.3 0.8 6.3 0.8-3.8 0.8 6.2 0.8 5.9 0.8 3.6 0.8-10.5 0.8 6 0.8-4.6 0.8 5.8 0.8 3.8 0.8-3.1 0.8 2.1 0.8-1.7 0.8-1.7 0.8-2.6 0.8 2.9 0.8 4.1 0.8-1.5 0.8 0.4 0.8-9.8 0.8 3.6 0.8-7.3 0.8 1.2 0.8 1.4 0.8-7 0.8 7.3 0.8-8.9 0.8 1.2 0.8 0.9 0.8 4.1 0.8-7.8 0.8 6.4 0.8-5.6 0.8-0.6 0.8 4.4 0.8 9.3 0.8 6.1 0.8-5.8 0.8-2.8 0.8 3.2 0.8 9 0.8-7.2 0.8-3.8 0.8-5.4 0.8 17.7 0.8-10.8 0.8 2.5 0.8 0.2 0.8-2.5 0.8-8.8 0.8 0.5 0.8-1.8 0.8 6.4 0.8-8.4 0.8 2.1 0.8-2.6 0.8 6 0.8-11.4 0.8-4.5 0.8 6.6 0.8 5.4 0.8-11.9 0.8 12.3 0.8-8.7 0.8 5.5 0.8-11.8 0.8 2.9 0.8-0.3 0.8-2.3 0.8 1 0.8-3 0.8 2.8 0.8-0.6 0.8 0.1 0.8 1 0.8 6.4 0.8-7.4 0.8-1.3 0.8 5.1 0.8-8 0.8 1.9 0.8-2.4 0.8 14.2 0.8-24.6 0.8-1 0.8 20.2 0.8-19.2 0.8 0.1 0.8-1.9 0.8-0.7 0.8 0.5 0.8 3.1 0.8 13.6 0.8 4.7 0.8-10.5 0.8 7.5 0.8 2.7 0.8 4.8 0.8-5.7 0.8 0.2 0.8 0.5 0.8 2.6 0.8 15 0.8-16.7 0.8-0.2 0.8 17 0.8-14.7 0.8 20.1 0.8-3.4 0.8 8.8 0.8-6.1 0.8-8.4 0.8 2.6 0.8 1.1 0.8-7 0.8 15.1 0.8-4.5 0.8-12.6 0.8 1.5 0.8-1.6 0.8 15.1 0.8-14.4 0.8 3.8 0.8-3 0.8 2.1 0.8 2.5 0.8-0.2 0.8-0.2 0.8-0.2 0.8-1.6 0.8 0.5 0.8-0.3 0.8-11.8 0.8-2.2 0.8 8.3 0.8-3.7 0.8-1.9 0.8-3.1 0.8 11 0.8-3 0.8-12.8 0.8 8.2 0.8-11.4 0.8-1.6 0.8-0.9 0.8 9.3 0.8-1.3 0.8 1 0.8-7 0.8 4.9 0.8 4.8 0.8-12.2 0.8 1.7 0.8-7.1 0.8-2 0.8-1.2 0.8 0.6 0.8 5.7 0.8-3.3 0.8 1.1 0.8 0.1 0.8 0.8 0.8 3.7 0.8 2.4 0.8 4.1 0.8-8.6 0.8-0.2 0.8 2.8 0.8-3.5 0.8-0.8 0.8-0.4 0.8-0.3 0.8-0.7 0.8 5 0.8-3.3 0.8 0 0.8 4.4 0.8 5.3 0.8-3.1 0.8 2.2 0.8 0.2" fill="none" stroke="#00cc2e" stroke-width="1.4" stroke-linejoin="round"/>
<path d="M195 563.9l0.8-7.3 0.8-1.3 0.8 12.2M200 564.7l0.8 5.5 0.8 2.8 0.8-4.9 0.8 5.3 0.8 1 0.8-2.7 0.8 1.3 0.8 1.9 0.8-9.2 0.8 2.3 0.8 3.2 0.8-6.6 0.8-0.7 0.8-0.3 0.8-0.9M220 589.1l0.8-5.6 0.8-0.7 0.8 10.6 0.8 6 0.8-14.9 0.8 3.6 0.8 0.8 0.8 7.9 0.8-2.9 0.8 16.1 0.8-5.3 0.8-2.9 0.8-3.6 0.8-10.2 0.8-2.2 0.8-0.7 0.8 1.9 0.8-2 0.8 1.8 0.8-0.7 0.8-0.3 0.8 7.1 0.8-10.8 0.8-4.7 0.8 11.9 0.8-8.3 0.8-7.4 0.8 11.5 0.8 2.7 0.8-5.1 0.8 3.7 0.8-19.6 0.8-3.6 0.8 0.1 0.8 6.4 0.8 9.1 0.8 4.8 0.8-5.3 0.8-2.2 0.8 1.5 0.8-3.9 0.8 8.5 0.8-8.7 0.8 4.8 0.8 4.4 0.8-0.5 0.8-3.6 0.8-7.4 0.8 15.4 0.8 1 0.8-7.5 0.8-6.2 0.8-3.7 0.8 6.7 0.8-2.5 0.8 7.4 0.8-5.1 0.8 13.7 0.8 4.1 0.8 8.5 0.8-24.9 0.8 7.6 0.8-6.2 0.8 3 0.8-9.1 0.8 13.7 0.8-0.8 0.8-4.8 0.8-2.4 0.8 11.1 0.8-9.2 0.8 7.5 0.8 3.1 0.8-2.6 0.8-14.1 0.8 13.4 0.8-11.3 0.8 0.1 0.8 14.3 0.8-5.2 0.8-6.3 0.8 3.1 0.8 4.3 0.8 5.9 0.8-0.9 0.8-3.1 0.8-1.3 0.8-2.9 0.8 1.1 0.8 0 0.8-3.5 0.8 6.9 0.8-9.1 0.8 5.8 0.8 1 0.8-2.2 0.8-2.7 0.8 1.7 0.8-1.4 0.8 2.9 0.8-4.8 0.8-1.7 0.8-1.3 0.8 6.4 0.8-2.9 0.8 0.6 0.8-5.6 0.8 8.5 0.8-7.4 0.8 4.2 0.8 1.3 0.8-7.5 0.8 7.3 0.8 0.2 0.8 5.1 0.8-4 0.8-0.7 0.8-1.1 0.8-9.8 0.8 8.5 0.8 0.8 0.8-3.9 0.8 6.4 0.8 0.8 0.8-3.8 0.8 2.2 0.8-3.2 0.8 9.1 0.8-10.4 0.8 5.5 0.8-2.1 0.8-5 0.8-1 0.8 3.8 0.8 1.6 0.8 0.9 0.8 3.6 0.8 0.6 0.8-0.5 0.8-1.5 0.8-0.5 0.8-3.2 0.8 1.1 0.8-1.4 0.8-2.6 0.8 0.3 0.8 0 0.8 0.4 0.8 1.9 0.8 0.9 0.8-2.7 0.8-1.6 0.8 2.8 0.8-1.4 0.8-0.6 0.8-0.6 0.8-2.2 0.8-2.6 0.8 1.8 0.8 2.2 0.8-2.4 0.8 0.3 0.8 2.8 0.8-1.7 0.8 1.4 0.8 1.4 0.8-0.6 0.8 3.9 0.8-2.5 0.8-1.4 0.8 1.8 0.8-1.3 0.8-0.2 0.8 1 0.8-3.3 0.8-0.5 0.8 0.1 0.8 3.7 0.8 2.7 0.8-0.3 0.8 3.2 0.8 1 0.8 2.4 0.8 1.8 0.8-3.8 0.8 2.8 0.8 1.1 0.8 2.1 0.8 3.2 0.8 1 0.8-15.9 0.8 0.8 0.8 7 0.8-7 0.8 7 0.8-6.4 0.8-5.4 0.8 3.7 0.8 6.4 0.8 2.6 0.8-13.3 0.8 14.6 0.8-4.2 0.8-8.7 0.8-1.9 0.8 0.1 0.8 2.5 0.8 4.7 0.8 9.6 0.8-5.9 0.8-9.4 0.8 1.3 0.8 13.8 0.8 0.7 0.8-2.2 0.8-7.4 0.8-7.8 0.8 1.7 0.8 1 0.8-2 0.8 1.2 0.8 1.8 0.8-0.5 0.8-2 0.8 4.8 0.8-2.8 0.8 6.6 0.8-4.4 0.8-7.8 0.8-0.9 0.8 2.6 0.8-0.7 0.8 2.1 0.8-3.8 0.8 0 0.8 7.1 0.8-2.9 0.8-0.1 0.8-2.6 0.8-2.5 0.8 5 0.8-1 0.8-0.6 0.8 2 0.8 2.8 0.8-6 0.8 1.6 0.8 2.7 0.8-0.4 0.8 2.1 0.8-1.5 0.8-3.7 0.8 1.5 0.8 1 0.8 3.5 0.8 0.2 0.8-3.5 0.8 10.4 0.8-1.5 0.8 3.1 0.8-8.1 0.8 3.4 0.8 8.3 0.8-3 0.8 8.6 0.8-2.8 0.8-7.5 0.8 2 0.8 6.6 0.8-6.3 0.8 7.6 0.8-8.8 0.8 7.6 0.8-2.8 0.8-1.9 0.8 0.8 0.8 3.9 0.8 3.5 0.8 0.2 0.8-8.2 0.8 6.5 0.8 4.6 0.8-6.7 0.8-3.5 0.8-2.5 0.8 8.5 0.8-4 0.8 0.2 0.8-7.5 0.8-3.3 0.8 6 0.8 2.1 0.8-4.5 0.8-7.3 0.8 2 0.8 3 0.8 3.1 0.8-7.6 0.8 3.8 0.8-3.3 0.8-3.1 0.8 1.9 0.8 0.7 0.8 2 0.8 0.7 0.8-4.6 0.8 1.5 0.8 1.7 0.8-0.3 0.8-3.7 0.8-3.3 0.8-1.6 0.8 0.5 0.8 4.6 0.8-7.2 0.8 0.9 0.8 4 0.8 3.6 0.8 2.1 0.8-6.5 0.8 3.6 0.8 8.2 0.8-11.3 0.8 6 0.8-7.5 0.8 6.7 0.8-5.2 0.8 3.3 0.8 0.4 0.8-0.3 0.8-6.3 0.8-4.6 0.8 6.3 0.8 4 0.8-5.5 0.8-1.6 0.8-10.4 0.8-5.2 0.8 5.3 0.8 0.6 0.8-9.8 0.8 5.9 0.8-3.6 0.8-0.4 0.8 0.9 0.8 9.4 0.8-0.1 0.8 0 0.8 0.8 0.8 10 0.8 2.8 0.8-4.7 0.8-7.8 0.8 8.2 0.8-10.8 0.8 3.8 0.8 3.9 0.8 1.4 0.8-9.7 0.8 12.1 0.8-6.1 0.8-9.6 0.8-4.9 0.8 6.6 0.8-4.8 0.8 0.3 0.8 8.3 0.8-0.4 0.8-2.9 0.8 5.9 0.8 3.8 0.8-0.1 0.8 1.6 0.8-3.6 0.8-3.9 0.8-0.3 0.8 13.3 0.8-9 0.8 5.6 0.8-14.2 0.8 7 0.8-10.3 0.8-5.4 0.8-11.5 0.8 15.8 0.8-7 0.8 1.3 0.8-2 0.8-7.5 0.8-3 0.8-8 0.8-6.2 0.8-0.1 0.8-0.3 0.8-1.7 0.8-3 0.8 0 0.8 4.5 0.8 4.1 0.8 4 0.8-1.3 0.8-3.2 0.8-5.2 0.8-2.1 0.8-0.8 0.8-0.9 0.8 3.6 0.8 2 0.8 5.3 0.8 5.7 0.8-2.1 0.8 4.4 0.8 1.1 0.8 7.2 0.8-5.8 0.8 22.7 0.8-10.8 0.8 20.3 0.8-15 0.8 14.9 0.8-19.2 0.8 2.6 0.8 1.5 0.8 14.3 0.8-10.8 0.8-0.5 0.8 0.6 0.8 0 0.8-2.5 0.8 15 0.8-12.2 0.8-3.7 0.8 0.8 0.8 23.4 0.8-7.2 0.8-11.7 0.8 10.4 0.8 10.2 0.8-1.4 0.8 0 0.8-13 0.8 14.7 0.8-16.3 0.8 1.3 0.8 8.1 0.8-6.4 0.8-0.1 0.8-2.6 0.8 15.1 0.8-3.2 0.8-4.8 0.8 12.5 0.8 0 0.8-12.5 0.8 3.1 0.8 5.3M624 575.4l0.8-16.4 0.8 12.2 0.8-7 0.8-0.6 0.8 17.4 0.8-6.1 0.8-5.8 0.8-0.8 0.8 9.2 0.8-14.3 0.8-7.9 0.8 20.3 0.8-17.5 0.8 14.5 0.8-10.9 0.8-6.7 0.8 7.4 0.8-13.4 0.8 2.7 0.8 18.3 0.8-13.9 0.8 2.7 0.8-4.5 0.8-4.2 0.8 5.7 0.8 5.8 0.8 6.4 0.8-12.6 0.8 3.1 0.8-8.7 0.8 4 0.8 5.9 0.8 12.8 0.8-7.2 0.8 11.2 0.8 7.5 0.8-1.1 0.8-12.3 0.8 5.1 0.8 4.6 0.8 0.6 0.8 6 0.8 4 0.8-0.8 0.8 4.1 0.8-15.7 0.8-1.2 0.8 13.2 0.8 0.9 0.8-16.8 0.8-11.1 0.8 18.9 0.8-7.4 0.8 6.3 0.8-19.4 0.8-1.8 0.8 6.5 0.8 12.6 0.8-12.4 0.8 17.9 0.8-3.4 0.8 1.3 0.8-8.7 0.8 0 0.8 10.7 0.8-4.6 0.8-6.7 0.8-1.7 0.8 1.4 0.8 3.8 0.8-13.6 0.8 7.1 0.8 3.8 0.8 3.2 0.8 8.9 0.8-8.9 0.8 2 0.8 8.9 0.8 0.8 0.8-0.6 0.8 7.6 0.8-17.1 0.8-6.5 0.8-6.1 0.8 4.7 0.8 3.6 0.8-8.2 0.8 5.3 0.8 0.5 0.8 7.3 0.8-9.4 0.8 9.9 0.8-11.4 0.8 2.6 0.8-2.6 0.8 5 0.8 11 0.8-4 0.8-1 0.8-2.7 0.8 4.9 0.8-1.7 0.8 8.4 0.8-22 0.8 0.5 0.8 16.8 0.8-22.5 0.8 14.3 0.8-14.5 0.8 8.4 0.8 11.5 0.8-4 0.8 0.8 0.8 11.3 0.8-0.7 0.8 16 0.8-26.9 0.8 13.2 0.8-18 0.8 0.1 0.8 3.5 0.8-18.1 0.8-14.6 0.8 4.4 0.8 16.9 0.8-12.3 0.8 8.1 0.8 19.1 0.8-21.1 0.8-3.9 0.8 16.5 0.8 36.5 0.8 3 0.8-32.8 0.8-18.3 0.8-24.5 0.8 29.9 0.8 28.6 0.8-28.7 0.8 5.4 0.8-2.3 0.8 37.5 0.8 0.3 0.8-0.4 0.8-1.8 0.8 2.5 0.8-28.9 0.8-8.6 0.8 16.6 0.8-9.9 0.8-29.9 0.8-8 0.8-0.1 0.8-4.7 0.8-6.7 0.8-6.3 0.8 12.2 0.8 13.9 0.8-33.3 0.8 0.6 0.8-2.5 0.8 0 0.8 0.9 0.8 30 0.8 18.1 0.8 17.8 0.8 27 0.8-4 0.8-13.2 0.8 4.2 0.8-9.6 0.8-6.2 0.8-9.4 0.8-8 0.8 2.5 0.8-2 0.8-14.6 0.8-5.7 0.8 26.4 0.8 0.6 0.8 14.7 0.8 9.6 0.8-7.6 0.8 6.2 0.8-7.8 0.8-21.1 0.8-1.9 0.8 28.4 0.8-3 0.8-12.4 0.8-12.5 0.8 4.5 0.8-1.4 0.8-12.9 0.8 4 0.8 3.6 0.8-2.5 0.8 8.8 0.8 12.3 0.8-20.4 0.8-1.5 0.8 3.9 0.8 3.6 0.8 36.4 0.8-22.7 0.8-14.5 0.8 15.3 0.8 8.9 0.8-11 0.8-2.2 0.8-0.5 0.8 17.3 0.8-13 0.8 6.7 0.8-0.5 0.8-4.3 0.8-0.9 0.8 0.9 0.8 7.1 0.8 11.8 0.8-7 0.8 1.4 0.8-4.9 0.8 17.3 0.8-10.1 0.8 15.2 0.8 3.4 0.8-7.7 0.8-0.6 0.8 14.1 0.8-11.8 0.8 3.3 0.8-6.7 0.8-2.3 0.8 7.5 0.8 3 0.8-11.7 0.8 2.6 0.8-3.9 0.8 1.2 0.8-9.7 0.8 4.1 0.8 5.1 0.8-14 0.8 13 0.8-8.6 0.8 4.3 0.8 6.1 0.8-2.6 0.8 3 0.8-8.5 0.8-3.7 0.8 10.5 0.8-0.6 0.8-8.1 0.8-2.3 0.8-2.4 0.8 0.2 0.8 10 0.8-3.4 0.8-5.5 0.8 2.7 0.8 7.9 0.8-8.9 0.8 10.7 0.8-2 0.8-3.6 0.8-1.1 0.8 5.6 0.8-2.9 0.8-0.1 0.8 2.5 0.8-6.1 0.8 1 0.8-2.8 0.8 0.2 0.8 0.6 0.8 4.6 0.8-0.9 0.8 0.4 0.8 2.4 0.8-1.7 0.8-0.7 0.8-1.7 0.8 0 0.8 0.1 0.8 10.3 0.8-2.2 0.8 1.6 0.8-1.9 0.8-0.1 0.8-0.2 0.8 3.5 0.8-7.1 0.8 0.3 0.8-4.9 0.8 6.7 0.8 3.2 0.8-5.6 0.8 9.2 0.8-0.3 0.8 7.4 0.8-2.5 0.8-11.8 0.8-8.7 0.8 5.6 0.8-4.3 0.8-1 0.8 4.5 0.8-2.7 0.8 0.4 0.8-0.8 0.8-3 0.8-2 0.8 3.4 0.8 7.2 0.8 0.8 0.8 5.7 0.8 3.2 0.8-1.3 0.8 0.6 0.8-1.4 0.8-9.4 0.8-8.9 0.8-0.6 0.8 1 0.8 3.4 0.8 1.5 0.8 3.9 0.8 7 0.8 0.9 0.8 0.8 0.8-0.4 0.8 1.8 0.8 5.6 0.8 3.8 0.8 0.2 0.8 1.1 0.8 1.4 0.8 0.9 0.8-2 0.8 5.4 0.8-5.4 0.8-2.5 0.8-5.6 0.8-1.4 0.8 1.3 0.8 3.4 0.8 5.5 0.8-5.2 0.8 1.6 0.8-2.5 0.8-3.3 0.8 0.9 0.8 2 0.8 3.7 0.8 1.6 0.8-3.6 0.8 8.3 0.8-3.2 0.8-0.9 0.8 2.3 0.8-3.9 0.8-1.2 0.8-5.4 0.8-5 0.8-1.1 0.8 1.4 0.8-3.4 0.8-10.4 0.8 7.5 0.8 0.2 0.8-8 0.8 5.6 0.8-9.1 0.8 3.4 0.8-0.7 0.8 3.4 0.8-1.7 0.8 3.4 0.8 6.5 0.8 0.3 0.8 2.6 0.8 0.4 0.8-5.3 0.8-2.2 0.8-7.5 0.8-2.1 0.8 1.5 0.8 8.5 0.8-0.5 0.8 16.3 0.8 3.3 0.8-8.4 0.8 4 0.8-5.2 0.8-4.1 0.8 1.6 0.8 4.5 0.8 8.3 0.8-7.2 0.8 7.9 0.8 0.2 0.8-2.5 0.8-1.8 0.8 6.4 0.8-0.5 0.8-1.2 0.8-2.3 0.8-6.3 0.8 5.2 0.8-7.2 0.8 3.6 0.8-8.1 0.8-3 0.8 4 0.8 13 0.8-6.1 0.8 7.4 0.8 2.9 0.8-7.9 0.8 1.6 0.8-12.2 0.8 6 0.8 0.4 0.8-8.9 0.8 3.9 0.8 12.9 0.8 5.7 0.8-7.4 0.8 0.1 0.8 4.5 0.8-5.2 0.8 4.1 0.8-2.8 0.8 6.3 0.8-0.6 0.8-17 0.8 6.9 0.8-6.7 0.8-1.5 0.8 9.1 0.8-1.9 0.8-6.8 0.8-11.6 0.8 0.8 0.8-2.9 0.8 6.6 0.8-2.4 0.8-5 0.8 6.4 0.8-2 0.8 2.8 0.8-0.2 0.8-0.1 0.8 3.9 0.8 0.1 0.8-3.2 0.8-0.1 0.8-3.2 0.8 0.4 0.8 2.4 0.8 1.1 0.8-2.6 0.8 0.6 0.8 3.6 0.8-3.3 0.8-1.6 0.8 1.4 0.8-4.1 0.8-4.8 0.8 7.4 0.8-0.8 0.8-1.2 0.8-1.8 0.8-0.3 0.8-2.9 0.8 2.5 0.8 3.4 0.8-7.8 0.8-1.1 0.8 0.9 0.8-6.4 0.8 7.2 0.8-2.4 0.8 0.6 0.8-6.9 0.8-7.6 0.8 2.3 0.8-0.9 0.8 5.2 0.8-5.8 0.8-4.3 0.8 5.4 0.8-2.9 0.8 2.1 0.8-1.3 0.8-1.5 0.8-0.6 0.8 5.2 0.8-1.7 0.8 7.7 0.8-5.6 0.8-4.5 0.8 5.8 0.8-2.6 0.8 9.2 0.8-1.3 0.8-4.8 0.8-2.9 0.8 4.6 0.8-5.4 0.8-10.3 0.8 1.5 0.8 5.3 0.8 9 0.8-4.1 0.8-6.4 0.8 11.6 0.8 5 0.8-1.6 0.8-13.4 0.8-2.7 0.8-3.1 0.8 2.7 0.8-4.2 0.8-0.9 0.8-9.2 0.8-2.2 0.8 1.1 0.8 7.3 0.8-14.4 0.8-2.7 0.8 5.3 0.8 5.9 0.8-9.1 0.8-10.2 0.8 2.8 0.8 17.7 0.8-9.4 0.8 4.3 0.8 22.4 0.8-13.1 0.8 10 0.8-22.1 0.8 9.1 0.8-4.4 0.8 12.9 0.8 6.8 0.8-5.6 0.8 1.2 0.8 12.7 0.8 9.7 0.8 6.3 0.8-5.1 0.8-10.3 0.8 7.1 0.8-20.2 0.8 17.7 0.8-6.7 0.8 9.3 0.8-10.2 0.8 13 0.8-12.3 0.8 4.4 0.8 3.8 0.8-13.2 0.8 17.8 0.8-18.3 0.8 15.4 0.8-10.8 0.8 10.9 0.8-11.1 0.8 1.6 0.8 12.3 0.8-19.7 0.8 6.1 0.8-0.1 0.8 1.3 0.8 5.6 0.8-2 0.8 8 0.8-7.9 0.8-4.4 0.8-6.4 0.8 1.6 0.8-4.8 0.8-0.9 0.8-0.3 0.8 2.9 0.8 5.7 0.8-4.7 0.8-7.4 0.8 2.4 0.8-1.3 0.8-0.9 0.8-7.4 0.8-3.3 0.8-4.8 0.8-1.1 0.8-4.7 0.8-1.4 0.8-1 0.8 2.6 0.8 3 0.8-9.4 0.8-3.5 0.8 0.4 0.8 0.5 0.8-1.6 0.8-1.5 0.8 2 0.8 2.8 0.8-1.7 0.8 4.3 0.8-0.8 0.8-2.7 0.8-0.4 0.8 3.9 0.8 3.6 0.8 3.7 0.8 2.1 0.8-4.6 0.8-0.6 0.8 3.2 0.8 0 0.8 2.1 0.8-1.6 0.8 1.8 0.8 5.2 0.8 7.7 0.8 0.4 0.8-1.4 0.8-4.2 0.8 4.2 0.8-0.9 0.8 1.1 0.8 3.2 0.8 7.8 0.8-2.9 0.8-2.1" fill="none" stroke="#0000ff" stroke-width="1.4" stroke-linejoin="round"/>
<path d="M158 604.3l0.8 1.6 0.8 1.2M165 603.7l0.8 3.9 0.8 0.5 0.8-0.4 0.8 2.8 0.8-0.9 0.8-2.8M202 592.7l0.8-0.5 0.8-6.4 0.8 1.4 0.8 6.8 0.8-7.4 0.8 1.5 0.8-1.5M212 581.6l0.8 7.3 0.8 1.8 0.8 4.9 0.8 3.8 0.8 6.8 0.8-2.6 0.8 5.3 0.8-3.8 0.8 1.3 0.8 2 0.8-3.7 0.8 1.8 0.8-0.7 0.8 0.1 0.8 0.7 0.8 3.8 0.8-9 0.8 3.1 0.8 0.4 0.8-1.1 0.8-7.6 0.8-2.9 0.8 2.1 0.8-5.6 0.8 1.7 0.8-0.7 0.8 4.9 0.8 1.5 0.8-8.5 0.8-1.9 0.8-3.5 0.8 4.6 0.8 3.3 0.8 4.6 0.8-1.6 0.8-0.2 0.8-3.2 0.8-2.8 0.8-1.5 0.8-0.1 0.8 3.2 0.8-4.4 0.8 0.1 0.8-0.3 0.8-0.5 0.8 3.5 0.8-3.7 0.8 3.8 0.8 5.9 0.8-9.7 0.8 1.9 0.8-2.5 0.8 1.5 0.8-0.5 0.8-4.8 0.8-0.5 0.8 8.5 0.8-12.4 0.8-3 0.8 8.9 0.8-2 0.8-11 0.8-2.5 0.8 22 0.8-16.2 0.8 15.1 0.8 1.1 0.8-1 0.8-1.6 0.8-18.4 0.8-3.3 0.8 9.5 0.8 21.6 0.8-14.5 0.8 14.6 0.8-11.9 0.8 0.9 0.8-2.1 0.8-4 0.8-4.8 0.8 17.1 0.8-0.2 0.8-8.9 0.8-9.7 0.8 11.5 0.8-7.8 0.8 8.8 0.8-6.3 0.8 0 0.8-4.2 0.8-1.3 0.8-0.6 0.8 3.3 0.8-4.3 0.8 8.6 0.8-4.8 0.8 0.4 0.8 0.1 0.8 5.5 0.8-5.9 0.8 1.3 0.8-1.4 0.8-0.3 0.8 1.1 0.8-5.5 0.8 0.5 0.8 1.1 0.8 4.2 0.8-2.5 0.8 1.1 0.8 0.3 0.8-0.9 0.8-2.6 0.8 3.9 0.8-5.9 0.8 8.8 0.8-1.4 0.8-2.5 0.8 0.7 0.8 6.6 0.8-0.8 0.8-1.2 0.8 4.1 0.8-11.5 0.8 6.5 0.8-5.4 0.8 5.6 0.8-1 0.8-2.6 0.8 4.5 0.8-3.9 0.8 0.2 0.8-4.6 0.8 3.6 0.8-0.7 0.8 1.6 0.8 3.7 0.8-4.3 0.8 8.2 0.8-6.8 0.8 2.8 0.8-3.4 0.8 3.5 0.8 1.9 0.8 4.5 0.8-3.3 0.8 2.3 0.8-5.6 0.8-3.8 0.8 4 0.8-4.3 0.8-0.4 0.8 4.1 0.8-5.4 0.8-1.8 0.8 1.7 0.8-1.8 0.8 7 0.8-3.2 0.8-4.6 0.8 1 0.8 1.1 0.8 1.8 0.8-5.4 0.8 2.1 0.8-0.4 0.8 1.6 0.8 1.6 0.8-4.6 0.8-3.1 0.8 3.6 0.8-1.1 0.8 1.3 0.8 1 0.8 4 0.8-1.8 0.8-3.8 0.8 4 0.8-1.4 0.8 3.4 0.8-2.4 0.8 2.3 0.8-0.6 0.8-4.9 0.8 3 0.8-1.5 0.8-4.2 0.8 6.2 0.8-3.6 0.8 6.5 0.8-1.2 0.8-1.3 0.8-2.8 0.8 4.1 0.8 3.4 0.8-3.7 0.8-2.6 0.8 1.9 0.8 3.3 0.8-3.3 0.8 1.8 0.8-0.3 0.8-1.5 0.8 3.7 0.8-3 0.8 6.4 0.8 3.4 0.8-0.1 0.8-4.9 0.8-4.3 0.8 7.8 0.8 2.3 0.8-2.9 0.8-6 0.8 1.6 0.8 1.2 0.8 0.7 0.8-4.7 0.8-1 0.8-1.8 0.8 8.8 0.8-5.7 0.8 0.4 0.8 1.1 0.8-3.7 0.8 6.1 0.8-5.9 0.8 0.5 0.8 4.8 0.8-1.7 0.8-2.2 0.8 2.5 0.8-5.3 0.8 4.6 0.8-2.9 0.8-0.8 0.8 3.5 0.8-0.7 0.8 0.8 0.8 3.9 0.8-4.2 0.8 1 0.8 0.2 0.8 1 0.8-4.5 0.8 0.3 0.8 1.1 0.8-0.5 0.8 0.3 0.8-1.3 0.8 1.1 0.8-3.8 0.8 4 0.8 1.2 0.8-2.2 0.8 0.4 0.8-0.1 0.8 3.7 0.8-3.8 0.8 0.8 0.8 1.6 0.8-1.6 0.8 1.7 0.8-5.9 0.8 6.2 0.8-0.8 0.8-4.5 0.8 3.8 0.8-0.3 0.8 1.1 0.8-4.4 0.8 5.4 0.8 2.3 0.8-4 0.8-0.2 0.8 9.1 0.8 2.9 0.8 5.9 0.8 1.9 0.8-5.7 0.8 0.2 0.8-0.2 0.8-0.3 0.8 5.2 0.8-3.8 0.8 2.1 0.8-0.8 0.8-4.3 0.8-1.9 0.8 1.8 0.8 1 0.8-6.7 0.8-0.1 0.8-0.2 0.8 2.4 0.8 1 0.8 2.8 0.8-3.5 0.8-0.8 0.8 12 0.8-2 0.8 3.9 0.8-3.5 0.8-8.5 0.8-1 0.8 2.1 0.8-3.5 0.8-2.5 0.8 8.5 0.8-3.2 0.8-4.8 0.8-2.2 0.8 2.6 0.8-1.3 0.8-0.5 0.8 6.2 0.8-4.8 0.8 1 0.8 2.2 0.8-6.6 0.8-0.4 0.8-0.9 0.8 0.4 0.8 1.5 0.8-0.3 0.8 0.4 0.8 4.2 0.8-7.8 0.8 10.4 0.8-9.9 0.8 1.8 0.8 1.1 0.8-6.1 0.8-1.8 0.8 4 0.8 1.2 0.8-4.9 0.8 1.7 0.8-1.6 0.8 9.9 0.8-3.7 0.8-8.4 0.8 6.9 0.8-2.7 0.8 1 0.8-2.4 0.8 4 0.8-0.1 0.8 3.5 0.8-8.4 0.8 8.7 0.8-7.9 0.8-0.6 0.8-2.1 0.8-1.6 0.8 0.6 0.8 3.7 0.8-7.1 0.8 6.2 0.8-2.3 0.8-4.6 0.8 1 0.8 7.2 0.8-5.1 0.8 4.7 0.8-6.2 0.8 8.1 0.8-6.6 0.8-5 0.8 1.2 0.8-3.6 0.8-1.2 0.8 1.5 0.8 4.8 0.8-1.4 0.8-0.1 0.8-1.2 0.8-18.6 0.8-3 0.8 7.3 0.8-1 0.8 0.2 0.8 6.6 0.8-7.1 0.8-5.9 0.8 10.2 0.8-4.2 0.8 1.7 0.8-0.7 0.8 6.3 0.8-4.5 0.8-2.5 0.8-0.7 0.8-1.5 0.8 3.1 0.8 1.3 0.8-2 0.8-2.9 0.8 3.4 0.8 0.8 0.8-3.4 0.8-2.2 0.8 3.1 0.8-5.4 0.8 0.7 0.8 6.9 0.8-5.9 0.8 0.8 0.8-0.6 0.8 0.7 0.8 4.6 0.8-1.3 0.8-7.8 0.8 1.7 0.8 0 0.8 8.8 0.8-2.2 0.8-9.8 0.8 9.2 0.8 2.5 0.8 1.9 0.8-0.9 0.8 3.8 0.8 3.1 0.8-5.8 0.8-1 0.8 3.8 0.8 5.6 0.8 6.2 0.8-1.9 0.8 5.3 0.8-5.7 0.8-0.4 0.8-5.5 0.8 8.8 0.8-9.9 0.8 1.9 0.8-7.4 0.8 0.9 0.8-0.2 0.8-6.9 0.8 4.6 0.8 1.8 0.8-1.6 0.8 0.9 0.8-2 0.8 4.5 0.8 1 0.8-5.5 0.8 4.5 0.8-4.7 0.8 7.9 0.8-1.5 0.8 0 0.8-5.6 0.8-0.7 0.8 10.2 0.8-4.1 0.8 3.7 0.8-2.7 0.8 2.4 0.8-3.4 0.8 5.8 0.8-3.1 0.8 2.5 0.8-0.7 0.8 2.2 0.8 5.1 0.8 10 0.8-6.4 0.8 14.7 0.8-7.3M624 570.5l0.8-5.7 0.8 2.2 0.8-5 0.8 5.1 0.8-0.4 0.8-5.1 0.8-3.9 0.8-1.2 0.8 4.7 0.8-5.4 0.8 7.6 0.8-7.2 0.8 0.6 0.8 8.3 0.8-0.2 0.8-2.7 0.8-1.3 0.8 1 0.8 10.9 0.8-8.9 0.8-0.3 0.8 1 0.8-9.5 0.8 6 0.8 2.5 0.8-5.7 0.8 7.1 0.8-3.8 0.8 1.2 0.8 1.8 0.8-3 0.8 5.1 0.8-9.2 0.8-2.1 0.8-0.5 0.8 6.7 0.8 3 0.8-3.4 0.8 3.4 0.8-5.7 0.8 0 0.8-0.7 0.8 5.2 0.8-3.8 0.8 3.8 0.8 7.2 0.8 1.1 0.8-1.7 0.8-0.8 0.8-11.5 0.8 0.3 0.8 7.7 0.8 0.3 0.8-6.2 0.8-9.8 0.8 2.8 0.8 1.3 0.8-1.4 0.8 4.5 0.8-7.8 0.8 5.2 0.8-8.8 0.8 0.2 0.8-1.1 0.8 7.7 0.8 4 0.8-19 0.8 1.2 0.8 0.2 0.8 10.4 0.8 2.3 0.8-8.3 0.8 2.6 0.8 6.1 0.8-12.5 0.8-2.3 0.8-1.2 0.8 6.8 0.8 2.5 0.8 1.1 0.8 3.3 0.8 4.6 0.8-16.3 0.8 4.6 0.8-1.2 0.8-6.3 0.8 8.1 0.8-8.7 0.8-1.3 0.8 2.4 0.8 12 0.8-5.2 0.8 2.6 0.8-4.1 0.8 2.3 0.8-14.3 0.8 7.9 0.8-4.6 0.8 1.8 0.8 2.1 0.8 14.2 0.8-8.2 0.8-1.7 0.8 4 0.8-4.5 0.8 5.5 0.8-8.6 0.8-1.2 0.8 6.6 0.8-6.6 0.8-1.1 0.8 12.6 0.8-10.8 0.8 1.5 0.8 0.3 0.8 7.2 0.8-5.2 0.8 4.6 0.8 3 0.8 1.3 0.8 19.6 0.8 4.8 0.8-18.1 0.8 7 0.8-7.8 0.8-11 0.8 2 0.8 8.9 0.8 8.1 0.8-6.8 0.8-10.2 0.8 7.7 0.8 5.5 0.8-3.7 0.8-4.7 0.8-0.5 0.8 24.6 0.8 17.3 0.8-6.2 0.8-11 0.8-12.4 0.8 3.1 0.8 2 0.8 2.1 0.8-18.6 0.8 5.1 0.8 7.8 0.8 30.9 0.8-13.1 0.8-6.4 0.8 1.8 0.8 2.6 0.8-21 0.8 20.1 0.8-23.7 0.8 51.7 0.8-16.7 0.8 13.4 0.8-19.7 0.8-29.8 0.8 20 0.8-9.9 0.8 2.8 0.8-10.6 0.8-4.6 0.8 23.4 0.8 11.7 0.8-21.3 0.8 1.4 0.8 9.5 0.8-12.4 0.8 29.8 0.8 2.2 0.8 1.9 0.8-1.1 0.8-15.3 0.8-12 0.8 8.6 0.8-16.9 0.8 27.6 0.8 16 0.8-33.3 0.8 1.1 0.8-19.5 0.8 11.7 0.8 5.2 0.8-9.7 0.8 24.6 0.8-17.7 0.8 20.8 0.8-16.4 0.8 14.9 0.8 11.8 0.8-10.7 0.8-6.3 0.8 3.2 0.8-9.8 0.8 2.2 0.8 1.7 0.8-17.9 0.8 0.5 0.8 3 0.8 0.3 0.8 8.5 0.8-11.6 0.8 10.4 0.8 10.5 0.8 1.5 0.8 3.7 0.8 2.5 0.8-9.2 0.8 6.1 0.8 13.7 0.8-3.9 0.8-0.5 0.8 4.1 0.8 11.5 0.8-11.9 0.8 7.8 0.8 2.1 0.8-7.7 0.8 1 0.8 0.3 0.8 3.6 0.8-1.1 0.8-1.6 0.8 7.3 0.8 1.5 0.8 3.3 0.8-3.9 0.8 0.7 0.8-11.2 0.8 9.7 0.8-13.4 0.8 5.6 0.8 0.9 0.8-18 0.8-2.7 0.8 7.8 0.8-9.2 0.8-1.2 0.8 9.8 0.8-12.8 0.8 0.1 0.8 3.8 0.8-0.6 0.8 7.4 0.8-10.5 0.8-0.1 0.8 13.5 0.8 1.3 0.8-1.2 0.8-2.1 0.8 3.8 0.8-5 0.8-6.3 0.8 7.2 0.8 3.4 0.8-2.3 0.8-3.8 0.8 0.2 0.8 2.8 0.8 3.9 0.8-11 0.8 8.5 0.8-9.2 0.8 8.2 0.8-6.6 0.8 2.7 0.8 1.7 0.8-0.3 0.8-1.8 0.8-9.6 0.8-3.1 0.8 2.5 0.8-1.1 0.8 0.7 0.8 1.1 0.8-3.3 0.8 0.9 0.8 2.3 0.8 10.6 0.8-2.3 0.8-0.4 0.8 2.6 0.8 0 0.8-7.3 0.8-0.5 0.8 3.5 0.8 1.6 0.8-5.9 0.8-1.5 0.8 4.4 0.8-3.8 0.8 8.1 0.8-6.9 0.8 10.2 0.8-4.4 0.8 3.9 0.8-8.2 0.8 3.7 0.8-2.3 0.8-1 0.8 5 0.8-6.8 0.8 2.4 0.8-2.8 0.8-4.8 0.8 0.5 0.8 5.8 0.8 7 0.8-2.5 0.8-6.6 0.8 2.6 0.8 5.9 0.8-3.4 0.8-5.9 0.8 0 0.8 0.1 0.8 0.2 0.8 8.8 0.8 0.5 0.8-9.6 0.8 5.1 0.8-3.5 0.8 3.2 0.8-4.1 0.8 0.1 0.8-0.1 0.8 1.9 0.8 2 0.8 6.7 0.8-4.4 0.8 0.1 0.8-1.5 0.8 0.6 0.8 5 0.8-1.8 0.8 4.2 0.8 4.4 0.8 1.5 0.8 2.1 0.8-2.5 0.8 6 0.8-6.5 0.8 10.1 0.8-3.3 0.8-2.8 0.8 1.4 0.8 10.9 0.8-9.6 0.8 1.4 0.8 0.1 0.8-1.8 0.8 1.8 0.8 5.6 0.8-2.9 0.8 3.1 0.8-5.1 0.8-0.9 0.8 3.8 0.8-5.3 0.8-1.9 0.8-2.5 0.8-10.5 0.8 2.3 0.8-6.6 0.8 4.4 0.8-0.1 0.8-13.1 0.8 0 0.8 6.8 0.8-9.8 0.8-0.9 0.8 6.6 0.8-4.8 0.8 5.1 0.8-11 0.8 2.7 0.8 0.6 0.8 8.5 0.8-5.6 0.8 2 0.8-9.7 0.8 2.2 0.8 5.7 0.8-4.6 0.8-6.9 0.8-0.4 0.8-4.4 0.8 2.9 0.8 10.1 0.8-8.2 0.8 12 0.8-3 0.8 20.1 0.8-15.4 0.8 8.8 0.8 22.1 0.8-8.8 0.8-4.8 0.8-8.1 0.8-3.8 0.8-7.8 0.8 5.1 0.8-3.2 0.8 4.2 0.8 3.4 0.8-7 0.8-8.3 0.8 3.7 0.8-0.5 0.8 13.3 0.8-9.5 0.8 8.5 0.8-5.8 0.8-2.1 0.8-6.8 0.8 5.8 0.8-5.4 0.8 1.2 0.8 2.1 0.8 4.6 0.8-8.7 0.8-0.8 0.8 21.1 0.8-16.8 0.8 9.9 0.8-7.2 0.8 10.6 0.8 1.3 0.8-9.8 0.8 0.3 0.8 5.6 0.8-2.3 0.8 3.5 0.8-8.1 0.8 1.6 0.8 2.5 0.8 0 0.8 1.2 0.8-6.8 0.8 3.7 0.8-3.9 0.8 9 0.8-6.8 0.8 8.7 0.8-8.1 0.8-2.1 0.8-0.8 0.8 5.9 0.8-4.3 0.8 1.1 0.8 1 0.8 7.1 0.8 1.2 0.8-2 0.8 4.8 0.8-4.6 0.8 3.6 0.8-0.5 0.8 6.5 0.8-3 0.8 1.2 0.8 1.1 0.8-1.9 0.8-1.6 0.8-3 0.8 3.8 0.8-5.2 0.8 1.2 0.8 4.5 0.8 3 0.8-5.1 0.8 1.2 0.8-5.1 0.8 4.7 0.8-1.2 0.8-0.8 0.8 3.3 0.8-4.5 0.8-8.2 0.8-0.7 0.8 0.2 0.8 9 0.8-7.8 0.8 7 0.8 1.6 0.8-1.9 0.8 1.5 0.8-0.1 0.8-2.7 0.8 1.4 0.8-2.7 0.8 2.8 0.8-4.6 0.8-3 0.8 1.3 0.8-1.9 0.8 0.8 0.8-0.5 0.8 5.5 0.8-4.1 0.8-6.6 0.8-1.3 0.8 3.4 0.8 5.4 0.8-14.7 0.8 7.8 0.8-12.8 0.8 1.6 0.8 7.5 0.8-6.6 0.8 12.4 0.8 3.2 0.8-11.8 0.8 10.7 0.8 2.1 0.8-16.7 0.8 21.3 0.8-19.2 0.8 6.9 0.8 3.5 0.8-0.7 0.8-7.7 0.8 12.6 0.8-2.5 0.8 1.2 0.8-11.7 0.8-2.3 0.8 8.3 0.8 1.1 0.8-6.2 0.8-1.3 0.8-8.8 0.8 7.9 0.8-12.6 0.8 10.7 0.8-10.7 0.8 4.5 0.8 0.2 0.8-5.3 0.8 15.1 0.8-11.2 0.8 0.3 0.8-5.9 0.8 23.8 0.8-19.1 0.8 2.4 0.8 7.8 0.8 2.9 0.8 1 0.8 9.2 0.8-17.5 0.8 12.9 0.8-9.1 0.8-3.6 0.8 6.9 0.8-2.1 0.8 24.5 0.8-17.2 0.8 13.9 0.8-15.4 0.8-7.6 0.8 8.8 0.8 3.4 0.8-4 0.8 8.8 0.8-13.8 0.8-2.4 0.8 1.8 0.8 3.2 0.8 3 0.8 0.7 0.8-6.8 0.8-0.2 0.8 6 0.8 3.1 0.8 5.8 0.8-6.1 0.8-9.3 0.8 0.7 0.8 2.6 0.8 1.4 0.8 1.8 0.8 6.5 0.8-1.7 0.8 2.8 0.8-3.3 0.8-11.1 0.8 2.7 0.8-0.3 0.8-9.5 0.8 5.7 0.8-7.4 0.8 2 0.8-0.4 0.8 4.4 0.8-5.5 0.8 1.8 0.8-5.5 0.8-1.2 0.8-3.1 0.8 0 0.8 1.1 0.8-1.8 0.8-1.2 0.8 4.5 0.8 2.5 0.8 5.7 0.8-3.2 0.8-4.6 0.8 2.8 0.8 2.9 0.8-4.7 0.8-1.9 0.8-0.7 0.8 2.4 0.8-4.2 0.8-0.3 0.8 9 0.8-5.7 0.8-0.1 0.8 0.2 0.8 0 0.8 0.2 0.8 0.4 0.8-0.4 0.8 4.1 0.8 1.2 0.8 3.3 0.8-1.3 0.8-4.3 0.8 0.5 0.8-4.9" fill="none" stroke="#ff0000" stroke-width="1.4" stroke-linejoin="round"/>
<path d="M165 591.7l0.8-1.9 0.8 12.9 0.8-4.6M203 592.6l0.8-2.5 0.8-0.4 0.8 0.8 0.8-0.1 0.8-0.3M215 596.3l0.8 4 0.8-5.8 0.8-1.2 0.8-0.4 0.8 0 0.8 7.8 0.8-5.7 0.8 7M233 585.6l0.8-3 0.8-0.9 0.8 3.8M255 583.1l0.8-4.8 0.8-5 0.8 10.8 0.8-4.5 0.8-11.2 0.8 3.3 0.8 8.4 0.8 16.6 0.8-32 0.8 23.5 0.8-8.6 0.8-9.7 0.8-3.4 0.8 9.2 0.8-1.8 0.8 9.2 0.8-2.9 0.8-13.6 0.8 10.4 0.8-9.6 0.8 19.8 0.8-7.8 0.8-9.9 0.8 11.7 0.8-13.2 0.8-2.3 0.8-2.6 0.8 12.7 0.8 12.5 0.8-23 0.8 17.2 0.8-12.5 0.8 2.8 0.8-13.7 0.8 0.1 0.8 6.6 0.8 7.8 0.8-0.7 0.8-3.7 0.8 0.9 0.8 4.7 0.8-4.7 0.8-8.9 0.8 12.8 0.8-9.9 0.8 13.7 0.8-15 0.8 15 0.8-0.1 0.8-6.4 0.8-9.6 0.8 13.1 0.8-7.4 0.8 2.7 0.8-3.1 0.8 18 0.8-18.4 0.8-0.5 0.8-1.9 0.8 13.5 0.8-15.5 0.8 3 0.8 1.1 0.8-2.9 0.8 15.3 0.8-11.5 0.8-10.3 0.8 17.8 0.8-14.9 0.8 20.6 0.8-20.9 0.8 15.1 0.8-14.2 0.8 13.3 0.8-14.5 0.8-2.4 0.8 18.1 0.8-4.1 0.8 6.9 0.8-5.4 0.8-2.8 0.8-3 0.8 5.1 0.8-1.8 0.8-5.2 0.8 10.2 0.8-1.5 0.8-5.9 0.8 1.6 0.8-6.1 0.8 0.2 0.8 11.1 0.8-0.7 0.8-5.9 0.8 3.9 0.8 0.9 0.8-5.4 0.8 5.6 0.8-0.8 0.8-0.7 0.8 2 0.8-5.9 0.8 7 0.8-8.8 0.8 1.9 0.8 2.1 0.8 4.4 0.8 0.9 0.8-12.2 0.8-1.4 0.8-0.2 0.8 1.3 0.8 7.6 0.8 1.6 0.8-7.8 0.8 9.2 0.8-8.8 0.8 6.9 0.8-6.8 0.8 2.5 0.8 3.3 0.8-0.8 0.8-3.8 0.8-7.8 0.8-0.5 0.8 9.8 0.8-6.3 0.8 0 0.8 0.1 0.8 0.8 0.8 0.7 0.8 0.1 0.8 2.9 0.8 1.4 0.8-6.9 0.8 4.2 0.8-1.8 0.8 7.6 0.8-1.3 0.8-2 0.8-2.1 0.8 9.7 0.8-7.2 0.8 7.6 0.8-4 0.8-1.7 0.8 9.9 0.8-4.4 0.8 6.6 0.8 0.6 0.8-5.8 0.8-5.4 0.8 1.5 0.8 2.5 0.8 5.5 0.8-8.9 0.8-1.4 0.8 6.2 0.8-4.6 0.8-4.9 0.8 0 0.8-1.3 0.8-1.4 0.8 0.8 0.8 5.1 0.8-3.4 0.8-1.3 0.8-1.1 0.8-0.8 0.8 0.9 0.8 0.4 0.8 7 0.8-7.7 0.8 5.6 0.8-1.5 0.8 3.1 0.8 0.6 0.8-9.7 0.8 3 0.8-3.5 0.8 5.7 0.8 6.3 0.8-0.8 0.8-1.9 0.8-4 0.8 0.4 0.8 8 0.8-3.4 0.8-6.3 0.8 1.5 0.8 6.1 0.8 1.9 0.8-10.4 0.8 5.3 0.8-4.2 0.8-7.1 0.8 3 0.8 5.4 0.8-4.6 0.8 1.9 0.8-0.7 0.8-0.4 0.8 4.7 0.8-2 0.8 6.6 0.8-5.2 0.8-1.2 0.8 1.5 0.8-0.4 0.8 3.4 0.8-3.9 0.8 8.5 0.8 3.3 0.8-11.6 0.8 8.7 0.8 1.3 0.8 2.1 0.8-2 0.8 3.3 0.8-7.4 0.8 2.3 0.8 0.4 0.8 3.5 0.8-3.4 0.8 5.7 0.8-1.6 0.8-0.1 0.8-7.9 0.8 11.5 0.8-8.9 0.8 1.5 0.8 3.2 0.8-3.6 0.8-2.7 0.8 1.6 0.8-1.6 0.8-0.1 0.8 0.9 0.8-1.2 0.8 7.1 0.8 0.6 0.8-3.8 0.8-1.3 0.8-1.5 0.8 3 0.8 1.5 0.8-5.9 0.8-1.3 0.8-0.2 0.8 3.4 0.8-4.5 0.8 0.2 0.8 7.1 0.8-2 0.8 4 0.8 2.2 0.8-11.7 0.8 1.5 0.8 5.5 0.8 4 0.8-10 0.8 0.9 0.8-3.7 0.8 2.1 0.8-6.9 0.8-0.1 0.8 7.2 0.8-5 0.8 1.7 0.8-1.8 0.8 7.2 0.8 0.8 0.8-1.8 0.8-6.1 0.8 9.8 0.8-3.3 0.8-2.9 0.8 5.7 0.8-2.7 0.8-2.9 0.8-7.2 0.8 6.2 0.8 1.4 0.8-7.8 0.8 0.2 0.8 1.7 0.8 1.7 0.8-4.3 0.8-1.1 0.8 1.8 0.8-3.8 0.8 4.2 0.8-0.1 0.8 0.3 0.8 3.1 0.8 0.2 0.8-3.2 0.8-3.3 0.8 1.2 0.8 0.8 0.8 3.4 0.8-1.3 0.8-1.1 0.8-0.1 0.8-4.9 0.8-0.2 0.8-0.5 0.8-0.9 0.8 2.2 0.8-3.2 0.8-0.9 0.8 5.7 0.8 0.4 0.8-4.1 0.8 3.5 0.8-7.5 0.8 3.8 0.8-7.1 0.8 0.9 0.8-5.5 0.8 9.2 0.8-6 0.8-8 0.8 9.4 0.8-10.7 0.8-4.9 0.8 7.4 0.8-1.9 0.8-13.5 0.8-1.1 0.8 12 0.8-13.2 0.8 16 0.8-15.6 0.8 18.3 0.8 3.5 0.8-7.9 0.8-1.4 0.8 12 0.8-9.6 0.8-9.3 0.8 17.5 0.8-0.9 0.8-1.9 0.8 11.6 0.8 0.9 0.8-16 0.8 16.1 0.8-11.9 0.8-0.9 0.8-0.7 0.8 6 0.8-2.4 0.8 9.3 0.8-11.3 0.8 1.7 0.8-12 0.8 6.9 0.8 3.3 0.8-18.8 0.8 3.2 0.8 2.2 0.8 6.2 0.8 2.4 0.8-7.2 0.8 12.1 0.8 3.8 0.8 4.2 0.8-1.4 0.8-4 0.8-0.3 0.8 2 0.8-9.8 0.8 13.3 0.8-15.3 0.8-2 0.8 10.4 0.8 2.1 0.8-12.3 0.8 13.9 0.8-6.9 0.8 10.2 0.8-11.4 0.8 5.4 0.8 7.6 0.8-16.5 0.8-10.4 0.8 4.8 0.8 9.8 0.8-14.4 0.8 2.7 0.8 14.3 0.8-10.4 0.8 10.4 0.8-3.3 0.8-3.4 0.8-1.2 0.8 1.4 0.8 16.2 0.8-17.2 0.8-2 0.8 5.9 0.8 2.9 0.8 4.3 0.8-5.2 0.8 4.9 0.8-10.4 0.8 0.7 0.8 8 0.8-8.2 0.8-1.8 0.8 1.5 0.8 15.1 0.8-14.6 0.8 10.3 0.8-5.7 0.8 13.3 0.8-11.8 0.8-3.6 0.8 11.1 0.8-0.3 0.8-4.4 0.8 7.8 0.8-5.3 0.8 13.7 0.8-8.3 0.8 6.7 0.8-8.7 0.8 23.6 0.8-16.4 0.8 6.6M621 586l0.8-19.3 0.8-2.5 0.8 4.2 0.8-18.1 0.8 0.8 0.8-0.4 0.8 10.8 0.8-3.5 0.8-7.8 0.8-5.9 0.8 1.9 0.8-1.8 0.8 4.4 0.8-4.3 0.8 4.8 0.8-5.4 0.8 5.4 0.8-7 0.8-0.2 0.8-1.5 0.8-1.1 0.8-0.4 0.8 2.7 0.8-2.1 0.8 10.1 0.8-1.2 0.8-3.2 0.8-3.6 0.8-2.2 0.8 6.6 0.8 6.8 0.8-9.8 0.8 10.5 0.8-1.4 0.8-1.6 0.8 0.8 0.8-10.7 0.8 3.5 0.8-4.2 0.8 4.2 0.8 9.6 0.8-9.5 0.8-1 0.8 12.4 0.8 0.5 0.8-10.3 0.8 14 0.8 3.9 0.8-5.5 0.8 6.8 0.8-5.3 0.8 3.1 0.8 4.6 0.8-6.2 0.8 8.2 0.8-13.7 0.8-0.9 0.8 4.2 0.8-7.9 0.8-0.9 0.8-4.1 0.8-4.1 0.8 3.8 0.8-6.6 0.8 4.7 0.8-2.2 0.8-17.2 0.8 20.4 0.8-23.2 0.8 19.4 0.8 8.1 0.8-4.9 0.8-24.7 0.8-1.3 0.8 17.5 0.8 0.5 0.8-17.7 0.8 3.1 0.8-9.3 0.8 4.9 0.8 2.4 0.8 14 0.8-12.4 0.8 4.3 0.8-1.8 0.8 10 0.8-10.1 0.8 5.2 0.8-5.9 0.8 0.6 0.8 4.7 0.8-9.1 0.8 4.4 0.8 2.2 0.8 13.2 0.8-16.6 0.8 13.8 0.8-21.4 0.8-3.6 0.8 0.5 0.8 11.6 0.8-1 0.8-12.5 0.8 3.4 0.8 7.3 0.8-6.8 0.8 5.7 0.8 2.8 0.8-8.5 0.8 12 0.8-5.2 0.8 18.9 0.8 6.5 0.8-11.9 0.8 16 0.8 10.4 0.8-3.1 0.8 12.1 0.8-12.9 0.8-17.3 0.8-3 0.8 1.2 0.8 8.2 0.8-5.2 0.8 10.4 0.8 4.3 0.8 16.2 0.8-27.1 0.8-5.1 0.8 15.3 0.8-5 0.8 8.9 0.8-11.3 0.8-8 0.8 5.1 0.8-1.2 0.8-3.6 0.8 0.6 0.8 2.7 0.8 4.5 0.8 2.3 0.8 16.4 0.8 23.2 0.8-22.8 0.8-3.4 0.8-25.1 0.8 18.4 0.8 9.8 0.8 27.5 0.8-26.5 0.8 12 0.8 19.1 0.8 5.7 0.8-2.7 0.8 3 0.8-11.1 0.8 8.2 0.8 3.6 0.8-15.5 0.8 3.3 0.8 8.2 0.8-14.3 0.8-4.1 0.8-20.7 0.8-12.8 0.8-2.2 0.8 29 0.8-3.6 0.8 6.3 0.8 15.9 0.8-33 0.8-17.5 0.8 39.8 0.8-24.8 0.8 18.1 0.8 11.3 0.8-24.1 0.8 5.1 0.8-33.2 0.8-0.9 0.8-5 0.8 0.4 0.8 6.3 0.8 25.5 0.8 16.3 0.8-21.8 0.8 11.2 0.8 5 0.8-4.9 0.8-23.6 0.8-0.3 0.8-1.7 0.8 28.2 0.8 12.7 0.8-15.7 0.8 6 0.8 6.2 0.8 6.6 0.8-16 0.8-3 0.8-11.3 0.8 10.8 0.8-5.4 0.8-3.1 0.8-4.8 0.8 29.5 0.8-4.9 0.8-5.5 0.8 0.8 0.8 8.4 0.8 14.7 0.8 3.4 0.8-28.2 0.8 12.7 0.8 2.3 0.8-4.3 0.8 13.2 0.8 5.1 0.8-17.3 0.8 8.6 0.8 10.4 0.8-7.7 0.8 10.3 0.8-1.8 0.8-3.6 0.8 11.4 0.8-7.9 0.8-4.8 0.8 9.4 0.8-5.9 0.8 0.3 0.8 7.5 0.8-17.8 0.8-2.9 0.8 3.6 0.8 8.1 0.8-12.2 0.8 6 0.8-9.9 0.8 1.5 0.8-6.5 0.8-2.3 0.8 15.7 0.8 2.9 0.8-7.1 0.8 0.5 0.8-1.6 0.8-10 0.8 4.9 0.8 2.5 0.8-12.7 0.8-0.6 0.8 1.9 0.8 1.1 0.8 6 0.8-8.9 0.8 4.3 0.8 2 0.8-6.6 0.8 2.3 0.8 3 0.8-3 0.8-5.5 0.8 7.5 0.8-8.9 0.8 15.2 0.8-2 0.8-5.5 0.8-3.1 0.8 2 0.8 2.4 0.8-8.7 0.8 1.1 0.8-2.2 0.8 5 0.8-6.9 0.8 2 0.8 7.3 0.8-5.5 0.8-0.2 0.8 0.4 0.8 6.3 0.8 1.7 0.8-7.1 0.8 0.3 0.8-4.2 0.8 6.3 0.8 0.8 0.8-4.1 0.8 2.4 0.8 7 0.8 0.2 0.8 1.6 0.8-9.5 0.8 6.9 0.8-3.1 0.8-4.2 0.8 3.4 0.8 0.5 0.8 0.7 0.8 3.4 0.8-1.7 0.8 0.8 0.8-6.1 0.8 6.6 0.8-2.4 0.8-7.5 0.8 5.5 0.8-6.7 0.8 0 0.8 0.7 0.8 3.3 0.8-4.2 0.8 2 0.8-2.2 0.8-1.8 0.8 6.9 0.8 3.5 0.8-3.8 0.8 0.4 0.8-1.6 0.8-0.4 0.8 4.4 0.8-9 0.8 5.5 0.8 2.8 0.8-2.4 0.8 10.2 0.8-8.6 0.8 9 0.8-0.6 0.8-11.3 0.8 7.9 0.8-1.5 0.8-7.5 0.8 10.9 0.8-9.4 0.8 11.3 0.8-10.4 0.8 24.4 0.8-6.4 0.8 13.2 0.8-14.6 0.8 12.1 0.8-12.7 0.8 16.1 0.8-14.2 0.8 1.8 0.8 8.8 0.8-7.1 0.8 0 0.8 2.3 0.8-5 0.8 9 0.8-5.6 0.8 11.6 0.8-9.1 0.8-0.9 0.8-5.3 0.8 5.3 0.8-0.6 0.8 16.4 0.8-4.1 0.8-0.8 0.8-1 0.8-5.2 0.8-12.5 0.8-5.4 0.8-3.6 0.8-0.2 0.8-1 0.8 12.4 0.8-12.8 0.8 5.7 0.8 5.1 0.8-0.6 0.8 1.3 0.8-10.3 0.8 6 0.8-21.1 0.8 8.4 0.8-7.6 0.8 2 0.8-12.1 0.8 4.4 0.8-3.9 0.8-0.4 0.8 0 0.8-6.4 0.8 5.5 0.8-5.7 0.8 0.2 0.8-3.4 0.8-5.5 0.8-8.1 0.8 10.2 0.8-8.4 0.8 14.2 0.8-0.4 0.8 2.7 0.8 18.8 0.8 15.8 0.8 11.1 0.8-12.8 0.8 8.8 0.8-16 0.8-5.4 0.8-8.4 0.8-3.1 0.8 2.8 0.8 13 0.8-13.4 0.8 1.1 0.8 3.8 0.8-0.8 0.8 1.1 0.8 8.4 0.8-6.5 0.8 6.6 0.8 0.1 0.8 2.3 0.8-4.7 0.8 0.8 0.8 2.9 0.8-15.5 0.8-2.9 0.8 5 0.8 1.8 0.8 3.2 0.8-0.1 0.8 6.1 0.8 13 0.8-10.9 0.8 16.6 0.8-2.6 0.8-7.8 0.8 20.7 0.8-9.2 0.8 4.1 0.8-18.2 0.8 6.8 0.8-18.9 0.8 4.3 0.8 7.1 0.8-13 0.8 10.4 0.8 2.7 0.8-10.8 0.8 10 0.8-0.9 0.8 8.8 0.8-6.3 0.8-10.5 0.8 10.9 0.8-14.8 0.8 9.7 0.8-10.4 0.8 3.5 0.8 1.7 0.8 1.9 0.8 1.8 0.8-2.5 0.8 15.1 0.8-2.7 0.8 1.3 0.8-0.9 0.8-7 0.8 2.8 0.8 4.1 0.8 2.7 0.8-0.1 0.8-2.9 0.8-7.3 0.8 8.5 0.8-4.4 0.8-5.8 0.8 2.2 0.8-5.7 0.8 6.4 0.8-13.1 0.8 1.4 0.8-1.9 0.8-1.3 0.8 11.7 0.8-10.8 0.8 0.9 0.8-1.1 0.8 2.1 0.8 19.5 0.8-14 0.8-1 0.8-1.8 0.8 13.5 0.8 7.3 0.8-10 0.8-3.7 0.8 5.4 0.8 8.4 0.8-11.9 0.8-4.3 0.8 2.6 0.8-6.2 0.8 4.9 0.8-3.9 0.8 12.4 0.8-12 0.8-3.2 0.8 17.9 0.8-19.5 0.8 7.8 0.8 6.4 0.8 0.5 0.8-9.3 0.8-11.3 0.8 13.5 0.8-6.7 0.8-3.7 0.8 22.9 0.8-24.7 0.8 5.7 0.8-8.5 0.8 4.9 0.8-12.3 0.8 4.6 0.8-3.1 0.8 6.5 0.8 2.9 0.8-13.7 0.8 24.1 0.8-1.7 0.8-4.1 0.8-10.9 0.8 11.7 0.8-16.8 0.8 29.3 0.8-29.6 0.8-3.9 0.8 1.9 0.8-2.4 0.8 3.5 0.8 7.5 0.8-21.5 0.8 22.7 0.8-22.6 0.8 0.1 0.8 25.8 0.8-28.4 0.8 20.3 0.8 2.8 0.8-8.8 0.8 2.7 0.8-2.4 0.8 3.7 0.8-2.1 0.8 3.3 0.8 7.1 0.8-4.1 0.8-1.1 0.8 5.9 0.8 9.5 0.8-14.5 0.8 20 0.8-4.7 0.8-14.5 0.8-0.9 0.8 21.9 0.8-13.2 0.8 22.6 0.8-5.7 0.8-10 0.8-1.3 0.8 14.7 0.8-12.3 0.8 7.7 0.8-17.5 0.8 13.2 0.8-11.3 0.8 13.4 0.8-10.4 0.8 15.1 0.8 0.4 0.8-12.7 0.8 5.9 0.8-6.8 0.8 4.6 0.8 1.4 0.8-8 0.8 14.7 0.8-20 0.8-6.3 0.8 16.8 0.8-16.6 0.8 5.3 0.8-3.8 0.8-4.3 0.8 8.3 0.8-0.9 0.8 5.2 0.8 1.2 0.8-11.2 0.8-11.7 0.8 3 0.8 8.9 0.8 7.3 0.8-20.8 0.8 7.3 0.8 3.8 0.8-2.5 0.8-4.1 0.8-8.9 0.8-1.1 0.8-2.2 0.8-1.2 0.8 10.4 0.8-1.8 0.8-5.2 0.8 5.5 0.8 9.6 0.8-13.5 0.8 8.9 0.8 0.2 0.8-9.4 0.8-0.9 0.8 14.2 0.8 1 0.8-9.1 0.8 0.8 0.8-5 0.8 13.3 0.8-1.3 0.8-15.3 0.8 8.7 0.8 2.4 0.8-3 0.8 3.9 0.8 6.3 0.8-7.7 0.8 2.8" fill="none" stroke="#00cc2e" stroke-width="1.4" stroke-linejoin="round"/>
<path d="M195 554.7l0.8-2.2 0.8-0.3 0.8 6.6M200 569.5l0.8-1.4 0.8 2.3 0.8-1.5 0.8-3 0.8 7.3 0.8-6.2 0.8 3.2 0.8 0 0.8 3.2 0.8-2 0.8 1.5 0.8-7.8 0.8 2 0.8-3.4 0.8 8.3M220 580.9l0.8 15.1 0.8 9.3 0.8-4.1 0.8-11.4 0.8 8.1 0.8-6 0.8-0.2 0.8 8.2 0.8-13.1 0.8 26.2 0.8 0.5 0.8-25.3 0.8 15 0.8-7.3 0.8-5.2 0.8 8.7 0.8-7.4 0.8 14.5 0.8-1.2 0.8 1.3 0.8-9.2 0.8 1.3 0.8-11.4 0.8 16.1 0.8-2.9 0.8-1.2 0.8-18.1 0.8 6.4 0.8-10.5 0.8 11.4 0.8-17.5 0.8 14.2 0.8-2.7 0.8-14.9 0.8 3.8 0.8 5.6 0.8 1.4 0.8-7.4 0.8 14.3 0.8 8.2 0.8-16 0.8 1.5 0.8 5.8 0.8-1.3 0.8 1.6 0.8-1.7 0.8 0.3 0.8-11 0.8 18.4 0.8-0.3 0.8-1.6 0.8-12 0.8 17.9 0.8-12.4 0.8 12.8 0.8-10.8 0.8 9 0.8 2.9 0.8-18.7 0.8 19.9 0.8-24.5 0.8 5.6 0.8 14.3 0.8 4.4 0.8 0.6 0.8-8.3 0.8 12.3 0.8-4.5 0.8 4.8 0.8-6.4 0.8-7.5 0.8-5.7 0.8-3.7 0.8 7.8 0.8-12.1 0.8 10.5 0.8-8.4 0.8 0.1 0.8 7.8 0.8 5.3 0.8-8.4 0.8 5.2 0.8-2.8 0.8-1.1 0.8 4.8 0.8-2.8 0.8 0.1 0.8 4.7 0.8-1.7 0.8-1.7 0.8 3.6 0.8 6.3 0.8-8.9 0.8 5.7 0.8-10.7 0.8 10.6 0.8-6.6 0.8-4.5 0.8 9.8 0.8-5.2 0.8 2.3 0.8-0.3 0.8-5.7 0.8 7.3 0.8-0.8 0.8-5.7 0.8-3.7 0.8 5.7 0.8-6.5 0.8-0.7 0.8-2.6 0.8 3 0.8 3.5 0.8 3.9 0.8 1.3 0.8-7.3 0.8-2.8 0.8-2.9 0.8-0.6 0.8 5.5 0.8 6 0.8-3.1 0.8 3.4 0.8-0.1 0.8-1.3 0.8 1 0.8 5.7 0.8-1.6 0.8 0.4 0.8-2 0.8-0.9 0.8-2.2 0.8 0 0.8-3.5M372 587.4l0.8-9.6 0.8 0.8 0.8 14.1 0.8-8.3 0.8-1.6 0.8-1.3 0.8-5 0.8 6.4 0.8-1.7 0.8 12.8 0.8-5 0.8 3.5 0.8 2.1 0.8-4.9 0.8 6.3 0.8-0.9 0.8 1.7 0.8-8.5 0.8 2.7 0.8-1.3 0.8-4.1 0.8 5.1 0.8-5.8 0.8-2.1 0.8-3.2 0.8-2.9 0.8-1 0.8 1.7 0.8 1 0.8 1.4 0.8-5.2 0.8 2.7 0.8-3.6 0.8 0.8 0.8 7.4 0.8-4.4 0.8 7.2 0.8-6.4 0.8-5.8 0.8 4.6 0.8 5.8 0.8-4.1 0.8 2.5 0.8-2.7 0.8 4.6 0.8-0.3 0.8-2 0.8-0.3 0.8-5.6 0.8 2.1 0.8-0.3 0.8 0.4 0.8 4.2 0.8-1.1 0.8-0.5 0.8-6 0.8 8.2 0.8 4.4 0.8-3.1 0.8-1.7 0.8-1.7 0.8 4.5 0.8 0.4 0.8-4.1 0.8 7.6 0.8 0.2 0.8-4.3 0.8 6.3 0.8-7.4 0.8 7.7 0.8-8.4 0.8 3.9 0.8-2.4 0.8 4 0.8-2.8 0.8 14.2 0.8 1 0.8-7.6 0.8 1.5 0.8 3.2 0.8-4.6 0.8-0.7 0.8 11.8 0.8-5.1 0.8-2.1 0.8 10.3 0.8-6 0.8-3.9 0.8-1.1 0.8 2.7 0.8-5.7 0.8 6.5 0.8-5.9 0.8 9.2 0.8-3 0.8 2.9 0.8-7.9 0.8-1.1 0.8-4 0.8 2.4 0.8 0.2 0.8 2.2 0.8-11.6 0.8 6 0.8 3.3 0.8-9.4 0.8-0.5 0.8 5 0.8-7.2 0.8 1.9 0.8 5.5 0.8-1.2 0.8-1 0.8-0.8 0.8 4.5 0.8-6.6 0.8 0.7 0.8 3.4 0.8-0.6 0.8-1.1 0.8-0.6 0.8 0.7 0.8-2.7 0.8 1.1 0.8-3.6 0.8 2.6 0.8 0.5 0.8-7.8 0.8 6.8 0.8 0.1 0.8-0.4 0.8-0.8 0.8-5.7 0.8-0.2 0.8-1.9 0.8-1.7 0.8 0.8 0.8 0.3 0.8 5.7 0.8-2 0.8 6.1 0.8-13.2 0.8 3.2 0.8 1.6 0.8-2.9 0.8-3.4 0.8-0.9 0.8 0 0.8-6.7 0.8 0.5 0.8-6.7 0.8 4.2 0.8 4.6 0.8-1 0.8-2.5 0.8 2.5 0.8-0.7 0.8 9.4 0.8 3.7 0.8 3.1 0.8-7.8 0.8 2.3 0.8 2.3 0.8 1.4 0.8-8.5 0.8 10.6 0.8 0.3 0.8-6.7 0.8 6 0.8-4.1 0.8 4.1 0.8-5.8 0.8-10.1 0.8 1.5 0.8-2.2 0.8-1.1 0.8 2.6 0.8 6.5 0.8 0.5 0.8 4.3 0.8 0.4 0.8 0.5 0.8-4.7 0.8-4 0.8 13.2 0.8-11.1 0.8 11.8 0.8-15 0.8 1.8 0.8 10.2 0.8-10 0.8-8.1 0.8 8.3 0.8-18.4M552 529.2l0.8 9.3 0.8-2.3 0.8 19.7 0.8-11.6 0.8 7.6 0.8 6.6 0.8 23.7 0.8 0.2 0.8-1.7 0.8-18.1 0.8 17.3 0.8-6 0.8 0 0.8-13.7 0.8 18.8 0.8-8.6 0.8 4.8 0.8-14.4 0.8 6.9 0.8-10.9 0.8 13.6 0.8-9.7 0.8-1.4 0.8 1.4 0.8 8.9 0.8-2 0.8 20.8 0.8-4.8 0.8-12.4 0.8 14.7 0.8 1.6 0.8 2.6 0.8-6.5 0.8-13.5 0.8 12.5 0.8-4.7 0.8-3.2 0.8 6.6 0.8 11.9 0.8-13.5 0.8 12.2M624 559l0.8 6.2 0.8 13.3 0.8-1.3 0.8-17.8 0.8 14.1 0.8 6.7 0.8-6.2 0.8 4.6 0.8-7.9 0.8-0.5 0.8 6.5 0.8-8.1 0.8 3.5 0.8-16.1 0.8 11.8 0.8-7.8 0.8 18.2 0.8-5.8 0.8-12.8 0.8 1.6 0.8 15.1 0.8 0 0.8-1 0.8-1 0.8-0.2 0.8-1.1 0.8-2.6 0.8-3.5 0.8 1.9 0.8-9.5 0.8 8.2 0.8 4.7 0.8 3.6 0.8-4.2 0.8 8.6 0.8 5.2 0.8-4.4 0.8 8 0.8 2.4 0.8-4 0.8 7.7 0.8-2.5 0.8-2.5 0.8 9.1 0.8 1.2 0.8-14.6 0.8-4.6 0.8 15.1 0.8-0.6 0.8-3.5 0.8 1 0.8-14.7 0.8 12.7 0.8-9.9 0.8 12.6 0.8-2.9 0.8-3.9 0.8 10.8 0.8 1.1 0.8-11.2 0.8 0.7 0.8-6.1 0.8 6.8 0.8-8.3 0.8-2.2 0.8 7.7 0.8 0.7 0.8-0.4 0.8 6.6 0.8-5.3 0.8 4.3 0.8-20.8 0.8 16.8 0.8-6.1 0.8-10.8 0.8 13.1 0.8 10.5 0.8-8.9 0.8-3.7 0.8-3.2 0.8 12.1 0.8 5.7 0.8 4 0.8-6.9 0.8-6 0.8 13.3 0.8 2.5 0.8-10.8 0.8 12.6 0.8-5.4 0.8 0.9 0.8-3.8 0.8-6 0.8 5.1 0.8 3.9 0.8 8.8 0.8 0.7 0.8-6 0.8-1 0.8 2.6 0.8-5.4 0.8-7.4 0.8-2.2 0.8 15 0.8-0.5 0.8-6 0.8 1.8 0.8-5.4 0.8 4.4 0.8-0.2 0.8-3.1 0.8-0.4 0.8 0.3 0.8-15.1 0.8-17.5 0.8 14.9 0.8 12.6 0.8-4.7 0.8-25 0.8 34 0.8-23.7 0.8-26.5 0.8 24 0.8 12 0.8 8.1 0.8 5.4 0.8 1.4 0.8 3.8 0.8 1.7 0.8 0 0.8 0.8 0.8 5.2 0.8 3 0.8 2.4 0.8-0.6 0.8-1.4 0.8-11.2 0.8-25.1 0.8 17.9 0.8 15.1 0.8 1.7 0.8-2.4 0.8-1.3 0.8-0.4 0.8-1.8 0.8 2.5 0.8 4.8 0.8 2.5 0.8-22.7 0.8-25.7 0.8 26.8 0.8 16.5 0.8-1.9 0.8-9.7 0.8-1.3 0.8 2.5 0.8-7.9 0.8-4.8 0.8 10.2 0.8 6.9 0.8-45.1 0.8-40.4 0.8-5.4 0.8 46.7 0.8-5.3 0.8 8.6 0.8 11.7 0.8 9.6 0.8 3.5 0.8 17.5 0.8 7.2 0.8 0.2 0.8-5.8 0.8-5.3 0.8-6.3 0.8 1.7 0.8 0.5 0.8 3.4 0.8 1.9 0.8-18.5 0.8-17.7 0.8-15.7 0.8 28.4 0.8 7.6 0.8-24.3 0.8 5.3 0.8-0.2 0.8 10.8 0.8 8 0.8-18.9 0.8-15.7 0.8 0.5 0.8 51.6 0.8 1.3 0.8 3 0.8 0.7 0.8-3.5 0.8-5.9 0.8-12.8 0.8-4.6 0.8 14.9 0.8-3.6 0.8-2.1 0.8 7.4 0.8-16.4 0.8-2.3 0.8 15.9 0.8 2.5 0.8-7.1 0.8 10.3 0.8-26.2 0.8 25.8 0.8-11 0.8 13.9 0.8-19.9 0.8 6.3 0.8 2.6 0.8 4.8 0.8-17.7 0.8 10.2 0.8 0.4 0.8 17.1 0.8-20.6 0.8 1.5 0.8 6.8 0.8 1.6 0.8 12.5 0.8 7.4 0.8-13.9 0.8-0.5 0.8 0 0.8 9.4 0.8 4 0.8-4.8 0.8-12 0.8 2.7 0.8-3.4 0.8-0.5 0.8-3.8 0.8-3.5 0.8 2.9 0.8-1.7 0.8-4.2 0.8-2.5 0.8-2.2 0.8 1.8 0.8 9.7 0.8-15 0.8 1.3 0.8 11.3 0.8-9.2 0.8 3 0.8 3.9 0.8 0.1 0.8 4.2 0.8-1.7 0.8 7 0.8-13.8 0.8 14.4 0.8-6.8 0.8 5.1 0.8-3.1 0.8-2.4 0.8 7.4 0.8-0.9 0.8-6.4 0.8-3.3 0.8-0.7 0.8 4.7 0.8 3.6 0.8 0.7 0.8 3.1 0.8 0.6 0.8 0.8 0.8 1 0.8 1.9 0.8-5.1 0.8 2.3 0.8-2.4 0.8-3 0.8 4.1 0.8 2.7 0.8 0.9 0.8 1.8 0.8-1.2 0.8 1.1 0.8 2.9 0.8-5 0.8 3.5 0.8-8.6 0.8 1.2 0.8-1.1 0.8 2.5 0.8 0.6 0.8-0.5 0.8 1.3 0.8 3.3 0.8 1.9 0.8 2.1 0.8-0.8 0.8 1.3 0.8 1 0.8-3.3 0.8-1.5 0.8-0.4 0.8 0.6 0.8 0.8 0.8 0.1 0.8-1.1 0.8-1.2 0.8-3.3 0.8-2.5 0.8 3.2 0.8-7.3 0.8 7 0.8 0.5 0.8-0.1 0.8 0.7 0.8 2.4 0.8-7.9 0.8 0.4 0.8-0.8 0.8-2.2 0.8-3.4 0.8-4.8 0.8 5.1 0.8 2.5 0.8-2.8 0.8 1 0.8 7.1 0.8 4 0.8 1.2 0.8 1.5 0.8 0.6 0.8 4.2 0.8-1.3 0.8 3.5 0.8-1.4 0.8 4.1 0.8 2.7 0.8 0.7 0.8 0 0.8-1.8 0.8-2.6 0.8 0 0.8 4 0.8-7.6 0.8 4.6 0.8 2.3 0.8-2.1 0.8 1.3 0.8-1.8 0.8-8.3 0.8-0.5 0.8 7.9 0.8 2.8 0.8-7.3 0.8-0.8 0.8 7.6 0.8 4.7 0.8-10.6 0.8-6.6 0.8-6.9 0.8 5.6 0.8-5.1 0.8 3.3 0.8-5.2 0.8-2 0.8 1 0.8 7.7 0.8 0.1 0.8-0.7 0.8-0.9 0.8-4.5 0.8-0.3 0.8-0.1 0.8 4.3 0.8-10.4 0.8 4.8 0.8 3.7 0.8 0.9 0.8-5.2 0.8-4.1 0.8 1.5 0.8-6.1 0.8 16.5 0.8 0.3 0.8-6.7 0.8-2.1 0.8 15.3 0.8-7.9 0.8 13 0.8-0.1 0.8-8.7 0.8 7.1 0.8-5.7 0.8 6 0.8-4.2 0.8-3.4 0.8 0.7 0.8 1.9 0.8 0.2 0.8 0.8 0.8 2.2 0.8-1.8 0.8 3.8 0.8-5 0.8 2 0.8-4 0.8 0.9 0.8 6.3 0.8 2.9 0.8-4.7 0.8 6.2 0.8-1.1 0.8 4.6 0.8-0.5 0.8-1 0.8 0.2 0.8-7.3 0.8 2.2 0.8-2.6 0.8 7.2 0.8-0.8 0.8-11.1 0.8 7.4 0.8 1.8 0.8-0.3 0.8-1.5 0.8 5.9 0.8 2.9 0.8-10.4 0.8 3 0.8 4.2 0.8-0.9 0.8-2.1 0.8 2.4 0.8-0.9 0.8-1.3 0.8-1.4 0.8-1.4 0.8-9.7 0.8 2.4 0.8-4.3 0.8-3.3 0.8-2.6 0.8-1.9 0.8-1.8 0.8-1.1 0.8 1 0.8 1.8 0.8 0.8 0.8-0.6 0.8-1.6 0.8 2.3 0.8-3.1 0.8-0.1 0.8 4.7 0.8-3.3 0.8-0.7 0.8 2.6 0.8-3.1 0.8 0.4 0.8 4.9 0.8-5.9 0.8-1.2 0.8 1.7 0.8-4.1 0.8 3.1 0.8-1 0.8-7.4 0.8 7.4 0.8-0.7 0.8-8.4 0.8 0.4 0.8 5.7 0.8 3.4 0.8-5 0.8-3.3 0.8 1.6 0.8-6 0.8 8 0.8-6.3 0.8 3.7 0.8-6.7 0.8 0.5 0.8-5.8 0.8-5.7 0.8 11.3 0.8-2.6 0.8-2.3 0.8 1 0.8-4.6 0.8 0.7 0.8-2 0.8 6.1 0.8 1.5 0.8 1 0.8 0.6 0.8 0.1 0.8 2.7 0.8-3.2 0.8 2.3 0.8-2 0.8-6.9 0.8 1.6 0.8 3.8 0.8-13.5 0.8 4.3 0.8 10.9 0.8-6.7 0.8-1.8 0.8 12.1 0.8-12.1 0.8 7.9 0.8-4.2 0.8-5.1 0.8 7.2 0.8-3.8 0.8 4.6 0.8 8.6 0.8-16.8 0.8-0.2 0.8 5.2 0.8-0.6 0.8-1.6 0.8 7.1 0.8-6.1 0.8-8.7 0.8-3.3 0.8-7.1 0.8 9.3 0.8-4.2 0.8-14.3 0.8-0.8 0.8-15.5 0.8 12.8 0.8-8.3 0.8 23 0.8-9.4 0.8 11.6 0.8-1.3 0.8 7.7 0.8-18.9 0.8 3.2 0.8 3.6 0.8 8.2 0.8 6.4 0.8 6.5 0.8 17.3 0.8-0.9 0.8-14.2 0.8 14.1 0.8 1.6 0.8-16.2 0.8-1.1 0.8 5.1 0.8-9.5 0.8-3.8 0.8-0.4 0.8 22.9 0.8-18.1 0.8 10 0.8-6.6 0.8 1 0.8 5.3 0.8-10.6 0.8-0.7 0.8 5 0.8 4 0.8-9.6 0.8 16.6 0.8-14 0.8 17.3 0.8 0 0.8-5.7 0.8-14.3 0.8 2.4 0.8 5 0.8 1.7 0.8-0.3 0.8 2.5 0.8 3.9 0.8-2.8 0.8-2 0.8-12.6 0.8 3.2 0.8 1.4 0.8-6.2 0.8 9.9 0.8-9.8 0.8 6.3 0.8-4.7 0.8-4.4 0.8-1.3 0.8-0.9 0.8-1.9 0.8-1.3 0.8-3.2 0.8-4.2 0.8-2.3 0.8-1.2 0.8-0.8 0.8-0.2 0.8-1.8 0.8-7.5 0.8 2.1 0.8-4.1 0.8-2.2 0.8 4.6 0.8 7 0.8-0.2 0.8-4.1 0.8-1.7 0.8 5.7 0.8 5.8 0.8 0 0.8-2.9 0.8 2.1 0.8 1.6 0.8 5.9 0.8 0.1 0.8-0.1 0.8-3.1 0.8 1.1 0.8 4.8 0.8 1.3 0.8 0 0.8 1.4 0.8 0.9 0.8 0.2 0.8-1 0.8 3.3 0.8-2.8 0.8-0.1 0.8-1 0.8 3.7 0.8 2.7 0.8-0.3 0.8-2 0.8-1.8" fill="none" stroke="#0000ff" stroke-width="1.4" stroke-linejoin="round"/>
<path d="M158 596.3l0.8 1.3 0.8 4.1M165 605.8l0.8 3.4 0.8 0.7 0.8 0.6 0.8-2.9 0.8-1.9 0.8 0.4M202 594.1l0.8-0.8 0.8 0 0.8 1.4 0.8 1 0.8 1.1 0.8 1.8 0.8 0.1M258.4 592l0.8-0.4 0.8-3.2 0.8 0.2 0.8-16.8 0.8 10.2 0.8-12.8 0.8 8.8 0.8-9.3 0.8 2 0.8 8.8 0.8 11.8 0.8-1.9 0.8 1.2 0.8-2.3 0.8-12.7 0.8 13.6 0.8 1.3 0.8 6.5 0.8-2.8 0.8-16.1 0.8 0.3 0.8 9.6 0.8 0.7 0.8 1.8 0.8-17.3 0.8 13.6 0.8-2.2 0.8-6.7 0.8 8.2 0.8 3.5 0.8-14.4 0.8 6.3 0.8-5.6 0.8 10.5 0.8-4.3 0.8 0.3 0.8-8.3 0.8 9.2 0.8 6.3 0.8-6 0.8-3.1 0.8 8.8 0.8-6.2 0.8 1.2 0.8-5 0.8-3.4 0.8 1.5 0.8-4.2 0.8 5 0.8 0.4 0.8-3.7 0.8 3.1 0.8 1.3 0.8-6.9 0.8-2.2 0.8 7.8 0.8 0.1 0.8-5 0.8 0.8 0.8 1.2 0.8 3.5 0.8-1 0.8 8.1 0.8-0.4 0.8-4.4 0.8-8.3 0.8 4.7 0.8-6.1 0.8 4.7 0.8 6 0.8 4.7 0.8-2.5 0.8-10.9 0.8 9.2 0.8-4.1 0.8-4 0.8 3.5 0.8 6 0.8 1.3 0.8 3.5 0.8-0.3 0.8-8.3 0.8 4.4 0.8-2.9 0.8-4.4 0.8 8.9 0.8-4.1 0.8 2.7 0.8-1.6 0.8-1.4 0.8-4.2 0.8 2.4 0.8-4 0.8 2.2 0.8-1.5 0.8-6.3 0.8 7.8 0.8-6.2 0.8 1.3 0.8-2.6 0.8 4.5 0.8 6.5 0.8-4.9 0.8-1.9 0.8-2.2 0.8 0.1 0.8 0.9 0.8 1.9 0.8-4.7 0.8 5.3 0.8-3.8 0.8-5.4 0.8-0.6 0.8 7.2 0.8-1.9 0.8-0.2 0.8 0 0.8 4.1 0.8-1.8 0.8-1 0.8-3.2 0.8 2.6 0.8-0.9 0.8 2.7 0.8 1.7 0.8-2.6 0.8-3.2 0.8 0.3 0.8 2.3 0.8-5.1 0.8 5 0.8 2.6 0.8-0.2 0.8-2 0.8 2.9 0.8 1.9 0.8-1 0.8-1.3 0.8 0.5 0.8-2.9 0.8 4.6 0.8 1.3 0.8 0.6 0.8 3.1 0.8-2 0.8 0.4 0.8-4.9 0.8 6.3 0.8 2 0.8-0.7 0.8-5.8 0.8-0.2 0.8-2.3 0.8 5.4 0.8-3 0.8 5 0.8-2.8 0.8-4.4 0.8-0.7 0.8 5.1 0.8-3 0.8 4.9 0.8 4.4 0.8 0.9 0.8-1 0.8-6 0.8 1.9 0.8-4.9 0.8-0.8 0.8 6.2 0.8-1.5 0.8-4.7 0.8-0.9 0.8 0.7 0.8 0.7 0.8-1.3 0.8 3 0.8-5.9 0.8 6.3 0.8-3.5 0.8 0.5 0.8 4.4 0.8-0.7 0.8-1.5 0.8 1.5 0.8-1.3 0.8-1.9 0.8-6.3 0.8 3.2 0.8 1 0.8-3.1 0.8 2.3 0.8 0.9 0.8-5.4 0.8 8.2 0.8-4 0.8 1.4 0.8 4 0.8-0.8 0.8 1 0.8-6.8 0.8 7.6 0.8-5.6 0.8 5.9 0.8-6.2 0.8 1.2 0.8-1.1 0.8 4.6 0.8-1.5 0.8 3.3 0.8-0.6 0.8-0.6 0.8 0 0.8 0.7 0.8-3 0.8-1.3 0.8 6.8 0.8-1.8 0.8 4.4 0.8 4.3 0.8-3.2 0.8 1.8 0.8-0.6 0.8 4.8 0.8-4.4 0.8 5 0.8-6 0.8 2.4 0.8-2.1 0.8 6.5 0.8-7.2 0.8-1.7 0.8 5.3 0.8-6.5 0.8 11.1 0.8-6.6 0.8 0.2 0.8 1.7 0.8-4.4 0.8 5.3 0.8 0.4 0.8-7.2 0.8 10.3 0.8-4.4 0.8-4.6 0.8 7.2 0.8-3.8 0.8 2 0.8-1.8 0.8-1.3 0.8-3 0.8-4.2 0.8 10.5 0.8-5 0.8-2.4 0.8 3.5 0.8 3.4 0.8-2.4 0.8-4.9 0.8 6.3 0.8-0.2 0.8-11.3 0.8 6.4 0.8-7.7 0.8-0.4 0.8 7.6 0.8-3.7 0.8-1.4 0.8 8.6 0.8 0.6 0.8-13.3 0.8 3.6 0.8 2.9 0.8-1.6 0.8 2.7 0.8-3.8 0.8-2.5 0.8 0.1 0.8-6.8 0.8 2.3 0.8 3.5 0.8-3.4 0.8 1.6 0.8 4 0.8-3 0.8 1.5 0.8-3.1 0.8 5.7 0.8-3.2 0.8-1 0.8-6.1 0.8 1.6 0.8 3 0.8 2.3 0.8-7.2 0.8-1.5 0.8 6.9 0.8-1.4 0.8 1.4 0.8-6.2 0.8 5.4 0.8 0 0.8-1 0.8-3.3 0.8 4.5 0.8-5.9 0.8 1.8 0.8-4 0.8 1.2 0.8 7.2 0.8-3.5 0.8-5.4 0.8 6.6 0.8 1.3 0.8-7.8 0.8 3.7 0.8 3.8 0.8-5.4 0.8 1.8 0.8-6.1 0.8-9.8 0.8 7.9 0.8-6.2 0.8 8 0.8-8 0.8-3.9 0.8 10.2 0.8-0.9 0.8-4.1 0.8 7.4 0.8-7.4 0.8 4.7 0.8-4.9 0.8 0.9 0.8-4.6 0.8 0.6 0.8 3.1 0.8-4.5 0.8 3.2 0.8-2.1 0.8 1.6 0.8-4.4 0.8-3.8 0.8-2.5 0.8 0.2 0.8 0.2 0.8 2 0.8 1.3 0.8-6.1 0.8 4.4 0.8 4.5 0.8-1.3 0.8-3.9 0.8 3.4 0.8 0.7 0.8-2.6 0.8 3.1 0.8 1.7 0.8-6.3 0.8-5.1 0.8 11.5 0.8-10.6 0.8 12.3 0.8-0.7 0.8 2.1 0.8-3.9 0.8-0.1 0.8 5.4 0.8 4.1 0.8 1.9 0.8 3.2 0.8-3.3 0.8 3.9 0.8 8.2 0.8-1 0.8-9.6 0.8 1.2 0.8-4.6 0.8 5.2 0.8-11.2 0.8 2.5 0.8-6.7 0.8-0.2 0.8 0.9 0.8-0.9 0.8 0.3 0.8 1.9 0.8 3.4 0.8-1.3 0.8 0.2 0.8 1.2 0.8-5.9 0.8 1 0.8 9.3 0.8-5.6 0.8-6.6 0.8 10.5 0.8-4.9 0.8 6.8 0.8 0.5 0.8-2.5 0.8-6.6 0.8 7.3 0.8-1 0.8 1.6 0.8 6.4 0.8 0.1 0.8-6 0.8 6.3 0.8 2.3 0.8-4.9 0.8 11.4 0.8-3.5 0.8-0.8M624 564.7l0.8 1.5 0.8 2.1 0.8-5.6 0.8-1.6 0.8 2 0.8-3.2 0.8 10.6 0.8-2.3 0.8-1.2 0.8 7.1 0.8-8.3 0.8-0.1 0.8 9.1 0.8-10.7 0.8 4.2 0.8-7.2 0.8 5 0.8-5.6 0.8 7.8 0.8-8.7 0.8 7.6 0.8-5.1 0.8-2.5 0.8-3.4 0.8 7.4 0.8-2.9 0.8 3.7 0.8-2.6 0.8 4 0.8-0.1 0.8-2.6 0.8-3.5 0.8 6.3 0.8-1.1 0.8-5.4 0.8 1.5 0.8 5 0.8 2.5 0.8-8.6 0.8 5.3 0.8-1.4 0.8 1.7 0.8-5.5 0.8 1.5 0.8 6.2 0.8-7.2 0.8-0.9 0.8-0.4 0.8-2.9 0.8-3.2 0.8-0.1 0.8 4.9 0.8 3.2 0.8 2.3 0.8-3.8 0.8-0.9 0.8-0.9 0.8 0.3 0.8-8.4 0.8 6.2 0.8-4.5 0.8 4.8 0.8-3 0.8-8.9 0.8 16.5 0.8-6.2 0.8-0.3 0.8-15 0.8 15.5 0.8-1.7 0.8-12.4 0.8 4.8 0.8 12.1 0.8-11.1 0.8 9.6 0.8-8 0.8 10.9 0.8-6.6 0.8-9 0.8-5.5 0.8 21.1 0.8-4.8 0.8-5.8 0.8 8.9 0.8-1.1 0.8-16 0.8 5 0.8 6.5 0.8 4.1 0.8 0.3 0.8-16.8 0.8 17.3 0.8-10.5 0.8 0.9 0.8-9.5 0.8 3 0.8 4.2 0.8 9.5 0.8 2.6 0.8-12.8 0.8-3.2 0.8 18.6 0.8-8.4 0.8-8.1 0.8 10.6 0.8-4 0.8-5.1 0.8-1.9 0.8 5.9 0.8-5.6 0.8 2.5 0.8-5.5 0.8 1 0.8 12.8 0.8-5.6 0.8-9.6 0.8 13.4 0.8-7.3 0.8 5.7 0.8-0.1 0.8 30.2 0.8 2.3 0.8-3 0.8 9.2 0.8-1.1 0.8-0.7 0.8 3.4 0.8 6.5 0.8-0.2 0.8 1.8 0.8-8.2 0.8-8.1 0.8 17.4 0.8 0.3 0.8-1.3 0.8 1.8 0.8 4.5 0.8 2.9 0.8-21 0.8 7.9 0.8-16.8 0.8-5.6 0.8-23.5 0.8 3.8 0.8 21.4 0.8 15.1 0.8-2.5 0.8 6.5 0.8-12.2 0.8 5.1 0.8 15.3 0.8-6.1 0.8-19.4 0.8 7.7 0.8-1.8 0.8 23.6 0.8-7.3 0.8 5 0.8-0.3 0.8-3.4 0.8-1.8 0.8 3.8 0.8 3.4 0.8-12.3 0.8 10.1 0.8 1.8 0.8 2 0.8 2.8 0.8-0.1 0.8-3.2 0.8-1.6 0.8 0 0.8 1.6 0.8-17.2 0.8 7.3 0.8 7.1 0.8-5 0.8-10.1 0.8 10.4 0.8 7.6 0.8-5.4 0.8-2 0.8 0 0.8 5.2 0.8 3 0.8-19.9 0.8 24.6 0.8-13.3 0.8-1.7 0.8-2.9 0.8 0.2 0.8-18.5 0.8 28.5 0.8 1.7 0.8-25.5 0.8 5.8 0.8 9.2 0.8-26.9 0.8 3.8 0.8-7.8 0.8 8.1 0.8 11.9 0.8 14.3 0.8-8.5 0.8 2.3 0.8-2.7 0.8 3.8 0.8 3.8 0.8-6.1 0.8 4.4 0.8-0.4 0.8 0.1 0.8-3.1 0.8 7 0.8 1.2 0.8 2.8 0.8-2.9 0.8 8.7 0.8-3 0.8-4.3 0.8 7.7 0.8 0.4 0.8-6.6 0.8-1.8 0.8 6.2 0.8-8.7 0.8 14.9 0.8-0.7 0.8 11.3 0.8-10 0.8-12.5 0.8 17 0.8-14 0.8 1.3 0.8 4.7 0.8-16.5 0.8 3.8 0.8-3.8 0.8 10.7 0.8-15.9 0.8 18.1 0.8-12.4 0.8-1.2 0.8 5.1 0.8-10.8 0.8 16.5 0.8-0.5 0.8-15.6 0.8 9.6 0.8-6 0.8 0.7 0.8 0 0.8 0.2 0.8 7.9 0.8-1.3 0.8-7.7 0.8-8.2 0.8 8.9 0.8-6.8 0.8 2.1 0.8 2.1 0.8 3.1 0.8-8 0.8 5.6 0.8-6.9 0.8 0 0.8 8.2 0.8-2.7 0.8-0.8 0.8-0.5 0.8 3.1 0.8-12.1 0.8 7.2 0.8-0.3 0.8-4.2 0.8-3.5 0.8 3.3 0.8-3.2 0.8 4.2 0.8-6.3 0.8 0.4 0.8 12.3 0.8-7.2 0.8 2.2 0.8 4.1 0.8-7.5 0.8 2 0.8-3.3 0.8 4.4 0.8-1.2 0.8-0.8 0.8-4.7 0.8-1.3 0.8 0.4 0.8 7.8 0.8 2 0.8 5.4 0.8-9.2 0.8 7.1 0.8-6.8 0.8 5.8 0.8 0.2 0.8 3.2 0.8-5.7 0.8-1.6 0.8-2 0.8 2 0.8-2.9 0.8 1.9 0.8 4.5 0.8 3.8 0.8-10 0.8-1.6 0.8 0.3 0.8 4.4 0.8 4.3 0.8-9.2 0.8 0 0.8-0.4 0.8 0.7 0.8 2.1 0.8 1.8 0.8-4.1 0.8 2.3 0.8 5 0.8-5.4 0.8-0.1 0.8 2.8 0.8-2.7 0.8 7.8 0.8-4.8 0.8 6.5 0.8-8.8 0.8-1.4 0.8 1.5 0.8 3.5 0.8 15.1 0.8-1.6 0.8 5.9 0.8-7.2 0.8 0.8 0.8 6.2 0.8 0 0.8-3.3 0.8-1.8 0.8-1.2 0.8-1.1 0.8 9.7 0.8-6.5 0.8 9.4 0.8-4.7 0.8 5.4 0.8 2 0.8-2.2 0.8-5.7 0.8 9.2 0.8-3.5 0.8-0.1 0.8 0.7 0.8-4.6 0.8 0.5 0.8 0.6 0.8-1.1 0.8-5.9 0.8-3.4 0.8-14.3 0.8-0.5 0.8 0.4 0.8-0.2 0.8-8.2 0.8-0.2 0.8 3.4 0.8 5.1 0.8-4.5 0.8-0.9 0.8-7.9 0.8 12.4 0.8-5.2 0.8 2.4 0.8 5 0.8 2.8 0.8-15.6 0.8 0.6 0.8 4.3 0.8-6.9 0.8-3 0.8-4.9 0.8-4.1 0.8 5.1 0.8-2.3 0.8 9.2 0.8-1 0.8-8.6 0.8 7.8 0.8 14.6 0.8 5.4 0.8 1.8 0.8 9.2 0.8-1.9 0.8 10.7 0.8-18.8 0.8-11.5 0.8 3.7 0.8 9 0.8-19.7 0.8 17.5 0.8-4.4 0.8-11.8 0.8-0.9 0.8-3.5 0.8 3.8 0.8 5 0.8-8.1 0.8 14 0.8-3.8 0.8-11.2 0.8-0.2 0.8 0.5 0.8 1.8 0.8 9.9 0.8-2.3 0.8 9 0.8-9.8 0.8 9.2 0.8-4.7 0.8 3.7 0.8 8.3 0.8 6.8 0.8-15.2 0.8 4.9 0.8 3.3 0.8 12.2 0.8 0.2 0.8-15.3 0.8 4.1 0.8-11.5 0.8 0.1 0.8-6.2 0.8 6.9 0.8 6.6 0.8-13.8 0.8-2.8 0.8 1 0.8 0.4 0.8 6.7 0.8-6.2 0.8 8.9 0.8-10.6 0.8 15.2 0.8-8.6 0.8-0.5 0.8 2.9 0.8 4.4 0.8 0.4 0.8 2.1 0.8-0.6 0.8-7.3 0.8 9.2 0.8-7.9 0.8 3.5 0.8-0.8 0.8 5.4 0.8 3.3 0.8-0.9 0.8 3.4 0.8-9.8 0.8 5.7 0.8-5 0.8-3.2 0.8-0.3 0.8 0.6 0.8 7.3 0.8-2 0.8-3.2 0.8 2.7 0.8-5.6 0.8 1.8 0.8-2.2 0.8-2.7 0.8 3 0.8-5.6 0.8 1.6 0.8-3.2 0.8 1.4 0.8 0.2 0.8 7.5 0.8-3.3 0.8 5.8 0.8-3.2 0.8 1.1 0.8 0.4 0.8 0 0.8 2.8 0.8-0.8 0.8-5.1 0.8 5.1 0.8-9.5 0.8-2.1 0.8 0.9 0.8 6 0.8 1.7 0.8 0.1 0.8-8.4 0.8 6.6 0.8-6 0.8-2.9 0.8 7.8 0.8-16.7 0.8 9.7 0.8-7.7 0.8 9.5 0.8-16.4 0.8 2.3 0.8-1.3 0.8-6.8 0.8 4.2 0.8 5 0.8-9 0.8 11.3 0.8 15.3 0.8-18.9 0.8-1 0.8 0.2 0.8 23.5 0.8-1.2 0.8-13.3 0.8 9.5 0.8 1.2 0.8 9.6 0.8-22.2 0.8 10.3 0.8-3.9 0.8-8.1 0.8 9.7 0.8-21.6 0.8 3.2 0.8 10.1 0.8-5.7 0.8-6.1 0.8 8.1 0.8 1.6 0.8 2.7 0.8-13.3 0.8 13.1 0.8-11.3 0.8 10.6 0.8 4.1 0.8-11.5 0.8 7.1 0.8-11.6 0.8-0.7 0.8 27.7 0.8-19.3 0.8 16.5 0.8-13.1 0.8 19.9 0.8-25.4 0.8 11 0.8-4.8 0.8 21.3 0.8-3.3 0.8-1.4 0.8-15.6 0.8 15 0.8-0.3 0.8-4.5 0.8 13.2 0.8-21.8 0.8 10.9 0.8-3.3 0.8 5.5 0.8-2.5 0.8-9.4 0.8 5.1 0.8 0.9 0.8 8.3 0.8 1.9 0.8 2 0.8-1 0.8 0.7 0.8-1 0.8-10.3 0.8 1 0.8-10.8 0.8 9.2 0.8-11.5 0.8 5.8 0.8-6.4 0.8 0.5 0.8 3.4 0.8-5 0.8 1 0.8 1.5 0.8-6.3 0.8 0.4 0.8 4 0.8-3.4 0.8 1.4 0.8-5.3 0.8 4.3 0.8-10.8 0.8 5.9 0.8-2.7 0.8-5.2 0.8 7.3 0.8-0.7 0.8-7.7 0.8 5.9 0.8 4.2 0.8-6.6 0.8 3.4 0.8-2.9 0.8-4.4 0.8-0.9 0.8 0.8 0.8-0.5 0.8 0.5 0.8 5 0.8-2 0.8-3.8 0.8 10.1 0.8-7.2 0.8-2.7 0.8 3.7 0.8 4 0.8-8.2 0.8-1.1 0.8 8.7 0.8 0.5 0.8 4 0.8-1.7 0.8 4.5 0.8-9.1 0.8 5.5 0.8-0.2" fill="none" stroke="#ff0000" stroke-width="1.4" stroke-linejoin="round"/>
<path d="M165 596l0.8 1.4 0.8 1.6 0.8-0.3M203 584.2l0.8 1.9 0.8-3.4 0.8 5.2 0.8 6.1 0.8 2.1M215 601.3l0.8 10.2 0.8-5.9 0.8-2.9 0.8-5.2 0.8 4.7 0.8-9.6 0.8-1.8 0.8 0.2M233 594.1l0.8-4.1 0.8 2.9 0.8-1.3M255 592.2l0.8-1.3 0.8-3.6 0.8 1 0.8 0.6 0.8 8.5 0.8 1.2 0.8-4.2 0.8 3.6 0.8-19.5 0.8 21.5 0.8-30.2 0.8 19.6 0.8-11.9 0.8 18.7 0.8 0 0.8 3.5 0.8 1.7 0.8-1.6 0.8-22.3 0.8-2.9 0.8-1.9 0.8 28.9 0.8-7.1 0.8-9.1 0.8 2 0.8 9.5 0.8-0.5 0.8-19.1 0.8-10.7 0.8 6.7 0.8 4.7 0.8-15.9 0.8-2.3 0.8 12 0.8-5.2 0.8-3 0.8 21.1 0.8 2.6 0.8-9.7 0.8-11.4 0.8 12.4 0.8 2.8 0.8-12.7 0.8 19.4 0.8-3.6 0.8-2 0.8 0.7 0.8-22 0.8 5 0.8 5.2 0.8 3 0.8-0.8 0.8 2.3 0.8-3.1 0.8 0.5 0.8-0.7 0.8 16.5 0.8 3.3 0.8-14.7 0.8-6.4 0.8 6.5 0.8 15.5 0.8 2.9 0.8-17.9 0.8 10.6 0.8-16.9 0.8 6.4 0.8-16 0.8 0 0.8 10.1 0.8-13 0.8 8.3 0.8 11.7 0.8-3.9 0.8 6.6 0.8-1 0.8 1.1 0.8-10.6 0.8 9.2 0.8-3.1 0.8 6.3 0.8-3 0.8-14.2 0.8-4.1 0.8 14.1 0.8-0.1 0.8 3.5 0.8-0.3 0.8-2.1 0.8-0.6 0.8-10.3 0.8 5.4 0.8 3.2 0.8-6 0.8 5.4 0.8-2.6 0.8 6.4 0.8 1.4 0.8-10.2 0.8 5.8 0.8-3.8 0.8-1.8 0.8 5 0.8 4.1 0.8-10.7 0.8 1.3 0.8 0.6 0.8-5 0.8 7 0.8-0.3 0.8-3.4 0.8-0.4 0.8 1 0.8-8 0.8 9.8 0.8-6.6 0.8 1.7 0.8-2.9 0.8 4.5 0.8 2.7 0.8-6.1 0.8 2.2 0.8-0.8 0.8 4.4 0.8 0.6 0.8-6.5 0.8-1.1 0.8 5 0.8-0.1 0.8 3.6 0.8 0.1 0.8 1.3 0.8-2.7 0.8-1.2 0.8-5.8 0.8 9.4 0.8-9.2 0.8 3.2 0.8 6.9 0.8-9.8 0.8 10.5 0.8-2.5 0.8 2.8 0.8 6.2 0.8-6.3 0.8 2.8 0.8 5.4 0.8-3.7 0.8 3.9 0.8-4.5 0.8 3.9 0.8-6 0.8 2.8 0.8 1.7 0.8-6.9 0.8-0.4 0.8 6.8 0.8-6.3 0.8 0.9 0.8 1.4 0.8-5.6 0.8 8.9 0.8-12.9 0.8 3.8 0.8 6.1 0.8 1.1 0.8-12.4 0.8 3.8 0.8-1.5 0.8 6.2 0.8-3.4 0.8-0.4 0.8-2.7 0.8-2 0.8 1 0.8-0.7 0.8 7.2 0.8-9.4 0.8 7.3 0.8-1.3 0.8 3.5 0.8-4.5 0.8-2 0.8-0.7 0.8 2.2 0.8-6.3 0.8 7.3 0.8-4.6 0.8 4 0.8-1.3 0.8 1.1 0.8 6.7 0.8-11.1 0.8-2.5 0.8 5.7 0.8-9.2 0.8 8.2 0.8-5.2 0.8 10.1 0.8-6.6 0.8 7.4 0.8-7.2 0.8 5.7 0.8-5.8 0.8 4.1 0.8 3 0.8-9 0.8 3.1 0.8-0.2 0.8 7.5 0.8-8.3 0.8 6.1 0.8-2.9 0.8 7.7 0.8-6 0.8 7.3 0.8 2.4 0.8-6.6 0.8 9.6 0.8-1 0.8-2.9 0.8 1 0.8-0.7 0.8 5.4 0.8-1.5 0.8-5.2 0.8 5.6 0.8 0.6 0.8 2.6 0.8 2.3 0.8-1.7 0.8-6.2 0.8 0 0.8-3 0.8-0.6 0.8-1.8 0.8 9.6 0.8-11.3 0.8 2.8 0.8 10.2 0.8-5.1 0.8 0.4 0.8 1.4 0.8-10.6 0.8 7.8 0.8 3.1 0.8-5.1 0.8 8 0.8-12.4 0.8 0 0.8 4.2 0.8-7.9 0.8-0.6 0.8 2.7 0.8-2.6 0.8 3.5 0.8-3.4 0.8 5.4 0.8 3.6 0.8 2.8 0.8-10.2 0.8 0.2 0.8 7.4 0.8-8 0.8-1.9 0.8-4.8 0.8 8.2 0.8-1 0.8-5.8 0.8 8.9 0.8-1.7 0.8-7.9 0.8 6.1 0.8-0.6 0.8 0.3 0.8 1.9 0.8-6.9 0.8 8 0.8-3.5 0.8 3.7 0.8-6.2 0.8 2.6 0.8-1.1 0.8 1.9 0.8-9.1 0.8 8 0.8-4.5 0.8 3.3 0.8-0.4 0.8-1.2 0.8-7.9 0.8 4.5 0.8 0.7 0.8-2 0.8-3 0.8 1.8 0.8-4 0.8-0.5 0.8 3.4 0.8-0.6 0.8-0.6 0.8 1.5 0.8 1.9 0.8-0.7 0.8-5.9 0.8 0.4 0.8 1.7 0.8 1 0.8-3.6 0.8 1.1 0.8 3.4 0.8-1.6 0.8-4.3 0.8 3.3 0.8 1.4 0.8 0.2 0.8-6.4 0.8 1 0.8-1 0.8-8.7 0.8 8.7 0.8-4.5 0.8 7.3 0.8-14.1 0.8 5.3 0.8-6 0.8-6.7 0.8 12.2 0.8-10.3 0.8 11.1 0.8-1.1 0.8 1 0.8-9.4 0.8-11.6 0.8 20.1 0.8-3.2 0.8 7.6 0.8-2.6 0.8 0.5 0.8 4.5 0.8-9 0.8 0 0.8-0.6 0.8 7 0.8 6.9 0.8-7.7 0.8-4.2 0.8 13.7 0.8-3.6 0.8-18.5 0.8 4.4 0.8 11.1 0.8-11.3 0.8-2.7 0.8 4.5 0.8 5.6 0.8-12 0.8 3.6 0.8-5.2 0.8-11.3 0.8 8 0.8 0 0.8-10 0.8 11.1 0.8-11.8 0.8 8.7 0.8 11.6 0.8 0.4 0.8 12.8 0.8-6.7 0.8 5 0.8-1.3 0.8-5.2 0.8 8 0.8-18.7 0.8 3.9 0.8 11 0.8-0.1 0.8-3.8 0.8-4.7 0.8-2 0.8-15.2 0.8 4.5 0.8 15.6 0.8 4.6 0.8-7.4 0.8-12.6 0.8 10.5 0.8 9.1 0.8-10.2 0.8-8.2 0.8-15.2 0.8 5.3 0.8 22.3 0.8-6.2 0.8-5.4 0.8-1.4 0.8 5.6 0.8 7.5 0.8-7.3 0.8-0.6 0.8 0.2 0.8 11.6 0.8-9.2 0.8 3.2 0.8-1.6 0.8 2.1 0.8-4.6 0.8 5.4 0.8 9.4 0.8-14.3 0.8 3.1 0.8 3.6 0.8 12 0.8-11.7 0.8 15.2 0.8-16.9 0.8 18.2 0.8-0.2 0.8-7.4 0.8 3.1 0.8-10.5 0.8 11.9 0.8-13 0.8 16 0.8-11.5 0.8 13.8 0.8-6.5 0.8 1.4 0.8 3.3 0.8 14.2M621 586.4l0.8 13.4 0.8-23.6 0.8 0.5 0.8 3.2 0.8-14.3 0.8 20.1 0.8-15.8 0.8-16.4 0.8 5.9 0.8-14.8 0.8-1 0.8 15.5 0.8-4.5 0.8-3.7 0.8 8.2 0.8 0.8 0.8-5.7 0.8-11.9 0.8 5.1 0.8 0.1 0.8-5.1 0.8 12.7 0.8-15.9 0.8 8.3 0.8 4.1 0.8 8.5 0.8-14.2 0.8 2.7 0.8 3.2 0.8 0.2 0.8 6.6 0.8-0.1 0.8-7.3 0.8 10.2 0.8-13.6 0.8 12.7 0.8-8.4 0.8 5.9 0.8 3 0.8-12 0.8-2.4 0.8 9.2 0.8 0.3 0.8 5.4 0.8-5.1 0.8 3.3 0.8-5.3 0.8-1.8 0.8-0.9 0.8 8.3 0.8-7.2 0.8 0.7 0.8 2.4 0.8 8.9 0.8-7.6 0.8-3.1 0.8 1.4 0.8 9.6 0.8 3.3 0.8-15.3 0.8-3 0.8-3.9 0.8 13.1 0.8-13.6 0.8-10.7 0.8 3.2 0.8 9.2 0.8-24 0.8 12.6 0.8 16.7 0.8 1.6 0.8-30.6 0.8 19.7 0.8-21.7 0.8-4 0.8-1.3 0.8 15.2 0.8-19.4 0.8 4.7 0.8 20 0.8-19.6 0.8 14 0.8-9.5 0.8 8.6 0.8-8.6 0.8-1.6 0.8 1.5 0.8 20.4 0.8-11.5 0.8 12.6 0.8-14.5 0.8 13.9 0.8-5.2 0.8-1.9 0.8-7.5 0.8-9.2 0.8-1.4 0.8-1.1 0.8 3.8 0.8-6.2 0.8 0.4 0.8-2.1 0.8 24 0.8-1.6 0.8-19.8 0.8-0.9 0.8 3 0.8-1.6 0.8 5.3 0.8-6.3 0.8 0.4 0.8 1.9 0.8 12.1 0.8 29.9 0.8 2.9 0.8-9.1 0.8 5.4 0.8-0.2 0.8 13.1 0.8-13.5 0.8-5.2 0.8 9 0.8-4.6 0.8 14.7 0.8 3.5 0.8 0.1 0.8-8.7 0.8-1.8 0.8 15.5 0.8-8 0.8 27.5 0.8-2.4 0.8 2.9 0.8 9.3 0.8 0.3 0.8-13.4 0.8-5.3 0.8-21.9 0.8-23.4 0.8 23 0.8 23.5 0.8-15.1 0.8 2.4 0.8-9.8 0.8 4.3 0.8-21 0.8-7.5 0.8 11.7 0.8-29.1 0.8 5.4 0.8 19.5 0.8 2.8 0.8 0.2 0.8 0.5 0.8 23.9 0.8-8 0.8-14.9 0.8-14.4 0.8-11.3 0.8-5.7 0.8 18.5 0.8-0.9 0.8 34.8 0.8-1.8 0.8-3.8 0.8 11.8 0.8 8.4 0.8-12 0.8-33.5 0.8-19.7 0.8 6.2 0.8 26.1 0.8 25.1 0.8-0.9 0.8 16.9 0.8-18.7 0.8-16.4 0.8-2 0.8-20.9 0.8 13.3 0.8-10.2 0.8-4.2 0.8 12.4 0.8 19.9 0.8-7.4 0.8 0.9 0.8 4.9 0.8 14.1 0.8 2.2 0.8-5.1 0.8-1.5 0.8 1.7 0.8 0.4 0.8 1.4 0.8 2.9 0.8 0.4 0.8-0.2 0.8-2.9 0.8-4.1 0.8 9.2 0.8 2.7 0.8-8.2 0.8 3.2 0.8 0.7 0.8-3.1 0.8-20.3 0.8 4.1 0.8 16.8 0.8-7.8 0.8-8.3 0.8-0.8 0.8-11.6 0.8 6.3 0.8 34.5 0.8-7.6 0.8 8.8 0.8-25 0.8 6.3 0.8 25.3 0.8-11.6 0.8 12.3 0.8-0.9 0.8 7.7 0.8-23.3 0.8 20 0.8-2.3 0.8 6.2 0.8-2.5 0.8 9 0.8-5 0.8 0.8 0.8-17.6 0.8 2.6 0.8 7.6 0.8-8.2 0.8-6.9 0.8-0.5 0.8-0.3 0.8-0.9 0.8 1.6 0.8 6.9 0.8-16.6 0.8-7.5 0.8-2 0.8 0.2 0.8 8.2 0.8 3.6 0.8-11.1 0.8 13 0.8-9.8 0.8 11.8 0.8-14.1 0.8 2.1 0.8 12.8 0.8-12.9 0.8-0.2 0.8 2.6 0.8-12.1 0.8 3.6 0.8 3.1 0.8-5.8 0.8 11.7 0.8-6.5 0.8-2.4 0.8 3.9 0.8-1.7 0.8-5.1 0.8 6.6 0.8 0.3 0.8-8 0.8-3.5 0.8 1.5 0.8-1.4 0.8 3.1 0.8 4.5 0.8-1.8 0.8-0.9 0.8 1.6 0.8-2.5 0.8 4.6 0.8-0.5 0.8-2.2 0.8 6.5 0.8-2.6 0.8-4.2 0.8-1.7 0.8 3.7 0.8-6 0.8 9.1 0.8-5.1 0.8 0.7 0.8 1.8 0.8 5.5 0.8-3.5 0.8 3.2 0.8-8.2 0.8 1.4 0.8 6.6 0.8-7.2 0.8 6.4 0.8 2 0.8-2.6 0.8-4.6 0.8 1.3 0.8-0.6 0.8-2.8 0.8 3.6 0.8 5.2 0.8-6.4 0.8-4.4 0.8 1.4 0.8 2.5 0.8-6.8 0.8 6.4 0.8-2 0.8-0.2 0.8 4.1 0.8-1.6 0.8 3.7 0.8 2.7 0.8-2.7 0.8-5.1 0.8 0.4 0.8-7.3 0.8 3.6 0.8 5 0.8-3.2 0.8 3.8 0.8-3.2 0.8-3.7 0.8-0.4 0.8-0.2 0.8 1 0.8-1 0.8 10.5 0.8-1.9 0.8-4.3 0.8 10.6 0.8-8.1 0.8 3.6 0.8 10.6 0.8-5.9 0.8-1.8 0.8 1.3 0.8 1.6 0.8 3 0.8 12.5 0.8 8.1 0.8-13.1 0.8 8.5 0.8 6.9 0.8-4.6 0.8-11.9 0.8 2.1 0.8 2.4 0.8 4.3 0.8 11.3 0.8-8.7 0.8-0.8 0.8 2.9 0.8-14.1 0.8 10 0.8 9.4 0.8-2.3 0.8-14.7 0.8-3.1 0.8 9.3 0.8-18.9 0.8 10.4 0.8 7 0.8-7.5 0.8 9.3 0.8-6.2 0.8-13.5 0.8 12.1 0.8-0.2 0.8-0.2 0.8-15.3 0.8 8.3 0.8-19.5 0.8 5.5 0.8-5.8 0.8-3.8 0.8 4.9 0.8-2.6 0.8-10 0.8 5.3 0.8 4.2 0.8-6.3 0.8 4.3 0.8-3.2 0.8 12 0.8-7.9 0.8-3.7 0.8-0.1 0.8-6.3 0.8 0.6 0.8 15.7 0.8 10.9 0.8 2.2 0.8 10.4 0.8 12.8 0.8 2.6 0.8-0.4 0.8-11 0.8-12.9 0.8-5.7 0.8-0.2 0.8 2.7 0.8 7.1 0.8-4.4 0.8 8.3 0.8-17.9 0.8 5.2 0.8 9.2 0.8 0.6 0.8-8 0.8 5.9 0.8-5.9 0.8-8.6 0.8 7.6 0.8 3.2 0.8-1.8 0.8-5.6 0.8-2.6 0.8-4.6 0.8 7.3 0.8 14.6 0.8 0.9 0.8-14.2 0.8 8.4 0.8-8.1 0.8 18.4 0.8 4.5 0.8 2.7 0.8 2 0.8 0.4 0.8-3.8 0.8-13.1 0.8 4.7 0.8-10.1 0.8-17.1 0.8-2.3 0.8 8.3 0.8-7.6 0.8 19.5 0.8-1 0.8 1.4 0.8-4 0.8 0.9 0.8 0.7 0.8-8.8 0.8-3.2 0.8-5.1 0.8 5.2 0.8 0.2 0.8 1.2 0.8-6 0.8 7.2 0.8 4.7 0.8-5.1 0.8 2.5 0.8 6.5 0.8-9.3 0.8 4.4 0.8 5.1 0.8-2.7 0.8 8.8 0.8-3.2 0.8-3.3 0.8-3.8 0.8 0.2 0.8-2.6 0.8 6.6 0.8-3.9 0.8-1.6 0.8-5.5 0.8-3.2 0.8 6.6 0.8-11 0.8 1.9 0.8 1 0.8 16 0.8-21 0.8 9.7 0.8 7.9 0.8-8.2 0.8-11 0.8 19.4 0.8-2 0.8 12.2 0.8-12.9 0.8 15.3 0.8-8.9 0.8-2.9 0.8-2.2 0.8 11.8 0.8-2.7 0.8 1.3 0.8-12.6 0.8-3.7 0.8-4.6 0.8 12.1 0.8 1.9 0.8-8.8 0.8 7.4 0.8-1.6 0.8-3.3 0.8 2.8 0.8 9.3 0.8-2.3 0.8-23 0.8 14.3 0.8 18.8 0.8-16.8 0.8-1 0.8-4.3 0.8-8.7 0.8 15.7 0.8 10.9 0.8-32 0.8-5.8 0.8 32.3 0.8-15.8 0.8 22.9 0.8-19.3 0.8-12.3 0.8-2.9 0.8 24 0.8-16.6 0.8-4.6 0.8 18.8 0.8-7.2 0.8 6.4 0.8-5 0.8 12.5 0.8-0.2 0.8-25.7 0.8 14.2 0.8-4.2 0.8-27.2 0.8 2.7 0.8-5.3 0.8 2.3 0.8-8.1 0.8 34.7 0.8-11.5 0.8-16.2 0.8-6 0.8 4.1 0.8 15.8 0.8 9.7 0.8-6.4 0.8 11.7 0.8 1.2 0.8 2.2 0.8-8.7 0.8-8.4 0.8 1.6 0.8 17.4 0.8-3.5 0.8-9.4 0.8 4 0.8 10.8 0.8 4.6 0.8-6.7 0.8 3.9 0.8-6.3 0.8 12.1 0.8-15.7 0.8 2.3 0.8 13.7 0.8-6 0.8-17.2 0.8 13.8 0.8 6.7 0.8 0.9 0.8-13.2 0.8-2.4 0.8 19 0.8-0.7 0.8-10.4 0.8 11.6 0.8 2.4 0.8-7.8 0.8 6.5 0.8 0.2 0.8-17.1 0.8 13.7 0.8-9.4 0.8-9.4 0.8 1.9 0.8 8.2 0.8-4.4 0.8-6.3 0.8-2.5 0.8-4 0.8 15.4 0.8-0.9 0.8-11.3 0.8 6.7 0.8-5.4 0.8-0.1 0.8 1.4 0.8-10.4 0.8 0.3 0.8-3.7 0.8-11.1 0.8 5.1 0.8-6 0.8 8.2 0.8-12.8 0.8-2.8 0.8 1.6 0.8 7.8 0.8-5.5 0.8 5.1 0.8 5.2 0.8-5.3 0.8-1 0.8 2.8 0.8 4.8 0.8 2.3 0.8-8.1 0.8 12 0.8-0.7 0.8-5.6 0.8-5.1 0.8 7.3 0.8-1.1 0.8 0.5 0.8-8.7 0.8 2 0.8 1.7 0.8-0.8 0.8 4.3 0.8-0.6 0.8 5.9" fill="none" stroke="#00cc2e" stroke-width="1.4" stroke-linejoin="round"/>
<path d="M195 563.9l0.8-4.1 0.8 2 0.8 6.2M200 567.9l0.8 0.8 0.8 3.9 0.8 2.9 0.8 4.3 0.8-3.1 0.8-10.6 0.8 7.2 0.8 0.9 0.8 1.1 0.8 1.8 0.8-4.5 0.8 5.2 0.8-1 0.8-3.5 0.8-5.3M220 578.3l0.8-1.3 0.8 2.3 0.8 14.3 0.8-2 0.8-0.9 0.8-5.9 0.8 18.9 0.8-12.3 0.8 16 0.8 3.2 0.8-8.9 0.8-1 0.8 9.7 0.8-1.8 0.8-1.5 0.8-4.4 0.8 7.8 0.8 0.4 0.8-2.3 0.8-10.5 0.8 6.6 0.8-1.1 0.8 0.7 0.8-0.9 0.8-2.9 0.8-10.4 0.8 8.1 0.8-2.3 0.8-8.6 0.8-3.4 0.8 6.8 0.8-21.2 0.8 2.8 0.8 18 0.8 0.2 0.8-7.7 0.8 6.1 0.8 5.9 0.8-2.1 0.8-9.5 0.8-3.7 0.8-0.1 0.8 17.7 0.8 0.3 0.8-12.2 0.8 15.2 0.8-1.9 0.8-1.9 0.8-0.4 0.8 0 0.8 5.5 0.8 0.9 0.8-16.4 0.8 17.2 0.8-1.5 0.8-12.3 0.8 0.8 0.8-7.5 0.8 7.1 0.8-7 0.8 3.1 0.8-3.2 0.8-3.7 0.8 18.7 0.8-0.6 0.8-2.6 0.8 9.8 0.8 0.5 0.8-6.4 0.8 5 0.8-2.3 0.8 1.2 0.8-2.7 0.8-0.5 0.8-3.8 0.8 0.1 0.8-1.4 0.8-8.5 0.8 8.7 0.8-1.1 0.8 0.5 0.8-13.4 0.8 4 0.8 10.2 0.8 0.4 0.8-5.7 0.8-5.9 0.8 5.8 0.8 2.2 0.8-2.7 0.8-2.8 0.8 10.5 0.8-8.6 0.8-3.5 0.8 10.2 0.8-0.7 0.8-3.8 0.8 3.8 0.8-9.8 0.8 1 0.8 7.2 0.8-7.2 0.8 1.4 0.8 0.6 0.8-5.9 0.8 2.8 0.8 4.9 0.8-0.2 0.8-0.1 0.8 0.6 0.8-1.5 0.8-0.8 0.8 1.4 0.8-4.2 0.8-0.5 0.8 6.7 0.8-6.2 0.8-4.9 0.8-1.6 0.8 9.1 0.8 0.1 0.8-4 0.8 3.4 0.8 0.4 0.8-1.8 0.8-1 0.8 10.2 0.8 0 0.8-2.9 0.8-0.6 0.8-5.9 0.8 1.5 0.8-6.7 0.8 6.3M372 597.6l0.8-7.7 0.8 7.4 0.8-6.7 0.8-2.5 0.8 7.3 0.8-12.1 0.8 1.9 0.8 7.1 0.8-2.6 0.8 0.6 0.8 5 0.8-0.6 0.8-5.6 0.8-0.2 0.8 0.1 0.8 0.3 0.8 5.8 0.8 3.1 0.8-5.9 0.8 2.8 0.8-0.1 0.8-2.5 0.8 3.9 0.8 1.4 0.8-7.2 0.8 5.3 0.8-5.4 0.8-7.3 0.8 4.9 0.8-3.8 0.8 0.8 0.8 2.3 0.8-10.4 0.8-3.5 0.8 8.5 0.8-0.8 0.8-2.1 0.8 0.2 0.8-7.3 0.8 7.8 0.8 1.8 0.8-0.5 0.8 1.5 0.8-0.8 0.8-4.2 0.8 4.9 0.8-0.4 0.8-0.5 0.8 2.7 0.8-6 0.8-0.9 0.8 1.5 0.8 6.2 0.8-6 0.8 2.5 0.8-0.7 0.8 4.2 0.8-6.7 0.8 1.3 0.8 2.7 0.8-5.1 0.8-0.2 0.8 1.3 0.8 3.1 0.8-0.2 0.8 7.5 0.8 1 0.8 1.3 0.8 3.2 0.8-4.5 0.8-6.7 0.8 9.1 0.8-4.5 0.8-4.7 0.8 7.2 0.8 1.6 0.8-3 0.8 0.3 0.8 8.2 0.8-1.4 0.8 8.1 0.8 0.5 0.8-12.5 0.8 1.9 0.8-1.6 0.8 12.1 0.8-14.5 0.8 7 0.8-2 0.8-1.9 0.8-1.7 0.8 8 0.8-1.3 0.8 3.5 0.8 2.9 0.8-1.7 0.8-5.9 0.8 4.1 0.8-11.6 0.8 7.4 0.8-4.7 0.8 1.8 0.8-4.2 0.8-3.6 0.8 1.1 0.8 5.8 0.8-6.2 0.8-0.7 0.8-4.3 0.8-2.3 0.8 8.6 0.8-8 0.8 7.3 0.8 1.3 0.8-0.6 0.8-0.4 0.8-3.5 0.8 2.1 0.8-5.6 0.8 0.6 0.8-2.1 0.8-2 0.8 2.5 0.8 6.6 0.8-6.5 0.8-5.5 0.8 9.6 0.8-1.4 0.8 3.1 0.8 1 0.8-4.2 0.8-7.5 0.8 5.6 0.8 3.9 0.8 1.4 0.8-4.6 0.8 0.6 0.8 1.3 0.8 1.2 0.8-7.7 0.8-0.1 0.8-0.8 0.8-7.3 0.8-2.3 0.8-0.3 0.8 0.3 0.8 4.3 0.8-1 0.8-0.5 0.8-8.9 0.8-3.5 0.8 1.5 0.8 10.4 0.8 0.7 0.8-6.9 0.8 8 0.8 4.1 0.8 3.6 0.8 1.6 0.8 5.3 0.8-5.2 0.8-12 0.8 10.8 0.8-5 0.8-1.6 0.8 0.3 0.8-1.7 0.8 8.5 0.8-4.8 0.8 0.3 0.8 2.3 0.8-14.8 0.8 6.7 0.8 0.5 0.8-4.4 0.8 4.4 0.8 2 0.8-9.8 0.8 4 0.8 5.5 0.8-0.5 0.8 4.6 0.8 0.7 0.8-6.4 0.8 9.3 0.8-2.3 0.8 1.2 0.8-1 0.8-9.1 0.8 9.5 0.8-11.4 0.8-3 0.8-9.3 0.8-4.5M552 543.3l0.8 19.6 0.8-2.9 0.8 15.4 0.8-9.6 0.8-8.5 0.8 27.6 0.8 1 0.8-17.7 0.8 0.6 0.8 3.7 0.8-0.4 0.8 6.7 0.8-3.1 0.8 3.2 0.8-4 0.8-1.6 0.8 8.8 0.8-2.2 0.8-4.9 0.8-6.8 0.8 11.7 0.8 4.5 0.8 2.4 0.8 0.7 0.8 1.9 0.8-1.7 0.8 1.2 0.8-1.3 0.8-8.7 0.8 9.5 0.8 3 0.8-14.4 0.8 1.7 0.8 12.8 0.8-2.1 0.8-5.5 0.8 6.3 0.8-9.8 0.8 14.2 0.8 2.3 0.8-11.2M624 577.5l0.8 8.6 0.8-18.7 0.8 3.3 0.8 6.4 0.8-15.5 0.8 16.5 0.8 2 0.8 5.2 0.8-7 0.8-6.3 0.8-1.8 0.8 11.4 0.8-1.4 0.8-1.6 0.8-7.4 0.8 8.7 0.8 0.1 0.8-21.5 0.8-1.3 0.8-0.2M792.8 595.2l0.8 0.5 0.8-3.9 0.8 6.2 0.8-7.5 0.8-5.9 0.8 19.7 0.8-23.1 0.8 7 0.8-0.8 0.8 14.5 0.8-11.5 0.8 19.1 0.8-14.6 0.8 21.4 0.8 1 0.8 3.6 0.8 0.6 0.8-13.1 0.8 5.8 0.8-6.6 0.8-2.6 0.8 6.2 0.8-9.4 0.8 8.8 0.8-7.1 0.8 0.3 0.8-0.7 0.8 3.6 0.8-13.5 0.8 2.8 0.8 10.7 0.8-8.8 0.8 7.6 0.8-2.7 0.8-1.7 0.8 1 0.8-3.5 0.8-8.8 0.8 7.5 0.8 4.2 0.8-1.2 0.8-3.1 0.8-2.4 0.8-9.5 0.8 2.3 0.8 1.8 0.8 4 0.8-1 0.8-4.4 0.8 4.2 0.8 1.8 0.8-9.3 0.8 9.3 0.8 3.1 0.8-2.9 0.8-3.7 0.8 0.7 0.8-3.6 0.8 6M1000.8 594.8l0.8-0.4 0.8-0.9 0.8-4.1 0.8 3.3 0.8 0.6 0.8 0.1 0.8-8.3 0.8 4.7 0.8-7.3 0.8-1.2 0.8 5.2 0.8-1.1 0.8 1.6 0.8-2.9 0.8-3.7 0.8-3.5 0.8-3.1 0.8-1.9 0.8-3.3 0.8 4.5 0.8-5.8 0.8 2.3 0.8-1.1 0.8 3.7 0.8-2.6 0.8 6.8 0.8-2.5 0.8 1.1 0.8-6.2 0.8 11.4 0.8 1.3 0.8-1.6 0.8-2.6 0.8-7.8 0.8 3.6 0.8-1.9 0.8-0.1 0.8-6.1 0.8-0.6 0.8 3.9 0.8 7.8 0.8 1.2 0.8-2.2 0.8-3.6 0.8-2.4 0.8 2.6 0.8 7 0.8 7.7 0.8-2.5 0.8-6.3 0.8 7 0.8-2.8 0.8-14.7 0.8 11 0.8 0.1 0.8-14 0.8 5.4 0.8-2.3 0.8 3.9 0.8-15.2 0.8 16.3 0.8-15.5 0.8 5.8 0.8-18.7 0.8 9.4 0.8 11 0.8 4.5 0.8 3.1 0.8-18.2 0.8 18.3 0.8 5.4 0.8-16.4 0.8-14 0.8 13 0.8 11.4 0.8-9.4 0.8 9.7 0.8-2.2 0.8 5.5 0.8 6.1 0.8 6.5 0.8-10.5 0.8-3.8 0.8 18.9 0.8-5.4 0.8-9.9 0.8 6 0.8 2.7 0.8-10.8 0.8 9.6 0.8-11.1 0.8 18.3 0.8-5.5 0.8-11.3 0.8-8.2 0.8 7.8 0.8-7.5 0.8 22.4 0.8-18.9 0.8 13.8 0.8-15 0.8 14.7 0.8 5.5 0.8-14.4 0.8 11.6 0.8-13.2 0.8 14.6 0.8-15.1 0.8 5.6 0.8 7 0.8-0.8 0.8-1.9 0.8-3.4 0.8 0.7 0.8-3.3 0.8-2.6 0.8 4.1 0.8-1.7 0.8-1.4 0.8-5.8" fill="none" stroke="#0000ff" stroke-width="1.4" stroke-linejoin="round"/>
<path d="M158 601.3l0.8-0.3 0.8 6.1M165 606.2l0.8 0.5 0.8 4.2 0.8-1.7 0.8-1.8 0.8 2.9 0.8-5M202 594.1l0.8-1.1 0.8 0.3 0.8 1.4 0.8 1 0.8-1 0.8 3.4 0.8-5.3M258.4 592.5l0.8-14.2 0.8 6.2 0.8 5.6 0.8 3.1 0.8-18.8 0.8 4.3 0.8 7.7 0.8 1.5 0.8 6.6 0.8-9.7 0.8 14.7 0.8-7.3 0.8 7.1 0.8-14 0.8-0.8 0.8-6.5 0.8 20.1 0.8-15.2 0.8 1.1 0.8 6.2 0.8 4.4 0.8-10.6 0.8 8.8 0.8-12.6 0.8 9.4 0.8-7.3 0.8-2.4 0.8 9.4 0.8-4.6 0.8-1.8 0.8 2.6 0.8 2.1 0.8-0.1 0.8-2.3 0.8-14.9 0.8 0 0.8 11.8 0.8-8.8 0.8 7.8 0.8-6.5 0.8 7.5 0.8 5.3 0.8-13 0.8 10.8 0.8-2.4 0.8-9.3 0.8-2.9 0.8 4.5 0.8 6.2 0.8-7.9 0.8 7.4 0.8-8.4 0.8 3.9 0.8-3.7 0.8-0.3 0.8 0.4 0.8-0.8 0.8 1.1 0.8 4.9 0.8 4.3 0.8-4.3 0.8 10 0.8-3.2 0.8-4.5 0.8 4.6 0.8-4.1 0.8-5.1 0.8-2.8 0.8 5.6 0.8-2.6 0.8 2.5 0.8-1.3 0.8 3.4 0.8-0.6 0.8-2.8 0.8 5.5 0.8 2.5 0.8-2.2 0.8-1.3 0.8-3.7 0.8 9.7 0.8-2.1 0.8-6 0.8 6.2 0.8 0.9 0.8-1 0.8-2.2 0.8 3.6 0.8-2.4 0.8 1.2 0.8-0.5 0.8-0.3 0.8-4.6 0.8 0.8 0.8-2.3 0.8-4.9 0.8 1.7 0.8 1.7 0.8-0.2 0.8-1.1 0.8-4.4 0.8 1.5 0.8 5.7 0.8 1 0.8 0 0.8-6.1 0.8-0.9 0.8 0.7 0.8 1.8 0.8-4.8 0.8 3.1 0.8-1.4 0.8-2.9 0.8 6.3 0.8 0.8 0.8-2.3 0.8 0 0.8-0.3 0.8-0.9 0.8-0.4 0.8 2.7 0.8 2.1 0.8-1.5 0.8 0.8 0.8-0.9 0.8 1.2 0.8-6.8 0.8 4.7 0.8-1.7 0.8-5.1 0.8 4.2 0.8 1 0.8-0.5 0.8 0.7 0.8-1 0.8 4.6 0.8 2.4 0.8-2.7 0.8-0.7 0.8 2.8 0.8 0.4 0.8 2.5 0.8-2.7 0.8 1.2 0.8-2.3 0.8 4.4 0.8-3.9 0.8 2.7 0.8 4.1 0.8-0.6 0.8-6.1 0.8 7.3 0.8-6.3 0.8 9.4 0.8-2.2 0.8-0.6 0.8-5.2 0.8 0.5 0.8 4.9 0.8-1.7 0.8-3.4 0.8-7 0.8 4.9 0.8 2.2 0.8 1.7 0.8-3.5 0.8 2.3 0.8-7.1 0.8 5.1 0.8 3.7 0.8-7 0.8 2.4 0.8-1 0.8-4.6 0.8 2.9 0.8-1.5 0.8 1.2 0.8 2.6 0.8-2.7 0.8 0.2 0.8 1.1 0.8-1.6 0.8 3.2 0.8-2 0.8 1 0.8-3.6 0.8-2.8 0.8-0.3 0.8 4 0.8-1.3 0.8 1.6 0.8-1.6 0.8 3.1 0.8-0.6 0.8 0.5 0.8 2.9 0.8 0.6 0.8 1.1 0.8-1.5 0.8-0.1 0.8 0.6 0.8-4.1 0.8 1.3 0.8 3 0.8 0.8 0.8-6.1 0.8-3.4 0.8 6.5 0.8-0.9 0.8 2.9 0.8-7.5 0.8 1.1 0.8 3.6 0.8 2.8 0.8-3.6 0.8 6.2 0.8-2.1 0.8 6.3 0.8-2.4 0.8 4.2 0.8 6.4 0.8-5.6 0.8-0.8 0.8 7.3 0.8-7.4 0.8 3.6 0.8 3.4 0.8 2.1 0.8-11 0.8 10.2 0.8-11 0.8-0.3 0.8 2.8 0.8-6.9 0.8 8.8 0.8-6.8 0.8 10.9 0.8-7.7 0.8 8.4 0.8-1 0.8 0.9 0.8 0.1 0.8 1.5 0.8 1.7 0.8-0.2 0.8-2.6 0.8-7.1 0.8 4.7 0.8-11.3 0.8 7.4 0.8-9.4 0.8 0.8 0.8 4.5 0.8-2.8 0.8 6.4 0.8 1 0.8-4.5 0.8 2.6 0.8-2 0.8 8 0.8-8.3 0.8-4.9 0.8-0.3 0.8-4.4 0.8 2.6 0.8 0.8 0.8 8.3 0.8-6.8 0.8-4.3 0.8 9.6 0.8 0.5 0.8-2.5 0.8-7.7 0.8 3.4 0.8 3.6 0.8-9.3 0.8 2 0.8 2.8 0.8-2.6 0.8 2.8 0.8 1.9 0.8 1.7 0.8-0.6 0.8-11.7 0.8 4.6 0.8-5.3 0.8 1.7 0.8 5.8 0.8-8.3 0.8 1 0.8 2.6 0.8 7.9 0.8-4.6 0.8 0.9 0.8-6.8 0.8 5.1 0.8 0.3 0.8-1 0.8-0.5 0.8 0.6 0.8-6.3 0.8-0.5 0.8 5.4 0.8-1 0.8-5 0.8 0.4 0.8-2.6 0.8 1.3 0.8-3.9 0.8 5.7 0.8-3.8 0.8 6.7 0.8 0.2 0.8-9.5 0.8 1.5 0.8 4.8 0.8 2.1 0.8-6.2 0.8 1.1 0.8-5.7 0.8-17.3 0.8 18.7 0.8-16.2 0.8 0.6 0.8 0.5 0.8 11.2 0.8-6.6 0.8 1.3 0.8 9.6 0.8-6.3 0.8-4.1 0.8 4.9 0.8 2 0.8-6 0.8 2.6 0.8 0.5 0.8-1.8 0.8-4.8 0.8 1.8 0.8 2.5 0.8-5.9 0.8 6.4 0.8-2.9 0.8 2.7 0.8-2.8 0.8-1.4 0.8 0.3 0.8-3.1 0.8 5.8 0.8 1.2 0.8-5.8 0.8-2.4 0.8 4.4 0.8-2 0.8 1.7 0.8 1.5 0.8 0.5 0.8-0.4 0.8-3.8 0.8-8.9 0.8 5 0.8 5.4 0.8 2.6 0.8 5.2 0.8-4.6 0.8 4.4 0.8-2.4 0.8 8.5 0.8-7 0.8 5 0.8 7 0.8 2.9 0.8-0.2 0.8-7.3 0.8 9 0.8-6.2 0.8 1.3 0.8 0.4 0.8-9.2 0.8-0.1 0.8 6.2 0.8-0.6 0.8-5.1 0.8 0.5 0.8-4.1 0.8 6.7 0.8-1.9 0.8-4.8 0.8 0.3 0.8-0.5 0.8 4.3 0.8-4 0.8-1.3 0.8-1.4 0.8 5 0.8 1.3 0.8 0.1 0.8-1.6 0.8 4.8 0.8-1.4 0.8-1.4 0.8 2.7 0.8-2 0.8-3.4 0.8 7.2 0.8-5.1 0.8 3.9 0.8-1.6 0.8 4.9 0.8 4.6 0.8-4.4 0.8 5.5 0.8-2.9 0.8 2.9M624 567.1l0.8 0.7 0.8 1.4 0.8 6.3 0.8-16.7 0.8 13.5 0.8 2.6 0.8-1.3 0.8-0.7 0.8-11.4 0.8 2 0.8 9.3 0.8-8.5 0.8 8.5 0.8 1.8 0.8-3.6 0.8-3.8 0.8 0.2 0.8 4.9 0.8-10.1 0.8-1.1 0.8-3.9 0.8 14.7 0.8-12.8 0.8-1.3 0.8 9.7 0.8-7 0.8 2.5 0.8 4.6 0.8 4.7 0.8-2.5 0.8-4.1 0.8 6.5 0.8-5.2 0.8 2.7 0.8-4.6 0.8-2.8 0.8 4.4 0.8-1.5 0.8-5.4 0.8 3.9 0.8 0.1 0.8-2.8 0.8 4.3 0.8 5.1 0.8-7.9 0.8 3.1 0.8 4.7 0.8-5.6 0.8-6.3 0.8 2.6 0.8 3.6 0.8-7.6 0.8 9.8 0.8-4.2 0.8 1.8 0.8-0.3 0.8-4.1 0.8-12.3 0.8 6.7 0.8-0.5 0.8-10.3 0.8 12.9 0.8-1.8 0.8-7 0.8 0.3 0.8 3 0.8-9.3 0.8 0 0.8 6.5 0.8-1.4 0.8-2.4 0.8 2.4 0.8 12.5 0.8 0.6 0.8 2.8 0.8-7.6 0.8-14.5 0.8 6.8 0.8 0.8 0.8-1.6 0.8 8.4 0.8-11.5 0.8 8.2 0.8-9.7 0.8-0.7 0.8 16.4 0.8-12 0.8 12.4 0.8-1.7 0.8-6.3 0.8-2.5 0.8-3.7 0.8 5.3 0.8-2.4 0.8 2.3 0.8-1 0.8-6.7 0.8 12.7 0.8-8.2 0.8 16.2 0.8 1.4 0.8-6.4 0.8-16.2 0.8-3.9 0.8 12.6 0.8 4.4 0.8-6.6 0.8-1.4 0.8 9.8 0.8-8.1 0.8 7.1 0.8-11 0.8 13.2 0.8-0.6 0.8-8.9 0.8 17.5 0.8 2.8 0.8 1.2 0.8 0.6 0.8 7.9M792.8 605.4l0.8 4.1 0.8 0.5 0.8-1.2 0.8 1.6 0.8-3.2 0.8 9.3 0.8-9.3 0.8-0.8 0.8 14.4 0.8-7.3 0.8 0.8 0.8-2.8 0.8 9.9 0.8 2.3 0.8-21.6 0.8 10.2 0.8 4 0.8 10 0.8-25.5 0.8 18.3 0.8-14.8 0.8 14.5 0.8-17.8 0.8 6.6 0.8-3.9 0.8-7.5 0.8-3.9 0.8 0.7 0.8 13.6 0.8 0.3 0.8-6.4 0.8-13.9 0.8 3.8 0.8-3.6 0.8-5.6 0.8 2.3 0.8 2.7 0.8 1.5 0.8 7.9 0.8 0.6 0.8-0.1 0.8 3.5 0.8-1.8 0.8-7.8 0.8 4.8 0.8-3.3 0.8 7.9 0.8-6.9 0.8 2.4 0.8 2.3 0.8-0.1 0.8-0.3 0.8-6.7 0.8 6 0.8-1.3 0.8-3.5 0.8 0.1 0.8-0.3 0.8-3.7 0.8-3.1 0.8-6.6 0.8 4.5 0.8-7.6 0.8 1.9 0.8 6.4 0.8 1.5 0.8-3.2 0.8 2.5 0.8-2 0.8 6.2 0.8-3.7 0.8 6.3 0.8 1.2 0.8 2.9 0.8-8 0.8 3.8 0.8-3.7 0.8-0.1 0.8-3 0.8-0.5 0.8 4.5 0.8-2 0.8 2 0.8-6.6 0.8 8.7 0.8-5.7 0.8 4.5 0.8 0.5 0.8-1.3 0.8-3.8 0.8 3.4 0.8 4.4 0.8-5 0.8 3.6 0.8-1.8 0.8-4.2 0.8-0.6 0.8-4.8 0.8 8 0.8-3.1 0.8 5.3 0.8-8.1 0.8 7 0.8 1.6 0.8 0.7 0.8-0.9 0.8-0.1 0.8-7.2 0.8 0.9 0.8 1.6 0.8-3.1 0.8 5.6 0.8 1.1 0.8 0.8 0.8-5.4 0.8 3.4 0.8 4 0.8-5.6 0.8 1.3 0.8 4.4 0.8 2.4 0.8 1.3 0.8-3.2 0.8 6.7 0.8-0.7 0.8-5.8 0.8 2.3 0.8 5.9 0.8-1.7 0.8 7.8 0.8-6.3 0.8 10.4 0.8-11.1 0.8 3.5 0.8 8.5 0.8-8.5 0.8 5.4 0.8 2.5 0.8 1.9 0.8-5.2 0.8 3.5 0.8 2.6 0.8 0.3 0.8-9.5 0.8 8.7 0.8-4 0.8 3.5 0.8 0.3 0.8-8.7 0.8-0.4 0.8 4 0.8-6.6 0.8-6.4 0.8 0.6 0.8-5.4 0.8-3.1 0.8 5.5 0.8-10.6 0.8-3.3 0.8 5.6 0.8-4.2 0.8 7.7 0.8-1.1 0.8 0.5 0.8-2.4 0.8-2.6 0.8-8.2 0.8 8.5 0.8-0.1 0.8-8.5 0.8 11.2 0.8-14.4 0.8 7.2 0.8 2.7 0.8-7 0.8-2.5 0.8-1 0.8-11.2 0.8 0.9 0.8 6.5 0.8 4 0.8-6.5 0.8 14.5 0.8 6.9 0.8-9.3 0.8 15.9 0.8 12.4 0.8-8.8 0.8 4 0.8 3.6 0.8-2.9 0.8-6 0.8 0.7 0.8-1.2 0.8-10 0.8 6.2 0.8-4.7 0.8-17.2 0.8 14.2 0.8-10.6 0.8 15.8 0.8-8.6 0.8-6 0.8 16.9 0.8-5.2 0.8-12.8 0.8 12.5 0.8-2.4 0.8-2.7 0.8 3.7 0.8-5.7 0.8 13.6 0.8-14.8 0.8 10.5 0.8 5 0.8-0.6 0.8 6.2 0.8 0.4 0.8-16.4 0.8 10.9 0.8-9.4 0.8-5.1 0.8 24.3 0.8-17.5 0.8-0.2 0.8-2.9 0.8 11.2 0.8-7.6 0.8 2.2 0.8-2.6 0.8-5.8 0.8 1.5 0.8 3.3 0.8 1.5 0.8-0.5 0.8-1.8 0.8 1.8 0.8-6.4 0.8 3.4 0.8-2.8 0.8-6.3 0.8 3.9 0.8 4.2 0.8 5.9 0.8-3.2 0.8 5.2 0.8 1 0.8-4.2 0.8 4.8 0.8 2.5 0.8 2.9 0.8 3.8 0.8 1.1 0.8-2 0.8-2.6 0.8 3.5 0.8-1.8 0.8-10.4 0.8 2.8 0.8-3.3 0.8 2.5 0.8 1.7 0.8 4.5 0.8-2.4 0.8-4 0.8-3.9 0.8 2.6 0.8 1.3 0.8-3 0.8-0.3 0.8-4.4 0.8 1 0.8 6.4 0.8-8.4 0.8 9.3 0.8-8 0.8 2.9 0.8 3.5 0.8-1.9 0.8 4.2 0.8 1.1 0.8-0.7 0.8-8.9 0.8 0.6 0.8-0.6 0.8 6.2 0.8-6.4 0.8 8.5 0.8 0.5 0.8-1.5 0.8-9.1 0.8 0.9 0.8 6.1 0.8 0.1 0.8 0.5 0.8-1.4 0.8-3.1 0.8 0.1 0.8 2.9 0.8-11.3 0.8-1 0.8 16.6 0.8-13.2 0.8-5.8 0.8-7.4 0.8 1 0.8 6.6 0.8 0.5 0.8 4.9 0.8 6.9 0.8 10.9 0.8-16.8 0.8 9.3 0.8-5.1 0.8-9.9 0.8 2.8 0.8 2.3 0.8-3.5 0.8 10.8 0.8-9.7 0.8 3.5 0.8-3.8 0.8-3.6 0.8 3.5 0.8 1.8 0.8-13.8 0.8 8.3 0.8 2.9 0.8-14.3 0.8 11.8 0.8-1.4 0.8-10.8 0.8 0.6 0.8 4.8 0.8 9.1 0.8 1.4 0.8 2.5 0.8 2.6 0.8-12 0.8 11.6 0.8-5.7 0.8 10 0.8 5.1 0.8-0.4 0.8-0.7 0.8-1.5 0.8-3.6 0.8-7.6 0.8 5.2 0.8 10.5 0.8-3.8 0.8-3.7 0.8 4.4 0.8 4.6 0.8 1.3 0.8-10.7 0.8 9.9 0.8-20.6 0.8 14.2 0.8-3.3 0.8 3.2 0.8 5.8 0.8-0.3 0.8-17.4 0.8 1.9 0.8 4.7 0.8 10.3 0.8-12.4 0.8 8.4 0.8-18.5 0.8 0.5 0.8 1.7 0.8-3.7 0.8 0.7 0.8 7 0.8-6.5 0.8 10.3 0.8-10.6 0.8 2.5 0.8-4.2 0.8-6.8 0.8 7.9 0.8-9.5 0.8 4.5 0.8-0.6 0.8 4.2 0.8-2.3 0.8-4.2 0.8-2 0.8 5.8 0.8-7.1 0.8-6.2 0.8 4.5 0.8 4.4 0.8-3.2 0.8-0.6 0.8-3.4 0.8 0.2 0.8 1.8 0.8 3.4 0.8 0 0.8-6.7 0.8 4.7 0.8 0 0.8 0.3 0.8-1.5 0.8 0.4 0.8-1 0.8-2.5 0.8 1.8 0.8 3.6 0.8 1.1 0.8-2.6 0.8-2.8 0.8 3.9 0.8-0.9 0.8-3.9 0.8 9.5 0.8-4.2 0.8 5.9 0.8-1.1 0.8-8.5 0.8 5.8 0.8-1.4" fill="none" stroke="#ff0000" stroke-width="1.4" stroke-linejoin="round"/>
<path d="M165 590.2l0.8 2.1 0.8 5.1 0.8 3.6M203 591.5l0.8 1.2 0.8-3 0.8 0.8 0.8 3.5 0.8-4M215 601.4l0.8 7 0.8-5.1 0.8-6.1 0.8 12 0.8-2.1 0.8 1 0.8-10.7 0.8 2.9M233 594.3l0.8-3.1 0.8 1.7 0.8 4.2M255 596.5l0.8 0.3 0.8-0.2 0.8-1.1 0.8-0.1 0.8-8.7 0.8 11.9 0.8 2.4 0.8-1 0.8 3.3 0.8-11.5 0.8-5 0.8-1.4 0.8 1.9 0.8-13.3 0.8 6.1 0.8 19.6 0.8-23.4 0.8-3.3 0.8 15.6 0.8 10.1 0.8 2 0.8-1.1 0.8-1.2 0.8-0.1 0.8-0.7 0.8-11.6 0.8 15.9 0.8-1.1 0.8 3.1 0.8-24.3 0.8 5.9 0.8-4.9 0.8-3.5 0.8 9.8 0.8 4.4 0.8-12.5 0.8 7.3 0.8-8.6 0.8-6.2 0.8 11.3 0.8-17.2 0.8 20.5 0.8-3.4 0.8-1.5 0.8 7.6 0.8-10.3 0.8 9.8 0.8-2.1 0.8-2.3 0.8-2.6 0.8 2.6 0.8 0.7 0.8 9.5 0.8 2.8 0.8-5.4 0.8-2.9 0.8 1.1 0.8 0.6 0.8-3.7 0.8 5.3 0.8-5.9 0.8 2.9 0.8-8.1 0.8 10.2 0.8-18 0.8 13.4 0.8-9.8 0.8 9.2 0.8 0 0.8-9.1 0.8-5.4 0.8 6 0.8-17.3 0.8 21.2 0.8-21.1 0.8 7.9 0.8 11.5 0.8-13.5 0.8 19.4 0.8 0.4 0.8-1.5 0.8-8 0.8 2.1 0.8-10.6 0.8 9.3 0.8-2.5 0.8 4.4 0.8 1.2 0.8-2.1 0.8-1.6 0.8 2.7 0.8-2.7 0.8 2.6 0.8-6 0.8 3.8 0.8-3.5 0.8 3.5 0.8 4.6 0.8 0 0.8-3 0.8-2.3 0.8-7 0.8 0 0.8 8.8 0.8-6.1 0.8-7.4 0.8 12.8 0.8-10.6 0.8 10 0.8 1 0.8-3 0.8-4.3 0.8-0.7 0.8 1.3 0.8-0.7 0.8 1.8 0.8-1.8 0.8-1.8 0.8-4.8 0.8 1.5 0.8 6.1 0.8 1.5 0.8-1.8 0.8-7.9 0.8 8 0.8 1.4 0.8-0.1 0.8-6.3 0.8 8.7 0.8-0.2 0.8-5 0.8-0.8 0.8 2.5 0.8-7.1 0.8 8.5 0.8 0.5 0.8-8.1 0.8 5.5 0.8-1.8 0.8-3.3 0.8 10 0.8 1 0.8-8 0.8 2.9 0.8 8.1 0.8 0.8 0.8-8.7 0.8 13.1 0.8 0.2 0.8-2.2 0.8 0 0.8-9.2 0.8 6.6 0.8-2.5 0.8 3.9 0.8-11.9 0.8 1.5 0.8 0.6 0.8 0.9 0.8-0.4 0.8 4.8 0.8 0.8 0.8-4.7 0.8-0.2 0.8 4.9 0.8-8.3 0.8 7.8 0.8-11.3 0.8 8.2 0.8-3.2 0.8 2.3 0.8 1.4 0.8-0.3 0.8 0.9 0.8-4.5 0.8 4.2 0.8-0.6 0.8-1.5 0.8-5.5 0.8-3 0.8 3.6 0.8 2.7 0.8 3.3 0.8-0.6 0.8-10.6 0.8 11.3 0.8-0.9 0.8-6.8 0.8 3.2 0.8 6.8 0.8 0.3 0.8-0.2 0.8-1 0.8-1.4 0.8-10 0.8 1.1 0.8 4.9 0.8-3.6 0.8 0.9 0.8 4.1 0.8 1.9 0.8-0.6 0.8 1.1 0.8-2.4 0.8 1 0.8-2.7 0.8 5.3 0.8-5.1 0.8-1.1 0.8 0.5 0.8 5.4 0.8-3.7 0.8 1.7 0.8 5.6 0.8 0.8 0.8-0.5 0.8-4.1 0.8 7.6 0.8-9.6 0.8 4.4 0.8 7.2 0.8 0.5 0.8-7 0.8 3.7 0.8 1.6 0.8-4.6 0.8 4.8 0.8-11.8 0.8 14.2 0.8-6.7 0.8 0 0.8-0.2 0.8 5.1 0.8 1.8 0.8-10.1 0.8 6.9 0.8-0.1 0.8 2.6 0.8-3.3 0.8 5.1 0.8-0.7 0.8-1.1 0.8-6 0.8 6.2 0.8-7.8 0.8 5.4 0.8-5 0.8 4.4 0.8 0 0.8 4 0.8-4.9 0.8 2.4 0.8 0.4 0.8-6.6 0.8 1.4 0.8-3.4 0.8 7.2 0.8-7.1 0.8 5.9 0.8-5.4 0.8-4.1 0.8 6.8 0.8-9.1 0.8 8.5 0.8-3.4 0.8-7.8 0.8 1.3 0.8-2 0.8 8.7 0.8 0.5 0.8-1.2 0.8-0.8 0.8-0.6 0.8 3.6 0.8 0.1 0.8-4.6 0.8-5.4 0.8 4.1 0.8-3.8 0.8 2.9 0.8 1.7 0.8 1.2 0.8-6.6 0.8 2 0.8-4.4 0.8 7.7 0.8-1.2 0.8-5.4 0.8 3.2 0.8-1 0.8-6.1 0.8 6.1 0.8-2.9 0.8-1.1 0.8 3 0.8 0.3 0.8-4.9 0.8 2.3 0.8 0.5 0.8 0.4 0.8 1.2 0.8-3.6 0.8 3.1 0.8-2.4 0.8-1.1 0.8-2.9 0.8 2.4 0.8-0.2 0.8-2.8 0.8 0.8 0.8-5.1 0.8 6.1 0.8-1.2 0.8-5.4 0.8 3.9 0.8-7.4 0.8 7.6 0.8-1.1 0.8 1.2 0.8-8.1 0.8 7 0.8-7.5 0.8 6.6 0.8-9.7 0.8-5 0.8-0.7 0.8 8.6 0.8-13 0.8 9.3 0.8 2 0.8-7.6 0.8 8.9 0.8-3.2 0.8-5 0.8 1.6 0.8 10.9 0.8-7.8 0.8 4.2 0.8-3.4 0.8 7.2 0.8-0.1 0.8-0.5 0.8-2.4 0.8 1.1 0.8 6.4 0.8-13.2 0.8 9.3 0.8 1 0.8 3.1 0.8-14.5 0.8-1.4 0.8 7.6 0.8-0.5 0.8-1.7 0.8 5.8 0.8-4.9 0.8-7.3 0.8 7.4 0.8-12.1 0.8 1.9 0.8-2.2 0.8 6.5 0.8-5.6 0.8-4.9 0.8 10.8 0.8-0.5 0.8 4.8 0.8-9.2 0.8 13.3 0.8 6.1 0.8-0.9 0.8-3.5 0.8-6.1 0.8 7.9 0.8-9 0.8 3.5 0.8 4.4 0.8-0.8 0.8-20.9 0.8 0.4 0.8 16.3 0.8-13.1 0.8 16.9 0.8-11.2 0.8 13.9 0.8-4.2 0.8-2.8 0.8 6.4 0.8-15.1 0.8 1.1 0.8 0.3 0.8 15.1 0.8-5.2 0.8-16.6 0.8 10 0.8 2.1 0.8-3.4 0.8-5.5 0.8 11.6 0.8 5.7 0.8-7.1 0.8-10.9 0.8 5.8 0.8 9 0.8-6.1 0.8-4.5 0.8 5.1 0.8 12 0.8-19.9 0.8 3 0.8-2.5 0.8-2.7 0.8 19.8 0.8-1.5 0.8-14.1 0.8 17.7 0.8 5.3 0.8-14.2 0.8-1.4 0.8 8.8 0.8-7.4 0.8 10.8 0.8 4.4 0.8-6.5 0.8-13.3 0.8 0.3 0.8 22.6 0.8-15.9 0.8 1.9 0.8-0.5 0.8 25.8M621 598.6l0.8-3.4 0.8-10.6 0.8-11.4 0.8-16.7 0.8 4.9 0.8 24.3 0.8-22.3 0.8 1.4 0.8-3.3 0.8-10.1 0.8-6.3 0.8 9.4 0.8 1 0.8-0.4 0.8 5.1 0.8 2.5 0.8-15.8 0.8 12.9 0.8 3.5 0.8-13.5 0.8-3.7 0.8 2.4 0.8 7.6 0.8-2.8 0.8-4.1 0.8-0.5 0.8 2 0.8-1 0.8-0.5 0.8 11.1 0.8-7.9 0.8 8.9 0.8-8 0.8 9.3 0.8-15.5 0.8 13.6 0.8-16.2 0.8-1.9 0.8 17.7 0.8-4.4 0.8 1.6 0.8-9.3 0.8 4.7 0.8 9.7 0.8-12.1 0.8 13.1 0.8 0.2 0.8-4.5 0.8-3.4 0.8-4.6 0.8 9 0.8-3.2 0.8 7 0.8-7 0.8 9.2 0.8 2 0.8-2.6 0.8 4.6 0.8-8.5 0.8 1.7 0.8 1 0.8 2 0.8-10.2 0.8 8.5 0.8-8.3 0.8 0.3 0.8-7.2 0.8 5.2 0.8-11.8 0.8 1.2 0.8 1.3 0.8-9.8 0.8-2.9 0.8 8.7 0.8 0.9 0.8-17.5 0.8 4.1 0.8 1.3 0.8 9 0.8-2.2 0.8-13.5 0.8 11.8 0.8 8.2 0.8-14.9 0.8-5 0.8 10.3 0.8 13.2 0.8-7.9 0.8-4.5 0.8 13.2 0.8-13.4 0.8 13.8 0.8 6.2 0.8-5 0.8 1.8 0.8-19.5 0.8-4.5 0.8-8.4 0.8 7 0.8 5.7 0.8 6.2 0.8-1.6 0.8 1.9 0.8 10.2 0.8-7.6 0.8-11.4 0.8-14.9 0.8 5.4 0.8-6.7 0.8 24.9 0.8-6.4 0.8 16.6 0.8 8.5 0.8 4 0.8 3.1 0.8-1.3 0.8-10.6 0.8 11.6 0.8 6.8 0.8-7.9 0.8 3.6 0.8-3.6 0.8-24.9 0.8 3 0.8 3.2 0.8 17.3 0.8 4 0.8-8.5 0.8 10.8 0.8-2.6 0.8 2.6 0.8-2.2 0.8 3.9 0.8 9.2 0.8 31 0.8-5.1 0.8-3.6 0.8-1.1 0.8 1.3 0.8-34.2 0.8 3.6 0.8 21.2 0.8-11.2 0.8-12.2 0.8-6.4 0.8 27 0.8 10.4 0.8-1 0.8-21.1 0.8-12 0.8-2.2 0.8-4.8 0.8 30.6 0.8-25.6 0.8-24.8 0.8 41.1 0.8-17.4 0.8 35.8 0.8-5.7 0.8 11.2 0.8-14.7 0.8-21.9 0.8 12.1 0.8 1.5 0.8 5.7 0.8-29.6 0.8-10.2 0.8 20.1 0.8 8.2 0.8-25.9 0.8 9.9 0.8 15.1 0.8 28 0.8-13.5 0.8-3.1 0.8-8.3 0.8 19.1 0.8-1.9 0.8 3.3 0.8-3.9 0.8-5.4 0.8-0.6 0.8 4 0.8 2.8 0.8-0.5 0.8-2.8 0.8-3.3 0.8-0.7 0.8 2.2 0.8-1.2 0.8-3.5 0.8-4.5 0.8 0.6 0.8-12.1 0.8-1.1 0.8 1.7 0.8 0.9 0.8 15.3 0.8 3 0.8-11.7 0.8-8.2 0.8-16.5 0.8 18.4 0.8-23.5 0.8 19.6 0.8 5.4 0.8 14.4 0.8 5.3 0.8-0.1 0.8-13.3 0.8 0.9 0.8 5.1 0.8 0 0.8 4.1 0.8 15.6 0.8-17.2 0.8 10.6 0.8 6.4 0.8-8.5 0.8-7 0.8 15.3 0.8 9.9 0.8-17.8 0.8-1.8 0.8 10.3 0.8-4.6 0.8 0.5 0.8 18.4 0.8-10.5 0.8 5.7 0.8-3.1 0.8 14.9 0.8-22.8 0.8 14.2 0.8-13 0.8 0.4 0.8-9.4 0.8 1.4 0.8-15.4 0.8 18.4 0.8 2.2 0.8-9.8 0.8-4.7 0.8 3.1 0.8 3.4 0.8-9.4 0.8 13 0.8-14.1 0.8 10.6 0.8-0.8 0.8-6.1 0.8 5.4 0.8-9.2 0.8-2.1 0.8 12.4 0.8-6.7 0.8 4.4 0.8-4.1 0.8-0.4 0.8 7.2 0.8 0.3 0.8-3.7 0.8-3.8 0.8-8.3 0.8 4.8 0.8-1 0.8 2 0.8-3.3 0.8-0.5 0.8-8.2 0.8 3.7 0.8-3 0.8 2.3 0.8-0.8 0.8-0.9 0.8 0.6 0.8 5.1 0.8-5 0.8 2.7 0.8 0.6 0.8-3.4 0.8 3.1 0.8 4.1 0.8-7.4 0.8 4.4 0.8-1.4 0.8 0.1 0.8-1.9 0.8 3.1 0.8 1.6 0.8 0.9 0.8 1.5 0.8-0.3 0.8-5.8 0.8 4.9 0.8-0.5 0.8-0.5 0.8-0.8 0.8 2 0.8 1.6 0.8 1.5 0.8-0.6 0.8-4.7 0.8 0.2 0.8 2 0.8-7.9 0.8-2.8 0.8 3.1 0.8-4.9 0.8 9 0.8-8 0.8 8.7 0.8-3 0.8 0.4 0.8-2.3 0.8 4.5 0.8-1.4 0.8-2.1 0.8-1.5 0.8 0.9 0.8 2.7 0.8 5.3 0.8-6.5 0.8-6.5 0.8 5 0.8-7.7 0.8 7.2 0.8-4.5 0.8 10.6 0.8-4.2 0.8-6.9 0.8 7.6 0.8 4.3 0.8-10.9 0.8 6 0.8 2 0.8-7 0.8 15.6 0.8-10.8 0.8 8.6 0.8 4.6 0.8 1.4 0.8 2.1 0.8-6.2 0.8 10.3 0.8 0.1 0.8-1.9 0.8 0.9 0.8 3.4 0.8 14.2 0.8-4.9 0.8-1.5 0.8-7.2 0.8 3.5 0.8-2.7 0.8 4.3 0.8 6.1 0.8-0.9 0.8-19.7 0.8 9.1 0.8-3.6 0.8 3.3 0.8 3.9 0.8-8.9 0.8 12.1 0.8 0.5 0.8-14.5 0.8-9.8 0.8 12.2 0.8-11.5 0.8-3.4 0.8 18 0.8-20.7 0.8 8.8 0.8 5.7 0.8-5.6 0.8-2.5 0.8 10.4 0.8-3.1 0.8 0.8 0.8-1.6 0.8-4.4 0.8-4 0.8-2.8 0.8-0.9 0.8-0.3 0.8 2 0.8-4.7 0.8 1.5 0.8-0.8 0.8-3.5 0.8-8.5 0.8-5.3 0.8-1.6 0.8 1.9 0.8 5.3 0.8-1.5 0.8-5.8 0.8 9.4 0.8-0.6 0.8 2.7 0.8 10.8 0.8 0.1 0.8 2.9 0.8 2.5 0.8 4.4 0.8 0 0.8-11.6 0.8 2.5 0.8 0.1 0.8 11.1 0.8 5 0.8-7.3 0.8 0.3 0.8-0.9 0.8 4 0.8-1 0.8-6.4 0.8 2.9 0.8-2.9 0.8-2.1 0.8 1.2 0.8 0.8 0.8-16.5 0.8-1 0.8-6.7 0.8 15.3 0.8 5 0.8-9 0.8-0.2 0.8 14.4 0.8 15.6 0.8-12.7 0.8 21.6 0.8-13.9 0.8 13.5 0.8-6.3 0.8 1 0.8-1.3 0.8-6.4 0.8-5.9 0.8-7.9 0.8 9.8 0.8-5.2 0.8-9.6 0.8 5.9 0.8-7.5 0.8-2.8 0.8-9 0.8 18.7 0.8-12.8 0.8-3.7 0.8-1.5 0.8 5.6 0.8 5 0.8-7.6 0.8 5.6 0.8-4.4 0.8 9.6 0.8 2.5 0.8 1.9 0.8-6.2 0.8 2.5 0.8 6.2 0.8-1.3 0.8-1 0.8 3.2 0.8 4 0.8-4.5 0.8-3.3 0.8 4.6 0.8-7.6 0.8 0.3 0.8-3.2 0.8 4 0.8-1.2 0.8 1.5 0.8 2.4 0.8-16.9 0.8 7.9 0.8-5.5 0.8 18.6 0.8-0.4 0.8 0.9 0.8-14.2 0.8-2.7 0.8 12.8 0.8-9.8 0.8 12.2 0.8-14.7 0.8 17.1 0.8-2.7 0.8 4.7 0.8-3.8 0.8-6.2 0.8 0.2 0.8 0.9 0.8 6.5 0.8-8 0.8-1.6 0.8 1.3 0.8 0.9 0.8-1.1 0.8 0.3 0.8 3 0.8 3 0.8-1.7 0.8-12.4 0.8 2.7 0.8 16.1 0.8-3.6 0.8 0.6 0.8 2.5 0.8 3.9 0.8-13.7 0.8-3.7 0.8 13.2 0.8-13.6 0.8 4.3 0.8 7.7 0.8 1.8 0.8-28.6 0.8 11.2 0.8 4.4 0.8-10.5 0.8 25.3 0.8-5.5 0.8-10.1 0.8-12.4 0.8 17.5 0.8 3.8 0.8-17.2 0.8-3.4 0.8 4 0.8-5.7 0.8-7.2 0.8 33.3 0.8-8.7 0.8-8.7 0.8 1.9 0.8-3.2 0.8-20 0.8 27.2 0.8-13 0.8 11.2 0.8-18.5 0.8-17.3 0.8 5.1 0.8 25.4 0.8-1.8 0.8-4.1 0.8 1.1 0.8-11.4 0.8 5.7 0.8 8.3 0.8-12.3 0.8 11.8 0.8-10.2 0.8 16.7 0.8-2.3 0.8 2.7 0.8-8 0.8 5.1 0.8-2.5 0.8 14.7 0.8 1.7 0.8-6.9 0.8-4.6 0.8 15.1 0.8 1 0.8-21 0.8 16.8 0.8-2.8 0.8-1.1 0.8 6.5 0.8-15.1 0.8-2.6 0.8-2.4 0.8 14 0.8-14.4 0.8 5.6 0.8-3.9 0.8 7.9 0.8 12.7 0.8-16.5 0.8 5.4 0.8 8.9 0.8-6.9 0.8-12.5 0.8-2.4 0.8-8.8 0.8 19.6 0.8-3.8 0.8-15 0.8 3.5 0.8 12.8 0.8-20.4 0.8 12.3 0.8-6.2 0.8 4.1 0.8-1 0.8-17.6 0.8 11.2 0.8 2.6 0.8 4.8 0.8-2.6 0.8-0.8 0.8-7.7 0.8 3.1 0.8-4.5 0.8-1.8 0.8-0.8 0.8-8.4 0.8 9.3 0.8 1.6 0.8 1 0.8-13.7 0.8 1.2 0.8 12.3 0.8-10.1 0.8 4 0.8 5 0.8 0.6 0.8-6.9 0.8 6.6 0.8 0.6 0.8-5.7 0.8 1.5 0.8-4.3 0.8-1.4 0.8 0.7 0.8-0.7 0.8 5.4 0.8 3.3 0.8 4.4 0.8-6.6 0.8 3.3 0.8-1.4" fill="none" stroke="#00cc2e" stroke-width="1.4" stroke-linejoin="round"/>
<path d="M195 563.9l0.8-0.7 0.8-1.4 0.8 6.2M200 576.6l0.8 0.3 0.8 1 0.8 2 0.8-0.1 0.8-3.1 0.8-2.7 0.8 0.3 0.8 2.8 0.8 1 0.8-1 0.8 0.2 0.8 0.5 0.8-1 0.8-1.2 0.8 0.3M220 601.5l0.8-3 0.8 7.4 0.8-1.9 0.8-7.7 0.8 4.7 0.8 4.9 0.8-1.1 0.8-17.6 0.8 9 0.8 9.8 0.8-10.6 0.8 8 0.8-12 0.8 10.1 0.8-5.5 0.8-7.6 0.8 0.3 0.8 20.9 0.8-14.6 0.8 2.3 0.8-3.8 0.8 10.1 0.8 0.7 0.8-9.3 0.8 4.1 0.8 0.2 0.8-1.1 0.8-2.3 0.8-1.5 0.8 0.8 0.8-17.6 0.8 8.3 0.8-2.4 0.8-9.7 0.8 18.7 0.8 0 0.8 3.5 0.8 0.8 0.8-5.4 0.8-1.7 0.8 5 0.8-14 0.8 16.4 0.8 0.5 0.8-8.4 0.8 7.7 0.8-12.4 0.8 12.1 0.8-7.9 0.8 10.3 0.8 2.8 0.8-5 0.8 6.9 0.8-0.3 0.8-1.5 0.8-0.4 0.8-17.4 0.8 3.5 0.8 9.6 0.8-10.9 0.8 14.8 0.8-9.6 0.8-8.1 0.8 10.4 0.8 4.4 0.8-6.7 0.8 13 0.8-6.8 0.8 4.3 0.8-10.7 0.8 10.9 0.8-11.6 0.8 7.9 0.8-13.6 0.8 4.3 0.8-0.7 0.8-3.9 0.8 4.6 0.8 3.6 0.8 1 0.8-0.6 0.8-4.5 0.8 2 0.8 5.4 0.8-4 0.8-0.1 0.8 0.4 0.8-5.2 0.8 2.3 0.8 5.3 0.8-3.8 0.8 3.4 0.8-0.2 0.8-8.4 0.8 8.7 0.8-7 0.8 5.3 0.8-6.6 0.8 7 0.8-1.1 0.8-1 0.8-3 0.8 2.4 0.8-0.3 0.8-5.2 0.8 3.3 0.8 0.4 0.8-0.1 0.8-0.5 0.8-9.6 0.8 4.1 0.8 4.2 0.8 1.4 0.8 2.2 0.8-1.1 0.8-1.1 0.8-0.1 0.8-2.9 0.8 0.3 0.8-2.2 0.8-0.5 0.8 1.6 0.8 4.9 0.8-0.7 0.8-0.4 0.8-2.1 0.8 1.7 0.8 3.3 0.8 0.8 0.8-1.3 0.8-1.5 0.8 0.9 0.8-0.2 0.8 0.1M372 591.2l0.8 3.4 0.8 2.7 0.8-1.2 0.8-0.7 0.8-1.1 0.8-0.1 0.8-5.4 0.8 1.4 0.8 1.5 0.8 2.3 0.8-6.8 0.8 1.4 0.8 3.7 0.8-6.3 0.8-4.5 0.8 10.8 0.8 5.6 0.8 1 0.8-1.8 0.8-1 0.8 0.7 0.8-3.1 0.8 3.2 0.8-3.1 0.8 4.6 0.8-2.5 0.8-3.3 0.8-2 0.8-2.4 0.8-0.6 0.8 0.5 0.8-2.2 0.8-6.1 0.8 5.5 0.8-2.2 0.8-2.5 0.8 5.7 0.8-1.8 0.8-2.1 0.8 1.5 0.8-4.7 0.8 1.8 0.8-1.6 0.8 3.5 0.8-0.5 0.8 2 0.8 1 0.8-1 0.8-0.1 0.8-2.1 0.8-4.8 0.8 2.2 0.8 5.5 0.8 1.3 0.8-8.6 0.8 2.3 0.8 5 0.8-1.5 0.8 3.1 0.8-0.1 0.8-5 0.8 2.8 0.8-4.5 0.8 2.6 0.8-2.7 0.8-1.8 0.8 12.5 0.8-1.5 0.8 4 0.8 0.6 0.8 1 0.8 1.5 0.8-1.2 0.8 5.8 0.8 2.5 0.8-1 0.8-6.1 0.8 5.3 0.8-6.5 0.8 3.1 0.8 6 0.8 0.5 0.8-7 0.8 2.7 0.8-4.9 0.8 0.6 0.8 9.3 0.8-0.5 0.8 0 0.8 0.6 0.8-5.2 0.8 0.4 0.8 3.9 0.8 0.6 0.8-0.4 0.8-2.3 0.8 0.4 0.8-1.5 0.8-5.3 0.8-3.1 0.8 5.8 0.8-1.1 0.8-8.6 0.8 4.7 0.8 1.3 0.8-7.7 0.8-2.4 0.8-4.4 0.8 1.2 0.8 7.6 0.8-1.2 0.8-7.8 0.8 3.7 0.8 4.7 0.8 1.9 0.8 0.9 0.8-0.6 0.8-4.8 0.8 1.8 0.8-5 0.8 2.7 0.8-4.7 0.8 2.2 0.8 3.2 0.8 0 0.8 0.3 0.8 0.2 0.8-6 0.8 8.1 0.8-3.1 0.8-3.1 0.8-0.5 0.8 6.2 0.8-5.3 0.8-2 0.8 1.4 0.8-2 0.8 3.2 0.8 0.8 0.8-0.9 0.8-4.5 0.8-1.7 0.8-1.4 0.8 3.4 0.8-3.6 0.8-4 0.8-10.9 0.8 5.9 0.8-0.8 0.8 0.3 0.8-4 0.8 6 0.8-7.9 0.8 7.3 0.8-7.6 0.8 10.1 0.8 4.1 0.8 3.3 0.8 4.4 0.8 1.3 0.8-2.6 0.8-1.7 0.8-4.4 0.8 0.1 0.8 2.3 0.8-7.6 0.8 8.2 0.8-1.3 0.8-8 0.8 6 0.8-2.2 0.8-6.2 0.8 5.6 0.8-9.8 0.8-0.7 0.8 11 0.8-7.6 0.8-0.5 0.8-0.4 0.8 4.2 0.8-1.8 0.8 5.2 0.8 1 0.8 5.2 0.8 1.2 0.8-1 0.8 2.4 0.8-1.7 0.8-0.5 0.8-1.1 0.8-4.2 0.8-0.8 0.8-5 0.8-13.9M552 555.6l0.8 7.3 0.8 6.9 0.8-4.3 0.8-13 0.8 26.9 0.8-0.8 0.8-7.5 0.8 11.3 0.8-1.7 0.8-1.2 0.8-2.1 0.8-2.5 0.8 6.3 0.8-6.1 0.8 3.9 0.8-12.5 0.8-1.4 0.8 16.8 0.8-16.6 0.8 13.7 0.8-9.5 0.8 6.7 0.8 10.6 0.8-17.4 0.8 16.8 0.8 7.2 0.8-15.1 0.8 5.7 0.8 0.8 0.8 2 0.8 1 0.8 2.9 0.8-0.6 0.8-4.5 0.8 8.5 0.8-2.9 0.8-7.3 0.8 10.9 0.8-6 0.8 6.5 0.8-8.5M624 585.6l0.8-5.5 0.8-6.6 0.8 6 0.8 6.3 0.8 2.5 0.8 0.1 0.8-20.1 0.8 1.2 0.8 12.9 0.8 1.3 0.8-18.7 0.8 16.6 0.8-1.6 0.8-9.7 0.8-3.5 0.8 4.1 0.8 9.1 0.8-10.8 0.8 3.7 0.8 2.2M792.8 588.5l0.8 3.9 0.8 13.5 0.8 0.9 0.8-3.3 0.8-0.9 0.8 1.7 0.8-8.4 0.8 10 0.8 0.6 0.8 2.6 0.8-2.4 0.8-0.3 0.8 6.2 0.8-0.3 0.8 5 0.8-4.3 0.8 12.8 0.8-0.3 0.8-3.5 0.8-5 0.8-2.1 0.8-5.7 0.8 1.4 0.8 1.9 0.8-6.6 0.8 7.2 0.8-0.3 0.8-9.5 0.8-0.1 0.8 4.7 0.8-4.8 0.8-7 0.8 6.1 0.8 0.6 0.8-9.4 0.8 3.9 0.8 5.9 0.8-11.6 0.8-2.6 0.8-0.7 0.8 13.7 0.8-3.9 0.8-3.3 0.8-2.5 0.8-4 0.8 0.6 0.8-1.8 0.8 8.4 0.8 0.4 0.8-1.9 0.8 2.8 0.8 1.2 0.8-5.8 0.8 6.8 0.8 0.7 0.8 0.1 0.8-0.2 0.8-0.8 0.8-7.2M1000.8 592l0.8 2.4 0.8-0.9 0.8-0.6 0.8-3.8 0.8 0 0.8 4.3 0.8-5.8 0.8 2 0.8 1.7 0.8-4.3 0.8 1.1 0.8-2.2 0.8-4.2 0.8 1.8 0.8 0.5 0.8-1.7 0.8-0.7 0.8-1.6 0.8-3.1 0.8-0.5 0.8-4 0.8 1 0.8-0.7 0.8-0.5 0.8-1.1 0.8 5.3 0.8 0.9 0.8-3.9 0.8 0.4 0.8-0.6 0.8 8.2 0.8-9.4 0.8-0.2 0.8 2.6 0.8-1.5 0.8 1.2 0.8 5.4 0.8-1.1 0.8 0.6 0.8-9.5 0.8 9.4 0.8-10.8 0.8 11.4 0.8-11.9 0.8 15.9 0.8 0.5 0.8 0.7 0.8 1.7 0.8 1.1 0.8-0.7 0.8-10.6 0.8 5.6 0.8-13.1 0.8 1.8 0.8 4.4 0.8-6 0.8-2.8 0.8 4.7 0.8-6.2 0.8-10.3 0.8-2.8 0.8 8 0.8 3.1 0.8-2 0.8 0.7 0.8 2.9 0.8-5.3 0.8 13 0.8 1.5 0.8 4.2 0.8-20.3 0.8-2.2 0.8 7.7 0.8-0.5 0.8 1.3 0.8 11.4 0.8 1.8 0.8 4.6 0.8 7.6 0.8 0.2 0.8-1.6 0.8 1.7 0.8-5.6 0.8-8.3 0.8 15.3 0.8-3.1 0.8-2.6 0.8 0.6 0.8-7.6 0.8 13.6 0.8-13.2 0.8 13.9 0.8-16.6 0.8 10.3 0.8-6.1 0.8 8.5 0.8 2 0.8-8.6 0.8 6.2 0.8 0.2 0.8-9.5 0.8 10.6 0.8-7.9 0.8 7.6 0.8-15.3 0.8 12.1 0.8-1.9 0.8 6.8 0.8-11.7 0.8 10.3 0.8-10.2 0.8 5.5 0.8-2 0.8-2.5 0.8-0.2 0.8 0.7 0.8-8.4 0.8 4.3 0.8-4.1 0.8-0.2" fill="none" stroke="#0000ff" stroke-width="1.4" stroke-linejoin="round"/>
<path d="M158 596.3l0.8 1.3 0.8 4.1M165 601.8l0.8 2.3 0.8 1.9 0.8 2 0.8-2.2 0.8-1.5 0.8-0.4M202 586l0.8 6 0.8-4.6 0.8 4.2 0.8-1.4 0.8 3.2 0.8-0.1 0.8 3.7M258.4 592.5l0.8-11.7 0.8 15 0.8-0.6 0.8-8.3 0.8 6.2 0.8 2.8 0.8 0.7 0.8-1.9 0.8-0.2 0.8 2.5 0.8-16.5 0.8 11.1 0.8-7 0.8-8 0.8 17.2 0.8-9.3 0.8 11.6 0.8-11.3 0.8 10.1 0.8-5.4 0.8 5.1 0.8 1 0.8-1.9 0.8-2 0.8-2.1 0.8-6.5 0.8 0.5 0.8-1.6 0.8 8.8 0.8-8.6 0.8-0.3 0.8-2.2 0.8 10.6 0.8 1.3 0.8-3.7 0.8-6.5 0.8-0.3 0.8 5.8 0.8 2.3 0.8-7.7 0.8 5 0.8-0.3 0.8-1.6 0.8-9 0.8-3.5 0.8 2.5 0.8 0.7 0.8 6.9 0.8-7.7 0.8 5.4 0.8 1.8 0.8-0.5 0.8-1.9 0.8-3 0.8 6.8 0.8 0.3 0.8-3.1 0.8 1.7 0.8-3.7 0.8 3.1 0.8 3.8 0.8 2.3 0.8-5.8 0.8 3.6 0.8-1.5 0.8 0 0.8-2.2 0.8-1.1 0.8-0.9 0.8 1.1 0.8-1.8 0.8-0.1 0.8 0.7 0.8 0.3 0.8 2.3 0.8 0.3 0.8 2.6 0.8-0.9 0.8 2.6 0.8 1.9 0.8-0.3 0.8-3.9 0.8-1.9 0.8 3.5 0.8 0.5 0.8 0.4 0.8 0.6 0.8-0.6 0.8-2.5 0.8 0.8 0.8-3.1 0.8-2.3 0.8-2.4 0.8-0.1 0.8-2.4 0.8 5.5 0.8-8.8 0.8 2.7 0.8 1.3 0.8 3.2 0.8-3.7 0.8-2.4 0.8 4.8 0.8-1.7 0.8-1.1 0.8-1.9 0.8 1.7 0.8-1.6 0.8 4.1 0.8-2.5 0.8-2.5 0.8 3.2 0.8-0.4 0.8-0.1 0.8 1.6 0.8-0.8 0.8-3.4 0.8 3.3 0.8 0.2 0.8-3.5 0.8 3.2 0.8-0.1 0.8 1.5 0.8-0.7 0.8 0.5 0.8-4.2 0.8 3.2 0.8-1.1 0.8-0.6 0.8-0.1 0.8 1.5 0.8-0.9 0.8 3.8 0.8-0.4 0.8-1.4 0.8 1.3 0.8 2.1 0.8 1.1 0.8-0.4 0.8-1.6 0.8 0.4 0.8 1.8 0.8 3 0.8 0.8 0.8-3.3 0.8 0.8 0.8-2.1 0.8 0.5 0.8 0.7 0.8 5.5 0.8-1.8 0.8 2.4 0.8 1.6 0.8-0.2 0.8-7.6 0.8-3.7 0.8 8.7 0.8-0.4 0.8-2.6 0.8-5.1 0.8-1.4 0.8 6.5 0.8 2.7 0.8 0 0.8-5.2 0.8 0 0.8 1 0.8-5.7 0.8 2.1 0.8 1.6 0.8 1 0.8-1.9 0.8 0 0.8 0 0.8-0.2 0.8 0 0.8-1.9 0.8 1.7 0.8-0.9 0.8-2.4 0.8 4.5 0.8-0.6 0.8-0.2 0.8 1.5 0.8-0.3 0.8-1.2 0.8-2.9 0.8 1.5 0.8-2.5 0.8-1.7 0.8 3.1 0.8-0.7 0.8 1.1 0.8-3.6 0.8 5.2 0.8 2.2 0.8-4.6 0.8 1.3 0.8 0.8 0.8 1.6 0.8-2.7 0.8 3.6 0.8-1.4 0.8 1.3 0.8-0.6 0.8 1.4 0.8-4.8 0.8 2.7 0.8-4 0.8 7.2 0.8 0.6 0.8-4.8 0.8 0.9 0.8 2.7 0.8 0.1 0.8-1.6 0.8 3.8 0.8 1.2 0.8 3.6 0.8 5.3 0.8-2.4 0.8 2.7 0.8-2.6 0.8 4.3 0.8-0.1 0.8-6.1 0.8 6.5 0.8-8.3 0.8 11.4 0.8-4.1 0.8-4.7 0.8-4.3 0.8 1.8 0.8-0.5 0.8 7.7 0.8 0.8 0.8-0.5 0.8-1.2 0.8-2.6 0.8 2.3 0.8 0.9 0.8 0.1 0.8-4.7 0.8 5.2 0.8 2 0.8-2.1 0.8-4.5 0.8 3.5 0.8-5.5 0.8 3.7 0.8-1.5 0.8-4.9 0.8 1.3 0.8 2 0.8-2.5 0.8 1.5 0.8-1 0.8-2.4 0.8 7.3 0.8 0.7 0.8-1.2 0.8-7.5 0.8 3.4 0.8-1.4 0.8 0.3 0.8 0.3 0.8 1 0.8-1.8 0.8-0.3 0.8 2.3 0.8-2.2 0.8-7.8 0.8 0.3 0.8 4.1 0.8 0.9 0.8-2.2 0.8-0.7 0.8-4.4 0.8 2.8 0.8-2.6 0.8 0.9 0.8 5.3 0.8-4.5 0.8 3.3 0.8-2.6 0.8-1.2 0.8 0.3 0.8-0.4 0.8-0.4 0.8 1.4 0.8 0.3 0.8 1.5 0.8-1.5 0.8-2.2 0.8-5.3 0.8 2.5 0.8 1.4 0.8-5.4 0.8 3.2 0.8-5.7 0.8 6.2 0.8-0.7 0.8-1.8 0.8 2.4 0.8-5 0.8 3.4 0.8-6.8 0.8 1.7 0.8 4.1 0.8-4.1 0.8 1.1 0.8 2.9 0.8-2.9 0.8 3.7 0.8-0.1 0.8-5.3 0.8-1.3 0.8 5.4 0.8-2.5 0.8-3 0.8-2 0.8 0.3 0.8-3.5 0.8 1.9 0.8-2.5 0.8 3.1 0.8-2.8 0.8 0.1 0.8-5 0.8 4.3 0.8 0.4 0.8-1.1 0.8-8.7 0.8 1.5 0.8 0.4 0.8 3.3 0.8-3.2 0.8 1.4 0.8-4.2 0.8 2.3 0.8 2 0.8-0.1 0.8-1.7 0.8 1.5 0.8-2.8 0.8-1 0.8-0.1 0.8-2.6 0.8 4.9 0.8-3.6 0.8 4.7 0.8-1.3 0.8-7.5 0.8-2 0.8 2.4 0.8 6.3 0.8-7.3 0.8 2.7 0.8 4 0.8-3.8 0.8 5.2 0.8-0.3 0.8 4.8 0.8 0.3 0.8-3.4 0.8 7.2 0.8 1.1 0.8-3.8 0.8 0.4 0.8 7 0.8-5.1 0.8 4.6 0.8 7.4 0.8 0.8 0.8 2.1 0.8-3.8 0.8-1.5 0.8 0.2 0.8-0.4 0.8-1.5 0.8 0.5 0.8-7.9 0.8-1 0.8-0.4 0.8-1.9 0.8 4.5 0.8-0.3 0.8-7.2 0.8 5.5 0.8-2.8 0.8 2.2 0.8 0.4 0.8 0 0.8-0.9 0.8-0.1 0.8-3.3 0.8 3.2 0.8 0.7 0.8 2.9 0.8 0.4 0.8-0.6 0.8 0.1 0.8-2 0.8 2.4 0.8 1.4 0.8 1.9 0.8-4.3 0.8 4 0.8-0.5 0.8 5.2 0.8 5.9 0.8 1.7 0.8 6.8 0.8 4.9M624 572.6l0.8-1 0.8-0.6 0.8 4.5 0.8-1.5 0.8-4.6 0.8 5.2 0.8-0.7 0.8-2.6 0.8-0.1 0.8-1.6 0.8 3.9 0.8 0.4 0.8 0.9 0.8-0.2 0.8-7.8 0.8 4.7 0.8 1.5 0.8-4.6 0.8 4.4 0.8-5.2 0.8-3.1 0.8 2.7 0.8 1.9 0.8 1.5 0.8-1.4 0.8 1.5 0.8 1.5 0.8-2.2 0.8 2.3 0.8 0.6 0.8-5.9 0.8 5.2 0.8-0.7 0.8-4.6 0.8-0.1 0.8-1.3 0.8 0.6 0.8 2.3 0.8-1.7 0.8-1.4 0.8 3.3 0.8-1.4 0.8-2.2 0.8 3.1 0.8-3.1 0.8-0.6 0.8 5.4 0.8-9 0.8 5 0.8-4.1 0.8-2.5 0.8 8.4 0.8-3.7 0.8 1.8 0.8-1.3 0.8-7.3 0.8-1.2 0.8-3.7 0.8-0.6 0.8 1.3 0.8-4.3 0.8 5.8 0.8 4.7 0.8 1.2 0.8 0.4 0.8-2 0.8-15.3 0.8 11.8 0.8-4 0.8 3.6 0.8-0.1 0.8 3.6 0.8-6.6 0.8 10.1 0.8-0.3 0.8-3.2 0.8 0.6 0.8-9.5 0.8 3.9 0.8 2.7 0.8 2.9 0.8 1.3 0.8-5 0.8 3 0.8-8 0.8-3.4 0.8-0.5 0.8 11.8 0.8-1.7 0.8-5.9 0.8-1.4 0.8 1.1 0.8 3 0.8-0.7 0.8-3.2 0.8 0 0.8-3.2 0.8 7.6 0.8 4.5 0.8 1.4 0.8 1.1 0.8-15.8 0.8-3.6 0.8 9.5 0.8-3.1 0.8 6.4 0.8 1.1 0.8-15 0.8 9.2 0.8-0.1 0.8 5.9 0.8 0.2 0.8 1.9 0.8 2.1 0.8 3.4 0.8 3.3 0.8 2.9 0.8 2.4 0.8 3.4 0.8-13.9M792.8 592.3l0.8 18 0.8-1.9 0.8 0.4 0.8-6.2 0.8 6.7 0.8 7.2 0.8 0.9 0.8-4.9 0.8 4.6 0.8 4.4 0.8 0.4 0.8 1 0.8 0.8 0.8-2.8 0.8 3.5 0.8 3.3 0.8-8.2 0.8 8.1 0.8-7.7 0.8-0.7 0.8-9.4 0.8 9 0.8-8.3 0.8 2.7 0.8-1.9 0.8-2.2 0.8-1.2 0.8-0.5 0.8-0.8 0.8 0.3 0.8-17.4 0.8 9.1 0.8 5.4 0.8-13.8 0.8 12.2 0.8 1.2 0.8-4.4 0.8-10 0.8 4 0.8-0.9 0.8-3.5 0.8 2.5 0.8 1.3 0.8-0.9 0.8-1.8 0.8 8.7 0.8 0.4 0.8-6 0.8-2.9 0.8 7.1 0.8-5.3 0.8 4.9 0.8-4.1 0.8 3.4 0.8-5.4 0.8 1.1 0.8-1.8 0.8 3.7 0.8-5.9 0.8-0.5 0.8 2.9 0.8-3 0.8-6.8 0.8 5.2 0.8 0.7 0.8-7.5 0.8 6.1 0.8-9.3 0.8 3.3 0.8 9 0.8 2.3 0.8-6.2 0.8 8.1 0.8-2.2 0.8 2.5 0.8-1.1 0.8-6.4 0.8 1.7 0.8-3.6 0.8 6.2 0.8-5 0.8 2.1 0.8 2 0.8-1.1 0.8 3.3 0.8 0.3 0.8 0.3 0.8-0.6 0.8-1.6 0.8-1.3 0.8 1.2 0.8 2.9 0.8-2.2 0.8-0.4 0.8-0.6 0.8-1.1 0.8-1.1 0.8-2.6 0.8 4.1 0.8-1.8 0.8 2 0.8-5.1 0.8 3.4 0.8 2.8 0.8 0.6 0.8-0.3 0.8-0.1 0.8-4.7 0.8 3.8 0.8-2.3 0.8-1.9 0.8-3.6 0.8 4.5 0.8 3.8 0.8-0.3 0.8 0.3 0.8 2.1 0.8-3 0.8 4.4 0.8 0.4 0.8-3.3 0.8 5.3 0.8-3.9 0.8 7.9 0.8 0.5 0.8-6.9 0.8 3.4 0.8 4.8 0.8-2.2 0.8 3.8 0.8 7 0.8 1 0.8 0.1 0.8-8.2 0.8 11.3 0.8-7 0.8 3.8 0.8-2.8 0.8 5.8 0.8-2.4 0.8 1.9 0.8 1 0.8-3.9 0.8 1.8 0.8 2.3 0.8-4.6 0.8 3.6 0.8-2.2 0.8 2 0.8-2 0.8-0.5 0.8-3.8 0.8-5.3 0.8-2.6 0.8-1 0.8-6.3 0.8 3.2 0.8-2.6 0.8-14.4 0.8 4.7 0.8 1.7 0.8-4.9 0.8-2.2 0.8-2.9 0.8 10.5 0.8-2.6 0.8-0.1 0.8 1.8 0.8-5.6 0.8 3.1 0.8 3.7 0.8-1.7 0.8-1.7 0.8-2.5 0.8-0.6 0.8-0.3 0.8-2.7 0.8-0.7 0.8-0.6 0.8-3.9 0.8 0.8 0.8 6.7 0.8-0.3 0.8 8.6 0.8-4.3 0.8 14.7 0.8 7.7 0.8-5.9 0.8 9.2 0.8-4.6 0.8-8.3 0.8 2.6 0.8-2.5 0.8-1.2 0.8-10.9 0.8 5.2 0.8-6 0.8 2.3 0.8-1.6 0.8-4.3 0.8 6.2 0.8 3.8 0.8-5.5 0.8 6.8 0.8-1.4 0.8-2.7 0.8-0.4 0.8 0.6 0.8 2.5 0.8 2.2 0.8 0.4 0.8-3 0.8 5.2 0.8 1.5 0.8-8.8 0.8 9.4 0.8 5.9 0.8 1.4 0.8-0.4 0.8-0.1 0.8 2.4 0.8-2.6 0.8 0.4 0.8-1.9 0.8-1.3 0.8-1.9 0.8-5.4 0.8-0.8 0.8-0.1 0.8-3.4 0.8-3.4 0.8-5.3 0.8 4.2 0.8 1.9 0.8-0.5 0.8 1.5 0.8 2.5 0.8-0.2 0.8-6.1 0.8-1.7 0.8 1.3 0.8 4.8 0.8 1.2 0.8 1.2 0.8 1.6 0.8 1.5 0.8 0.3 0.8-2.1 0.8-0.3 0.8 3.9 0.8 4.5 0.8 2.6 0.8-0.5 0.8-7.8 0.8 0.6 0.8 1.4 0.8 4.2 0.8-8.3 0.8 4.3 0.8-3.2 0.8 3.5 0.8 0.1 0.8-0.1 0.8-6.1 0.8 3 0.8-1 0.8-4.5 0.8 2.4 0.8 1.6 0.8-2.4 0.8-3.3 0.8 0.6 0.8-5.2 0.8 1.8 0.8 0.5 0.8 3.3 0.8-3.2 0.8 3.7 0.8-1.2 0.8 3.6 0.8-0.3 0.8-1.5 0.8 1.5 0.8-0.6 0.8 1.5 0.8-0.5 0.8-7 0.8-0.3 0.8 8.8 0.8-13.4 0.8 11.1 0.8 0.2 0.8-14.4 0.8 13 0.8-15.5 0.8 2.5 0.8 6.7 0.8-5 0.8 7.1 0.8 3.4 0.8 3 0.8-8.3 0.8 6.8 0.8-14 0.8 10.7 0.8-3.5 0.8-3.3 0.8 0.7 0.8 13.4 0.8 0.5 0.8-0.4 0.8-2.4 0.8-2.2 0.8-1.7 0.8-6.4 0.8 4 0.8 7.4 0.8 0 0.8 0.3 0.8-2 0.8-1 0.8-3.8 0.8-7.4 0.8-6.9 0.8 6.6 0.8 1 0.8-0.7 0.8-3 0.8-2.9 0.8 0.5 0.8-14.7 0.8 1.2 0.8 2.3 0.8 1 0.8 1.1 0.8 0.1 0.8 5.5 0.8 12.2 0.8-4.6 0.8 4.7 0.8-0.7 0.8 9.5 0.8 4 0.8-1.4 0.8-3.5 0.8-11.6 0.8-0.6 0.8 6.6 0.8 2.7 0.8-0.6 0.8 6.2 0.8-4.1 0.8 4.4 0.8 1.5 0.8 1.3 0.8-6 0.8-1.5 0.8-8.8 0.8 5.4 0.8 4.7 0.8 2.8 0.8 1.9 0.8-0.3 0.8-1.5 0.8-1.4 0.8-1.2 0.8-6.2 0.8 2.4 0.8 3.4 0.8-6.5 0.8 7.3 0.8-6.4 0.8-5 0.8-2.6 0.8 4.6 0.8-3.7 0.8 3.8 0.8-2.7 0.8-4.2 0.8-2.8 0.8-0.1 0.8-5.1 0.8-0.8 0.8 3.6 0.8-0.2 0.8-0.3 0.8-1.6 0.8-1.1 0.8 0.5 0.8-0.4 0.8-2.1 0.8-1.9 0.8-1.7 0.8-4.1 0.8 5.7 0.8-1.9 0.8-0.1 0.8 2.3 0.8-1.1 0.8 0.4 0.8-1.4 0.8-0.4 0.8-0.5 0.8-3.8 0.8 2.6 0.8 0.2 0.8-0.1 0.8-3.1 0.8 4.7 0.8 1.5 0.8 0.5 0.8 0.6 0.8-0.6 0.8-0.2 0.8-0.9 0.8 0.1 0.8 1.2 0.8-0.5 0.8 3.4 0.8 1 0.8-1.4 0.8-2.2 0.8 0.1 0.8 1.9" fill="none" stroke="#ff0000" stroke-width="1.4" stroke-linejoin="round"/>
<path d="M165 598.1l0.8 1.5 0.8 4.4 0.8-0.3M203 583l0.8-3 0.8-0.3 0.8 2.2 0.8 3.2 0.8 1.5M215 611.7l0.8-0.2 0.8 0.3 0.8-0.5 0.8-0.7 0.8-2.3 0.8-13.1 0.8 6.8 0.8-5.6M233 592.3l0.8-1.1 0.8-5.9 0.8 10.8M255 597l0.8-9.7 0.8 9.3 0.8-0.8 0.8-5.4 0.8 7 0.8-14 0.8 15.1 0.8-11.2 0.8 2.7 0.8 10 0.8-3.1 0.8-1.2 0.8-0.2 0.8-11.6 0.8 5.3 0.8 10.5 0.8-6.4 0.8 7.8 0.8 0.2 0.8-2.6 0.8 2 0.8 0.9 0.8-3.2 0.8-0.1 0.8 4.5 0.8-13.5 0.8-4.6 0.8 16.1 0.8-20.8 0.8 15.5 0.8-26.3 0.8 2.6 0.8-10.9 0.8 7.6 0.8 13.1 0.8-17.1 0.8 14.4 0.8-7.7 0.8 8.4 0.8-7.2 0.8 13.1 0.8 0.4 0.8 1.9 0.8-1.4 0.8 2.2 0.8 0.3 0.8-0.8 0.8-3.5 0.8-0.9 0.8-2.6 0.8 1 0.8-6 0.8 7.2 0.8 13.4 0.8-1.2 0.8-3.7 0.8-10.8 0.8 12.1 0.8-5.2 0.8 2.5 0.8-19.8 0.8 10.6 0.8-6.6 0.8 18.5 0.8-13.6 0.8-2.2 0.8-1.4 0.8 9.7 0.8 0 0.8 0.7 0.8-0.3 0.8-11.3 0.8 9.8 0.8-0.3 0.8-14.1 0.8 5.4 0.8 1.9 0.8 6.4 0.8-4 0.8 3.6 0.8-1.8 0.8-5.4 0.8 2 0.8-9.8 0.8 8.5 0.8 3 0.8 1.4 0.8-1.3 0.8-2.1 0.8-4.3 0.8 3.3 0.8 3.9 0.8-5.1 0.8 0.2 0.8 0.8 0.8 2.9 0.8 1.9 0.8-7 0.8 0.3 0.8 3.5 0.8-2.2 0.8-0.8 0.8 1.2 0.8 3.5 0.8-3.8 0.8-1.8 0.8 4.3 0.8-6.5 0.8 2.7 0.8-3.2 0.8 2.7 0.8-6.9 0.8 5.4 0.8 0.3 0.8 1.5 0.8-2.4 0.8-4.5 0.8-1.3 0.8-1.7 0.8 6.1 0.8 1.6 0.8 1.4 0.8-3.7 0.8 0.6 0.8-0.2 0.8-0.4 0.8 1.8 0.8-4.1 0.8 0.5 0.8 6 0.8-4.3 0.8 3.1 0.8-1.4 0.8-2.1 0.8 1.5 0.8-3.3 0.8 3.8 0.8-4.4 0.8 3.7 0.8 5.1 0.8 0.5 0.8-2.9 0.8 6.8 0.8 0.5 0.8-1.7 0.8 0.8 0.8 2.8 0.8-4.8 0.8 3 0.8-0.5 0.8-1.2 0.8 2.9 0.8-0.6 0.8-1.2 0.8 0.8 0.8 0.2 0.8-5.5 0.8 0.7 0.8 1.6 0.8-4.5 0.8 8.1 0.8-2.1 0.8-2.7 0.8-3.3 0.8 3.8 0.8 0.3 0.8-1.3 0.8-0.8 0.8-0.2 0.8-1 0.8-0.1 0.8 0 0.8-0.3 0.8-0.5 0.8 1.8 0.8-0.1 0.8-4.2 0.8-1.4 0.8-0.9 0.8 2.8 0.8 0.8 0.8 3.7 0.8 0.3 0.8-1.5 0.8-4.8 0.8-3.8 0.8 5.3 0.8-5.2 0.8 6.2 0.8 3.5 0.8 1 0.8-1.6 0.8 0.1 0.8-1.8 0.8-1.7 0.8-5.3 0.8-1.7 0.8 5.3 0.8 0.6 0.8-2.8 0.8 5.5 0.8-5.7 0.8 5.6 0.8-5.8 0.8-2.2 0.8 6.8 0.8-0.4 0.8-1.3 0.8-1.5 0.8 2 0.8 5.1 0.8-1.3 0.8 3.9 0.8-2 0.8 0 0.8 3.7 0.8 0.6 0.8-0.2 0.8-0.4 0.8 2 0.8 1.3 0.8 0.5 0.8 0.5 0.8 0.3 0.8-0.5 0.8-2.8 0.8-2.1 0.8 6.1 0.8-0.1 0.8 2.6 0.8-0.5 0.8-2.7 0.8 0 0.8 0.1 0.8-0.5 0.8-0.4 0.8 0.3 0.8-0.1 0.8-2.3 0.8 0.7 0.8 2.7 0.8-1.1 0.8 0.6 0.8-2 0.8 2.6 0.8 0.8 0.8 0.2 0.8-0.4 0.8-0.2 0.8-0.4 0.8-1.3 0.8-4.7 0.8-1 0.8 5.4 0.8-1.8 0.8-5.9 0.8 4.2 0.8 2.5 0.8-0.3 0.8-8.9 0.8-2.7 0.8 7.1 0.8 0.6 0.8-2.7 0.8-0.2 0.8-5 0.8 1.9 0.8 0.9 0.8 0.3 0.8 0.9 0.8-0.2 0.8-1.7 0.8 1.9 0.8-7.6 0.8 2.4 0.8-2.1 0.8 1.7 0.8 6.3 0.8-7.1 0.8 5 0.8-1.4 0.8-3.6 0.8 1.8 0.8 0.7 0.8 0.2 0.8-2 0.8 0.4 0.8-0.9 0.8-0.4 0.8-0.6 0.8-0.1 0.8-2.2 0.8-1 0.8-2.8 0.8 3.8 0.8-3.3 0.8 2.3 0.8-4.8 0.8 2.8 0.8 0.3 0.8 2.5 0.8 0 0.8-1.7 0.8-4.2 0.8-0.6 0.8-0.7 0.8 0.7 0.8 3 0.8-0.2 0.8-4.1 0.8 0.1 0.8 4.5 0.8-4.9 0.8-1.9 0.8 5 0.8-0.1 0.8-9 0.8 7.3 0.8-2.4 0.8-3.2 0.8 2.6 0.8-4.4 0.8 4.1 0.8-0.4 0.8-2 0.8-2 0.8-2.5 0.8-2.4 0.8 0.8 0.8 0 0.8-1.1 0.8 1.5 0.8 0.7 0.8 2.5 0.8 1.6 0.8-9.8 0.8 2 0.8-2.1 0.8 4 0.8 6.5 0.8-0.1 0.8-0.5 0.8-9.1 0.8 13.8 0.8 0.4 0.8-12.5 0.8 3.9 0.8-6.2 0.8 6.7 0.8 8.5 0.8-12.9 0.8-1 0.8 9.8 0.8-4 0.8 5 0.8-2.1 0.8-3.7 0.8-0.8 0.8-1.1 0.8-1.5 0.8-10.1 0.8 5.6 0.8-10.3 0.8-1.5 0.8-2.5 0.8 8 0.8 2.8 0.8 3.4 0.8 15.4 0.8-6.8 0.8 1.8 0.8 0.1 0.8-11.4 0.8 8.6 0.8-2.1 0.8 0.9 0.8-5.5 0.8 11.5 0.8-3.4 0.8-8.1 0.8-4.9 0.8 10 0.8 0.3 0.8 4.6 0.8 2.9 0.8-12.7 0.8 13.3 0.8-1.2 0.8-0.7 0.8-3.8 0.8 1.9 0.8 4 0.8 1 0.8-1.2 0.8-11.8 0.8 5.7 0.8 3.4 0.8 2.5 0.8-10.1 0.8 9.2 0.8-1.4 0.8-11 0.8 0.8 0.8-0.6 0.8-2.2 0.8 7.6 0.8 0.2 0.8 9.2 0.8 1.1 0.8-0.9 0.8-3.8 0.8-9.9 0.8 2.8 0.8-1.3 0.8 17.6 0.8 2 0.8-9.9 0.8-1.5 0.8-2 0.8 10.1 0.8 1.7 0.8-10 0.8-3.8 0.8 10.5 0.8 4.5 0.8 9.7 0.8-13.7 0.8 7.3 0.8-3.3 0.8 27.3 0.8-18.3M621 600.2l0.8-0.4 0.8-4.7 0.8-7.4 0.8-7.3 0.8 8.2 0.8-2.9 0.8-4.3 0.8-17.4 0.8 0 0.8 4.7 0.8-6.8 0.8-1 0.8-2.2 0.8-6.7 0.8 0.6 0.8 5.8 0.8 6.1 0.8-0.5 0.8-0.7 0.8-0.8 0.8-12.6 0.8 6.7 0.8 3.6 0.8 0.2 0.8-0.2 0.8 0.4 0.8 2.8 0.8-1.6 0.8-0.1 0.8 0 0.8 2 0.8-2.5 0.8-7.3 0.8-4.6 0.8 14 0.8-1.8 0.8-10.6 0.8 7.1 0.8 3 0.8-6 0.8 7 0.8-8.5 0.8 8.6 0.8-5.6 0.8 2.5 0.8-4.1 0.8 1.6 0.8 8.6 0.8-5.4 0.8 7.4 0.8 0.5 0.8-5.6 0.8 5.6 0.8 2.2 0.8-0.2 0.8-6.8 0.8 0.7 0.8 7.5 0.8-0.3 0.8-7.6 0.8-4.7 0.8-1.1 0.8-1.3 0.8-7.9 0.8 10.3 0.8-8.3 0.8-7.7 0.8 13.9 0.8-8.5 0.8 9.1 0.8-1.2 0.8-12 0.8 3.2 0.8-15.4 0.8 16.1 0.8-0.1 0.8-15.7 0.8 8.3 0.8 7.7 0.8-3.3 0.8-3.6 0.8-9.6 0.8 14 0.8 3.2 0.8-16.1 0.8 15.6 0.8-4.1 0.8-4.7 0.8 7.8 0.8 1 0.8-9.9 0.8 15.5 0.8-10.9 0.8-3.4 0.8 1.4 0.8 9.3 0.8-10.6 0.8-7M792.2 601.4l0.8-5.2 0.8 9.9 0.8 1.8 0.8-8.3 0.8 4.6 0.8 8.8 0.8 1.1 0.8 2.3 0.8 2 0.8-0.9 0.8-0.3 0.8-0.2 0.8 4.8 0.8 1.3 0.8-18.2 0.8 22.5 0.8-3.9 0.8 1.4 0.8-4.7 0.8-3.9 0.8-2.8 0.8-10.5 0.8 3.8 0.8-7.8 0.8 0.8 0.8 0.6 0.8 1.5 0.8-1.7 0.8-1.2 0.8-2.9 0.8-1.7 0.8-5.9 0.8 8 0.8-2.8 0.8-8.9 0.8 6.5 0.8 2.1 0.8-5.7 0.8 0.5 0.8 4.1 0.8 0.3 0.8-1.3 0.8-7.7 0.8 7.1 0.8 0.6 0.8-2.2 0.8 4.2 0.8-8 0.8-9.2 0.8 7.4 0.8-2.4 0.8-0.6 0.8 5.3 0.8 0.1 0.8-1.3 0.8-9.1 0.8 3.2 0.8-1.8 0.8-1.3 0.8-7.8 0.8 6.5 0.8-2.1 0.8 3.9 0.8-1.6 0.8 3 0.8-0.3 0.8 3.2 0.8-3.2 0.8 2.3 0.8-3.4 0.8-0.4 0.8-0.7 0.8-3.5 0.8 3.5 0.8 2.3 0.8-3.3 0.8 6.1 0.8 1.2 0.8-0.3 0.8-0.8 0.8-9.7 0.8 9.1 0.8-0.5 0.8 0.2 0.8 1 0.8-0.6 0.8 2.4 0.8 0.7 0.8 1.2 0.8 0.3 0.8-1.8 0.8-2.1 0.8-0.4 0.8 0.8 0.8-4.8 0.8-0.8 0.8-2.1 0.8 4.4 0.8-7.8 0.8 0.6 0.8-1.7 0.8 8.5 0.8-2.5 0.8 4.6 0.8 2.5 0.8 1.3 0.8-1.3 0.8-0.7 0.8-6.8 0.8-2.9 0.8-1.5 0.8 4.6 0.8-4.2 0.8 10.8 0.8-4.8 0.8 5 0.8 0.2 0.8 0 0.8-2.9 0.8 4.2 0.8 0.8 0.8 1.8 0.8 1 0.8 3.5 0.8 1.9 0.8 3.1 0.8 4.3 0.8 2.7 0.8 1.6 0.8 2.4 0.8-2.8 0.8 7.6 0.8-1.5 0.8 1.5 0.8-3.9 0.8 3.6 0.8-7 0.8-0.5 0.8-0.6 0.8 0.4 0.8-1.2 0.8 13.1 0.8-1.2 0.8-3 0.8-5.9 0.8-1.3 0.8-1.5 0.8-3.1 0.8 12 0.8 0.9 0.8-13 0.8 6 0.8-7.6 0.8-4.4 0.8-12.7 0.8 10.6 0.8 3.2 0.8 0.4 0.8-13.4 0.8 10.9 0.8-1.8 0.8-0.3 0.8 6.5 0.8-3.4 0.8-3.2 0.8-11.9M960.2 580.8l0.8-3.9 0.8 3.8 0.8 6.4 0.8-12 0.8 6.4 0.8-2.8 0.8 16.8 0.8 2.7 0.8-4.2 0.8 3.6 0.8 10.9 0.8-5.8 0.8 5.4 0.8-1.8 0.8-6.7 0.8-8.9 0.8 4.3 0.8-1.7 0.8-2 0.8-12.8 0.8 11.3 0.8-11.9 0.8-2.3 0.8 10.2 0.8-4.5 0.8-9.8 0.8 13.2 0.8-12.7 0.8 3.6 0.8 4.3 0.8-6.7 0.8 1.1 0.8-6.6 0.8-0.4 0.8 3.5 0.8 9 0.8 0.3 0.8-0.7 0.8-1 0.8 3.6 0.8-3.1 0.8 4.2 0.8 3.8 0.8 2.5 0.8-2.3 0.8-3.9 0.8 3 0.8-0.3 0.8-4 0.8 1.1 0.8 3.9 0.8-1.3 0.8 1 0.8-9.2 0.8-1.1 0.8 0.3 0.8 5 0.8 6 0.8-2.9 0.8 2.3 0.8 0.3 0.8-0.4 0.8-13.8 0.8 9.6 0.8 2.6 0.8 1.2 0.8-4.5 0.8 7.3 0.8-9.1 0.8 12.5 0.8-11 0.8-5.6 0.8 11.8 0.8-4.3 0.8-3.8 0.8 0.3 0.8 6.5 0.8-4.4 0.8-0.4 0.8-0.5 0.8-8.7 0.8 11.2 0.8 1 0.8-4.7 0.8 10.3 0.8-12.2 0.8 8 0.8-16.5 0.8 18.4 0.8 5.1 0.8-19.1 0.8-13.5 0.8 27.4 0.8-9 0.8-4.4 0.8 15.5 0.8-2.2 0.8 4.5 0.8-13.8 0.8 15.7 0.8-1.3 0.8-4.6 0.8-13.2 0.8 2.4 0.8 6.8 0.8-19.2 0.8 13.4 0.8 3.9 0.8 2.2 0.8-11.6 0.8 11.1 0.8-20 0.8 19.1 0.8-14.3 0.8 14.9 0.8-3.9 0.8-29.9 0.8-1.2 0.8 6.3 0.8 14 0.8-15.7 0.8-11.1 0.8 19.3 0.8 9.5 0.8-7.3 0.8-3.8 0.8 6.7 0.8-4.1 0.8 1.4 0.8 3.1 0.8 2.8 0.8 1.8 0.8-2.6 0.8 6.3 0.8 3.7 0.8-7.5 0.8 6.9 0.8-13.8 0.8 16.9 0.8 1.2 0.8-17.4 0.8 20.3 0.8 4 0.8-17.7 0.8 16.2 0.8 1 0.8-11.8 0.8-1.5 0.8 11.5 0.8-17.6 0.8 3.2 0.8 6.7 0.8-9.5 0.8-1.4 0.8 7.3 0.8-2.7 0.8 2.5 0.8 1.8 0.8 11 0.8-5.2 0.8-1.9 0.8 6.8 0.8-5.4 0.8 2 0.8-1.2 0.8-14.5 0.8 11.2 0.8-0.4 0.8-12.5 0.8 12.5 0.8-5.2 0.8-7.6 0.8-16.3 0.8-5.9 0.8 18 0.8-6.4 0.8-10 0.8 10.9 0.8-6.6 0.8 12.7 0.8-10.2 0.8-5.4 0.8 12 0.8-1.9 0.8-2.6 0.8-6.9 0.8-4.3 0.8-0.1 0.8 3.2 0.8-5.7 0.8 1.3 0.8 9.2 0.8-0.5 0.8-5.7 0.8 5.6 0.8-0.4 0.8 0.3 0.8 1.6 0.8-2.3 0.8-2.5 0.8 3.8 0.8-0.7 0.8 1.2 0.8-6.8 0.8 3.6 0.8-0.8 0.8-6.4 0.8 5.6 0.8-6.1 0.8 5.7 0.8 7.2 0.8 2.1 0.8-3.5 0.8 2.5" fill="none" stroke="#00cc2e" stroke-width="1.4" stroke-linejoin="round"/>
<path d="M227 600.5l0.8 21.5 0.4 0 0.8-21.5M226.4 600.5l1.8 20.6 0.4 0 1.8-20.6M224.8 600.5l2.6 19.4 0.4 0 2.6-19.4M234 602.8l0.8 19.2 0.4 0 0.8-19.2M233.4 602.8l1.8 18.4 0.4 0 1.8-18.4M231.8 602.8l2.6 17.3 0.4 0 2.6-17.3M284 589.9l0.8 24.1 0.4 0 0.8-24.1M283.4 589.9l1.8 23.1 0.4 0 1.8-23.1M281.8 589.9l2.6 21.7 0.4 0 2.6-21.7M301 587.1l0.8 15.9 0.4 0 0.8-15.9M300.4 587.1l1.8 15.3 0.4 0 1.8-15.3M298.8 587.1l2.6 14.3 0.4 0 2.6-14.3M441.2 601.1l0.6 9.9 0.4 0 0.6-9.9M440.7 601.1l1.4 9.5 0.5 0 1.3-9.5M439.5 601.1l1.9 8.9 0.5 0 2-8.9M452 592.5l0.8 16.5 0.4 0 0.8-16.5M451.4 592.5l1.8 15.8 0.4 0 1.8-15.8M449.8 592.5l2.6 14.8 0.4 0 2.6-14.8M474.2 582.5l0.6 7.5 0.4 0 0.6-7.5M474 582.5l1 7.2 0.5 0 1.1-7.2M472.9 582.5l1.6 6.8 0.5 0 1.6-6.8M485 575.5l0.8 13.5 0.4 0 0.8-13.5M484.4 575.5l1.8 13 0.4 0 1.8-13M482.8 575.5l2.6 12.1 0.4 0 2.6-12.1M526 557.1l0.8 49.9 0.4 0 0.8-49.9M525.4 557.1l1.8 47.9 0.4 0 1.8-47.9M523.8 557.1l2.6 44.9 0.4 0 2.6-44.9M549 532.7l0.8 83.3 0.4 0 0.8-83.3M548.4 532.7l1.8 80 0.4 0 1.8-80M546.8 532.7l2.6 75 0.4 0 2.6-75M687 591.3l0.8 22.7 0.4 0 0.8-22.7M686.4 591.3l1.8 21.8 0.4 0 1.8-21.8M684.8 591.3l2.6 20.4 0.4 0 2.6-20.4M704 592.1l0.8 14.9 0.4 0 0.8-14.9M703.4 592.1l1.8 14.3 0.4 0 1.8-14.3M701.8 592.1l2.6 13.4 0.4 0 2.6-13.4M723 558.8l0.8-23.8 0.4 0 0.8 23.8M722.4 558.8l1.8-22.8 0.4 0 1.8 22.8M720.8 558.8l2.6-21.4 0.4 0 2.6 21.4M733 553.2l0.8-30.2 0.4 0 0.8 30.2M732.4 553.2l1.8-29 0.4 0 1.8 29M730.8 553.2l2.6-27.2 0.4 0 2.6 27.2M750 540.8l0.8-34.8 0.4 0 0.8 34.8M749.4 540.8l1.8-33.4 0.4 0 1.8 33.4M747.8 540.8l2.6-31.3 0.4 0 2.6 31.3M1054 539.8l0.8-27.8 0.4 0 0.8 27.8M1053.4 539.8l1.8-26.7 0.4 0 1.8 26.7M1051.8 539.8l2.6-25 0.4 0 2.6 25M712 567.9l0.8-65.9 0.4 0 0.8 65.9M711.4 567.9l1.8-63.3 0.4 0 1.8 63.3M709.8 567.9l2.6-59.3 0.4 0 2.6 59.3M779 587.8l0.8 29.2 0.4 0 0.8-29.2M778.4 587.8l1.8 28 0.4 0 1.8-28M776.8 587.8l2.6 26.3 0.4 0 2.6-26.3M855.2 603.3l0.6 10.7 0.4 0 0.6-10.7M854.7 603.3l1.4 10.3 0.5 0 1.4-10.3M853.3 603.3l2.1 9.6 0.5 0 2.1-9.6M827.1 594.2l0.7 10.8 0.4 0 0.7-10.8M826.6 594.2l1.5 10.4 0.5 0 1.4-10.4M825.3 594.2l2.1 9.7 0.5 0 2.1-9.7M910.2 616l0.6 10 0.4 0 0.6-10M909.7 616l1.4 9.6 0.5 0 1.3-9.6M908.4 616l2 9 0.5 0 2-9M930 597.5l0.8 52.5 0.4 0 0.8-52.5M929.4 597.5l1.8 50.4 0.4 0 1.8-50.4M927.8 597.5l2.6 47.3 0.4 0 2.6-47.3M967 615.3l0.8 24.7 0.4 0 0.8-24.7M966.4 615.3l1.8 23.7 0.4 0 1.8-23.7M964.8 615.3l2.6 22.2 0.4 0 2.6-22.2M1023 574.4l0.8 52.6 0.4 0 0.8-52.6M1022.4 574.4l1.8 50.5 0.4 0 1.8-50.5M1020.8 574.4l2.6 47.3 0.4 0 2.6-47.3M1042 574.3l0.8 35.7 0.4 0 0.8-35.7M1041.4 574.3l1.8 34.3 0.4 0 1.8-34.3M1039.8 574.3l2.6 32.1 0.4 0 2.6-32.1M1051 557.6l0.8 57.4 0.4 0 0.8-57.4M1050.4 557.6l1.8 55.1 0.4 0 1.8-55.1M1048.8 557.6l2.6 51.7 0.4 0 2.6-51.7M1068 580.3l0.8 60.7 0.4 0 0.8-60.7M1067.4 580.3l1.8 58.3 0.4 0 1.8-58.3M1065.8 580.3l2.6 54.6 0.4 0 2.6-54.6M1074 580.8l0.8 41.2 0.4 0 0.8-41.2M1073.4 580.8l1.8 39.6 0.4 0 1.8-39.6M1071.8 580.8l2.6 37.1 0.4 0 2.6-37.1M1087 581.8l0.8 34.2 0.4 0 0.8-34.2M1086.4 581.8l1.8 32.8 0.4 0 1.8-32.8M1084.8 581.8l2.6 30.8 0.4 0 2.6-30.8M494.2 559.1l0.6-10.1 0.4 0 0.6 10.1M493.7 559.1l1.4-9.7 0.5 0 1.3 9.7M492.4 559.1l2-9.1 0.5 0 2 9.1M487 564l0.8-15 0.4 0 0.8 15M486.4 564l1.8-14.4 0.4 0 1.8 14.4M484.8 564l2.6-13.5 0.4 0 2.6 13.5M807 613.9l0.8 26.1 0.4 0 0.8-26.1M806.4 613.9l1.8 25.1 0.4 0 1.8-25.1M804.8 613.9l2.6 23.5 0.4 0 2.6-23.5M583.9 580.2l4.2 18.2 4.1 14.3 3.8 5.6 3 8.3 2.1 23.5M585.5 580.3l3.8 17.3 3.7 14.1 3.8 6.1 3.3 8.1 1.8 23.3M586.2 581l4 17.3 3.5 12.9 4.5 6.3 3.3 8.4 1.5 23.6M581.4 575.5l4.6 12.4 5.3 6.6 4.9 5.8 2.6 11.7 1.2 10.4 1.2 17.7 0.6 15.5 1.9 24.7 1.5 19.6 1 14.5 0.8 6.6 2.9 4 1.8-9.9 1.4-14.6 0.8-20.2 1.1-23.6 0.2-16.1 0.8-18 0.9-12.6 2.1-11.6 2.6-8.8 3-9.8M582.2 575.6l4.8 11.8 5 6.4 4.9 5.7 2.6 12.2 0.8 12.5 1.6 16.1 1.2 16 1.2 23.7 1.9 19.9 1.4 14.6 0.5 7.5 3 2 1.4-8.5 1.8-15.6 0.7-20.3 1.2-24.3 0.2-15.7 0.4-16.6 1.3-14.3 2.1-10.5 2.8-8.3 3.2-10.2M583.2 575l5.2 12.3 4.3 8.1 5.4 3.6 3.1 12.4 0.3 11.1 1.5 17.4 1.3 16.8 1.6 23 0.8 19.7 1 16.2 1.3 7.1 2.3 1 3.1-10.4 0.6-13.2 0.5-19.9 1.5-24.5 0.6-15.5 0.4-16.9 1.2-13 1.7-12.1 3.4-8 2.9-10.6M620.8 597.1l2.6 18.1 1.4 6.4 0.8-17.3M621.4 598.5l2.6 16.6 1.8 6 1.2-16.1M622.8 597.8l2.4 16.5 1.8 6.6 1.1-16.8" fill="none" stroke="#0000ff" stroke-width="1.4" stroke-linejoin="round"/>
<path d="M458.1 588.3l0.7 11.7 0.4 0 0.7-11.7M457.6 588.3l1.5 11.2 0.5 0 1.6-11.2M456.1 588.3l2.3 10.5 0.5 0 2.3-10.5M374 580.8l0.8 22.2 0.4 0 0.8-22.2M373.4 580.8l1.8 21.3 0.4 0 1.8-21.3M371.8 580.8l2.6 20 0.4 0 2.6-20M317 581.5l0.8 13.5 0.4 0 0.8-13.5M316.4 581.5l1.8 13 0.4 0 1.8-13M314.8 581.5l2.6 12.2 0.4 0 2.6-12.2M795.1 607.1l0.7 10.9 0.4 0 0.7-10.9M794.6 607.1l1.5 10.5 0.5 0 1.4-10.5M793.3 607.1l2.1 9.8 0.5 0 2.1-9.8M808 612.8l0.8 35.2 0.4 0 0.8-35.2M807.4 612.8l1.8 33.8 0.4 0 1.8-33.8M805.8 612.8l2.6 31.7 0.4 0 2.6-31.7M944 594.6l0.8 20.4 0.4 0 0.8-20.4M943.4 594.6l1.8 19.6 0.4 0 1.8-19.6M941.8 594.6l2.6 18.4 0.4 0 2.6-18.4M931 575.1l0.8 46.9 0.4 0 0.8-46.9M930.4 575.1l1.8 45 0.4 0 1.8-45M928.8 575.1l2.6 42.2 0.4 0 2.6-42.2M1025 582.5l0.8 62.5 0.4 0 0.8-62.5M1024.4 582.5l1.8 60 0.4 0 1.8-60M1022.8 582.5l2.6 56.3 0.4 0 2.6-56.3M1029 580.8l0.8 24.2 0.4 0 0.8-24.2M1028.4 580.8l1.8 23.2 0.4 0 1.8-23.2M1026.8 580.8l2.6 21.8 0.4 0 2.6-21.8M1044 579.6l0.8 39.4 0.4 0 0.8-39.4M1043.4 579.6l1.8 37.8 0.4 0 1.8-37.8M1041.8 579.6l2.6 35.5 0.4 0 2.6-35.5M1081 581.8l0.8 32.2 0.4 0 0.8-32.2M1080.4 581.8l1.8 30.9 0.4 0 1.8-30.9M1078.8 581.8l2.6 29 0.4 0 2.6-29M1087 581.8l0.8 34.2 0.4 0 0.8-34.2M1086.4 581.8l1.8 32.8 0.4 0 1.8-32.8M1084.8 581.8l2.6 30.8 0.4 0 2.6-30.8M517.1 545.5l0.7-12.5 0.4 0 0.7 12.5M516.5 545.5l1.6-12 0.5 0 1.7 12M515 545.5l2.4-11.3 0.5 0 2.4 11.3M936.2 561.3l0.6-10.3 0.4 0 0.6 10.3M935.7 561.3l1.4-9.9 0.5 0 1.4 9.9M934.4 561.3l2-9.3 0.5 0 2.1 9.3M559 564l0.8 36 0.4 0 0.8-36M558.4 564l1.8 34.6 0.4 0 1.8-34.6M556.8 564l2.6 32.4 0.4 0 2.6-32.4M1052.2 571.3l0.6 6.7 0.4 0 0.6-6.7M1052 571.3l1 6.4 0.5 0 0.9-6.4M1051.1 571.3l1.4 6 0.5 0 1.4-6M585 575.4l6.2 12.8 5.7 6 3.2 11 2 20.4 2.3 24.6 0.9 30.5 0.7 24.7 1.2 19.5 1.9 4.8 1.8 3.7 2.1-5.4 1.8-23.5 1.1-24.8 1.3-29.2 0.8-25.9 0.9-19.3 1.9-19.5 3.2-17.9M586 573.9l6.2 14 5.5 6.5 3.4 10.2 2 20.5 2.1 25.5 0.5 28.3 1.4 26.7 0.8 19.9 2 6 2.2 1.5 2.6-3.6 1-24.9 1.5-24.5 1.2-29.9 0.8-25.6 0.8-19.7 2.2-19 2.5-17.4M587 575.7l6.1 12.5 5.6 7.6 3.3 8.5 1.9 20.9 1.7 24.9 1.3 30.6 0.9 23.4 1.2 20.9 1.7 5.8 2.3 2.4 1.9-5.4 1.1-22.9 2-24.7 1.1-31.1 1.1-24.3 0.6-20.1 2.8-20.4 2.6-15.5" fill="none" stroke="#ff0000" stroke-width="1.4" stroke-linejoin="round"/>
<path d="M320 575.7l0.8 53.3 0.4 0 0.8-53.3M319.4 575.7l1.8 51.2 0.4 0 1.8-51.2M317.8 575.7l2.6 48 0.4 0 2.6-48M386 573.4l0.8 59.6 0.4 0 0.8-59.6M385.4 573.4l1.8 57.2 0.4 0 1.8-57.2M383.8 573.4l2.6 53.6 0.4 0 2.6-53.6M372 576.5l0.8 13.5 0.4 0 0.8-13.5M371.4 576.5l1.8 13 0.4 0 1.8-13M369.8 576.5l2.6 12.1 0.4 0 2.6-12.1M555 546.8l0.8 58.2 0.4 0 0.8-58.2M554.4 546.8l1.8 55.9 0.4 0 1.8-55.9M552.8 546.8l2.6 52.4 0.4 0 2.6-52.4M642 557l0.8 27 0.4 0 0.8-27M641.4 557l1.8 25.9 0.4 0 1.8-25.9M639.8 557l2.6 24.3 0.4 0 2.6-24.3M666 567.4l0.8 12.6 0.4 0 0.8-12.6M665.5 567.4l1.6 12.1 0.5 0 1.7-12.1M663.9 567.4l2.5 11.3 0.5 0 2.4-11.3M800 615.8l0.8 34.2 0.4 0 0.8-34.2M799.4 615.8l1.8 32.8 0.4 0 1.8-32.8M797.8 615.8l2.6 30.8 0.4 0 2.6-30.8M808 605l0.8 35 0.4 0 0.8-35M807.4 605l1.8 33.6 0.4 0 1.8-33.6M805.8 605l2.6 31.5 0.4 0 2.6-31.5M903 608.1l0.8 18.9 0.4 0 0.8-18.9M902.4 608.1l1.8 18.1 0.4 0 1.8-18.1M900.8 608.1l2.6 17 0.4 0 2.6-17M969 602.6l0.8 37.4 0.4 0 0.8-37.4M968.4 602.6l1.8 35.9 0.4 0 1.8-35.9M966.8 602.6l2.6 33.7 0.4 0 2.6-33.7M1025 581l0.8 64 0.4 0 0.8-64M1024.4 581l1.8 61.4 0.4 0 1.8-61.4M1022.8 581l2.6 57.6 0.4 0 2.6-57.6M1044 578.3l0.8 40.7 0.4 0 0.8-40.7M1043.4 578.3l1.8 39.1 0.4 0 1.8-39.1M1041.8 578.3l2.6 36.6 0.4 0 2.6-36.6M1074 578.4l0.8 26.6 0.4 0 0.8-26.6M1073.4 578.4l1.8 25.5 0.4 0 1.8-25.5M1071.8 578.4l2.6 23.9 0.4 0 2.6-23.9M1081 580.3l0.8 33.7 0.4 0 0.8-33.7M1080.4 580.3l1.8 32.4 0.4 0 1.8-32.4M1078.8 580.3l2.6 30.3 0.4 0 2.6-30.3M518 526.8l0.8-56.8 0.4 0 0.8 56.8M517.4 526.8l1.8-54.5 0.4 0 1.8 54.5M515.8 526.8l2.6-51.1 0.4 0 2.6 51.1M570 532.1l0.8-33.1 0.4 0 0.8 33.1M569.4 532.1l1.8-31.8 0.4 0 1.8 31.8M567.8 532.1l2.6-29.8 0.4 0 2.6 29.8M742 545.3l0.8-33.3 0.4 0 0.8 33.3M741.4 545.3l1.8-32 0.4 0 1.8 32M739.8 545.3l2.6-30 0.4 0 2.6 30M939 545.2l0.8-40.2 0.4 0 0.8 40.2M938.4 545.2l1.8-38.6 0.4 0 1.8 38.6M936.8 545.2l2.6-36.2 0.4 0 2.6 36.2M802 606.2l0.8-57.2 0.4 0 0.8 57.2M801.4 606.2l1.8-54.9 0.4 0 1.8 54.9M799.8 606.2l2.6-51.5 0.4 0 2.6 51.5M1011.1 566l0.7-11 0.4 0 0.7 11M1010.6 566l1.5-10.6 0.5 0 1.5 10.6M1009.3 566l2.1-9.9 0.5 0 2.2 9.9M947 560.4l0.8-30.4 0.4 0 0.8 30.4M946.4 560.4l1.8-29.2 0.4 0 1.8 29.2M944.8 560.4l2.6-27.4 0.4 0 2.6 27.4M556 536.5l0.8-28.5 0.4 0 0.8 28.5M555.4 536.5l1.8-27.4 0.4 0 1.8 27.4M553.8 536.5l2.6-25.7 0.4 0 2.6 25.7M587 564.6l6 13 6.3 13.5 4 14.3 1.6 20.5 1.4 23.5 1.6 29.9 1.1 26.1 1 16.9 2 0.2 1.1-17 0.4-25.6 0.6-29.3 0.1-25.4 0.6-25.4 2.4-15.4 1.7-12.8 3.4-10.4M588.1 565.2l5.1 12.8 7.1 12.8 3.8 14 2.4 20.4 1 24.8 1.8 29.6 0.2 25.9 1.9 16.9 1.7-0.6 0.9-17.7 0.8-25-0.2-29.3 0.7-23.9 0.5-25.7 2.6-16.4 1.9-11.3 2.7-12.5M588.9 565.4l6 12.2 5.7 14.1 4.1 13.2 2.4 21 1.6 24.3 1.2 29.6 1.2 25.4 1.1 17 1.9 0.2 0.8-17.5 1-24.1-0.2-31.2 0.5-24.8 1.1-24.7 1.8-16 1.8-12 2.8-11.9" fill="none" stroke="#00cc2e" stroke-width="1.4" stroke-linejoin="round"/>
<line x1="139.2" y1="486.5" x2="1215.4" y2="486.5" stroke="#a0a0a0" stroke-width="1.1" stroke-dasharray="4.3 3.25" stroke-dashoffset="2.6"/>
<line x1="139.2" y1="521.0" x2="1215.4" y2="521.0" stroke="#a0a0a0" stroke-width="1.1" stroke-dasharray="4.3 3.25" stroke-dashoffset="2.6"/>
<line x1="139.2" y1="554.6" x2="1215.4" y2="554.6" stroke="#a0a0a0" stroke-width="1.1" stroke-dasharray="4.3 3.25" stroke-dashoffset="2.6"/>
<line x1="139.2" y1="588.9" x2="1215.4" y2="588.9" stroke="#a0a0a0" stroke-width="1.1" stroke-dasharray="4.3 3.25" stroke-dashoffset="2.6"/>
<line x1="139.2" y1="623.0" x2="1215.4" y2="623.0" stroke="#a0a0a0" stroke-width="1.1" stroke-dasharray="4.3 3.25" stroke-dashoffset="2.6"/>
<line x1="139.2" y1="656.6" x2="1215.4" y2="656.6" stroke="#a0a0a0" stroke-width="1.1" stroke-dasharray="4.3 3.25" stroke-dashoffset="2.6"/>
<path d="M138.2 436.1H1216.4V738.0H138.2" fill="none" stroke="#333" stroke-width="1.6" stroke-linejoin="round"/>
<line x1="138.2" y1="435.3" x2="138.2" y2="738.8" stroke="#666" stroke-width="1.8"/>
<line x1="201.4" y1="738.0" x2="201.4" y2="749.5" stroke="#3a3a3a" stroke-width="1.3"/>
<line x1="264.8" y1="738.0" x2="264.8" y2="746.0" stroke="#3a3a3a" stroke-width="1.3"/>
<line x1="328.3" y1="738.0" x2="328.3" y2="746.0" stroke="#3a3a3a" stroke-width="1.3"/>
<line x1="391.7" y1="738.0" x2="391.7" y2="746.0" stroke="#3a3a3a" stroke-width="1.3"/>
<line x1="455.1" y1="738.0" x2="455.1" y2="746.0" stroke="#3a3a3a" stroke-width="1.3"/>
<line x1="518.5" y1="738.0" x2="518.5" y2="746.0" stroke="#3a3a3a" stroke-width="1.3"/>
<line x1="582.0" y1="738.0" x2="582.0" y2="746.0" stroke="#3a3a3a" stroke-width="1.3"/>
<line x1="645.4" y1="738.0" x2="645.4" y2="746.0" stroke="#3a3a3a" stroke-width="1.3"/>
<line x1="708.8" y1="738.0" x2="708.8" y2="746.0" stroke="#3a3a3a" stroke-width="1.3"/>
<line x1="772.2" y1="738.0" x2="772.2" y2="746.0" stroke="#3a3a3a" stroke-width="1.3"/>
<line x1="835.7" y1="738.0" x2="835.7" y2="746.0" stroke="#3a3a3a" stroke-width="1.3"/>
<line x1="899.1" y1="738.0" x2="899.1" y2="746.0" stroke="#3a3a3a" stroke-width="1.3"/>
<line x1="962.5" y1="738.0" x2="962.5" y2="746.0" stroke="#3a3a3a" stroke-width="1.3"/>
<line x1="1025.9" y1="738.0" x2="1025.9" y2="746.0" stroke="#3a3a3a" stroke-width="1.3"/>
<line x1="1089.4" y1="738.0" x2="1089.4" y2="746.0" stroke="#3a3a3a" stroke-width="1.3"/>
<line x1="1152.8" y1="738.0" x2="1152.8" y2="746.0" stroke="#3a3a3a" stroke-width="1.3"/>
<line x1="1216.4" y1="452.1" x2="1224.4" y2="452.1" stroke="#3a3a3a" stroke-width="1.3"/>
<line x1="1216.4" y1="469.2" x2="1224.4" y2="469.2" stroke="#3a3a3a" stroke-width="1.3"/>
<line x1="1216.4" y1="486.2" x2="1229.4" y2="486.2" stroke="#3a3a3a" stroke-width="1.3"/>
<line x1="1216.4" y1="503.2" x2="1224.4" y2="503.2" stroke="#3a3a3a" stroke-width="1.3"/>
<line x1="1216.4" y1="520.3" x2="1224.4" y2="520.3" stroke="#3a3a3a" stroke-width="1.3"/>
<line x1="1216.4" y1="537.3" x2="1224.4" y2="537.3" stroke="#3a3a3a" stroke-width="1.3"/>
<line x1="1216.4" y1="554.4" x2="1224.4" y2="554.4" stroke="#3a3a3a" stroke-width="1.3"/>
<line x1="1216.4" y1="571.4" x2="1229.4" y2="571.4" stroke="#3a3a3a" stroke-width="1.3"/>
<line x1="1216.4" y1="588.4" x2="1224.4" y2="588.4" stroke="#3a3a3a" stroke-width="1.3"/>
<line x1="1216.4" y1="605.5" x2="1224.4" y2="605.5" stroke="#3a3a3a" stroke-width="1.3"/>
<line x1="1216.4" y1="622.5" x2="1224.4" y2="622.5" stroke="#3a3a3a" stroke-width="1.3"/>
<line x1="1216.4" y1="639.6" x2="1224.4" y2="639.6" stroke="#3a3a3a" stroke-width="1.3"/>
<line x1="1216.4" y1="656.6" x2="1229.4" y2="656.6" stroke="#3a3a3a" stroke-width="1.3"/>
<line x1="1216.4" y1="673.6" x2="1224.4" y2="673.6" stroke="#3a3a3a" stroke-width="1.3"/>
<line x1="1216.4" y1="690.7" x2="1224.4" y2="690.7" stroke="#3a3a3a" stroke-width="1.3"/>
<line x1="1216.4" y1="707.7" x2="1224.4" y2="707.7" stroke="#3a3a3a" stroke-width="1.3"/>
<line x1="1216.4" y1="724.8" x2="1224.4" y2="724.8" stroke="#3a3a3a" stroke-width="1.3"/>
<text x="201.4" y="771.4" font-family="Liberation Sans, sans-serif" font-weight="bold" font-size="21.5" text-anchor="middle">8</text>
<text x="328.3" y="771.4" font-family="Liberation Sans, sans-serif" font-weight="bold" font-size="21.5" text-anchor="middle">7</text>
<text x="455.1" y="771.4" font-family="Liberation Sans, sans-serif" font-weight="bold" font-size="21.5" text-anchor="middle">6</text>
<text x="582.0" y="771.4" font-family="Liberation Sans, sans-serif" font-weight="bold" font-size="21.5" text-anchor="middle">5</text>
<text x="708.8" y="771.4" font-family="Liberation Sans, sans-serif" font-weight="bold" font-size="21.5" text-anchor="middle">4</text>
<text x="835.7" y="771.4" font-family="Liberation Sans, sans-serif" font-weight="bold" font-size="21.5" text-anchor="middle">3</text>
<text x="962.5" y="771.4" font-family="Liberation Sans, sans-serif" font-weight="bold" font-size="21.5" text-anchor="middle">2</text>
<text x="1089.4" y="771.4" font-family="Liberation Sans, sans-serif" font-weight="bold" font-size="21.5" text-anchor="middle">1</text>
<text x="1135.6" y="771.4" font-family="Liberation Sans, sans-serif" font-weight="bold" font-size="21.5"><tspan font-size="14" dy="-8.5">1</tspan><tspan dy="8.5">H / ppm</tspan></text>
<text x="130.5" y="494.1" font-family="Liberation Sans, sans-serif" font-weight="bold" font-size="18.2" text-anchor="end">54880</text>
<text x="130.5" y="528.6" font-family="Liberation Sans, sans-serif" font-weight="bold" font-size="18.2" text-anchor="end">14772</text>
<text x="130.5" y="562.2" font-family="Liberation Sans, sans-serif" font-weight="bold" font-size="18.2" text-anchor="end">4205</text>
<text x="130.5" y="596.5" font-family="Liberation Sans, sans-serif" font-weight="bold" font-size="18.2" text-anchor="end">1254</text>
<text x="130.5" y="630.6" font-family="Liberation Sans, sans-serif" font-weight="bold" font-size="18.2" text-anchor="end">406</text>
<text x="130.5" y="664.2" font-family="Liberation Sans, sans-serif" font-weight="bold" font-size="18.2" text-anchor="end">144</text>
<text x="1235.3" y="457.1" font-family="Liberation Sans, sans-serif" font-weight="bold" font-size="18.6">-10.2</text>
<text x="1235.3" y="491.2" font-family="Liberation Sans, sans-serif" font-weight="bold" font-size="18.6">-10.0</text>
<text x="1235.3" y="525.3" font-family="Liberation Sans, sans-serif" font-weight="bold" font-size="18.6">-9.8</text>
<text x="1235.3" y="559.4" font-family="Liberation Sans, sans-serif" font-weight="bold" font-size="18.6">-9.6</text>
<text x="1235.3" y="593.5" font-family="Liberation Sans, sans-serif" font-weight="bold" font-size="18.6">-9.4</text>
<text x="1235.3" y="627.6" font-family="Liberation Sans, sans-serif" font-weight="bold" font-size="18.6">-9.2</text>
<text x="1235.3" y="661.7" font-family="Liberation Sans, sans-serif" font-weight="bold" font-size="18.6">-9.0</text>
<text x="1235.3" y="695.8" font-family="Liberation Sans, sans-serif" font-weight="bold" font-size="18.6">-8.8</text>
<text x="1235.3" y="729.9" font-family="Liberation Sans, sans-serif" font-weight="bold" font-size="18.6">-8.6</text>
<text x="43" y="449.5" font-family="Liberation Sans, sans-serif" font-weight="bold" font-size="17.8">M<tspan font-size="12.5" dx="0.8" dy="4">w</tspan><tspan dx="-1.4" dy="-4"> (g/mol)</tspan></text>
<text x="1235.7" y="413.1" font-family="Liberation Sans, sans-serif" font-weight="bold" font-size="17.8">Log D (m<tspan font-size="12" dx="0.8" dy="-5.2">2</tspan><tspan dx="0.3" dy="5.2">s</tspan><tspan font-size="12" dx="0.3" dy="-5.2">-1</tspan><tspan dx="-0.1" dy="5.2">)</tspan></text>
<text x="-0.5" y="442.3" font-family="Liberation Sans, sans-serif" font-size="28.5">b)</text>
<text x="152.3" y="464.6" font-family="Liberation Sans, sans-serif" font-weight="bold" font-size="21.3" fill="#0000ff">Unburied</text>
<text x="152.3" y="490.2" font-family="Liberation Sans, sans-serif" font-weight="bold" font-size="21.3" fill="#00cc2e">Grassland</text>
<text x="152.3" y="515.9" font-family="Liberation Sans, sans-serif" font-weight="bold" font-size="21.3" fill="#ff4444">Woodland</text>
<rect x="548.0" y="479.8" width="40.39999999999998" height="3.3000000000000114" fill="#000"/>
<rect x="682.3" y="479.5" width="40.200000000000045" height="3.3999999999999773" fill="#000"/>
<rect x="1033.4" y="480.1" width="40.09999999999991" height="2.8999999999999773" fill="#000"/>
<rect x="209.45" y="652.95" width="277.00000000000006" height="3.0999999999999543" fill="none" stroke="#6a1f9c" stroke-width="1.7"/>
<rect x="843.95" y="651.25" width="39.99999999999993" height="3.199999999999977" fill="none" stroke="#6a1f9c" stroke-width="1.7"/>
<text x="927.4" y="500.9" font-family="Liberation Sans, sans-serif" font-weight="bold" font-size="21.5">??</text>
<text x="537.2" y="490.5" font-family="Liberation Sans, sans-serif" font-weight="bold" font-size="29" fill="#1ab0ee" text-anchor="middle">*</text>
<text x="724.6" y="509.8" font-family="Liberation Sans, sans-serif" font-weight="bold" font-size="29" fill="#1ab0ee" text-anchor="middle">*</text>
<text x="745.9" y="509.8" font-family="Liberation Sans, sans-serif" font-weight="bold" font-size="29" fill="#1ab0ee" text-anchor="middle">*</text>
<text x="767.1" y="509.8" font-family="Liberation Sans, sans-serif" font-weight="bold" font-size="29" fill="#1ab0ee" text-anchor="middle">*</text>
<text x="805.5" y="680.3" font-family="Liberation Sans, sans-serif" font-weight="bold" font-size="29" fill="#cc8400" text-anchor="middle">**</text>
<line x1="719.5" y1="626.6" x2="759" y2="626.6" stroke="#000" stroke-width="2.2" stroke-dasharray="2.2 3.1"/>
</svg></body></html>
